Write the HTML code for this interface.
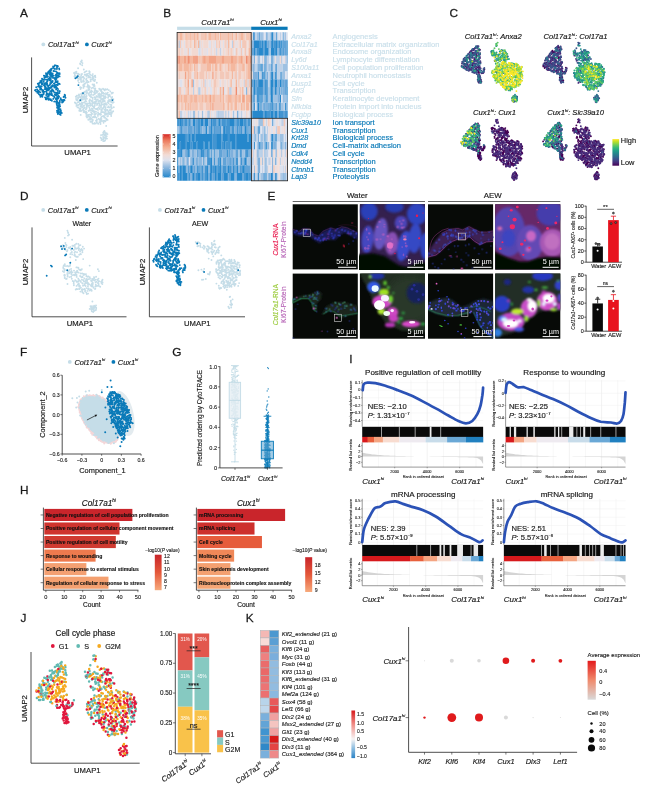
<!DOCTYPE html>
<html lang="en"><head><meta charset="utf-8"><title>Figure</title>
<style>
html,body{margin:0;padding:0;background:#fff;}
svg{display:block;font-family:"Liberation Sans", sans-serif;}
</style></head>
<body>
<svg width="655" height="787" viewBox="0 0 655 787">
<rect width="655" height="787" fill="#fff"/>
<g id="panelA">
<text x="20" y="17.2" font-size="11.8" text-anchor="start" fill="#1a1a1a" stroke="#1a1a1a" stroke-width="0.26" >A</text>
<circle cx="43.3" cy="44.4" r="1.9" fill="#c5dde8" /><text x="47.9" y="47" font-size="7.4" text-anchor="start" fill="#1a1a1a" stroke="#1a1a1a" stroke-width="0.16" font-style="italic" >Col17a1<tspan font-size="55%" dy="-0.82em">hi</tspan></text><circle cx="86.9" cy="44.4" r="1.9" fill="#0a7ab8" /><text x="91.3" y="47" font-size="7.4" text-anchor="start" fill="#1a1a1a" stroke="#1a1a1a" stroke-width="0.16" font-style="italic" >Cux1<tspan font-size="55%" dy="-0.82em">hi</tspan></text>
<path d="M81.8 60.5h0M81.0 61.5h0M80.1 63.4h0M81.7 62.1h0M82.5 63.1h0M80.4 64.3h0M82.2 65.2h0M75.9 71.9h0M76.4 71.8h0M85.5 71.6h0M86.6 71.1h0M89.2 71.2h0M74.0 73.0h0M75.3 72.3h0M78.2 73.6h0M84.5 72.4h0M89.0 73.5h0M89.8 72.0h0M74.8 73.9h0M76.5 73.3h0M78.9 74.2h0M81.3 74.1h0M82.0 74.0h0M84.7 74.7h0M86.1 74.7h0M87.2 74.0h0M90.7 74.9h0M92.8 74.1h0M74.8 75.1h0M75.5 75.7h0M78.1 74.6h0M79.2 74.6h0M81.2 75.5h0M85.7 74.7h0M88.1 75.7h0M89.0 76.1h0M90.3 74.5h0M92.3 75.6h0M95.2 75.8h0M74.5 76.5h0M76.0 76.7h0M77.6 75.8h0M80.0 76.9h0M82.4 77.2h0M83.3 76.6h0M86.4 76.1h0M86.5 75.7h0M89.4 77.3h0M93.0 77.0h0M94.3 76.2h0M76.7 77.9h0M79.5 77.5h0M80.9 78.5h0M81.6 77.6h0M84.1 78.2h0M84.0 78.1h0M88.3 77.4h0M89.8 77.2h0M90.4 77.3h0M92.2 78.1h0M92.8 77.1h0M95.4 77.3h0M78.2 78.8h0M80.1 79.5h0M80.8 78.5h0M83.5 79.9h0M86.4 78.5h0M90.6 79.5h0M91.0 79.7h0M92.6 79.1h0M93.5 78.4h0M95.1 79.8h0M80.4 79.8h0M81.1 80.0h0M83.2 80.4h0M86.1 79.7h0M87.3 80.7h0M90.9 80.0h0M93.4 80.5h0M94.7 81.0h0M83.1 81.8h0M83.9 81.4h0M86.3 82.1h0M88.6 82.0h0M90.7 81.2h0M85.1 83.4h0M87.1 82.8h0M88.5 82.1h0M84.8 83.7h0M87.8 84.9h0M92.6 84.5h0M94.1 84.4h0M88.6 85.8h0M93.8 85.9h0M94.6 86.0h0M88.2 86.3h0M89.6 86.8h0M88.5 88.6h0M88.7 87.6h0M89.8 87.5h0M91.7 88.1h0M92.9 87.6h0M78.1 80.7h0M81.1 81.7h0M81.3 82.0h0M78.9 82.6h0M83.5 84.8h0M83.9 84.7h0M83.2 85.2h0M83.7 84.8h0M84.6 86.4h0M80.2 87.3h0M81.2 87.8h0M83.5 86.7h0M87.2 86.8h0M80.5 89.0h0M83.4 87.9h0M86.4 90.5h0M82.1 93.3h0M81.9 93.6h0M99.2 88.7h0M103.0 88.6h0M89.4 89.7h0M94.3 88.5h0M95.3 88.5h0M99.7 89.6h0M100.9 89.3h0M103.2 89.3h0M105.4 89.2h0M106.7 89.6h0M107.3 89.2h0M88.2 90.0h0M91.4 90.4h0M94.5 91.3h0M95.1 90.3h0M96.4 91.2h0M97.8 91.3h0M101.2 89.8h0M101.4 91.1h0M104.5 89.7h0M104.7 90.4h0M108.8 90.1h0M85.0 91.7h0M86.4 91.7h0M90.8 91.4h0M92.1 91.4h0M96.1 90.8h0M97.8 91.2h0M100.7 90.7h0M103.0 92.6h0M110.3 91.4h0M82.9 93.9h0M83.6 93.6h0M84.2 92.2h0M87.3 92.3h0M88.6 93.7h0M89.7 92.2h0M91.3 92.8h0M94.1 92.5h0M94.9 92.6h0M97.0 92.3h0M99.4 93.5h0M101.9 91.9h0M101.8 93.3h0M104.2 93.8h0M105.9 93.1h0M107.8 92.6h0M111.6 93.0h0M112.9 92.7h0M78.6 95.2h0M79.0 94.5h0M81.1 93.9h0M82.8 94.3h0M86.5 93.7h0M88.9 93.5h0M93.1 95.0h0M94.5 94.3h0M95.7 93.2h0M98.2 94.1h0M99.5 94.3h0M101.1 94.2h0M100.7 94.6h0M103.1 93.5h0M103.9 93.8h0M106.0 94.4h0M106.7 93.6h0M108.9 95.1h0M111.8 93.6h0M76.8 95.7h0M79.4 95.0h0M81.5 96.1h0M81.8 95.0h0M84.4 95.7h0M84.8 94.8h0M88.8 94.8h0M90.0 95.3h0M91.2 94.8h0M96.8 96.3h0M98.7 95.9h0M100.3 94.4h0M100.9 96.3h0M101.5 95.8h0M103.0 95.8h0M105.1 96.3h0M107.9 94.7h0M109.6 94.7h0M75.8 96.8h0M80.5 97.6h0M80.9 97.4h0M83.6 96.5h0M85.0 96.7h0M86.6 96.0h0M89.9 96.1h0M90.8 96.9h0M96.3 96.2h0M97.6 96.8h0M99.1 95.8h0M100.2 97.3h0M100.7 97.0h0M104.0 96.3h0M104.2 96.8h0M108.4 96.3h0M110.1 96.3h0M112.2 96.9h0M76.9 96.9h0M78.4 97.7h0M79.3 96.9h0M80.6 97.3h0M82.7 97.9h0M82.8 96.9h0M84.4 98.2h0M86.3 97.9h0M86.9 98.7h0M91.6 97.1h0M92.4 97.6h0M94.4 97.3h0M95.8 97.6h0M99.3 97.6h0M100.9 97.9h0M102.7 98.6h0M103.4 98.2h0M105.9 97.2h0M108.1 97.7h0M111.4 97.8h0M111.7 98.2h0M76.1 99.0h0M76.7 99.4h0M78.1 98.6h0M81.3 98.8h0M83.0 99.6h0M84.9 98.9h0M89.9 99.5h0M92.7 98.9h0M95.0 99.2h0M97.8 99.4h0M97.8 99.5h0M101.1 99.2h0M102.2 99.4h0M103.6 99.1h0M103.8 100.2h0M105.0 98.4h0M109.5 100.0h0M111.2 99.7h0M113.4 99.1h0M76.5 100.0h0M77.3 100.2h0M79.2 101.3h0M81.6 99.6h0M85.4 100.0h0M89.4 101.3h0M91.3 100.7h0M92.6 100.9h0M96.0 99.5h0M96.4 100.9h0M98.6 101.2h0M99.7 100.7h0M100.3 101.3h0M103.0 100.5h0M104.4 101.2h0M104.9 101.1h0M108.7 100.2h0M110.2 100.7h0M111.8 101.4h0M75.2 102.6h0M77.5 102.4h0M80.0 100.8h0M80.7 100.9h0M82.9 102.7h0M85.1 101.8h0M86.3 101.4h0M89.3 100.7h0M92.1 101.7h0M92.9 102.4h0M94.3 102.5h0M95.2 101.7h0M96.6 101.1h0M100.6 100.8h0M102.5 101.8h0M103.7 100.7h0M103.8 101.5h0M108.3 100.8h0M109.5 101.3h0M110.6 101.5h0M110.8 101.2h0M112.7 102.7h0M74.9 102.4h0M75.5 103.4h0M78.6 102.1h0M81.4 103.6h0M81.8 102.6h0M84.4 102.1h0M86.6 103.7h0M87.9 103.5h0M89.7 102.8h0M90.4 103.4h0M92.5 103.4h0M93.2 102.7h0M94.7 103.7h0M95.8 102.2h0M98.2 103.3h0M99.6 103.1h0M101.5 102.6h0M101.6 103.2h0M104.5 103.7h0M105.8 103.3h0M107.7 102.3h0M107.9 102.5h0M111.5 102.4h0M113.6 102.3h0M76.6 104.1h0M78.3 105.0h0M79.8 103.5h0M81.7 103.9h0M82.7 103.2h0M85.2 103.8h0M89.0 103.4h0M90.6 103.6h0M90.7 104.8h0M92.4 105.1h0M95.2 103.8h0M95.1 103.3h0M97.1 103.8h0M99.5 104.9h0M99.4 103.5h0M103.6 104.5h0M105.4 104.4h0M106.3 104.1h0M108.5 103.3h0M110.1 104.6h0M111.4 105.0h0M76.4 105.9h0M76.9 105.6h0M79.9 104.6h0M81.4 105.2h0M82.5 104.9h0M84.1 105.7h0M86.5 105.7h0M87.6 105.3h0M90.0 105.3h0M90.6 105.3h0M92.4 105.4h0M94.3 106.4h0M97.1 104.8h0M97.0 105.1h0M99.3 105.7h0M101.0 105.2h0M102.1 104.5h0M104.5 105.4h0M104.8 105.0h0M106.8 104.7h0M111.0 106.4h0M77.5 107.4h0M78.4 107.4h0M80.5 106.6h0M81.3 106.8h0M82.5 107.5h0M86.9 107.1h0M88.3 105.7h0M90.5 105.8h0M92.8 106.2h0M94.8 105.8h0M98.8 107.5h0M100.8 105.7h0M101.0 106.1h0M104.0 106.5h0M105.1 107.3h0M108.6 106.4h0M111.0 106.9h0M79.4 108.7h0M80.6 108.8h0M82.8 107.0h0M84.8 107.6h0M86.4 108.4h0M89.3 107.4h0M92.5 108.8h0M93.9 107.5h0M94.1 107.7h0M97.5 108.4h0M101.0 107.3h0M102.8 108.5h0M103.1 107.9h0M105.5 108.7h0M105.8 107.1h0M107.9 107.2h0M109.3 107.4h0M111.8 108.2h0M111.7 107.3h0M113.8 107.2h0M80.0 109.2h0M80.5 109.5h0M83.9 108.5h0M86.6 108.6h0M89.9 108.9h0M91.9 108.5h0M95.4 108.9h0M96.5 109.0h0M98.0 109.9h0M99.9 109.0h0M101.8 109.2h0M104.5 109.7h0M105.9 109.8h0M107.5 110.0h0M109.8 110.2h0M79.3 110.8h0M81.3 110.9h0M82.9 109.9h0M84.0 110.8h0M85.9 109.5h0M88.8 111.0h0M90.1 110.1h0M91.2 110.2h0M93.0 110.2h0M92.8 111.3h0M94.8 111.4h0M101.4 110.5h0M101.8 110.2h0M105.8 111.0h0M105.9 110.0h0M108.3 111.4h0M110.3 109.5h0M110.8 110.2h0M113.2 111.3h0M80.4 111.1h0M85.1 112.4h0M86.1 111.7h0M86.8 112.7h0M88.6 110.8h0M93.5 110.8h0M94.7 111.6h0M96.0 111.8h0M98.0 112.4h0M101.0 112.1h0M102.3 112.1h0M108.3 112.3h0M110.6 112.5h0M112.4 111.9h0M83.6 112.0h0M85.1 112.3h0M91.0 112.1h0M91.6 113.2h0M94.1 112.4h0M96.0 113.8h0M98.1 113.0h0M100.5 113.8h0M102.9 112.0h0M104.6 112.3h0M104.2 112.7h0M106.1 113.3h0M107.6 113.8h0M109.4 112.7h0M111.7 113.6h0M111.6 112.3h0M86.1 113.7h0M88.1 114.9h0M89.2 114.6h0M90.9 114.7h0M92.3 113.9h0M94.4 114.3h0M95.3 114.3h0M98.7 114.4h0M99.5 114.0h0M101.0 114.3h0M105.0 114.5h0M106.2 114.6h0M108.0 114.0h0M109.6 114.1h0M109.8 113.6h0M110.9 114.6h0M86.7 115.2h0M87.3 115.3h0M88.3 116.1h0M91.1 115.8h0M94.9 116.2h0M98.0 114.7h0M100.4 114.7h0M100.6 114.7h0M103.3 115.9h0M104.5 116.1h0M105.2 114.6h0M108.0 116.0h0M86.4 116.6h0M86.5 115.8h0M88.2 116.5h0M89.1 116.5h0M90.7 117.5h0M93.3 116.7h0M95.2 116.8h0M97.9 115.9h0M101.6 116.7h0M102.9 116.1h0M104.2 117.5h0M107.4 116.4h0M111.2 116.0h0M87.0 117.6h0M87.1 117.6h0M89.4 119.0h0M90.1 117.9h0M92.9 117.4h0M94.5 117.2h0M94.6 117.3h0M96.5 117.7h0M98.8 118.7h0M100.8 118.2h0M101.5 119.0h0M105.4 117.9h0M89.3 119.6h0M90.8 118.6h0M91.5 118.8h0M92.3 119.6h0M99.5 119.8h0M101.0 119.9h0M106.2 120.0h0M106.6 118.9h0M88.3 119.8h0M90.2 119.6h0M91.6 121.5h0M92.9 119.9h0M96.7 121.0h0M97.0 119.8h0M101.1 120.6h0M103.2 120.9h0M104.2 120.6h0M105.4 121.3h0M107.6 119.9h0M90.4 121.8h0M91.8 121.9h0M92.5 121.1h0M96.0 120.8h0M99.4 122.1h0M100.6 121.5h0M102.2 121.1h0M104.7 121.1h0M92.6 123.5h0M94.5 123.2h0M94.6 123.1h0M96.9 122.5h0M100.5 122.8h0M103.6 122.8h0M94.1 123.7h0M95.7 123.5h0M98.2 123.8h0M100.5 124.0h0M103.2 132.7h0M103.7 131.7h0M105.0 132.3h0M103.9 133.9h0M105.7 133.4h0M106.7 133.2h0M101.0 135.1h0M102.9 134.8h0M104.2 134.4h0M105.8 134.2h0M107.5 134.1h0M102.3 134.9h0M104.6 135.4h0M105.6 135.7h0M100.8 137.7h0M103.1 137.0h0M103.6 137.4h0M106.0 137.1h0M106.7 136.3h0M100.7 137.8h0M101.7 138.6h0M103.8 138.8h0M104.2 137.4h0M105.8 138.4h0M107.0 138.6h0M101.6 138.6h0M103.1 139.6h0M105.8 138.8h0M101.4 140.1h0M103.2 141.1h0M105.1 140.5h0M104.2 141.1h0M78.1 68.3h0M83.8 69.5h0M106.2 125.9h0M104.4 130.9h0M80.7 114.9h0M96.8 82.8h0" fill="none" stroke="#c5dde8" stroke-width="1.9" stroke-linecap="round"/>
<path d="M55.0 65.3h0M54.1 66.5h0M56.5 65.8h0M57.5 65.9h0M57.9 66.3h0M53.1 66.5h0M57.1 67.1h0M57.0 68.0h0M51.7 68.7h0M53.1 67.9h0M54.3 68.8h0M56.6 68.1h0M56.9 69.0h0M59.1 68.5h0M49.9 70.3h0M51.0 68.9h0M55.0 69.0h0M59.3 69.4h0M49.1 71.2h0M49.5 70.6h0M51.2 70.1h0M54.4 71.1h0M48.7 72.2h0M49.2 72.2h0M50.2 71.3h0M50.8 71.9h0M53.5 71.0h0M56.0 71.4h0M48.0 73.5h0M48.0 72.3h0M49.9 73.2h0M51.3 73.1h0M52.7 73.5h0M56.8 72.1h0M57.9 73.0h0M59.6 73.2h0M46.0 73.3h0M46.7 73.4h0M49.7 74.6h0M50.4 74.4h0M51.8 73.6h0M52.2 74.3h0M55.9 74.6h0M56.6 73.9h0M57.9 73.5h0M58.3 73.7h0M43.9 75.7h0M46.1 74.6h0M47.1 74.7h0M50.5 75.3h0M51.5 75.1h0M52.5 74.7h0M53.8 75.6h0M56.2 74.6h0M57.6 75.5h0M57.9 75.5h0M59.7 74.1h0M44.7 76.0h0M45.4 76.4h0M46.9 76.3h0M47.5 76.1h0M51.0 75.7h0M52.5 76.3h0M52.1 76.7h0M55.9 75.4h0M56.1 76.8h0M58.6 76.4h0M58.7 76.0h0M45.0 76.8h0M45.4 77.4h0M47.1 77.0h0M47.9 76.6h0M49.7 77.2h0M51.4 76.7h0M53.0 77.9h0M54.0 77.7h0M55.8 77.7h0M56.7 77.8h0M57.9 77.3h0M59.6 76.4h0M42.0 78.7h0M44.4 77.7h0M48.6 78.8h0M50.7 78.5h0M54.8 78.7h0M54.7 78.7h0M56.4 79.0h0M42.4 78.9h0M44.0 80.0h0M44.1 79.5h0M46.9 79.6h0M49.1 78.8h0M49.5 79.2h0M50.8 79.3h0M55.2 79.2h0M55.4 79.9h0M40.2 81.1h0M43.0 79.7h0M45.9 79.6h0M47.5 79.6h0M49.4 80.3h0M51.1 80.9h0M52.7 80.9h0M56.0 81.0h0M41.4 80.5h0M41.9 82.0h0M46.6 82.2h0M47.5 81.0h0M50.6 80.8h0M51.9 81.8h0M55.5 82.0h0M57.7 81.3h0M39.6 82.8h0M40.9 82.4h0M41.6 83.3h0M43.7 81.6h0M45.4 83.2h0M47.0 83.0h0M51.2 81.8h0M51.5 82.7h0M52.5 82.1h0M54.7 83.1h0M55.7 81.7h0M56.9 82.1h0M39.0 83.2h0M38.9 84.4h0M41.8 84.4h0M42.3 83.4h0M44.1 83.1h0M45.1 83.4h0M45.5 83.6h0M50.1 83.1h0M50.8 83.5h0M53.9 83.6h0M54.5 83.9h0M57.9 83.1h0M37.8 83.7h0M38.8 84.8h0M42.1 84.3h0M43.7 85.1h0M44.6 83.9h0M46.0 84.3h0M47.1 83.8h0M49.0 85.4h0M49.9 84.9h0M52.6 85.1h0M55.2 84.9h0M56.7 84.7h0M57.7 85.3h0M59.2 83.8h0M59.8 84.1h0M38.8 85.8h0M40.4 86.1h0M41.7 86.4h0M44.2 85.2h0M45.4 86.3h0M47.2 85.0h0M48.1 86.0h0M51.8 85.9h0M52.4 86.4h0M54.0 85.9h0M55.5 85.5h0M55.2 85.6h0M57.6 84.8h0M57.8 85.1h0M36.2 87.3h0M38.0 86.5h0M39.6 87.5h0M41.1 86.5h0M44.7 86.7h0M45.6 86.8h0M48.1 86.8h0M49.5 87.6h0M51.1 86.6h0M51.1 87.2h0M54.6 86.7h0M55.4 87.3h0M56.1 86.7h0M40.5 87.9h0M45.6 87.3h0M46.0 87.7h0M48.0 88.3h0M48.9 88.1h0M49.3 88.3h0M51.3 87.7h0M54.4 87.5h0M56.2 88.7h0M57.0 87.9h0M37.2 89.4h0M40.3 88.3h0M41.2 88.4h0M44.8 89.1h0M45.2 88.4h0M45.9 89.4h0M48.3 88.7h0M49.3 88.3h0M49.7 88.5h0M52.6 89.5h0M56.6 88.6h0M58.1 89.1h0M35.4 90.3h0M35.5 90.0h0M38.0 90.4h0M38.3 90.8h0M40.1 89.6h0M40.4 89.5h0M42.1 90.0h0M43.1 90.3h0M46.8 90.5h0M46.9 89.3h0M47.9 90.1h0M49.0 89.5h0M51.6 90.3h0M56.1 89.5h0M57.9 90.9h0M57.8 90.7h0M35.0 90.3h0M37.5 91.7h0M38.8 91.6h0M42.4 91.1h0M43.1 90.8h0M44.3 91.7h0M46.0 91.6h0M46.5 92.0h0M48.0 90.4h0M50.2 91.2h0M51.8 91.1h0M53.5 91.0h0M59.8 91.3h0M59.6 91.3h0M36.2 91.4h0M38.0 91.8h0M38.1 92.6h0M39.3 91.8h0M43.1 92.8h0M44.1 92.1h0M46.5 91.4h0M49.6 93.0h0M50.3 91.5h0M51.6 91.8h0M55.6 92.6h0M57.7 92.7h0M37.4 92.7h0M38.8 94.0h0M40.4 92.4h0M43.7 93.2h0M43.9 92.5h0M47.2 93.4h0M49.3 93.9h0M50.3 93.9h0M51.7 93.4h0M54.3 92.5h0M56.1 92.8h0M57.0 94.0h0M58.1 93.1h0M59.4 93.0h0M39.4 94.6h0M40.1 95.2h0M40.6 95.2h0M41.7 94.8h0M43.7 94.1h0M46.7 93.6h0M48.0 94.5h0M48.7 93.9h0M51.4 95.0h0M54.9 95.0h0M55.7 94.5h0M56.9 94.4h0M57.7 94.0h0M39.6 94.6h0M42.1 96.1h0M42.0 95.5h0M43.3 94.6h0M46.2 95.0h0M48.6 95.0h0M49.1 95.1h0M49.5 94.9h0M52.1 94.9h0M54.8 94.8h0M54.8 94.6h0M56.4 95.6h0M58.4 95.7h0M58.6 95.9h0M40.4 96.8h0M41.7 96.3h0M47.7 96.3h0M48.3 96.3h0M48.9 95.9h0M52.9 95.8h0M54.3 96.8h0M59.1 96.8h0M42.4 96.8h0M45.1 97.4h0M45.9 98.4h0M47.0 96.9h0M48.9 98.3h0M54.3 97.6h0M56.1 98.1h0M57.4 97.0h0M58.4 97.4h0M60.7 98.2h0M46.2 99.4h0M47.2 98.5h0M48.9 98.1h0M50.7 99.3h0M53.2 98.9h0M55.8 99.0h0M57.4 98.9h0M58.2 98.4h0M60.8 98.6h0M45.8 99.2h0M48.5 99.7h0M49.4 99.4h0M50.8 99.5h0M56.1 99.0h0M60.6 99.4h0M61.5 99.7h0M50.4 100.0h0M51.9 100.8h0M54.9 101.4h0M56.8 100.4h0M57.2 101.5h0M59.7 100.9h0M54.2 101.6h0M56.2 102.0h0M57.0 101.6h0M59.9 102.1h0M57.7 102.4h0M58.6 103.3h0M57.0 102.9h0M56.6 103.7h0M58.6 103.2h0M59.2 103.3h0M59.7 104.2h0M57.9 104.9h0M56.9 105.1h0M58.7 105.6h0M59.3 105.1h0M60.0 105.9h0M57.2 105.9h0M58.5 106.7h0M59.1 106.9h0M60.1 106.4h0M58.4 107.5h0M59.0 107.7h0M57.1 107.7h0M58.3 108.3h0M58.2 109.3h0M59.6 109.3h0M60.5 109.2h0M57.0 110.7h0M58.8 109.7h0M60.2 109.8h0M57.8 111.3h0M58.8 111.7h0M60.8 111.1h0M60.9 110.7h0M57.1 112.0h0M58.9 112.2h0M59.9 112.1h0M60.9 111.8h0M61.3 112.6h0M57.4 112.6h0M58.4 113.0h0M60.6 112.9h0M61.8 113.0h0M57.9 114.0h0M58.5 113.2h0M60.2 114.1h0M60.2 114.1h0M59.8 114.2h0M60.6 114.9h0M64.7 94.6h0M65.0 95.2h0M63.8 96.7h0M65.2 96.0h0M63.6 97.0h0M63.9 96.8h0M65.5 97.8h0M64.1 99.6h0M62.4 100.1h0M63.2 100.2h0M64.5 100.3h0M62.0 101.0h0M63.2 101.7h0M63.6 100.8h0M62.1 102.5h0" fill="none" stroke="#0a7ab8" stroke-width="1.9" stroke-linecap="round"/>
<path d="M76.9 77.2h0M78.4 85.1h0M83.0 93.1h0M80.3 100.1h0M112.5 100.1h0M75.4 78.2h0M77.8 76.3h0" fill="none" stroke="#0a7ab8" stroke-width="1.9" stroke-linecap="round"/>
<path d="M31.6 57.4V146H117.6" fill="none" stroke="#222" stroke-width="0.8"/>
<text x="28.2" y="100" font-size="7.7" text-anchor="middle" fill="#1a1a1a" stroke="#1a1a1a" stroke-width="0.17" transform="rotate(-90 28.2 100)" >UMAP2</text>
<text x="77.6" y="155.4" font-size="7.7" text-anchor="middle" fill="#1a1a1a" stroke="#1a1a1a" stroke-width="0.17" >UMAP1</text>
</g>
<g id="panelB">
<text x="163.2" y="17.3" font-size="11.8" text-anchor="start" fill="#1a1a1a" stroke="#1a1a1a" stroke-width="0.26" >B</text>
<text x="217.5" y="25" font-size="7.8" text-anchor="middle" fill="#1a1a1a" stroke="#1a1a1a" stroke-width="0.17" font-style="italic" >Col17a1<tspan font-size="55%" dy="-0.82em">hi</tspan></text>
<text x="271" y="25" font-size="7.8" text-anchor="middle" fill="#1a1a1a" stroke="#1a1a1a" stroke-width="0.17" font-style="italic" >Cux1<tspan font-size="55%" dy="-0.82em">hi</tspan></text>
<rect x="177.1" y="26.7" width="74.1" height="3.2" fill="#c5dde8" />
<rect x="251.2" y="26.7" width="36.4" height="3.2" fill="#0a7ab8" />
<path d="M272.0 36.3h1.45M253.8 44.1h1.45M255.1 44.1h1.45M256.4 44.1h1.45M257.7 44.1h1.45M261.6 44.1h1.45M264.2 44.1h1.45M265.5 44.1h1.45M272.0 44.1h1.45M275.9 44.1h1.45M278.5 44.1h1.45M281.1 44.1h1.45M253.8 51.9h1.45M259.0 51.9h1.45M260.3 51.9h1.45M261.6 51.9h1.45M264.2 51.9h1.45M265.5 51.9h1.45M266.8 51.9h1.45M270.7 51.9h1.45M272.0 51.9h1.45M273.3 51.9h1.45M275.9 51.9h1.45M282.4 51.9h1.45M260.3 67.5h1.45M264.2 67.5h1.45M264.2 75.4h1.45M272.0 75.4h1.45M253.8 83.2h1.45M259.0 83.2h1.45M260.3 83.2h1.45M261.6 83.2h1.45M270.7 83.2h1.45M272.0 83.2h1.45M274.6 83.2h1.45M275.9 83.2h1.45M279.8 83.2h1.45M253.8 91.0h1.45M256.4 91.0h1.45M270.7 91.0h1.45M274.6 91.0h1.45M260.3 98.8h1.45M270.7 98.8h1.45M279.8 98.8h1.45M257.7 106.6h1.45M260.3 106.6h1.45M285.0 106.6h1.45M252.5 114.4h1.45M253.8 114.4h1.45M255.1 114.4h1.45M256.4 114.4h1.45M257.7 114.4h1.45M259.0 114.4h1.45M260.3 114.4h1.45M261.6 114.4h1.45M264.2 114.4h1.45M265.5 114.4h1.45M270.7 114.4h1.45M272.0 114.4h1.45M274.6 114.4h1.45M275.9 114.4h1.45M278.5 114.4h1.45M179.7 122.2h1.45M192.7 122.2h1.45M194.0 122.2h1.45M200.5 122.2h1.45M201.8 122.2h1.45M204.4 122.2h1.45M205.7 122.2h1.45M207.0 122.2h1.45M210.9 122.2h1.45M218.7 122.2h1.45M225.2 122.2h1.45M229.1 122.2h1.45M230.4 122.2h1.45M231.7 122.2h1.45M233.0 122.2h1.45M239.5 122.2h1.45M240.8 122.2h1.45M242.1 122.2h1.45M205.7 130.0h1.45M210.9 130.0h1.45M223.9 130.0h1.45M244.7 130.0h1.45M177.1 137.8h1.45M178.4 137.8h1.45M179.7 137.8h1.45M181.0 137.8h1.45M182.3 137.8h1.45M183.6 137.8h1.45M186.2 137.8h1.45M188.8 137.8h1.45M191.4 137.8h1.45M192.7 137.8h1.45M195.3 137.8h1.45M196.6 137.8h1.45M197.9 137.8h1.45M199.2 137.8h1.45M200.5 137.8h1.45M201.8 137.8h1.45M203.1 137.8h1.45M204.4 137.8h1.45M205.7 137.8h1.45M207.0 137.8h1.45M208.3 137.8h1.45M209.6 137.8h1.45M210.9 137.8h1.45M216.1 137.8h1.45M217.4 137.8h1.45M218.7 137.8h1.45M220.0 137.8h1.45M222.6 137.8h1.45M223.9 137.8h1.45M225.2 137.8h1.45M226.5 137.8h1.45M229.1 137.8h1.45M230.4 137.8h1.45M231.7 137.8h1.45M233.0 137.8h1.45M234.3 137.8h1.45M236.9 137.8h1.45M238.2 137.8h1.45M239.5 137.8h1.45M240.8 137.8h1.45M242.1 137.8h1.45M243.4 137.8h1.45M244.7 137.8h1.45M246.0 137.8h1.45M248.6 137.8h1.45M249.9 137.8h1.45M272.0 137.8h1.45M177.1 145.7h1.45M178.4 145.7h1.45M181.0 145.7h1.45M182.3 145.7h1.45M183.6 145.7h1.45M186.2 145.7h1.45M187.5 145.7h1.45M188.8 145.7h1.45M192.7 145.7h1.45M194.0 145.7h1.45M195.3 145.7h1.45M197.9 145.7h1.45M199.2 145.7h1.45M200.5 145.7h1.45M201.8 145.7h1.45M204.4 145.7h1.45M205.7 145.7h1.45M207.0 145.7h1.45M209.6 145.7h1.45M210.9 145.7h1.45M216.1 145.7h1.45M217.4 145.7h1.45M218.7 145.7h1.45M220.0 145.7h1.45M223.9 145.7h1.45M229.1 145.7h1.45M231.7 145.7h1.45M233.0 145.7h1.45M234.3 145.7h1.45M236.9 145.7h1.45M238.2 145.7h1.45M239.5 145.7h1.45M240.8 145.7h1.45M242.1 145.7h1.45M243.4 145.7h1.45M244.7 145.7h1.45M246.0 145.7h1.45M247.3 145.7h1.45M248.6 145.7h1.45M249.9 145.7h1.45M265.5 145.7h1.45M181.0 153.5h1.45M187.5 153.5h1.45M200.5 153.5h1.45M203.1 153.5h1.45M208.3 153.5h1.45M226.5 153.5h1.45M210.9 161.3h1.45M213.5 161.3h1.45M217.4 161.3h1.45M220.0 161.3h1.45M244.7 161.3h1.45M177.1 169.1h1.45M179.7 169.1h1.45M182.3 169.1h1.45M183.6 169.1h1.45M190.1 169.1h1.45M191.4 169.1h1.45M207.0 169.1h1.45M210.9 169.1h1.45M214.8 169.1h1.45M217.4 169.1h1.45M220.0 169.1h1.45M227.8 169.1h1.45M233.0 169.1h1.45M236.9 169.1h1.45M242.1 169.1h1.45M243.4 169.1h1.45M179.7 176.9h1.45M182.3 176.9h1.45M183.6 176.9h1.45M184.9 176.9h1.45M186.2 176.9h1.45M192.7 176.9h1.45M197.9 176.9h1.45M199.2 176.9h1.45M204.4 176.9h1.45M207.0 176.9h1.45M209.6 176.9h1.45M214.8 176.9h1.45M217.4 176.9h1.45M218.7 176.9h1.45M220.0 176.9h1.45M223.9 176.9h1.45M225.2 176.9h1.45M226.5 176.9h1.45M230.4 176.9h1.45M231.7 176.9h1.45M233.0 176.9h1.45M236.9 176.9h1.45M238.2 176.9h1.45M239.5 176.9h1.45M240.8 176.9h1.45M243.4 176.9h1.45M246.0 176.9h1.45M247.3 176.9h1.45M270.7 176.9h1.45" stroke="#2688cc" stroke-width="7.91" fill="none"/>
<path d="M252.5 36.3h1.45M259.0 44.1h1.45M260.3 44.1h1.45M270.7 44.1h1.45M273.3 44.1h1.45M274.6 44.1h1.45M277.2 44.1h1.45M286.3 44.1h1.45M256.4 51.9h1.45M257.7 51.9h1.45M274.6 51.9h1.45M279.8 51.9h1.45M286.3 51.9h1.45M264.2 59.7h1.45M257.7 75.4h1.45M261.6 75.4h1.45M270.7 75.4h1.45M274.6 75.4h1.45M257.7 83.2h1.45M264.2 83.2h1.45M265.5 83.2h1.45M282.4 83.2h1.45M257.7 91.0h1.45M259.0 91.0h1.45M260.3 91.0h1.45M261.6 91.0h1.45M264.2 91.0h1.45M265.5 91.0h1.45M272.0 91.0h1.45M278.5 91.0h1.45M286.3 91.0h1.45M256.4 98.8h1.45M257.7 98.8h1.45M265.5 98.8h1.45M272.0 98.8h1.45M253.8 106.6h1.45M264.2 106.6h1.45M269.4 106.6h1.45M272.0 106.6h1.45M278.5 106.6h1.45M251.2 114.4h1.45M266.8 114.4h1.45M268.1 114.4h1.45M269.4 114.4h1.45M273.3 114.4h1.45M279.8 114.4h1.45M281.1 114.4h1.45M282.4 114.4h1.45M285.0 114.4h1.45M286.3 114.4h1.45M177.1 122.2h1.45M178.4 122.2h1.45M181.0 122.2h1.45M182.3 122.2h1.45M184.9 122.2h1.45M186.2 122.2h1.45M188.8 122.2h1.45M197.9 122.2h1.45M199.2 122.2h1.45M212.2 122.2h1.45M213.5 122.2h1.45M214.8 122.2h1.45M217.4 122.2h1.45M221.3 122.2h1.45M222.6 122.2h1.45M223.9 122.2h1.45M226.5 122.2h1.45M227.8 122.2h1.45M234.3 122.2h1.45M236.9 122.2h1.45M238.2 122.2h1.45M243.4 122.2h1.45M244.7 122.2h1.45M247.3 122.2h1.45M248.6 122.2h1.45M181.0 130.0h1.45M194.0 130.0h1.45M197.9 130.0h1.45M199.2 130.0h1.45M213.5 130.0h1.45M220.0 130.0h1.45M222.6 130.0h1.45M225.2 130.0h1.45M226.5 130.0h1.45M227.8 130.0h1.45M229.1 130.0h1.45M231.7 130.0h1.45M233.0 130.0h1.45M236.9 130.0h1.45M240.8 130.0h1.45M247.3 130.0h1.45M184.9 137.8h1.45M187.5 137.8h1.45M190.1 137.8h1.45M194.0 137.8h1.45M212.2 137.8h1.45M213.5 137.8h1.45M214.8 137.8h1.45M221.3 137.8h1.45M227.8 137.8h1.45M235.6 137.8h1.45M247.3 137.8h1.45M264.2 137.8h1.45M179.7 145.7h1.45M184.9 145.7h1.45M190.1 145.7h1.45M191.4 145.7h1.45M196.6 145.7h1.45M203.1 145.7h1.45M208.3 145.7h1.45M212.2 145.7h1.45M213.5 145.7h1.45M214.8 145.7h1.45M221.3 145.7h1.45M222.6 145.7h1.45M225.2 145.7h1.45M226.5 145.7h1.45M227.8 145.7h1.45M230.4 145.7h1.45M235.6 145.7h1.45M253.8 145.7h1.45M259.0 145.7h1.45M270.7 145.7h1.45M272.0 145.7h1.45M177.1 153.5h1.45M178.4 153.5h1.45M179.7 153.5h1.45M186.2 153.5h1.45M201.8 153.5h1.45M207.0 153.5h1.45M213.5 153.5h1.45M229.1 153.5h1.45M239.5 153.5h1.45M246.0 153.5h1.45M247.3 153.5h1.45M177.1 161.3h1.45M182.3 161.3h1.45M192.7 161.3h1.45M203.1 161.3h1.45M207.0 161.3h1.45M208.3 161.3h1.45M209.6 161.3h1.45M233.0 161.3h1.45M235.6 161.3h1.45M236.9 161.3h1.45M240.8 161.3h1.45M243.4 161.3h1.45M181.0 169.1h1.45M184.9 169.1h1.45M187.5 169.1h1.45M196.6 169.1h1.45M199.2 169.1h1.45M201.8 169.1h1.45M204.4 169.1h1.45M205.7 169.1h1.45M209.6 169.1h1.45M212.2 169.1h1.45M213.5 169.1h1.45M216.1 169.1h1.45M218.7 169.1h1.45M222.6 169.1h1.45M223.9 169.1h1.45M225.2 169.1h1.45M229.1 169.1h1.45M230.4 169.1h1.45M234.3 169.1h1.45M239.5 169.1h1.45M177.1 176.9h1.45M178.4 176.9h1.45M181.0 176.9h1.45M188.8 176.9h1.45M191.4 176.9h1.45M195.3 176.9h1.45M196.6 176.9h1.45M201.8 176.9h1.45M205.7 176.9h1.45M210.9 176.9h1.45M216.1 176.9h1.45M229.1 176.9h1.45M244.7 176.9h1.45M248.6 176.9h1.45M249.9 176.9h1.45M253.8 176.9h1.45M257.7 176.9h1.45M264.2 176.9h1.45M272.0 176.9h1.45M274.6 176.9h1.45" stroke="#4395d1" stroke-width="7.91" fill="none"/>
<path d="M253.8 36.3h1.45M259.0 36.3h1.45M270.7 36.3h1.45M275.9 36.3h1.45M282.4 36.3h1.45M251.2 44.1h1.45M262.9 44.1h1.45M268.1 44.1h1.45M279.8 44.1h1.45M282.4 44.1h1.45M283.7 44.1h1.45M285.0 44.1h1.45M251.2 51.9h1.45M252.5 51.9h1.45M255.1 51.9h1.45M262.9 51.9h1.45M268.1 51.9h1.45M278.5 51.9h1.45M281.1 51.9h1.45M285.0 51.9h1.45M261.6 67.5h1.45M270.7 67.5h1.45M275.9 67.5h1.45M262.9 75.4h1.45M275.9 75.4h1.45M281.1 75.4h1.45M251.2 83.2h1.45M252.5 83.2h1.45M255.1 83.2h1.45M256.4 83.2h1.45M266.8 83.2h1.45M269.4 83.2h1.45M273.3 83.2h1.45M281.1 83.2h1.45M285.0 83.2h1.45M286.3 83.2h1.45M252.5 91.0h1.45M255.1 91.0h1.45M266.8 91.0h1.45M269.4 91.0h1.45M275.9 91.0h1.45M281.1 91.0h1.45M285.0 91.0h1.45M252.5 98.8h1.45M253.8 98.8h1.45M259.0 98.8h1.45M261.6 98.8h1.45M264.2 98.8h1.45M266.8 98.8h1.45M286.3 98.8h1.45M256.4 106.6h1.45M268.1 106.6h1.45M270.7 106.6h1.45M273.3 106.6h1.45M275.9 106.6h1.45M279.8 106.6h1.45M262.9 114.4h1.45M277.2 114.4h1.45M283.7 114.4h1.45M183.6 122.2h1.45M187.5 122.2h1.45M190.1 122.2h1.45M195.3 122.2h1.45M196.6 122.2h1.45M203.1 122.2h1.45M216.1 122.2h1.45M220.0 122.2h1.45M235.6 122.2h1.45M246.0 122.2h1.45M249.9 122.2h1.45M272.0 122.2h1.45M179.7 130.0h1.45M182.3 130.0h1.45M187.5 130.0h1.45M188.8 130.0h1.45M190.1 130.0h1.45M191.4 130.0h1.45M195.3 130.0h1.45M196.6 130.0h1.45M200.5 130.0h1.45M204.4 130.0h1.45M208.3 130.0h1.45M209.6 130.0h1.45M212.2 130.0h1.45M214.8 130.0h1.45M216.1 130.0h1.45M217.4 130.0h1.45M218.7 130.0h1.45M230.4 130.0h1.45M238.2 130.0h1.45M239.5 130.0h1.45M243.4 130.0h1.45M246.0 130.0h1.45M249.9 130.0h1.45M257.7 130.0h1.45M259.0 130.0h1.45M264.2 130.0h1.45M270.7 137.8h1.45M274.6 137.8h1.45M275.9 137.8h1.45M260.3 145.7h1.45M264.2 145.7h1.45M281.1 145.7h1.45M188.8 153.5h1.45M196.6 153.5h1.45M199.2 153.5h1.45M204.4 153.5h1.45M210.9 153.5h1.45M218.7 153.5h1.45M220.0 153.5h1.45M221.3 153.5h1.45M225.2 153.5h1.45M235.6 153.5h1.45M236.9 153.5h1.45M240.8 153.5h1.45M244.7 153.5h1.45M191.4 161.3h1.45M199.2 161.3h1.45M218.7 161.3h1.45M222.6 161.3h1.45M223.9 161.3h1.45M225.2 161.3h1.45M229.1 161.3h1.45M230.4 161.3h1.45M246.0 161.3h1.45M178.4 169.1h1.45M194.0 169.1h1.45M197.9 169.1h1.45M200.5 169.1h1.45M221.3 169.1h1.45M226.5 169.1h1.45M235.6 169.1h1.45M240.8 169.1h1.45M244.7 169.1h1.45M246.0 169.1h1.45M247.3 169.1h1.45M248.6 169.1h1.45M187.5 176.9h1.45M194.0 176.9h1.45M200.5 176.9h1.45M203.1 176.9h1.45M208.3 176.9h1.45M212.2 176.9h1.45M213.5 176.9h1.45M221.3 176.9h1.45M222.6 176.9h1.45M234.3 176.9h1.45M242.1 176.9h1.45M265.5 176.9h1.45M275.9 176.9h1.45" stroke="#61a3d7" stroke-width="7.91" fill="none"/>
<path d="M265.5 36.3h1.45M252.5 44.1h1.45M266.8 44.1h1.45M269.4 44.1h1.45M277.2 51.9h1.45M283.7 51.9h1.45M253.8 59.7h1.45M265.5 59.7h1.45M270.7 59.7h1.45M272.0 59.7h1.45M286.3 59.7h1.45M252.5 67.5h1.45M257.7 67.5h1.45M259.0 67.5h1.45M265.5 67.5h1.45M272.0 67.5h1.45M274.6 67.5h1.45M252.5 75.4h1.45M253.8 75.4h1.45M255.1 75.4h1.45M256.4 75.4h1.45M266.8 75.4h1.45M269.4 75.4h1.45M279.8 75.4h1.45M262.9 83.2h1.45M277.2 83.2h1.45M278.5 83.2h1.45M283.7 83.2h1.45M246.0 91.0h1.45M262.9 91.0h1.45M273.3 91.0h1.45M277.2 91.0h1.45M282.4 91.0h1.45M283.7 91.0h1.45M251.2 98.8h1.45M269.4 98.8h1.45M277.2 98.8h1.45M278.5 98.8h1.45M282.4 98.8h1.45M252.5 106.6h1.45M259.0 106.6h1.45M262.9 106.6h1.45M265.5 106.6h1.45M266.8 106.6h1.45M274.6 106.6h1.45M286.3 106.6h1.45M208.3 114.4h1.45M236.9 114.4h1.45M191.4 122.2h1.45M208.3 122.2h1.45M209.6 122.2h1.45M178.4 130.0h1.45M183.6 130.0h1.45M184.9 130.0h1.45M186.2 130.0h1.45M192.7 130.0h1.45M203.1 130.0h1.45M234.3 130.0h1.45M235.6 130.0h1.45M242.1 130.0h1.45M248.6 130.0h1.45M253.8 130.0h1.45M255.1 137.8h1.45M257.7 137.8h1.45M260.3 137.8h1.45M273.3 137.8h1.45M257.7 145.7h1.45M261.6 145.7h1.45M268.1 145.7h1.45M273.3 145.7h1.45M274.6 145.7h1.45M285.0 145.7h1.45M182.3 153.5h1.45M184.9 153.5h1.45M191.4 153.5h1.45M192.7 153.5h1.45M197.9 153.5h1.45M205.7 153.5h1.45M222.6 153.5h1.45M223.9 153.5h1.45M227.8 153.5h1.45M230.4 153.5h1.45M231.7 153.5h1.45M234.3 153.5h1.45M248.6 153.5h1.45M249.9 153.5h1.45M256.4 153.5h1.45M264.2 153.5h1.45M270.7 153.5h1.45M186.2 161.3h1.45M187.5 161.3h1.45M190.1 161.3h1.45M195.3 161.3h1.45M196.6 161.3h1.45M200.5 161.3h1.45M226.5 161.3h1.45M227.8 161.3h1.45M231.7 161.3h1.45M234.3 161.3h1.45M239.5 161.3h1.45M242.1 161.3h1.45M249.9 161.3h1.45M257.7 161.3h1.45M259.0 161.3h1.45M272.0 161.3h1.45M274.6 161.3h1.45M186.2 169.1h1.45M188.8 169.1h1.45M192.7 169.1h1.45M195.3 169.1h1.45M203.1 169.1h1.45M208.3 169.1h1.45M231.7 169.1h1.45M238.2 169.1h1.45M249.9 169.1h1.45M257.7 169.1h1.45M259.0 169.1h1.45M272.0 169.1h1.45M190.1 176.9h1.45M227.8 176.9h1.45M235.6 176.9h1.45M262.9 176.9h1.45M268.1 176.9h1.45M269.4 176.9h1.45M282.4 176.9h1.45" stroke="#7eb0dc" stroke-width="7.91" fill="none"/>
<path d="M256.4 36.3h1.45M257.7 36.3h1.45M260.3 36.3h1.45M261.6 36.3h1.45M266.8 36.3h1.45M269.4 36.3h1.45M273.3 36.3h1.45M285.0 36.3h1.45M178.4 44.1h1.45M269.4 51.9h1.45M257.7 59.7h1.45M259.0 59.7h1.45M273.3 59.7h1.45M281.1 59.7h1.45M251.2 67.5h1.45M253.8 67.5h1.45M256.4 67.5h1.45M268.1 67.5h1.45M269.4 67.5h1.45M282.4 67.5h1.45M283.7 67.5h1.45M285.0 67.5h1.45M286.3 67.5h1.45M260.3 75.4h1.45M265.5 75.4h1.45M273.3 75.4h1.45M282.4 75.4h1.45M283.7 75.4h1.45M192.7 83.2h1.45M199.2 91.0h1.45M251.2 91.0h1.45M268.1 91.0h1.45M279.8 91.0h1.45M262.9 98.8h1.45M268.1 98.8h1.45M273.3 98.8h1.45M274.6 98.8h1.45M275.9 98.8h1.45M283.7 98.8h1.45M285.0 98.8h1.45M251.2 106.6h1.45M261.6 106.6h1.45M277.2 106.6h1.45M281.1 106.6h1.45M282.4 106.6h1.45M192.7 114.4h1.45M194.0 114.4h1.45M201.8 114.4h1.45M217.4 114.4h1.45M225.2 114.4h1.45M233.0 114.4h1.45M259.0 122.2h1.45M260.3 122.2h1.45M261.6 122.2h1.45M177.1 130.0h1.45M201.8 130.0h1.45M207.0 130.0h1.45M221.3 130.0h1.45M256.4 130.0h1.45M251.2 137.8h1.45M253.8 137.8h1.45M261.6 137.8h1.45M265.5 137.8h1.45M279.8 137.8h1.45M281.1 137.8h1.45M282.4 137.8h1.45M256.4 145.7h1.45M266.8 145.7h1.45M275.9 145.7h1.45M279.8 145.7h1.45M282.4 145.7h1.45M183.6 153.5h1.45M190.1 153.5h1.45M194.0 153.5h1.45M195.3 153.5h1.45M209.6 153.5h1.45M212.2 153.5h1.45M214.8 153.5h1.45M216.1 153.5h1.45M217.4 153.5h1.45M233.0 153.5h1.45M238.2 153.5h1.45M242.1 153.5h1.45M243.4 153.5h1.45M257.7 153.5h1.45M260.3 153.5h1.45M272.0 153.5h1.45M275.9 153.5h1.45M281.1 153.5h1.45M179.7 161.3h1.45M183.6 161.3h1.45M194.0 161.3h1.45M197.9 161.3h1.45M204.4 161.3h1.45M212.2 161.3h1.45M214.8 161.3h1.45M216.1 161.3h1.45M221.3 161.3h1.45M247.3 161.3h1.45M248.6 161.3h1.45M256.4 161.3h1.45M261.6 161.3h1.45M264.2 161.3h1.45M265.5 161.3h1.45M251.2 169.1h1.45M253.8 169.1h1.45M264.2 169.1h1.45M265.5 169.1h1.45M252.5 176.9h1.45M256.4 176.9h1.45M260.3 176.9h1.45M261.6 176.9h1.45M281.1 176.9h1.45M283.7 176.9h1.45M285.0 176.9h1.45" stroke="#9ec1e2" stroke-width="7.91" fill="none"/>
<path d="M255.1 36.3h1.45M262.9 36.3h1.45M268.1 36.3h1.45M274.6 36.3h1.45M277.2 36.3h1.45M279.8 36.3h1.45M283.7 36.3h1.45M199.2 44.1h1.45M231.7 44.1h1.45M199.2 51.9h1.45M216.1 51.9h1.45M220.0 51.9h1.45M251.2 59.7h1.45M252.5 59.7h1.45M256.4 59.7h1.45M261.6 59.7h1.45M266.8 59.7h1.45M268.1 59.7h1.45M275.9 59.7h1.45M277.2 59.7h1.45M278.5 59.7h1.45M285.0 59.7h1.45M255.1 67.5h1.45M262.9 67.5h1.45M266.8 67.5h1.45M273.3 67.5h1.45M277.2 67.5h1.45M278.5 67.5h1.45M279.8 67.5h1.45M281.1 67.5h1.45M259.0 75.4h1.45M268.1 75.4h1.45M277.2 75.4h1.45M278.5 75.4h1.45M286.3 75.4h1.45M204.4 83.2h1.45M243.4 83.2h1.45M247.3 83.2h1.45M268.1 83.2h1.45M192.7 91.0h1.45M197.9 91.0h1.45M229.1 91.0h1.45M230.4 91.0h1.45M255.1 98.8h1.45M283.7 106.6h1.45M179.7 114.4h1.45M181.0 114.4h1.45M187.5 114.4h1.45M190.1 114.4h1.45M197.9 114.4h1.45M207.0 114.4h1.45M216.1 114.4h1.45M218.7 114.4h1.45M220.0 114.4h1.45M221.3 114.4h1.45M222.6 114.4h1.45M227.8 114.4h1.45M238.2 114.4h1.45M240.8 114.4h1.45M257.7 122.2h1.45M265.5 122.2h1.45M273.3 122.2h1.45M281.1 122.2h1.45M282.4 122.2h1.45M255.1 130.0h1.45M261.6 130.0h1.45M262.9 130.0h1.45M266.8 130.0h1.45M275.9 130.0h1.45M286.3 130.0h1.45M252.5 137.8h1.45M256.4 137.8h1.45M262.9 137.8h1.45M266.8 137.8h1.45M269.4 137.8h1.45M277.2 137.8h1.45M278.5 137.8h1.45M285.0 137.8h1.45M251.2 145.7h1.45M252.5 145.7h1.45M262.9 145.7h1.45M283.7 145.7h1.45M286.3 145.7h1.45M252.5 153.5h1.45M259.0 153.5h1.45M261.6 153.5h1.45M265.5 153.5h1.45M266.8 153.5h1.45M274.6 153.5h1.45M285.0 153.5h1.45M178.4 161.3h1.45M181.0 161.3h1.45M184.9 161.3h1.45M201.8 161.3h1.45M205.7 161.3h1.45M238.2 161.3h1.45M251.2 161.3h1.45M252.5 161.3h1.45M268.1 161.3h1.45M269.4 161.3h1.45M275.9 161.3h1.45M279.8 161.3h1.45M286.3 161.3h1.45M256.4 169.1h1.45M261.6 169.1h1.45M266.8 169.1h1.45M282.4 169.1h1.45M285.0 169.1h1.45M251.2 176.9h1.45M255.1 176.9h1.45M259.0 176.9h1.45M266.8 176.9h1.45M273.3 176.9h1.45M277.2 176.9h1.45M279.8 176.9h1.45M286.3 176.9h1.45" stroke="#bed1e8" stroke-width="7.91" fill="none"/>
<path d="M264.2 36.3h1.45M278.5 36.3h1.45M281.1 36.3h1.45M286.3 36.3h1.45M181.0 44.1h1.45M183.6 44.1h1.45M208.3 44.1h1.45M209.6 44.1h1.45M214.8 44.1h1.45M220.0 44.1h1.45M222.6 44.1h1.45M226.5 44.1h1.45M240.8 44.1h1.45M188.8 51.9h1.45M197.9 51.9h1.45M207.0 51.9h1.45M212.2 51.9h1.45M234.3 51.9h1.45M242.1 51.9h1.45M260.3 59.7h1.45M269.4 59.7h1.45M282.4 59.7h1.45M285.0 75.4h1.45M179.7 83.2h1.45M181.0 83.2h1.45M199.2 83.2h1.45M208.3 83.2h1.45M209.6 83.2h1.45M220.0 83.2h1.45M183.6 91.0h1.45M207.0 91.0h1.45M209.6 91.0h1.45M210.9 91.0h1.45M217.4 91.0h1.45M223.9 91.0h1.45M243.4 91.0h1.45M244.7 91.0h1.45M281.1 98.8h1.45M255.1 106.6h1.45M182.3 114.4h1.45M184.9 114.4h1.45M188.8 114.4h1.45M191.4 114.4h1.45M199.2 114.4h1.45M203.1 114.4h1.45M210.9 114.4h1.45M213.5 114.4h1.45M229.1 114.4h1.45M231.7 114.4h1.45M234.3 114.4h1.45M239.5 114.4h1.45M242.1 114.4h1.45M244.7 114.4h1.45M248.6 114.4h1.45M251.2 122.2h1.45M253.8 122.2h1.45M270.7 122.2h1.45M274.6 122.2h1.45M278.5 122.2h1.45M279.8 122.2h1.45M285.0 122.2h1.45M286.3 122.2h1.45M260.3 130.0h1.45M265.5 130.0h1.45M270.7 130.0h1.45M272.0 130.0h1.45M274.6 130.0h1.45M279.8 130.0h1.45M285.0 130.0h1.45M259.0 137.8h1.45M283.7 137.8h1.45M286.3 137.8h1.45M255.1 145.7h1.45M269.4 145.7h1.45M277.2 145.7h1.45M278.5 145.7h1.45M253.8 153.5h1.45M268.1 153.5h1.45M278.5 153.5h1.45M283.7 153.5h1.45M188.8 161.3h1.45M266.8 161.3h1.45M283.7 161.3h1.45M260.3 169.1h1.45M262.9 169.1h1.45M269.4 169.1h1.45M270.7 169.1h1.45M279.8 169.1h1.45M281.1 169.1h1.45" stroke="#dee2ee" stroke-width="7.91" fill="none"/>
<path d="M251.2 36.3h1.45M192.7 44.1h1.45M196.6 44.1h1.45M201.8 44.1h1.45M212.2 44.1h1.45M213.5 44.1h1.45M230.4 44.1h1.45M234.3 44.1h1.45M235.6 44.1h1.45M236.9 44.1h1.45M247.3 44.1h1.45M179.7 51.9h1.45M183.6 51.9h1.45M184.9 51.9h1.45M186.2 51.9h1.45M190.1 51.9h1.45M200.5 51.9h1.45M203.1 51.9h1.45M204.4 51.9h1.45M205.7 51.9h1.45M209.6 51.9h1.45M214.8 51.9h1.45M218.7 51.9h1.45M221.3 51.9h1.45M223.9 51.9h1.45M229.1 51.9h1.45M233.0 51.9h1.45M238.2 51.9h1.45M239.5 51.9h1.45M246.0 51.9h1.45M255.1 59.7h1.45M262.9 59.7h1.45M274.6 59.7h1.45M283.7 59.7h1.45M197.9 67.5h1.45M177.1 75.4h1.45M191.4 75.4h1.45M192.7 75.4h1.45M207.0 75.4h1.45M233.0 75.4h1.45M236.9 75.4h1.45M251.2 75.4h1.45M177.1 83.2h1.45M178.4 83.2h1.45M182.3 83.2h1.45M188.8 83.2h1.45M194.0 83.2h1.45M197.9 83.2h1.45M201.8 83.2h1.45M205.7 83.2h1.45M207.0 83.2h1.45M212.2 83.2h1.45M218.7 83.2h1.45M223.9 83.2h1.45M225.2 83.2h1.45M227.8 83.2h1.45M231.7 83.2h1.45M233.0 83.2h1.45M234.3 83.2h1.45M236.9 83.2h1.45M239.5 83.2h1.45M240.8 83.2h1.45M177.1 91.0h1.45M181.0 91.0h1.45M188.8 91.0h1.45M195.3 91.0h1.45M200.5 91.0h1.45M203.1 91.0h1.45M205.7 91.0h1.45M221.3 91.0h1.45M225.2 91.0h1.45M236.9 91.0h1.45M248.6 91.0h1.45M177.1 114.4h1.45M183.6 114.4h1.45M196.6 114.4h1.45M200.5 114.4h1.45M204.4 114.4h1.45M205.7 114.4h1.45M212.2 114.4h1.45M214.8 114.4h1.45M223.9 114.4h1.45M226.5 114.4h1.45M235.6 114.4h1.45M243.4 114.4h1.45M247.3 114.4h1.45M249.9 114.4h1.45M252.5 122.2h1.45M255.1 122.2h1.45M256.4 122.2h1.45M264.2 122.2h1.45M266.8 122.2h1.45M275.9 122.2h1.45M277.2 122.2h1.45M251.2 130.0h1.45M268.1 130.0h1.45M269.4 130.0h1.45M281.1 130.0h1.45M282.4 130.0h1.45M268.1 137.8h1.45M255.1 153.5h1.45M262.9 153.5h1.45M269.4 153.5h1.45M279.8 153.5h1.45M282.4 153.5h1.45M253.8 161.3h1.45M255.1 161.3h1.45M262.9 161.3h1.45M270.7 161.3h1.45M273.3 161.3h1.45M277.2 161.3h1.45M281.1 161.3h1.45M282.4 161.3h1.45M285.0 161.3h1.45M252.5 169.1h1.45M268.1 169.1h1.45M274.6 169.1h1.45M275.9 169.1h1.45M278.5 169.1h1.45M283.7 169.1h1.45M278.5 176.9h1.45" stroke="#e9dfe1" stroke-width="7.91" fill="none"/>
<path d="M183.6 36.3h1.45M199.2 36.3h1.45M207.0 36.3h1.45M218.7 36.3h1.45M233.0 36.3h1.45M236.9 36.3h1.45M244.7 36.3h1.45M182.3 44.1h1.45M184.9 44.1h1.45M187.5 44.1h1.45M188.8 44.1h1.45M191.4 44.1h1.45M200.5 44.1h1.45M203.1 44.1h1.45M204.4 44.1h1.45M205.7 44.1h1.45M207.0 44.1h1.45M210.9 44.1h1.45M217.4 44.1h1.45M221.3 44.1h1.45M223.9 44.1h1.45M229.1 44.1h1.45M238.2 44.1h1.45M246.0 44.1h1.45M249.9 44.1h1.45M177.1 51.9h1.45M181.0 51.9h1.45M182.3 51.9h1.45M191.4 51.9h1.45M192.7 51.9h1.45M194.0 51.9h1.45M195.3 51.9h1.45M196.6 51.9h1.45M201.8 51.9h1.45M208.3 51.9h1.45M210.9 51.9h1.45M213.5 51.9h1.45M217.4 51.9h1.45M222.6 51.9h1.45M225.2 51.9h1.45M226.5 51.9h1.45M231.7 51.9h1.45M236.9 51.9h1.45M243.4 51.9h1.45M247.3 51.9h1.45M249.9 51.9h1.45M279.8 59.7h1.45M192.7 67.5h1.45M199.2 67.5h1.45M210.9 67.5h1.45M213.5 67.5h1.45M217.4 67.5h1.45M222.6 67.5h1.45M223.9 67.5h1.45M226.5 67.5h1.45M236.9 67.5h1.45M244.7 67.5h1.45M179.7 75.4h1.45M181.0 75.4h1.45M182.3 75.4h1.45M183.6 75.4h1.45M186.2 75.4h1.45M197.9 75.4h1.45M204.4 75.4h1.45M209.6 75.4h1.45M210.9 75.4h1.45M213.5 75.4h1.45M217.4 75.4h1.45M218.7 75.4h1.45M223.9 75.4h1.45M229.1 75.4h1.45M230.4 75.4h1.45M240.8 75.4h1.45M242.1 75.4h1.45M244.7 75.4h1.45M183.6 83.2h1.45M186.2 83.2h1.45M190.1 83.2h1.45M195.3 83.2h1.45M196.6 83.2h1.45M200.5 83.2h1.45M210.9 83.2h1.45M216.1 83.2h1.45M217.4 83.2h1.45M221.3 83.2h1.45M222.6 83.2h1.45M226.5 83.2h1.45M229.1 83.2h1.45M242.1 83.2h1.45M249.9 83.2h1.45M182.3 91.0h1.45M184.9 91.0h1.45M190.1 91.0h1.45M191.4 91.0h1.45M194.0 91.0h1.45M196.6 91.0h1.45M201.8 91.0h1.45M208.3 91.0h1.45M212.2 91.0h1.45M214.8 91.0h1.45M216.1 91.0h1.45M218.7 91.0h1.45M226.5 91.0h1.45M231.7 91.0h1.45M233.0 91.0h1.45M234.3 91.0h1.45M238.2 91.0h1.45M240.8 91.0h1.45M223.9 98.8h1.45M240.8 98.8h1.45M244.7 98.8h1.45M179.7 106.6h1.45M183.6 106.6h1.45M197.9 106.6h1.45M203.1 106.6h1.45M204.4 106.6h1.45M225.2 106.6h1.45M229.1 106.6h1.45M233.0 106.6h1.45M236.9 106.6h1.45M239.5 106.6h1.45M244.7 106.6h1.45M248.6 106.6h1.45M186.2 114.4h1.45M195.3 114.4h1.45M209.6 114.4h1.45M230.4 114.4h1.45M246.0 114.4h1.45M269.4 122.2h1.45M273.3 130.0h1.45M283.7 130.0h1.45M273.3 153.5h1.45M277.2 153.5h1.45M260.3 161.3h1.45M278.5 161.3h1.45M255.1 169.1h1.45M277.2 169.1h1.45M286.3 169.1h1.45" stroke="#f2d9d1" stroke-width="7.91" fill="none"/>
<path d="M177.1 36.3h1.45M178.4 36.3h1.45M182.3 36.3h1.45M184.9 36.3h1.45M187.5 36.3h1.45M188.8 36.3h1.45M191.4 36.3h1.45M192.7 36.3h1.45M195.3 36.3h1.45M197.9 36.3h1.45M200.5 36.3h1.45M201.8 36.3h1.45M203.1 36.3h1.45M205.7 36.3h1.45M210.9 36.3h1.45M212.2 36.3h1.45M213.5 36.3h1.45M216.1 36.3h1.45M221.3 36.3h1.45M222.6 36.3h1.45M223.9 36.3h1.45M225.2 36.3h1.45M226.5 36.3h1.45M229.1 36.3h1.45M230.4 36.3h1.45M234.3 36.3h1.45M238.2 36.3h1.45M239.5 36.3h1.45M243.4 36.3h1.45M246.0 36.3h1.45M248.6 36.3h1.45M177.1 44.1h1.45M179.7 44.1h1.45M186.2 44.1h1.45M190.1 44.1h1.45M195.3 44.1h1.45M216.1 44.1h1.45M218.7 44.1h1.45M225.2 44.1h1.45M233.0 44.1h1.45M239.5 44.1h1.45M242.1 44.1h1.45M243.4 44.1h1.45M244.7 44.1h1.45M248.6 44.1h1.45M178.4 51.9h1.45M187.5 51.9h1.45M227.8 51.9h1.45M230.4 51.9h1.45M235.6 51.9h1.45M240.8 51.9h1.45M244.7 51.9h1.45M197.9 59.7h1.45M200.5 59.7h1.45M236.9 59.7h1.45M243.4 59.7h1.45M244.7 59.7h1.45M177.1 67.5h1.45M182.3 67.5h1.45M188.8 67.5h1.45M191.4 67.5h1.45M195.3 67.5h1.45M196.6 67.5h1.45M200.5 67.5h1.45M201.8 67.5h1.45M203.1 67.5h1.45M204.4 67.5h1.45M205.7 67.5h1.45M218.7 67.5h1.45M221.3 67.5h1.45M225.2 67.5h1.45M229.1 67.5h1.45M235.6 67.5h1.45M238.2 67.5h1.45M239.5 67.5h1.45M240.8 67.5h1.45M246.0 67.5h1.45M178.4 75.4h1.45M188.8 75.4h1.45M190.1 75.4h1.45M194.0 75.4h1.45M195.3 75.4h1.45M199.2 75.4h1.45M200.5 75.4h1.45M201.8 75.4h1.45M203.1 75.4h1.45M205.7 75.4h1.45M208.3 75.4h1.45M214.8 75.4h1.45M216.1 75.4h1.45M220.0 75.4h1.45M221.3 75.4h1.45M222.6 75.4h1.45M225.2 75.4h1.45M226.5 75.4h1.45M227.8 75.4h1.45M234.3 75.4h1.45M235.6 75.4h1.45M238.2 75.4h1.45M239.5 75.4h1.45M243.4 75.4h1.45M246.0 75.4h1.45M249.9 75.4h1.45M184.9 83.2h1.45M203.1 83.2h1.45M213.5 83.2h1.45M214.8 83.2h1.45M238.2 83.2h1.45M244.7 83.2h1.45M246.0 83.2h1.45M248.6 83.2h1.45M178.4 91.0h1.45M179.7 91.0h1.45M186.2 91.0h1.45M204.4 91.0h1.45M213.5 91.0h1.45M227.8 91.0h1.45M239.5 91.0h1.45M247.3 91.0h1.45M249.9 91.0h1.45M179.7 98.8h1.45M182.3 98.8h1.45M187.5 98.8h1.45M188.8 98.8h1.45M192.7 98.8h1.45M196.6 98.8h1.45M197.9 98.8h1.45M200.5 98.8h1.45M203.1 98.8h1.45M207.0 98.8h1.45M210.9 98.8h1.45M214.8 98.8h1.45M216.1 98.8h1.45M217.4 98.8h1.45M218.7 98.8h1.45M221.3 98.8h1.45M225.2 98.8h1.45M226.5 98.8h1.45M231.7 98.8h1.45M233.0 98.8h1.45M236.9 98.8h1.45M177.1 106.6h1.45M178.4 106.6h1.45M181.0 106.6h1.45M182.3 106.6h1.45M186.2 106.6h1.45M188.8 106.6h1.45M191.4 106.6h1.45M192.7 106.6h1.45M194.0 106.6h1.45M196.6 106.6h1.45M199.2 106.6h1.45M200.5 106.6h1.45M201.8 106.6h1.45M205.7 106.6h1.45M207.0 106.6h1.45M208.3 106.6h1.45M210.9 106.6h1.45M213.5 106.6h1.45M214.8 106.6h1.45M216.1 106.6h1.45M217.4 106.6h1.45M218.7 106.6h1.45M220.0 106.6h1.45M221.3 106.6h1.45M223.9 106.6h1.45M226.5 106.6h1.45M231.7 106.6h1.45M238.2 106.6h1.45M242.1 106.6h1.45M249.9 106.6h1.45M262.9 122.2h1.45M268.1 122.2h1.45M283.7 122.2h1.45M252.5 130.0h1.45M277.2 130.0h1.45M278.5 130.0h1.45M251.2 153.5h1.45M286.3 153.5h1.45M273.3 169.1h1.45" stroke="#f3c8b8" stroke-width="7.91" fill="none"/>
<path d="M179.7 36.3h1.45M181.0 36.3h1.45M186.2 36.3h1.45M190.1 36.3h1.45M194.0 36.3h1.45M196.6 36.3h1.45M204.4 36.3h1.45M208.3 36.3h1.45M209.6 36.3h1.45M214.8 36.3h1.45M217.4 36.3h1.45M220.0 36.3h1.45M227.8 36.3h1.45M231.7 36.3h1.45M235.6 36.3h1.45M240.8 36.3h1.45M242.1 36.3h1.45M247.3 36.3h1.45M249.9 36.3h1.45M194.0 44.1h1.45M197.9 44.1h1.45M227.8 44.1h1.45M248.6 51.9h1.45M179.7 59.7h1.45M181.0 59.7h1.45M182.3 59.7h1.45M186.2 59.7h1.45M190.1 59.7h1.45M191.4 59.7h1.45M199.2 59.7h1.45M201.8 59.7h1.45M205.7 59.7h1.45M207.0 59.7h1.45M216.1 59.7h1.45M217.4 59.7h1.45M218.7 59.7h1.45M220.0 59.7h1.45M223.9 59.7h1.45M225.2 59.7h1.45M226.5 59.7h1.45M227.8 59.7h1.45M229.1 59.7h1.45M233.0 59.7h1.45M235.6 59.7h1.45M238.2 59.7h1.45M239.5 59.7h1.45M242.1 59.7h1.45M248.6 59.7h1.45M178.4 67.5h1.45M179.7 67.5h1.45M181.0 67.5h1.45M183.6 67.5h1.45M184.9 67.5h1.45M186.2 67.5h1.45M187.5 67.5h1.45M190.1 67.5h1.45M194.0 67.5h1.45M207.0 67.5h1.45M208.3 67.5h1.45M209.6 67.5h1.45M212.2 67.5h1.45M214.8 67.5h1.45M216.1 67.5h1.45M220.0 67.5h1.45M227.8 67.5h1.45M230.4 67.5h1.45M231.7 67.5h1.45M233.0 67.5h1.45M234.3 67.5h1.45M242.1 67.5h1.45M243.4 67.5h1.45M247.3 67.5h1.45M248.6 67.5h1.45M249.9 67.5h1.45M187.5 75.4h1.45M196.6 75.4h1.45M231.7 75.4h1.45M247.3 75.4h1.45M248.6 75.4h1.45M230.4 83.2h1.45M235.6 83.2h1.45M187.5 91.0h1.45M220.0 91.0h1.45M242.1 91.0h1.45M177.1 98.8h1.45M178.4 98.8h1.45M181.0 98.8h1.45M183.6 98.8h1.45M184.9 98.8h1.45M186.2 98.8h1.45M190.1 98.8h1.45M191.4 98.8h1.45M194.0 98.8h1.45M199.2 98.8h1.45M201.8 98.8h1.45M204.4 98.8h1.45M205.7 98.8h1.45M208.3 98.8h1.45M212.2 98.8h1.45M213.5 98.8h1.45M220.0 98.8h1.45M222.6 98.8h1.45M227.8 98.8h1.45M229.1 98.8h1.45M230.4 98.8h1.45M234.3 98.8h1.45M235.6 98.8h1.45M238.2 98.8h1.45M239.5 98.8h1.45M246.0 98.8h1.45M247.3 98.8h1.45M248.6 98.8h1.45M249.9 98.8h1.45M184.9 106.6h1.45M187.5 106.6h1.45M190.1 106.6h1.45M195.3 106.6h1.45M209.6 106.6h1.45M222.6 106.6h1.45M227.8 106.6h1.45M230.4 106.6h1.45M234.3 106.6h1.45M235.6 106.6h1.45M240.8 106.6h1.45M243.4 106.6h1.45M246.0 106.6h1.45M178.4 114.4h1.45" stroke="#f4b89f" stroke-width="7.91" fill="none"/>
<path d="M177.1 59.7h1.45M183.6 59.7h1.45M184.9 59.7h1.45M188.8 59.7h1.45M192.7 59.7h1.45M194.0 59.7h1.45M196.6 59.7h1.45M203.1 59.7h1.45M204.4 59.7h1.45M208.3 59.7h1.45M209.6 59.7h1.45M210.9 59.7h1.45M212.2 59.7h1.45M213.5 59.7h1.45M214.8 59.7h1.45M221.3 59.7h1.45M222.6 59.7h1.45M230.4 59.7h1.45M231.7 59.7h1.45M234.3 59.7h1.45M240.8 59.7h1.45M247.3 59.7h1.45M249.9 59.7h1.45M184.9 75.4h1.45M212.2 75.4h1.45M187.5 83.2h1.45M191.4 83.2h1.45M222.6 91.0h1.45M195.3 98.8h1.45M209.6 98.8h1.45M242.1 98.8h1.45M243.4 98.8h1.45M212.2 106.6h1.45M247.3 106.6h1.45" stroke="#f2a487" stroke-width="7.91" fill="none"/>
<path d="M178.4 59.7h1.45M187.5 59.7h1.45M195.3 59.7h1.45M246.0 59.7h1.45M235.6 91.0h1.45" stroke="#ef8d70" stroke-width="7.91" fill="none"/>
<rect x="177.1" y="32.4" width="74.1" height="85.92" fill="none" stroke="#222" stroke-width="0.8" />
<rect x="251.5" y="118.32" width="36.1" height="62.48" fill="none" stroke="#222" stroke-width="0.8" />
<text x="291.2" y="38.81" font-size="7.15" text-anchor="start" fill="#c9dfea" stroke="#c9dfea" stroke-width="0.16" font-style="italic" >Anxa2</text>
<text x="332.6" y="38.81" font-size="7.5" text-anchor="start" fill="#c9dfea" stroke="#c9dfea" stroke-width="0.16" >Angiogenesis</text>
<text x="291.2" y="46.62" font-size="7.15" text-anchor="start" fill="#c9dfea" stroke="#c9dfea" stroke-width="0.16" font-style="italic" >Col17a1</text>
<text x="332.6" y="46.62" font-size="7.5" text-anchor="start" fill="#c9dfea" stroke="#c9dfea" stroke-width="0.16" >Extracellular matrix organization</text>
<text x="291.2" y="54.43" font-size="7.15" text-anchor="start" fill="#c9dfea" stroke="#c9dfea" stroke-width="0.16" font-style="italic" >Anxa8</text>
<text x="332.6" y="54.43" font-size="7.5" text-anchor="start" fill="#c9dfea" stroke="#c9dfea" stroke-width="0.16" >Endosome organization</text>
<text x="291.2" y="62.24" font-size="7.15" text-anchor="start" fill="#c9dfea" stroke="#c9dfea" stroke-width="0.16" font-style="italic" >Ly6d</text>
<text x="332.6" y="62.24" font-size="7.5" text-anchor="start" fill="#c9dfea" stroke="#c9dfea" stroke-width="0.16" >Lymphocyte differentiation</text>
<text x="291.2" y="70.05" font-size="7.15" text-anchor="start" fill="#c9dfea" stroke="#c9dfea" stroke-width="0.16" font-style="italic" >S100a11</text>
<text x="332.6" y="70.05" font-size="7.5" text-anchor="start" fill="#c9dfea" stroke="#c9dfea" stroke-width="0.16" >Cell population proliferation</text>
<text x="291.2" y="77.86" font-size="7.15" text-anchor="start" fill="#c9dfea" stroke="#c9dfea" stroke-width="0.16" font-style="italic" >Anxa1</text>
<text x="332.6" y="77.86" font-size="7.5" text-anchor="start" fill="#c9dfea" stroke="#c9dfea" stroke-width="0.16" >Neutrophil homeostasis</text>
<text x="291.2" y="85.67" font-size="7.15" text-anchor="start" fill="#c9dfea" stroke="#c9dfea" stroke-width="0.16" font-style="italic" >Dusp1</text>
<text x="332.6" y="85.67" font-size="7.5" text-anchor="start" fill="#c9dfea" stroke="#c9dfea" stroke-width="0.16" >Cell cycle</text>
<text x="291.2" y="93.48" font-size="7.15" text-anchor="start" fill="#c9dfea" stroke="#c9dfea" stroke-width="0.16" font-style="italic" >Atf3</text>
<text x="332.6" y="93.48" font-size="7.5" text-anchor="start" fill="#c9dfea" stroke="#c9dfea" stroke-width="0.16" >Transcription</text>
<text x="291.2" y="101.29" font-size="7.15" text-anchor="start" fill="#c9dfea" stroke="#c9dfea" stroke-width="0.16" font-style="italic" >Sfn</text>
<text x="332.6" y="101.29" font-size="7.5" text-anchor="start" fill="#c9dfea" stroke="#c9dfea" stroke-width="0.16" >Keratinocyte development</text>
<text x="291.2" y="109.1" font-size="7.15" text-anchor="start" fill="#c9dfea" stroke="#c9dfea" stroke-width="0.16" font-style="italic" >Nfkbia</text>
<text x="332.6" y="109.1" font-size="7.5" text-anchor="start" fill="#c9dfea" stroke="#c9dfea" stroke-width="0.16" >Protein import into nucleus</text>
<text x="291.2" y="116.91" font-size="7.15" text-anchor="start" fill="#c9dfea" stroke="#c9dfea" stroke-width="0.16" font-style="italic" >Fcgbp</text>
<text x="332.6" y="116.91" font-size="7.5" text-anchor="start" fill="#c9dfea" stroke="#c9dfea" stroke-width="0.16" >Biological process</text>
<text x="291.2" y="124.72" font-size="7.15" text-anchor="start" fill="#0a7ab8" stroke="#0a7ab8" stroke-width="0.16" font-style="italic" >Slc39a10</text>
<text x="332.6" y="124.72" font-size="7.5" text-anchor="start" fill="#0a7ab8" stroke="#0a7ab8" stroke-width="0.16" >Ion transport</text>
<text x="291.2" y="132.53" font-size="7.15" text-anchor="start" fill="#0a7ab8" stroke="#0a7ab8" stroke-width="0.16" font-style="italic" >Cux1</text>
<text x="332.6" y="132.53" font-size="7.5" text-anchor="start" fill="#0a7ab8" stroke="#0a7ab8" stroke-width="0.16" >Transcription</text>
<text x="291.2" y="140.34" font-size="7.15" text-anchor="start" fill="#0a7ab8" stroke="#0a7ab8" stroke-width="0.16" font-style="italic" >Krt28</text>
<text x="332.6" y="140.34" font-size="7.5" text-anchor="start" fill="#0a7ab8" stroke="#0a7ab8" stroke-width="0.16" >Biological process</text>
<text x="291.2" y="148.15" font-size="7.15" text-anchor="start" fill="#0a7ab8" stroke="#0a7ab8" stroke-width="0.16" font-style="italic" >Dmd</text>
<text x="332.6" y="148.15" font-size="7.5" text-anchor="start" fill="#0a7ab8" stroke="#0a7ab8" stroke-width="0.16" >Cell-matrix adhesion</text>
<text x="291.2" y="155.96" font-size="7.15" text-anchor="start" fill="#0a7ab8" stroke="#0a7ab8" stroke-width="0.16" font-style="italic" >Cdk4</text>
<text x="332.6" y="155.96" font-size="7.5" text-anchor="start" fill="#0a7ab8" stroke="#0a7ab8" stroke-width="0.16" >Cell cycle</text>
<text x="291.2" y="163.77" font-size="7.15" text-anchor="start" fill="#0a7ab8" stroke="#0a7ab8" stroke-width="0.16" font-style="italic" >Nedd4</text>
<text x="332.6" y="163.77" font-size="7.5" text-anchor="start" fill="#0a7ab8" stroke="#0a7ab8" stroke-width="0.16" >Transcription</text>
<text x="291.2" y="171.58" font-size="7.15" text-anchor="start" fill="#0a7ab8" stroke="#0a7ab8" stroke-width="0.16" font-style="italic" >Ctnnb1</text>
<text x="332.6" y="171.58" font-size="7.5" text-anchor="start" fill="#0a7ab8" stroke="#0a7ab8" stroke-width="0.16" >Transcription</text>
<text x="291.2" y="179.39" font-size="7.15" text-anchor="start" fill="#0a7ab8" stroke="#0a7ab8" stroke-width="0.16" font-style="italic" >Lap3</text>
<text x="332.6" y="179.39" font-size="7.5" text-anchor="start" fill="#0a7ab8" stroke="#0a7ab8" stroke-width="0.16" >Proteolysis</text>
<defs><linearGradient id="gB" x1="0" y1="1" x2="0" y2="0"><stop offset="0" stop-color="#2688cc"/><stop offset="0.2" stop-color="#7eb0dc"/><stop offset="0.4" stop-color="#dee2ee"/><stop offset="0.52" stop-color="#f2dcd6"/><stop offset="0.7" stop-color="#f4b092"/><stop offset="0.86" stop-color="#ec785c"/><stop offset="1" stop-color="#d62824"/></linearGradient></defs>
<rect x="162.6" y="134.2" width="8.1" height="43.2" fill="url(#gB)" />
<text x="172.4" y="178.3" font-size="5.3" text-anchor="start" fill="#1a1a1a" stroke="#1a1a1a" stroke-width="0.12" >0</text>
<line x1="162.6" y1="176.5" x2="164" y2="176.5" stroke="#fff" stroke-width="0.4" />
<line x1="169.3" y1="176.5" x2="170.7" y2="176.5" stroke="#fff" stroke-width="0.4" />
<text x="172.4" y="170.18" font-size="5.3" text-anchor="start" fill="#1a1a1a" stroke="#1a1a1a" stroke-width="0.12" >1</text>
<line x1="162.6" y1="168.38" x2="164" y2="168.38" stroke="#fff" stroke-width="0.4" />
<line x1="169.3" y1="168.38" x2="170.7" y2="168.38" stroke="#fff" stroke-width="0.4" />
<text x="172.4" y="162.06" font-size="5.3" text-anchor="start" fill="#1a1a1a" stroke="#1a1a1a" stroke-width="0.12" >2</text>
<line x1="162.6" y1="160.26" x2="164" y2="160.26" stroke="#fff" stroke-width="0.4" />
<line x1="169.3" y1="160.26" x2="170.7" y2="160.26" stroke="#fff" stroke-width="0.4" />
<text x="172.4" y="153.94" font-size="5.3" text-anchor="start" fill="#1a1a1a" stroke="#1a1a1a" stroke-width="0.12" >3</text>
<line x1="162.6" y1="152.14" x2="164" y2="152.14" stroke="#fff" stroke-width="0.4" />
<line x1="169.3" y1="152.14" x2="170.7" y2="152.14" stroke="#fff" stroke-width="0.4" />
<text x="172.4" y="145.82" font-size="5.3" text-anchor="start" fill="#1a1a1a" stroke="#1a1a1a" stroke-width="0.12" >4</text>
<line x1="162.6" y1="144.02" x2="164" y2="144.02" stroke="#fff" stroke-width="0.4" />
<line x1="169.3" y1="144.02" x2="170.7" y2="144.02" stroke="#fff" stroke-width="0.4" />
<text x="172.4" y="137.7" font-size="5.3" text-anchor="start" fill="#1a1a1a" stroke="#1a1a1a" stroke-width="0.12" >5</text>
<line x1="162.6" y1="135.9" x2="164" y2="135.9" stroke="#fff" stroke-width="0.4" />
<line x1="169.3" y1="135.9" x2="170.7" y2="135.9" stroke="#fff" stroke-width="0.4" />
<text x="158.6" y="156" font-size="5.55" text-anchor="middle" fill="#1a1a1a" stroke="#1a1a1a" stroke-width="0.12" transform="rotate(-90 158.6 156)" >Gene expression</text>
</g>
<g id="panelC">
<text x="449.5" y="17.3" font-size="11.8" text-anchor="start" fill="#1a1a1a" stroke="#1a1a1a" stroke-width="0.26" >C</text>
<text x="493.3" y="39" font-size="7.6" text-anchor="middle" fill="#1a1a1a" stroke="#1a1a1a" stroke-width="0.17" font-style="italic" >Col17a1<tspan font-size="55%" dy="-0.82em">hi</tspan><tspan dy="0.45em">: Anxa2</tspan></text>
<path d="M476.0 47.0h0M479.9 49.6h0M471.8 50.2h0M479.7 49.9h0M475.8 50.9h0M473.3 52.7h0M469.9 52.5h0M472.4 53.2h0M476.6 52.8h0M475.9 54.1h0M480.1 53.3h0M475.6 54.9h0M479.8 54.6h0M477.0 55.5h0M478.6 55.9h0M467.3 57.5h0M476.5 57.1h0M468.8 57.7h0M471.8 57.6h0M474.3 58.9h0M474.7 59.3h0M474.7 59.0h0M465.5 60.9h0M466.9 60.1h0M470.6 60.3h0M474.5 59.9h0M477.3 60.8h0M465.3 61.1h0M472.0 61.2h0M462.5 61.9h0M466.9 62.4h0M480.5 62.3h0M462.1 63.6h0M464.8 63.8h0M466.2 64.2h0M467.7 64.3h0M475.5 64.4h0M467.4 64.9h0M472.4 65.3h0M463.1 66.4h0M465.3 65.8h0M465.7 66.4h0M472.9 65.7h0M478.7 66.6h0M466.9 67.1h0M468.6 66.2h0M468.6 66.6h0M477.8 67.4h0M479.2 67.4h0M469.3 67.2h0M472.5 68.2h0M473.3 68.2h0M466.6 68.2h0M469.5 67.9h0M476.3 68.7h0M480.5 68.2h0M479.4 69.2h0M475.8 69.5h0M476.3 69.5h0M477.5 70.4h0M478.6 69.4h0M476.1 70.7h0M478.3 70.9h0M473.6 71.4h0M478.8 71.0h0M475.9 72.2h0M478.1 72.5h0M479.0 72.5h0M479.3 74.4h0M479.7 76.0h0M478.3 76.5h0M479.4 77.5h0M478.9 79.1h0M480.6 79.8h0M480.1 81.4h0M478.3 81.7h0M481.4 81.7h0M484.4 69.3h0M494.7 60.7h0M498.3 66.6h0M496.2 71.9h0" fill="none" stroke="#440154" stroke-width="1.9" stroke-linecap="round"/><path d="M477.4 46.4h0M477.0 46.2h0M477.7 46.3h0M477.3 47.9h0M475.2 48.3h0M473.2 49.0h0M474.4 48.7h0M473.2 50.2h0M473.9 49.9h0M478.6 50.0h0M470.6 51.2h0M472.9 50.4h0M478.1 50.2h0M470.9 51.4h0M470.9 51.3h0M471.7 51.1h0M475.6 51.1h0M477.3 51.6h0M470.1 52.1h0M471.6 52.8h0M475.2 52.6h0M476.7 51.6h0M478.0 52.4h0M474.5 52.9h0M468.5 53.8h0M474.5 54.1h0M469.8 55.2h0M473.8 54.1h0M474.6 54.1h0M475.8 54.5h0M473.1 55.0h0M469.8 55.8h0M476.9 56.1h0M479.9 56.9h0M466.3 57.8h0M469.4 56.6h0M472.8 57.7h0M472.9 57.8h0M479.4 57.3h0M480.0 58.1h0M463.9 58.7h0M469.8 58.7h0M475.5 58.8h0M465.1 60.1h0M470.0 59.4h0M464.2 60.9h0M475.3 60.6h0M478.7 59.8h0M465.6 60.6h0M466.3 60.8h0M471.3 61.7h0M473.2 61.3h0M474.4 61.2h0M477.4 60.8h0M480.3 61.1h0M467.8 62.1h0M470.4 61.5h0M477.3 61.5h0M478.1 62.6h0M472.2 62.5h0M472.9 62.4h0M479.6 62.6h0M463.4 63.3h0M472.5 64.0h0M473.1 63.0h0M473.7 63.0h0M474.6 63.6h0M475.3 63.4h0M464.2 64.3h0M467.2 64.7h0M470.0 64.4h0M472.0 64.0h0M473.0 63.7h0M474.2 64.0h0M463.6 64.6h0M475.2 66.4h0M479.7 66.3h0M461.6 66.5h0M472.7 67.1h0M474.2 66.8h0M474.4 66.3h0M475.6 66.7h0M476.8 66.7h0M479.3 66.6h0M464.5 67.8h0M466.7 67.6h0M467.0 68.0h0M470.6 67.6h0M471.6 67.5h0M478.7 68.0h0M463.4 67.8h0M466.1 68.9h0M469.8 68.9h0M473.8 67.8h0M476.0 68.7h0M478.9 68.2h0M466.3 69.7h0M468.9 69.1h0M470.4 69.8h0M471.7 69.4h0M475.7 69.0h0M470.3 69.7h0M473.7 70.1h0M468.9 70.7h0M472.9 71.4h0M478.8 70.3h0M474.0 72.4h0M474.2 72.8h0M475.7 72.0h0M477.1 72.6h0M481.4 72.9h0M478.6 74.3h0M479.4 75.4h0M478.4 76.4h0M479.5 76.4h0M478.8 77.6h0M480.3 78.8h0M477.7 79.7h0M479.6 80.0h0M480.3 80.5h0M481.0 79.9h0M479.3 81.0h0M480.5 80.4h0M478.9 81.2h0M480.9 81.4h0M478.9 82.4h0M479.6 81.9h0M479.0 82.7h0M483.6 70.4h0M482.8 72.2h0M483.8 72.2h0M481.8 73.2h0M483.3 73.0h0M506.7 55.7h0M517.1 96.8h0" fill="none" stroke="#472c7a" stroke-width="1.9" stroke-linecap="round"/><path d="M478.5 46.3h0M475.2 47.7h0M475.8 48.2h0M477.9 47.8h0M475.4 50.9h0M478.4 50.3h0M479.6 50.5h0M471.0 52.9h0M474.4 52.8h0M476.1 51.7h0M468.6 53.7h0M474.0 53.0h0M475.5 53.2h0M474.3 54.0h0M478.3 54.4h0M478.1 53.6h0M468.0 54.5h0M469.2 54.5h0M479.9 54.5h0M471.3 55.0h0M472.2 56.0h0M474.1 55.2h0M472.5 55.9h0M464.8 57.6h0M470.3 56.6h0M472.4 56.9h0M466.2 57.5h0M468.9 57.4h0M474.9 57.8h0M463.5 59.2h0M466.4 59.2h0M479.3 58.9h0M476.3 59.4h0M478.0 59.4h0M464.8 60.1h0M471.5 60.8h0M474.4 60.8h0M462.4 61.7h0M463.3 61.3h0M468.7 62.1h0M470.5 62.2h0M476.1 61.3h0M477.5 61.9h0M480.0 61.6h0M462.4 62.9h0M462.5 63.0h0M477.8 62.1h0M479.0 63.1h0M467.4 62.9h0M476.3 63.8h0M478.3 63.7h0M480.5 63.4h0M471.2 65.0h0M464.6 65.4h0M469.6 65.5h0M470.7 65.5h0M475.1 64.8h0M477.7 65.3h0M479.3 65.8h0M461.7 65.8h0M467.2 66.0h0M469.0 66.1h0M471.1 65.4h0M475.7 66.0h0M464.3 67.1h0M468.4 67.8h0M464.5 68.4h0M480.4 68.7h0M474.8 69.7h0M480.1 69.0h0M466.7 69.8h0M467.9 70.3h0M468.5 70.2h0M471.3 70.4h0M481.2 70.6h0M473.4 71.3h0M476.7 71.3h0M472.3 72.3h0M475.2 71.8h0M476.2 71.0h0M476.9 72.2h0M474.3 72.7h0M474.5 72.8h0M476.0 72.7h0M476.7 74.1h0M478.0 75.3h0M480.1 76.5h0M478.3 78.2h0M480.4 77.8h0M478.4 79.2h0M480.9 82.9h0M484.3 67.9h0M483.5 69.0h0M483.8 70.2h0M484.1 70.9h0M482.5 72.2h0M493.5 54.8h0M491.5 51.8h0M496.3 54.0h0M502.6 53.6h0M498.5 55.9h0M503.9 56.8h0M506.1 58.0h0M500.6 59.3h0M504.2 60.2h0M499.5 74.7h0M506.6 88.7h0M514.0 96.0h0M514.4 97.2h0M516.5 99.4h0M512.4 100.7h0M514.8 101.2h0M513.9 101.9h0" fill="none" stroke="#3b528a" stroke-width="1.9" stroke-linecap="round"/><path d="M476.0 46.3h0M476.4 47.2h0M472.3 49.6h0M472.5 49.0h0M476.6 50.8h0M476.9 52.5h0M472.6 54.5h0M466.5 55.6h0M467.4 55.5h0M470.4 54.9h0M471.0 56.0h0M470.9 57.7h0M475.6 56.9h0M467.3 58.5h0M478.9 58.3h0M465.4 59.4h0M467.5 58.4h0M466.5 59.4h0M477.5 59.6h0M469.8 61.1h0M464.1 61.6h0M466.6 61.7h0M473.2 61.9h0M468.1 62.4h0M465.9 64.0h0M479.8 63.8h0M463.7 64.1h0M478.0 64.7h0M466.0 65.5h0M474.3 64.7h0M477.4 64.7h0M470.1 66.0h0M473.9 66.5h0M462.5 66.8h0M472.5 66.6h0M465.5 68.9h0M473.2 68.0h0M473.0 69.1h0M477.6 69.4h0M473.5 70.5h0M474.3 70.4h0M480.9 72.2h0M478.9 75.0h0M478.4 76.3h0M478.1 77.0h0M479.6 78.1h0M479.5 79.0h0M478.1 80.8h0M480.5 80.6h0M479.8 82.6h0M483.3 71.5h0M521.3 71.9h0M492.4 55.6h0M494.3 54.1h0M496.3 46.0h0M502.7 50.5h0M491.4 51.9h0M500.2 53.3h0M504.8 53.1h0M494.1 54.0h0M504.0 54.4h0M495.2 55.3h0M505.8 56.3h0M507.9 56.5h0M504.9 57.2h0M499.7 58.5h0M506.2 59.6h0M501.1 60.0h0M496.0 60.2h0M498.7 59.4h0M506.8 66.8h0M499.6 70.2h0M505.6 69.5h0M503.8 73.1h0M521.3 76.0h0M495.9 76.8h0M495.9 79.0h0M517.1 97.1h0M516.0 98.7h0M515.1 98.6h0M517.0 99.9h0M515.1 101.3h0" fill="none" stroke="#2d728e" stroke-width="1.9" stroke-linecap="round"/><path d="M471.0 53.0h0M479.9 53.4h0M475.2 55.5h0M466.3 56.9h0M479.1 56.3h0M470.5 60.1h0M467.0 60.9h0M478.6 61.5h0M471.3 62.2h0M470.6 63.8h0M470.2 67.2h0M462.4 67.2h0M474.1 71.1h0M479.9 70.8h0M478.5 79.0h0M480.9 82.3h0M501.5 49.9h0M491.5 50.9h0M501.5 50.8h0M499.8 51.4h0M494.1 52.9h0M496.5 52.5h0M506.0 52.5h0M503.6 53.8h0M496.1 55.0h0M497.2 55.1h0M499.1 54.5h0M503.0 56.6h0M503.0 57.5h0M505.1 57.4h0M507.2 57.9h0M498.9 58.2h0M501.0 58.1h0M503.6 60.0h0M495.4 57.5h0M497.0 58.8h0M495.3 60.5h0M498.9 60.6h0M495.7 61.4h0M512.4 65.6h0M510.2 69.2h0M497.1 69.9h0M499.5 70.7h0M496.8 73.0h0M520.0 73.4h0M507.3 74.3h0M513.1 72.9h0M517.6 73.4h0M520.1 73.4h0M520.7 74.0h0M494.5 77.3h0M508.6 77.9h0M515.5 77.5h0M497.8 81.8h0M502.3 81.2h0M503.3 82.4h0M502.8 83.3h0M502.9 85.1h0M511.5 85.9h0M505.5 89.5h0M509.5 89.5h0M508.6 90.3h0M513.5 96.8h0M516.2 96.2h0M512.8 97.0h0M515.0 97.9h0M511.9 98.0h0M512.4 98.4h0M517.1 98.7h0M515.8 99.4h0M517.0 98.6h0M513.1 100.0h0M515.0 94.8h0" fill="none" stroke="#22908c" stroke-width="1.9" stroke-linecap="round"/><path d="M479.0 48.6h0M477.9 56.3h0M467.7 58.9h0M476.4 58.8h0M475.1 70.7h0M496.5 43.6h0M496.5 45.7h0M492.7 50.8h0M493.4 50.5h0M493.6 51.8h0M505.1 51.7h0M505.1 52.8h0M491.6 53.6h0M494.4 53.1h0M494.9 53.3h0M502.3 53.5h0M493.8 54.7h0M498.3 54.6h0M500.1 53.7h0M502.6 54.4h0M506.6 54.0h0M507.3 53.9h0M491.9 54.8h0M493.3 55.1h0M493.7 55.6h0M503.1 55.3h0M494.7 55.5h0M496.2 55.9h0M501.8 55.5h0M505.9 55.4h0M497.7 56.6h0M500.7 56.4h0M504.9 56.4h0M506.4 57.5h0M499.2 58.1h0M500.6 57.2h0M502.6 57.7h0M503.6 59.2h0M504.4 59.3h0M507.7 59.2h0M505.6 59.1h0M505.5 60.0h0M500.0 61.4h0M505.6 61.8h0M502.5 63.0h0M498.8 59.3h0M497.4 60.0h0M495.8 63.8h0M497.9 62.7h0M511.9 63.1h0M513.5 63.7h0M514.8 64.2h0M514.4 64.2h0M501.8 66.2h0M502.8 66.0h0M514.4 66.4h0M521.8 67.0h0M496.2 67.3h0M501.9 67.8h0M503.7 68.0h0M506.1 66.6h0M510.8 67.9h0M496.6 68.3h0M502.2 68.8h0M505.6 67.5h0M508.2 67.6h0M516.3 68.6h0M501.7 68.8h0M503.7 68.6h0M517.1 69.2h0M496.6 69.6h0M507.2 69.5h0M513.5 69.9h0M519.3 70.4h0M506.1 70.2h0M511.8 70.5h0M514.8 70.5h0M519.3 70.2h0M495.4 71.4h0M502.0 71.9h0M508.2 71.3h0M510.5 72.1h0M520.1 72.2h0M502.0 73.1h0M511.5 73.5h0M494.1 74.8h0M521.8 74.8h0M515.0 75.9h0M499.5 76.5h0M499.4 76.8h0M511.7 76.9h0M516.7 76.2h0M494.2 77.4h0M517.4 77.2h0M496.6 78.7h0M503.8 78.7h0M518.4 77.8h0M500.2 79.2h0M510.9 79.3h0M500.6 79.5h0M508.2 80.1h0M516.8 80.2h0M495.3 80.5h0M502.8 81.3h0M506.7 80.6h0M509.1 81.3h0M514.8 81.3h0M518.2 82.1h0M506.7 82.8h0M513.5 83.5h0M518.5 84.0h0M518.4 84.2h0M506.2 85.8h0M510.8 86.5h0M512.1 85.9h0M509.3 86.5h0M510.6 86.9h0M507.0 88.4h0M510.8 88.8h0M511.2 88.1h0M512.1 89.0h0M510.1 90.2h0M510.1 90.5h0M515.3 96.7h0M513.7 99.3h0M513.9 99.5h0M517.1 100.3h0M509.0 59.0h0" fill="none" stroke="#2dae7f" stroke-width="1.9" stroke-linecap="round"/><path d="M477.8 51.1h0M497.7 42.6h0M496.0 44.1h0M497.0 45.3h0M504.9 50.3h0M503.8 50.4h0M492.7 52.1h0M503.3 52.4h0M496.0 53.5h0M506.4 53.4h0M492.1 54.1h0M504.1 55.0h0M497.7 56.5h0M503.8 56.2h0M505.8 56.9h0M499.4 58.2h0M502.8 61.8h0M504.2 61.9h0M505.3 61.4h0M499.5 64.3h0M499.0 65.1h0M503.7 63.9h0M505.9 63.4h0M509.7 63.6h0M512.1 63.7h0M510.4 64.8h0M511.3 65.3h0M514.0 65.1h0M516.5 64.2h0M517.7 65.3h0M499.4 65.8h0M502.5 65.7h0M505.5 65.0h0M517.4 64.8h0M499.2 66.2h0M506.1 65.7h0M509.7 65.7h0M511.9 65.9h0M516.1 66.0h0M516.7 66.5h0M519.7 67.0h0M498.4 67.6h0M501.0 67.3h0M507.9 67.9h0M513.6 67.6h0M518.1 67.9h0M498.8 68.8h0M502.0 68.1h0M511.0 67.9h0M520.8 68.8h0M494.5 69.5h0M496.2 69.0h0M496.1 69.5h0M497.7 68.6h0M503.5 69.3h0M510.3 69.6h0M517.9 69.2h0M519.1 69.5h0M500.7 69.6h0M504.3 69.6h0M517.2 69.8h0M517.3 70.1h0M492.3 71.6h0M498.9 71.1h0M502.2 71.0h0M507.3 70.8h0M510.6 71.6h0M516.5 71.0h0M520.2 70.6h0M498.9 71.4h0M515.5 71.7h0M521.3 71.8h0M492.0 72.8h0M494.7 72.1h0M498.1 72.1h0M502.6 72.1h0M512.1 72.3h0M513.4 72.3h0M520.7 72.9h0M492.2 73.3h0M499.5 73.0h0M505.6 73.3h0M508.9 74.0h0M518.7 73.9h0M521.1 73.1h0M495.2 75.1h0M498.9 75.0h0M502.2 74.2h0M508.5 74.0h0M516.9 73.9h0M499.7 75.3h0M500.4 75.6h0M507.5 74.7h0M517.0 75.3h0M519.9 76.1h0M522.4 75.8h0M493.9 76.7h0M501.5 75.9h0M501.5 75.8h0M504.8 76.7h0M507.2 76.4h0M514.4 77.0h0M521.2 75.7h0M497.3 77.0h0M514.0 76.6h0M516.5 77.3h0M519.9 77.9h0M494.9 77.9h0M500.1 78.2h0M502.8 77.8h0M505.4 77.5h0M509.2 78.4h0M506.5 79.2h0M508.4 79.0h0M512.3 78.4h0M497.3 79.2h0M498.3 80.3h0M499.0 80.6h0M502.6 79.5h0M515.0 79.9h0M518.0 79.6h0M520.5 79.7h0M497.0 80.5h0M501.1 80.4h0M516.0 80.1h0M521.9 80.6h0M498.8 81.8h0M505.1 81.5h0M506.3 82.2h0M511.4 82.1h0M513.1 82.4h0M505.1 82.6h0M513.1 82.4h0M516.5 81.9h0M500.7 83.5h0M502.3 82.8h0M507.0 83.0h0M509.5 84.2h0M516.8 83.1h0M502.3 83.9h0M519.4 83.8h0M520.1 84.4h0M501.4 84.9h0M508.8 86.0h0M514.4 85.3h0M516.4 84.8h0M517.0 85.2h0M505.6 86.7h0M506.7 86.5h0M507.5 86.1h0M515.7 86.1h0M506.9 86.5h0M507.4 87.8h0M510.6 87.0h0M511.9 86.9h0M513.1 86.7h0M514.4 87.3h0M515.8 86.9h0M504.5 87.7h0M506.1 87.9h0M512.1 89.4h0M512.8 96.4h0M514.6 97.9h0M514.8 98.2h0M512.2 99.9h0M516.1 100.5h0M516.5 101.6h0M494.5 48.2h0M498.9 49.1h0" fill="none" stroke="#5fc861" stroke-width="1.9" stroke-linecap="round"/><path d="M472.3 61.4h0M501.2 50.8h0M492.6 53.5h0M506.5 55.5h0M502.6 58.2h0M501.3 59.0h0M499.7 60.6h0M504.8 62.8h0M503.8 62.7h0M494.9 60.6h0M495.7 61.4h0M497.3 63.1h0M497.1 63.6h0M497.1 65.4h0M501.3 64.4h0M496.6 65.9h0M510.2 63.1h0M516.5 63.7h0M502.4 64.6h0M507.1 64.5h0M518.0 64.9h0M506.9 65.5h0M506.9 65.3h0M508.4 65.1h0M515.6 65.6h0M503.6 66.9h0M496.1 67.6h0M497.9 67.9h0M503.7 67.1h0M506.2 67.4h0M509.2 67.3h0M512.4 67.4h0M495.9 68.0h0M500.3 68.3h0M510.6 68.6h0M512.6 67.5h0M518.8 67.9h0M519.7 68.9h0M507.6 69.7h0M512.8 69.2h0M514.6 68.7h0M515.6 69.7h0M517.7 68.8h0M521.2 68.7h0M492.4 70.7h0M508.4 70.2h0M511.6 70.7h0M512.7 70.4h0M520.6 70.1h0M493.0 70.9h0M497.5 70.3h0M504.6 70.6h0M508.9 70.6h0M518.2 71.2h0M497.3 71.4h0M503.8 71.8h0M504.3 72.0h0M506.7 71.4h0M513.2 71.9h0M518.9 71.8h0M493.8 72.6h0M500.8 72.5h0M501.5 72.9h0M514.3 72.8h0M497.0 74.2h0M502.1 73.7h0M521.8 74.0h0M498.3 73.9h0M504.9 74.3h0M506.6 74.8h0M512.4 73.9h0M514.6 75.0h0M519.8 74.8h0M493.4 75.4h0M494.5 75.4h0M495.0 74.7h0M495.5 76.1h0M497.4 76.0h0M501.7 75.3h0M514.1 75.4h0M494.0 76.7h0M497.3 75.6h0M509.8 76.2h0M517.2 76.1h0M518.7 76.0h0M504.3 77.4h0M511.9 77.8h0M518.3 77.3h0M521.7 76.7h0M496.2 77.5h0M499.0 77.5h0M501.3 77.8h0M513.8 77.5h0M517.7 77.4h0M495.0 78.5h0M497.5 79.6h0M503.1 78.6h0M519.6 79.7h0M496.4 79.7h0M512.0 79.3h0M496.6 80.2h0M498.0 80.9h0M499.1 80.5h0M504.4 80.1h0M508.8 80.3h0M510.7 81.2h0M512.2 81.5h0M512.2 80.2h0M518.8 81.2h0M499.9 82.4h0M505.9 81.8h0M508.4 81.1h0M517.2 82.3h0M503.1 82.4h0M506.1 83.2h0M512.5 83.8h0M513.3 84.2h0M505.1 85.3h0M511.0 85.2h0M512.5 85.3h0M518.2 85.9h0M502.9 86.9h0M515.0 86.5h0M518.7 85.7h0M505.1 87.1h0M507.9 87.6h0M514.5 87.3h0M508.4 89.2h0M506.2 89.9h0M512.7 99.2h0M513.0 101.5h0M496.5 82.9h0" fill="none" stroke="#abdc32" stroke-width="1.9" stroke-linecap="round"/><path d="M500.0 53.0h0M504.5 52.9h0M496.8 56.1h0M506.4 58.5h0M502.5 61.9h0M503.3 61.7h0M494.5 57.5h0M501.5 63.3h0M509.7 63.2h0M505.5 63.5h0M508.8 63.0h0M515.6 63.6h0M502.8 64.3h0M509.8 64.2h0M511.9 64.0h0M505.0 65.8h0M510.2 66.1h0M510.2 66.0h0M512.9 64.8h0M518.8 66.0h0M500.8 66.3h0M501.5 67.1h0M505.0 66.4h0M515.5 66.2h0M512.6 67.3h0M521.4 67.1h0M521.7 66.8h0M514.0 68.6h0M515.4 68.7h0M521.5 67.5h0M498.3 68.5h0M499.9 68.6h0M506.0 69.7h0M508.3 68.4h0M503.8 69.5h0M509.5 69.7h0M510.7 69.6h0M494.1 71.5h0M496.0 70.4h0M506.6 70.6h0M513.1 71.2h0M515.2 70.7h0M520.3 70.9h0M493.0 72.5h0M498.9 71.5h0M500.6 72.1h0M505.3 71.2h0M510.1 72.0h0M511.9 71.4h0M512.0 71.2h0M516.6 71.7h0M522.8 71.4h0M505.6 72.2h0M506.1 72.7h0M507.6 72.9h0M511.5 73.1h0M514.9 72.4h0M498.9 74.1h0M507.5 74.2h0M511.0 73.7h0M512.7 73.1h0M516.0 73.8h0M517.7 74.3h0M507.1 73.8h0M509.3 73.8h0M511.4 74.0h0M513.1 74.2h0M514.2 74.5h0M517.6 74.0h0M498.7 74.8h0M502.1 75.0h0M505.1 75.7h0M506.8 75.2h0M509.9 75.4h0M517.7 74.9h0M518.4 75.6h0M496.2 76.5h0M496.1 76.1h0M504.0 75.6h0M508.1 76.5h0M512.9 75.6h0M521.8 76.0h0M492.9 76.6h0M499.1 77.6h0M500.8 77.6h0M503.2 77.0h0M504.1 76.7h0M507.6 77.8h0M510.9 77.2h0M518.6 76.6h0M507.8 78.3h0M508.4 78.3h0M511.4 78.6h0M511.8 78.3h0M519.3 77.4h0M522.5 78.1h0M498.7 79.4h0M502.5 79.3h0M516.6 79.2h0M502.7 80.0h0M506.1 79.3h0M511.6 80.6h0M512.7 80.2h0M517.7 79.4h0M504.7 80.7h0M505.8 80.3h0M521.8 80.7h0M510.5 82.1h0M510.7 81.6h0M515.0 81.7h0M520.4 81.1h0M501.8 82.9h0M507.6 82.0h0M509.9 83.0h0M512.8 82.8h0M518.0 83.1h0M518.9 83.1h0M520.6 82.8h0M500.5 83.8h0M504.0 82.9h0M506.0 83.1h0M501.2 84.9h0M505.5 84.7h0M514.2 83.8h0M514.4 84.9h0M515.1 84.3h0M517.5 85.0h0M502.1 85.6h0M506.6 84.8h0M507.1 85.2h0M509.4 84.9h0M511.9 85.6h0M503.9 86.4h0M513.4 86.3h0M503.1 86.9h0M505.1 87.8h0M504.3 88.0h0M508.8 88.8h0M515.3 99.6h0M516.4 91.1h0" fill="none" stroke="#fde725" stroke-width="1.9" stroke-linecap="round"/>
<text x="575.5" y="39" font-size="7.6" text-anchor="middle" fill="#1a1a1a" stroke="#1a1a1a" stroke-width="0.17" font-style="italic" >Col17a1<tspan font-size="55%" dy="-0.82em">hi</tspan><tspan dy="0.45em">: Col17a1</tspan></text>
<path d="M557.9 46.9h0M558.7 47.1h0M559.0 47.8h0M560.6 47.4h0M556.9 48.3h0M556.1 49.9h0M559.8 49.7h0M552.4 50.7h0M556.6 50.3h0M552.7 51.3h0M552.7 52.0h0M556.0 51.2h0M559.6 51.3h0M551.3 52.8h0M553.9 52.3h0M554.6 52.8h0M559.9 52.1h0M552.3 53.0h0M553.4 53.1h0M557.4 53.3h0M549.6 54.3h0M548.5 56.0h0M553.7 56.8h0M552.3 56.8h0M558.5 57.3h0M559.6 57.5h0M546.0 58.3h0M554.9 58.4h0M558.5 57.4h0M558.7 58.0h0M546.7 58.2h0M552.4 58.2h0M553.5 58.4h0M554.1 58.9h0M554.7 59.2h0M560.2 58.9h0M551.4 59.0h0M558.8 59.2h0M552.3 60.4h0M554.3 60.8h0M555.2 61.3h0M556.8 61.7h0M550.6 61.7h0M555.2 61.8h0M560.7 62.3h0M546.9 62.4h0M550.2 62.1h0M558.0 63.2h0M561.6 63.3h0M544.4 63.1h0M545.7 63.1h0M551.4 64.2h0M557.9 64.5h0M561.1 64.3h0M543.3 65.4h0M543.9 65.7h0M547.1 65.2h0M548.1 64.7h0M550.0 65.4h0M558.5 65.7h0M543.3 66.4h0M548.7 66.3h0M559.9 65.8h0M560.6 65.6h0M544.7 67.0h0M546.5 67.3h0M548.8 66.4h0M553.3 66.4h0M544.7 68.0h0M549.0 69.0h0M561.7 68.3h0M547.9 68.7h0M557.9 69.7h0M558.4 69.9h0M559.1 69.8h0M559.5 69.3h0M547.8 69.9h0M549.3 70.0h0M550.4 70.1h0M554.1 69.6h0M556.9 70.2h0M552.5 71.3h0M555.4 71.3h0M562.2 71.2h0M557.2 72.9h0M557.7 72.5h0M560.1 73.7h0M559.1 73.7h0M562.8 73.7h0M560.6 74.7h0M561.1 76.1h0M562.1 77.1h0M562.3 77.2h0M559.8 77.8h0M560.8 78.0h0M560.3 79.6h0M561.4 80.0h0M563.3 80.5h0M561.2 81.2h0M562.4 80.7h0M562.8 80.7h0M560.7 81.6h0M565.9 67.7h0M565.8 69.9h0M566.5 70.0h0M566.0 71.4h0M564.6 72.1h0M565.5 71.6h0M564.1 72.2h0M578.1 71.9h0M598.3 97.6h0" fill="none" stroke="#440154" stroke-width="1.9" stroke-linecap="round"/><path d="M558.1 45.8h0M560.6 46.4h0M557.2 46.9h0M555.6 48.0h0M556.1 48.0h0M557.6 48.6h0M557.5 49.5h0M561.6 49.2h0M558.8 50.5h0M554.6 51.3h0M559.5 50.7h0M560.1 50.9h0M551.4 51.7h0M554.8 51.9h0M560.3 52.0h0M558.1 52.6h0M557.7 53.7h0M558.7 53.0h0M560.4 53.7h0M550.8 53.4h0M551.8 53.5h0M556.0 54.1h0M556.8 53.5h0M557.8 53.5h0M549.3 55.2h0M551.7 54.2h0M556.9 54.2h0M558.7 54.8h0M553.6 55.4h0M555.1 55.1h0M557.5 55.3h0M549.3 55.9h0M557.6 56.4h0M560.3 56.9h0M549.6 57.1h0M550.5 57.7h0M552.9 57.0h0M553.8 57.3h0M556.3 57.2h0M561.1 57.3h0M547.4 58.3h0M547.9 57.8h0M550.0 57.6h0M551.7 57.6h0M553.5 58.3h0M557.2 58.1h0M551.3 58.8h0M546.0 59.9h0M552.7 59.4h0M555.8 59.8h0M560.1 59.7h0M560.6 59.7h0M545.0 60.5h0M548.3 60.2h0M550.8 60.1h0M552.4 60.0h0M555.4 60.8h0M556.3 60.8h0M559.4 60.5h0M548.5 60.6h0M550.2 61.5h0M550.9 61.8h0M556.3 61.0h0M558.2 61.6h0M554.3 62.1h0M561.8 62.2h0M562.2 62.5h0M549.1 63.3h0M549.5 63.2h0M555.5 62.5h0M555.7 62.2h0M560.6 62.6h0M561.7 62.3h0M545.9 63.1h0M549.6 63.6h0M551.3 63.8h0M552.9 63.1h0M554.3 63.3h0M555.7 62.9h0M559.2 63.9h0M559.9 64.1h0M561.2 63.4h0M546.2 64.2h0M545.9 64.4h0M547.9 64.3h0M551.2 64.8h0M552.6 64.6h0M554.7 64.7h0M554.7 64.6h0M559.5 63.9h0M545.2 64.6h0M548.7 64.9h0M550.8 64.7h0M552.5 65.4h0M553.9 64.7h0M556.0 65.5h0M557.9 64.5h0M544.8 65.4h0M547.1 66.6h0M553.2 66.1h0M555.9 66.2h0M556.6 65.6h0M544.7 66.2h0M546.6 67.3h0M547.8 67.3h0M550.5 67.4h0M554.4 66.6h0M557.2 66.6h0M561.1 66.6h0M546.3 67.0h0M551.9 67.7h0M554.7 68.1h0M558.5 68.1h0M558.8 67.6h0M562.2 68.1h0M551.9 67.9h0M554.2 68.2h0M557.1 69.1h0M560.9 69.0h0M546.7 69.4h0M548.6 69.7h0M549.9 69.7h0M560.5 69.7h0M562.5 68.6h0M552.8 70.4h0M558.5 69.5h0M560.2 69.7h0M561.9 70.2h0M550.8 70.5h0M553.2 71.2h0M554.6 71.1h0M554.7 70.6h0M557.3 70.9h0M560.7 71.2h0M553.5 71.1h0M557.1 71.4h0M558.0 71.9h0M558.3 71.8h0M563.4 72.3h0M553.8 72.2h0M556.3 71.8h0M560.3 72.7h0M561.1 72.1h0M557.3 73.6h0M560.2 74.7h0M560.0 74.9h0M559.9 75.6h0M560.7 75.1h0M560.0 75.7h0M560.9 77.8h0M561.5 77.8h0M561.8 77.6h0M562.4 79.3h0M560.8 80.5h0M563.0 81.9h0M560.7 81.8h0M560.8 81.9h0M561.7 81.7h0M561.0 82.5h0M566.8 68.3h0M565.9 70.9h0M565.3 72.9h0M575.4 54.8h0M576.6 60.7h0M574.3 55.6h0M576.2 54.1h0M585.1 50.8h0M582.5 52.8h0M581.3 53.6h0M575.2 55.6h0M587.5 54.7h0M588.0 55.4h0M583.9 57.2h0M585.9 59.0h0M587.5 58.9h0M583.8 60.0h0M584.8 59.1h0M582.9 60.2h0M576.0 58.9h0M595.3 64.1h0M580.4 71.3h0M604.2 72.7h0M579.4 81.5h0M580.5 82.0h0M597.9 96.1h0M594.0 97.7h0M595.8 98.9h0M597.9 100.6h0M595.6 101.7h0M596.2 102.2h0M578.4 82.9h0" fill="none" stroke="#472c7a" stroke-width="1.9" stroke-linecap="round"/><path d="M556.6 47.2h0M560.7 48.8h0M560.6 48.4h0M561.0 49.1h0M556.9 49.3h0M560.5 49.5h0M558.4 50.4h0M556.6 50.9h0M560.1 51.8h0M551.6 52.9h0M555.0 53.6h0M550.0 53.5h0M549.8 55.2h0M553.8 54.7h0M553.9 54.4h0M555.8 54.1h0M556.9 55.2h0M558.5 54.2h0M549.2 55.7h0M549.4 56.0h0M555.2 55.0h0M557.4 54.9h0M560.9 56.1h0M550.3 55.8h0M560.9 56.6h0M547.5 57.3h0M554.1 57.3h0M550.9 58.5h0M560.1 58.3h0M546.8 59.4h0M547.3 59.5h0M554.0 59.7h0M553.7 59.6h0M545.7 60.0h0M554.4 60.6h0M547.6 61.2h0M561.9 61.6h0M556.5 62.1h0M558.1 61.6h0M545.2 62.5h0M548.1 62.5h0M552.8 62.7h0M557.5 62.9h0M559.6 63.1h0M546.8 63.6h0M554.2 63.3h0M543.5 64.3h0M548.0 65.0h0M550.8 64.6h0M553.4 64.9h0M560.6 64.4h0M553.0 65.7h0M559.3 65.4h0M545.0 65.6h0M549.1 65.9h0M550.7 66.5h0M550.8 66.4h0M551.4 66.6h0M552.2 67.3h0M556.2 66.4h0M562.0 66.8h0M551.0 68.0h0M555.7 67.6h0M546.8 68.9h0M547.4 67.9h0M555.4 68.4h0M556.3 68.9h0M557.7 69.0h0M559.0 68.0h0M549.6 69.9h0M551.2 70.3h0M554.3 69.5h0M557.8 71.5h0M560.5 70.6h0M551.6 71.4h0M553.5 71.7h0M556.9 73.6h0M562.0 73.2h0M561.3 74.7h0M561.8 74.8h0M561.9 75.9h0M561.0 76.5h0M559.8 79.0h0M561.0 78.9h0M561.5 78.2h0M562.4 79.1h0M559.6 80.0h0M560.3 80.1h0M562.0 81.6h0M562.4 81.7h0M563.3 82.3h0M561.3 82.8h0M566.2 69.3h0M565.5 70.2h0M565.6 71.3h0M564.8 73.8h0M580.2 66.6h0M578.2 42.6h0M579.6 43.1h0M578.7 43.2h0M578.4 44.6h0M584.4 50.2h0M575.3 52.0h0M581.7 51.6h0M582.9 52.0h0M586.6 52.0h0M580.2 52.7h0M573.7 52.9h0M575.9 53.9h0M583.0 53.8h0M587.2 54.5h0M579.7 56.6h0M580.3 56.9h0M583.1 56.5h0M580.2 58.1h0M585.4 57.8h0M589.0 57.8h0M584.1 58.9h0M589.0 60.2h0M586.1 60.3h0M577.3 60.1h0M577.5 62.8h0M578.4 62.7h0M584.4 65.9h0M581.5 69.3h0M580.2 70.3h0M599.9 71.9h0M574.2 72.9h0M578.6 75.1h0M577.1 78.4h0M600.9 78.4h0M603.3 78.4h0M599.5 82.4h0M599.1 84.1h0M601.5 84.5h0M596.6 95.4h0M595.8 97.2h0M595.8 96.8h0M596.8 98.7h0M599.2 98.2h0M597.9 99.6h0M576.4 48.2h0M590.9 59.0h0" fill="none" stroke="#3b528a" stroke-width="1.9" stroke-linecap="round"/><path d="M560.3 47.3h0M555.3 48.6h0M556.5 48.6h0M560.7 50.0h0M557.9 51.0h0M553.8 53.8h0M552.9 56.2h0M546.6 57.4h0M546.4 59.0h0M547.8 58.5h0M559.6 59.4h0M558.7 60.1h0M549.1 61.3h0M558.2 63.6h0M554.4 67.1h0M555.0 68.0h0M554.4 71.7h0M561.1 72.2h0M558.4 73.8h0M559.9 74.0h0M560.2 76.3h0M562.1 79.1h0M564.1 73.1h0M603.2 71.9h0M579.0 45.5h0M574.9 50.3h0M581.5 51.2h0M583.8 50.3h0M585.6 50.3h0M575.1 50.9h0M584.6 51.5h0M588.3 51.9h0M574.7 53.0h0M587.4 51.8h0M576.3 53.4h0M579.3 53.1h0M581.9 53.1h0M585.1 52.7h0M586.1 53.7h0M577.5 54.8h0M581.5 54.8h0M577.0 55.9h0M579.4 55.4h0M583.5 55.7h0M583.7 56.5h0M586.7 55.9h0M583.0 57.3h0M581.1 58.1h0M585.6 58.3h0M589.2 57.5h0M579.7 58.2h0M588.6 58.9h0M588.2 60.2h0M585.1 60.1h0M587.5 59.9h0M578.8 59.4h0M581.1 60.6h0M578.5 63.0h0M580.4 64.1h0M595.1 65.0h0M583.1 65.7h0M588.0 66.2h0M598.9 65.8h0M593.9 66.1h0M601.3 66.4h0M602.3 67.0h0M592.4 68.4h0M583.7 71.5h0M593.4 71.1h0M577.0 71.5h0M581.1 71.4h0M573.9 73.2h0M576.9 72.4h0M577.6 73.1h0M603.4 73.4h0M574.9 74.5h0M592.4 75.0h0M581.5 76.1h0M599.1 75.4h0M597.2 76.1h0M576.7 77.1h0M578.0 76.6h0M579.1 76.5h0M582.0 77.3h0M577.2 79.6h0M579.9 79.4h0M582.5 80.2h0M601.9 80.6h0M579.5 80.4h0M599.6 81.0h0M586.4 82.0h0M591.8 81.9h0M601.0 81.6h0M603.2 81.0h0M590.1 82.6h0M599.6 82.7h0M602.6 82.3h0M586.7 83.7h0M598.6 84.1h0M601.3 83.9h0M600.5 84.0h0M588.5 85.7h0M591.4 85.4h0M593.5 85.7h0M599.6 85.6h0M585.7 86.6h0M586.2 86.7h0M594.1 86.0h0M593.9 85.7h0M595.6 85.9h0M597.0 86.5h0M586.0 86.9h0M587.0 87.8h0M588.1 87.6h0M596.8 87.3h0M589.7 88.4h0M587.8 88.5h0M587.7 89.5h0M597.7 96.0h0M595.2 96.3h0M597.0 96.1h0M597.5 96.9h0M598.1 97.8h0M598.2 99.5h0M596.0 100.5h0M598.3 91.1h0M596.9 94.8h0" fill="none" stroke="#2d728e" stroke-width="1.9" stroke-linecap="round"/><path d="M555.8 50.6h0M555.5 57.7h0M578.2 45.6h0M579.8 45.6h0M585.8 52.8h0M588.9 52.8h0M577.8 53.3h0M582.9 53.6h0M586.9 53.7h0M578.0 54.1h0M584.2 53.8h0M584.7 54.6h0M582.0 55.1h0M581.6 56.3h0M586.9 56.1h0M584.2 57.0h0M589.8 57.2h0M587.4 57.7h0M583.2 58.9h0M582.3 60.0h0M582.6 59.7h0M584.0 62.3h0M586.3 62.6h0M587.3 62.2h0M585.2 63.1h0M579.1 59.8h0M579.7 63.0h0M581.3 63.8h0M584.2 63.5h0M578.9 65.2h0M579.8 66.5h0M579.6 66.8h0M588.4 63.3h0M584.2 64.4h0M591.3 63.7h0M591.6 63.2h0M596.3 63.8h0M599.7 64.0h0M587.3 65.0h0M590.5 64.0h0M592.0 64.3h0M598.9 63.9h0M594.9 65.9h0M598.0 65.9h0M591.7 65.7h0M598.4 66.8h0M598.2 67.0h0M579.4 67.2h0M587.6 66.8h0M591.9 66.7h0M594.4 66.6h0M598.9 67.9h0M600.5 67.7h0M601.4 67.0h0M576.6 68.3h0M579.7 68.2h0M585.4 68.5h0M591.5 67.6h0M591.9 68.9h0M598.8 67.8h0M599.5 68.4h0M603.9 68.6h0M578.3 69.0h0M583.5 68.7h0M586.6 69.0h0M601.1 69.1h0M601.2 69.0h0M602.1 69.4h0M577.4 70.4h0M584.5 70.2h0M593.8 70.3h0M601.2 69.8h0M578.6 70.8h0M588.6 71.3h0M601.6 71.6h0M586.4 72.1h0M593.7 71.8h0M602.3 71.9h0M604.7 72.2h0M580.4 73.0h0M581.1 72.1h0M574.2 73.0h0M575.6 73.4h0M579.2 73.0h0M580.0 73.1h0M581.4 73.1h0M587.1 73.0h0M598.2 74.0h0M599.6 72.9h0M576.9 75.1h0M588.6 74.8h0M600.1 74.0h0M603.8 75.0h0M575.3 75.7h0M576.0 75.1h0M583.1 76.1h0M583.3 75.2h0M586.2 74.8h0M600.5 75.8h0M574.3 76.0h0M582.6 76.7h0M592.3 76.8h0M594.1 75.6h0M575.0 77.7h0M577.3 77.2h0M586.2 76.5h0M587.3 77.1h0M603.5 77.2h0M575.1 77.8h0M578.1 78.6h0M589.4 77.9h0M596.7 77.5h0M601.4 78.5h0M578.1 79.7h0M579.9 78.8h0M584.1 78.4h0M589.7 79.5h0M596.5 79.1h0M601.7 79.4h0M577.6 80.2h0M587.8 79.5h0M581.1 80.1h0M581.9 80.9h0M583.7 80.3h0M590.8 81.4h0M592.5 80.2h0M594.4 80.3h0M582.4 81.5h0M590.2 82.1h0M591.6 82.8h0M595.1 83.3h0M597.7 82.2h0M600.8 82.8h0M587.2 82.8h0M593.6 84.0h0M600.1 84.1h0M584.0 85.1h0M590.0 84.7h0M593.9 84.5h0M597.3 84.2h0M597.4 83.8h0M583.0 85.0h0M594.9 85.5h0M600.5 85.9h0M589.2 85.6h0M589.7 85.9h0M598.0 86.1h0M594.1 87.3h0M591.5 88.1h0M587.8 89.4h0M589.9 89.4h0M590.3 88.5h0M591.9 88.3h0M589.8 89.7h0M595.2 98.6h0M594.3 98.5h0M594.8 99.5h0M597.3 98.7h0M594.2 99.6h0M597.0 100.5h0M596.2 100.6h0M596.7 102.0h0M580.8 49.1h0" fill="none" stroke="#22908c" stroke-width="1.9" stroke-linecap="round"/><path d="M557.1 57.6h0M573.5 51.2h0M580.3 53.0h0M584.6 52.3h0M588.1 52.8h0M573.7 54.0h0M586.7 54.1h0M575.7 55.3h0M585.9 55.3h0M580.7 56.6h0M580.8 57.4h0M582.3 58.2h0M589.1 61.1h0M586.8 61.1h0M582.5 61.8h0M583.5 62.8h0M576.9 58.0h0M578.9 57.5h0M580.7 65.9h0M595.2 63.4h0M586.4 64.0h0M597.4 64.3h0M589.1 64.4h0M595.4 64.3h0M597.3 64.5h0M598.3 64.6h0M599.3 63.9h0M601.3 65.2h0M581.6 65.9h0M585.6 65.7h0M591.9 65.0h0M599.0 66.1h0M601.1 65.4h0M582.2 66.7h0M584.2 66.9h0M589.3 67.0h0M591.3 66.2h0M594.0 66.0h0M576.9 67.8h0M579.2 68.0h0M580.9 68.0h0M583.4 67.3h0M590.0 66.8h0M581.4 68.5h0M582.8 67.7h0M587.5 67.6h0M593.1 68.6h0M594.3 67.5h0M597.2 68.5h0M598.2 68.9h0M579.3 68.7h0M580.3 69.0h0M584.3 69.7h0M597.3 68.6h0M598.1 69.8h0M599.3 69.2h0M578.5 69.5h0M588.6 69.4h0M592.7 69.8h0M596.3 69.8h0M597.3 70.2h0M597.8 69.5h0M603.8 69.3h0M574.4 70.5h0M576.6 70.5h0M591.0 71.6h0M595.5 70.5h0M599.0 70.6h0M598.7 70.7h0M601.1 71.6h0M602.2 70.7h0M584.9 71.3h0M585.6 71.6h0M597.9 71.6h0M603.7 72.3h0M575.5 73.2h0M578.1 72.8h0M581.9 73.1h0M590.5 73.3h0M593.6 72.3h0M597.8 73.1h0M600.0 72.1h0M576.8 73.4h0M582.8 73.2h0M597.1 73.5h0M601.7 74.3h0M601.6 74.3h0M604.0 74.3h0M578.5 74.3h0M582.7 75.2h0M583.6 75.1h0M585.5 74.0h0M590.8 73.9h0M595.8 74.9h0M596.7 74.8h0M598.7 75.2h0M580.4 75.4h0M587.3 75.2h0M589.5 75.2h0M591.1 75.8h0M593.6 75.6h0M594.3 75.2h0M597.4 76.1h0M603.9 75.6h0M576.1 76.6h0M577.7 76.5h0M579.9 75.6h0M583.2 76.7h0M587.5 76.3h0M599.1 75.9h0M579.9 77.7h0M582.6 76.5h0M583.0 76.7h0M584.0 77.6h0M590.5 77.1h0M592.7 77.6h0M593.4 77.6h0M602.8 76.8h0M577.0 78.0h0M579.4 77.9h0M586.7 77.5h0M587.6 77.5h0M591.2 77.9h0M594.4 78.2h0M597.6 77.5h0M598.8 78.6h0M581.1 79.1h0M591.3 78.9h0M592.9 78.8h0M594.3 78.8h0M598.7 79.3h0M602.6 78.8h0M583.2 79.5h0M584.9 80.0h0M585.6 79.9h0M587.2 79.2h0M591.5 80.1h0M593.5 79.6h0M599.7 79.2h0M600.4 80.4h0M588.3 80.9h0M588.8 80.5h0M600.7 80.6h0M602.2 81.0h0M580.1 81.3h0M582.3 82.3h0M587.9 82.0h0M591.2 81.4h0M596.3 81.9h0M603.1 81.7h0M587.0 82.9h0M588.6 82.4h0M596.3 82.2h0M602.7 82.5h0M599.1 83.7h0M585.6 85.1h0M589.8 84.9h0M591.8 85.0h0M583.7 85.2h0M585.9 85.7h0M586.8 84.9h0M588.9 85.6h0M593.2 86.1h0M598.5 86.0h0M591.4 86.4h0M588.9 87.7h0M593.5 88.7h0M595.0 87.7h0M596.8 88.6h0M588.4 89.3h0M593.9 89.6h0M595.9 101.3h0" fill="none" stroke="#2dae7f" stroke-width="1.9" stroke-linecap="round"/><path d="M586.7 57.4h0M583.7 63.1h0M586.3 63.1h0M589.4 63.4h0M585.4 65.1h0M588.6 65.2h0M589.1 65.7h0M592.8 66.1h0M587.4 66.3h0M584.5 67.7h0M584.8 67.1h0M595.7 67.9h0M595.6 67.4h0M597.6 67.1h0M580.0 68.0h0M582.6 68.7h0M586.1 68.2h0M601.1 68.4h0M576.2 68.4h0M581.4 69.2h0M588.9 69.7h0M590.6 68.9h0M591.9 69.5h0M596.1 69.1h0M582.2 70.2h0M583.7 69.9h0M586.2 69.6h0M587.2 69.4h0M590.4 69.6h0M601.7 69.7h0M577.3 71.5h0M582.3 71.3h0M582.9 72.0h0M588.3 72.5h0M589.0 72.5h0M591.1 71.8h0M594.2 71.6h0M583.7 73.2h0M587.9 73.2h0M588.1 73.2h0M591.2 73.2h0M595.2 73.0h0M596.2 73.0h0M578.5 74.0h0M592.5 73.1h0M593.8 73.6h0M595.9 74.1h0M579.8 74.2h0M586.2 74.5h0M587.9 74.0h0M592.9 74.7h0M595.6 74.4h0M601.6 74.3h0M576.4 75.4h0M584.8 75.1h0M589.0 75.0h0M597.2 75.4h0M576.8 76.3h0M579.3 75.6h0M587.8 76.9h0M594.7 75.6h0M601.0 76.2h0M594.3 77.9h0M598.7 77.6h0M599.3 76.9h0M583.5 78.0h0M583.9 78.2h0M584.8 78.6h0M592.0 78.8h0M593.2 78.5h0M593.4 78.2h0M584.1 79.1h0M585.9 78.3h0M587.5 79.7h0M596.3 78.7h0M599.7 79.5h0M593.5 79.5h0M593.5 80.8h0M597.4 81.5h0M599.2 81.0h0M595.4 81.7h0M597.9 81.7h0M600.5 82.0h0M584.6 82.6h0M585.5 82.5h0M589.3 83.1h0M589.2 83.2h0M593.6 84.0h0M595.5 83.4h0M596.0 83.5h0M602.0 83.3h0M586.8 83.9h0M598.0 85.0h0M592.3 86.7h0M590.2 86.9h0M590.2 86.5h0M588.1 87.6h0M591.6 88.0h0M592.1 89.1h0M593.4 89.2h0" fill="none" stroke="#5fc861" stroke-width="1.9" stroke-linecap="round"/><path d="M585.0 65.4h0M588.1 66.0h0M595.5 66.4h0M586.3 67.6h0M589.7 68.7h0M595.4 67.6h0M582.7 68.8h0M598.9 69.5h0M584.8 71.2h0M589.0 71.3h0M590.7 71.4h0M597.0 70.5h0M603.6 70.6h0M589.8 72.4h0M585.0 72.8h0M585.9 72.2h0M593.9 73.1h0M599.9 72.0h0M601.0 73.0h0M587.9 74.3h0M590.6 73.0h0M595.2 75.2h0M585.9 76.9h0M589.9 75.8h0M590.2 76.5h0M600.6 75.7h0M588.7 77.0h0M597.2 77.6h0M580.8 77.8h0M586.0 79.6h0M584.6 82.3h0M586.8 81.1h0M587.6 82.3h0M587.5 84.5h0M589.3 88.7h0M596.1 88.0h0" fill="none" stroke="#abdc32" stroke-width="1.9" stroke-linecap="round"/><path d="M591.1 65.1h0M593.9 66.2h0M588.9 67.1h0M597.0 66.7h0M588.3 68.4h0M588.0 68.5h0M588.8 69.4h0M593.9 70.6h0M585.8 71.5h0M592.0 73.6h0M592.0 76.1h0M593.6 76.0h0M596.2 76.1h0M598.6 76.9h0M596.4 77.2h0M595.0 79.3h0" fill="none" stroke="#fde725" stroke-width="1.9" stroke-linecap="round"/>
<text x="494.4" y="115.4" font-size="7.6" text-anchor="middle" fill="#1a1a1a" stroke="#1a1a1a" stroke-width="0.17" font-style="italic" >Cux1<tspan font-size="55%" dy="-0.82em">hi</tspan><tspan dy="0.45em">: Cux1</tspan></text>
<path d="M477.9 123.5h0M474.4 124.7h0M478.2 126.0h0M475.7 126.8h0M471.8 126.7h0M474.9 127.7h0M472.6 127.3h0M475.6 127.7h0M478.6 127.4h0M475.7 128.5h0M469.4 129.7h0M479.4 130.5h0M472.0 131.4h0M474.4 131.4h0M476.8 131.6h0M472.6 132.3h0M478.4 132.3h0M479.1 133.1h0M474.1 134.7h0M479.8 134.5h0M475.8 135.8h0M477.2 137.0h0M477.1 137.6h0M477.5 138.3h0M468.9 139.3h0M476.3 139.0h0M472.4 140.5h0M478.3 139.8h0M480.1 140.3h0M464.4 140.4h0M470.6 140.5h0M472.0 140.7h0M479.2 140.8h0M479.1 141.3h0M472.6 141.9h0M476.0 141.8h0M479.1 141.5h0M474.8 143.1h0M477.7 143.4h0M478.7 143.8h0M479.4 143.7h0M465.9 145.4h0M473.7 144.9h0M477.6 145.0h0M471.1 145.5h0M478.1 145.7h0M469.6 146.3h0M473.5 146.1h0M477.8 146.7h0M478.8 147.0h0M480.7 146.8h0M468.1 147.5h0M475.8 147.1h0M477.1 147.4h0M477.4 147.3h0M478.7 147.8h0M480.1 147.2h0M471.8 148.7h0M472.5 148.1h0M473.3 147.9h0M476.8 147.9h0M479.7 148.2h0M481.0 148.4h0M471.3 148.5h0M472.9 148.8h0M474.0 149.0h0M480.0 148.8h0M472.7 149.2h0M474.1 150.0h0M476.8 149.2h0M479.5 149.0h0M477.1 150.9h0M478.3 151.5h0M478.7 151.7h0M479.3 152.2h0M478.5 152.9h0M480.3 152.7h0M478.5 153.6h0M480.1 153.1h0M480.3 153.3h0M479.0 153.9h0M478.4 155.0h0M479.1 154.2h0M480.0 154.8h0M477.9 154.8h0M478.5 155.1h0M479.5 155.2h0M480.5 155.5h0M478.1 155.5h0M478.5 156.3h0M479.8 156.3h0M477.8 156.1h0M478.5 156.8h0M479.7 156.8h0M479.7 156.6h0M478.4 157.1h0M479.2 157.4h0M479.8 157.6h0M480.1 157.6h0M478.7 158.2h0M480.3 157.9h0M479.1 158.5h0M480.4 159.0h0M481.2 158.8h0M480.3 159.2h0M481.3 159.0h0M480.4 160.0h0M483.6 146.1h0M484.3 145.7h0M484.7 146.4h0M483.3 148.1h0M483.9 147.3h0M484.6 147.8h0M484.0 148.6h0M482.5 148.9h0M483.4 149.0h0M482.3 149.4h0M483.1 150.3h0M481.9 150.4h0M493.5 132.0h0M494.7 137.9h0M498.3 143.8h0M496.2 149.1h0M521.3 149.1h0M494.3 131.3h0M497.4 119.9h0M496.4 120.0h0M496.2 121.4h0M498.0 122.1h0M492.4 127.7h0M493.3 128.2h0M501.7 127.8h0M502.8 128.3h0M491.5 128.2h0M492.4 129.0h0M494.8 128.7h0M499.8 129.2h0M501.3 129.0h0M503.6 129.0h0M505.3 128.1h0M491.9 129.2h0M491.8 129.2h0M495.0 129.6h0M500.3 129.9h0M503.8 129.2h0M494.4 131.1h0M496.7 130.6h0M498.9 131.0h0M503.3 130.3h0M503.7 130.1h0M505.4 130.2h0M505.3 130.4h0M507.4 130.8h0M493.9 131.3h0M496.5 131.9h0M497.5 131.1h0M505.4 131.8h0M505.9 131.6h0M498.6 132.8h0M498.8 132.0h0M502.8 132.9h0M506.5 132.7h0M506.6 131.8h0M508.2 132.2h0M497.2 133.0h0M498.4 132.7h0M500.0 133.2h0M500.8 132.8h0M503.9 132.9h0M504.7 133.6h0M504.9 132.7h0M508.1 132.6h0M494.3 133.6h0M505.6 133.9h0M507.3 134.0h0M499.0 135.6h0M499.9 134.8h0M503.9 135.2h0M505.0 135.0h0M506.7 134.5h0M499.8 135.5h0M502.9 136.3h0M504.2 136.7h0M501.5 137.5h0M503.2 137.4h0M505.3 138.1h0M502.4 138.3h0M504.9 139.0h0M507.0 138.6h0M501.4 139.4h0M506.3 139.1h0M506.7 139.2h0M505.0 140.0h0M495.6 135.0h0M494.5 136.6h0M498.0 137.4h0M494.6 137.9h0M496.6 138.8h0M497.4 138.3h0M497.9 138.8h0M495.9 139.8h0M498.9 140.8h0M500.6 140.1h0M497.8 141.6h0M501.8 141.0h0M500.8 142.5h0M506.2 140.5h0M506.6 140.8h0M507.2 140.7h0M511.5 140.2h0M512.1 141.0h0M512.5 140.8h0M517.1 141.0h0M501.8 142.0h0M503.7 142.0h0M506.5 142.3h0M506.9 141.4h0M510.4 141.1h0M512.2 142.5h0M512.8 141.6h0M514.3 142.1h0M518.3 141.5h0M503.5 142.0h0M507.4 142.6h0M508.5 143.2h0M509.1 142.0h0M514.3 142.4h0M515.3 143.0h0M497.9 143.7h0M502.1 143.1h0M503.1 143.4h0M510.5 143.4h0M511.3 144.2h0M518.7 143.4h0M520.8 144.1h0M496.2 144.7h0M496.6 144.7h0M498.4 145.0h0M502.1 144.8h0M505.3 144.4h0M509.5 144.3h0M510.7 145.1h0M512.0 144.7h0M512.7 145.2h0M514.4 144.6h0M515.8 144.3h0M518.0 144.5h0M521.2 144.3h0M498.8 145.9h0M504.6 145.8h0M508.4 146.0h0M511.9 145.1h0M514.3 145.1h0M514.8 145.0h0M518.9 145.2h0M521.0 145.9h0M493.8 146.8h0M502.9 146.4h0M503.5 147.0h0M505.2 145.7h0M509.3 146.4h0M515.1 146.4h0M522.2 146.5h0M493.9 147.4h0M496.3 147.2h0M500.3 147.9h0M513.2 146.7h0M519.1 146.6h0M519.9 147.1h0M521.1 147.8h0M521.9 146.5h0M493.6 147.9h0M496.6 147.6h0M499.9 147.8h0M507.0 147.8h0M507.1 148.2h0M514.9 148.3h0M515.5 148.2h0M522.3 148.6h0M498.6 148.5h0M500.7 148.9h0M502.1 149.6h0M502.2 149.3h0M504.5 148.3h0M504.9 149.0h0M507.9 149.2h0M509.8 149.2h0M511.0 149.1h0M513.9 148.6h0M515.7 149.7h0M518.5 148.5h0M492.5 149.2h0M493.6 149.6h0M500.4 149.7h0M504.9 150.6h0M510.2 150.0h0M492.3 150.8h0M495.8 150.2h0M497.7 150.9h0M497.7 151.2h0M503.0 150.2h0M504.3 151.1h0M509.8 150.5h0M511.0 151.0h0M516.0 150.4h0M516.5 150.5h0M520.4 151.1h0M492.5 151.6h0M496.2 152.0h0M501.6 152.4h0M503.1 152.1h0M504.1 152.1h0M506.0 152.2h0M507.9 151.4h0M512.6 152.2h0M514.4 151.8h0M515.9 152.0h0M518.1 151.9h0M521.4 151.4h0M492.5 152.2h0M506.7 152.9h0M507.4 153.1h0M508.6 152.5h0M513.2 152.7h0M514.7 153.0h0M518.8 152.9h0M521.9 152.6h0M521.9 153.2h0M494.0 153.5h0M497.1 152.9h0M500.3 154.0h0M502.7 153.6h0M503.3 153.8h0M508.1 154.2h0M511.6 154.0h0M512.8 153.7h0M516.1 153.7h0M522.3 153.2h0M497.5 154.4h0M502.4 154.6h0M503.2 154.2h0M509.4 154.0h0M511.9 153.8h0M512.7 153.8h0M513.9 153.9h0M517.9 153.7h0M519.4 153.7h0M519.8 154.1h0M492.9 155.1h0M496.3 155.3h0M498.3 155.2h0M509.8 156.0h0M518.0 154.7h0M520.3 154.9h0M493.3 155.6h0M494.8 155.7h0M496.1 155.6h0M504.6 156.4h0M507.3 156.2h0M511.2 155.9h0M514.3 155.5h0M516.1 156.2h0M516.2 156.1h0M517.3 155.6h0M496.2 156.5h0M497.8 156.7h0M498.7 156.9h0M499.8 156.9h0M504.4 157.6h0M504.8 157.5h0M518.0 156.7h0M518.6 157.4h0M520.4 157.5h0M503.0 158.6h0M504.1 157.3h0M506.7 157.4h0M506.4 157.9h0M509.7 158.2h0M512.4 157.6h0M515.2 158.6h0M517.5 158.5h0M518.1 157.9h0M519.0 158.6h0M520.2 158.3h0M520.7 157.7h0M500.6 159.4h0M509.5 158.9h0M513.9 158.5h0M514.9 159.4h0M515.0 158.3h0M517.3 159.4h0M519.2 159.2h0M521.4 158.7h0M499.9 159.7h0M500.4 160.0h0M502.3 159.9h0M503.4 159.6h0M513.1 160.2h0M513.1 159.5h0M514.3 160.4h0M501.3 161.4h0M503.9 160.9h0M506.6 160.8h0M516.9 160.9h0M517.0 160.5h0M519.0 160.5h0M520.4 160.4h0M504.5 161.3h0M508.4 161.1h0M510.3 161.2h0M513.7 161.1h0M516.5 161.6h0M508.4 162.3h0M510.8 162.6h0M515.9 161.9h0M517.1 162.7h0M518.1 163.1h0M507.3 163.0h0M508.5 163.3h0M510.6 163.1h0M511.3 164.0h0M512.1 163.0h0M515.0 164.1h0M503.4 164.0h0M506.2 165.0h0M506.0 164.6h0M507.2 164.6h0M511.1 164.0h0M512.3 163.9h0M513.9 163.8h0M503.5 164.6h0M505.7 164.9h0M508.1 165.5h0M508.9 165.0h0M510.8 164.7h0M511.9 164.9h0M514.4 164.7h0M513.4 165.7h0M505.9 166.6h0M514.9 172.7h0M516.0 173.3h0M514.1 173.1h0M516.2 173.7h0M512.8 174.2h0M516.4 175.1h0M515.3 175.2h0M515.5 175.6h0M512.5 176.0h0M513.0 175.9h0M516.7 176.5h0M512.2 177.5h0M514.7 176.8h0M515.6 176.8h0M513.5 177.7h0M514.2 178.7h0M515.2 177.5h0M514.0 180.0h0M496.5 160.1h0M509.0 136.2h0" fill="none" stroke="#440154" stroke-width="1.9" stroke-linecap="round"/><path d="M477.6 125.4h0M478.8 125.3h0M477.1 126.7h0M477.3 127.3h0M478.6 128.5h0M474.9 129.2h0M477.2 131.4h0M468.1 132.3h0M473.3 132.2h0M472.5 136.5h0M478.4 138.9h0M477.2 139.5h0M479.4 139.3h0M470.9 140.2h0M466.3 141.1h0M475.3 142.1h0M477.1 143.0h0M478.2 142.7h0M469.2 143.3h0M477.1 143.1h0M470.9 144.5h0M474.7 144.2h0M479.4 144.7h0M477.0 146.0h0M477.3 146.2h0M469.2 147.2h0M471.5 147.5h0M473.3 146.6h0M481.2 146.9h0M468.2 148.0h0M479.6 148.6h0M481.3 149.3h0M475.0 149.8h0M475.5 149.8h0M476.3 150.9h0M479.4 151.0h0M479.1 151.0h0M477.8 151.6h0M478.2 153.6h0M480.8 156.3h0M481.4 158.1h0M479.7 159.3h0M484.0 145.7h0M496.1 119.9h0M497.2 119.6h0M496.3 121.4h0M496.8 122.9h0M498.0 123.0h0M500.2 128.0h0M500.1 128.5h0M502.4 128.7h0M496.8 130.1h0M498.4 129.3h0M500.8 129.4h0M491.7 131.1h0M495.3 131.1h0M501.0 130.2h0M493.0 130.9h0M502.6 130.8h0M504.2 131.6h0M492.6 131.7h0M497.3 132.4h0M501.2 132.6h0M503.6 132.8h0M497.3 132.8h0M502.3 133.0h0M495.2 133.6h0M500.0 133.8h0M501.0 133.9h0M503.4 133.7h0M505.3 134.4h0M498.4 134.6h0M504.6 134.7h0M507.9 134.9h0M501.1 135.7h0M501.2 135.6h0M503.7 136.5h0M504.3 136.5h0M506.2 135.4h0M506.6 135.5h0M499.6 136.3h0M507.6 136.8h0M499.7 137.3h0M498.3 135.6h0M497.7 140.1h0M499.2 140.3h0M502.0 141.1h0M495.7 141.0h0M497.2 142.8h0M496.3 142.5h0M499.5 142.1h0M508.2 140.7h0M510.4 141.1h0M503.3 141.1h0M507.6 141.4h0M513.6 141.4h0M516.0 142.2h0M501.0 143.0h0M501.6 142.6h0M505.1 142.2h0M511.3 142.3h0M511.9 142.3h0M516.9 142.7h0M518.9 142.1h0M500.0 144.0h0M500.5 143.8h0M504.1 143.1h0M512.0 144.2h0M516.0 144.1h0M517.7 143.5h0M497.2 144.1h0M499.7 144.1h0M503.0 143.8h0M505.1 145.2h0M506.1 144.4h0M510.6 144.7h0M521.0 144.1h0M493.2 146.1h0M493.4 146.0h0M499.0 145.9h0M502.8 145.6h0M505.8 145.6h0M510.3 144.9h0M513.0 144.8h0M516.9 144.7h0M518.0 145.4h0M521.4 145.8h0M494.2 146.4h0M495.2 146.6h0M500.4 145.7h0M508.6 146.8h0M510.6 145.6h0M515.8 145.7h0M519.5 146.3h0M520.3 146.6h0M495.1 147.3h0M503.9 147.0h0M505.2 147.7h0M507.0 147.5h0M509.7 147.6h0M513.2 146.5h0M515.4 147.8h0M494.2 147.8h0M498.5 148.6h0M498.6 147.7h0M502.7 148.1h0M505.5 148.8h0M509.5 148.3h0M511.7 148.1h0M511.6 147.7h0M515.9 148.6h0M519.0 148.5h0M519.9 147.7h0M520.3 147.9h0M493.7 148.3h0M493.7 148.7h0M494.6 149.6h0M499.9 148.7h0M506.1 148.9h0M507.9 148.9h0M510.0 148.4h0M512.9 148.3h0M517.4 148.7h0M517.3 148.9h0M521.4 149.0h0M502.7 149.7h0M507.1 149.5h0M507.9 150.0h0M512.1 150.2h0M516.4 150.2h0M520.9 149.9h0M492.8 151.3h0M499.2 151.1h0M505.5 150.9h0M505.7 150.7h0M507.3 150.6h0M508.4 150.2h0M512.1 151.4h0M512.2 150.7h0M513.0 150.1h0M515.5 150.1h0M519.8 150.7h0M520.9 150.4h0M496.1 151.6h0M498.1 152.1h0M498.2 151.9h0M500.6 152.3h0M506.0 151.6h0M509.4 151.9h0M510.8 151.8h0M512.7 151.1h0M514.6 151.4h0M516.8 151.1h0M519.6 151.8h0M520.9 151.3h0M495.6 152.8h0M499.5 153.1h0M501.1 152.5h0M501.2 152.9h0M507.6 152.5h0M509.9 152.0h0M514.0 152.6h0M516.3 152.7h0M519.3 152.5h0M519.9 153.2h0M493.7 153.6h0M495.0 154.2h0M497.6 153.5h0M506.0 153.3h0M506.2 152.9h0M509.3 154.0h0M514.5 152.9h0M519.1 153.0h0M520.2 153.4h0M495.5 153.7h0M496.7 154.7h0M499.1 154.3h0M499.1 154.0h0M505.3 154.6h0M506.2 154.3h0M514.3 154.1h0M517.6 154.9h0M521.5 154.2h0M493.0 154.9h0M494.8 154.7h0M498.6 154.8h0M501.8 156.0h0M502.7 155.9h0M504.7 155.7h0M505.0 155.8h0M507.2 155.0h0M509.4 155.7h0M510.9 155.0h0M513.6 155.8h0M514.2 155.5h0M520.8 154.7h0M498.4 156.6h0M499.4 156.7h0M500.8 155.6h0M503.1 155.5h0M509.0 156.9h0M509.3 155.9h0M511.3 156.1h0M513.6 155.8h0M519.4 156.9h0M503.3 156.5h0M506.9 156.8h0M509.2 157.2h0M510.6 157.5h0M512.0 156.8h0M512.5 156.6h0M517.2 157.1h0M496.9 158.0h0M497.2 157.6h0M499.7 158.1h0M504.3 158.5h0M511.1 158.5h0M514.1 158.2h0M497.2 158.8h0M501.7 159.7h0M502.3 159.5h0M504.1 158.6h0M506.1 158.3h0M508.0 158.4h0M509.2 159.4h0M519.1 159.1h0M508.7 159.4h0M508.8 160.3h0M516.9 159.6h0M518.5 160.3h0M520.1 160.3h0M508.3 160.9h0M510.5 160.1h0M513.3 160.0h0M514.0 160.7h0M502.4 162.1h0M507.0 161.5h0M512.6 161.7h0M515.4 161.6h0M516.0 161.7h0M517.8 161.1h0M503.8 162.0h0M506.9 162.3h0M504.7 163.6h0M506.2 163.4h0M515.5 163.3h0M517.0 162.8h0M510.2 164.0h0M506.7 165.2h0M514.3 165.1h0M506.4 166.3h0M507.8 165.8h0M508.7 166.2h0M510.4 165.4h0M509.6 166.8h0M510.2 166.8h0M513.4 173.2h0M514.7 173.0h0M513.9 174.1h0M512.5 175.2h0M517.3 175.2h0M514.6 175.7h0M515.8 176.1h0M512.2 177.0h0M513.6 177.4h0M516.7 177.1h0M512.9 177.8h0M516.8 178.3h0M512.6 178.6h0M514.0 178.8h0M514.8 178.7h0M516.6 178.8h0M514.6 179.6h0M494.5 125.4h0M498.9 126.3h0M516.4 168.3h0M515.0 172.0h0" fill="none" stroke="#472c7a" stroke-width="1.9" stroke-linecap="round"/><path d="M475.4 123.5h0M472.5 126.3h0M479.0 126.5h0M477.6 127.3h0M471.5 129.4h0M478.8 129.1h0M469.8 129.8h0M471.1 130.6h0M477.7 130.1h0M473.5 130.6h0M480.1 131.4h0M472.2 131.5h0M473.6 131.8h0M467.1 133.6h0M465.8 134.0h0M478.5 135.1h0M467.4 136.1h0M471.5 136.0h0M476.1 136.0h0M479.9 135.5h0M474.2 137.0h0M479.3 137.1h0M472.8 138.3h0M469.8 139.8h0M473.5 141.0h0M469.1 141.4h0M470.0 140.9h0M474.3 141.0h0M471.6 142.8h0M472.0 142.4h0M461.5 143.1h0M474.0 142.8h0M479.4 143.0h0M465.6 144.3h0M474.3 144.5h0M476.8 144.5h0M463.9 145.2h0M474.6 144.4h0M476.3 145.2h0M468.0 145.5h0M472.5 145.6h0M473.1 145.8h0M468.8 146.3h0M477.9 146.3h0M479.0 148.4h0M473.4 150.0h0M492.4 132.8h0M517.1 159.3h0M515.7 165.1h0" fill="none" stroke="#3b528a" stroke-width="1.9" stroke-linecap="round"/><path d="M476.3 124.2h0M477.4 124.9h0M473.7 125.1h0M474.7 128.1h0M471.5 129.0h0M476.4 129.7h0M476.9 129.1h0M479.7 131.7h0M476.2 132.8h0M468.5 134.0h0M476.9 133.4h0M476.7 133.5h0M467.2 134.2h0M470.4 134.5h0M475.2 134.8h0M477.7 134.0h0M478.9 134.6h0M473.9 136.5h0M464.1 136.2h0M466.0 136.4h0M473.5 136.6h0M471.5 137.5h0M475.7 137.8h0M468.9 138.1h0M476.0 138.4h0M479.5 138.8h0M465.6 138.5h0M471.8 140.2h0M475.6 139.9h0M472.2 141.4h0M476.4 140.5h0M468.0 141.4h0M476.7 141.9h0M478.6 141.9h0M478.2 142.0h0M463.1 143.7h0M465.5 143.8h0M473.6 144.4h0M466.8 145.4h0M464.2 145.5h0M468.1 145.9h0M469.5 148.3h0M475.9 148.5h0M475.9 148.2h0M471.8 149.0h0M478.2 153.6h0M483.8 144.9h0" fill="none" stroke="#2d728e" stroke-width="1.9" stroke-linecap="round"/><path d="M476.6 124.4h0M473.8 125.4h0M474.5 125.7h0M478.2 126.7h0M479.4 125.8h0M474.0 127.6h0M472.5 129.0h0M474.4 128.3h0M479.1 128.9h0M472.6 131.0h0M469.0 131.8h0M478.8 134.1h0M470.5 134.3h0M473.7 133.9h0M467.0 134.7h0M474.1 135.2h0M476.5 135.6h0M467.8 135.5h0M463.6 136.5h0M476.7 136.2h0M464.7 138.1h0M470.0 138.0h0M472.1 138.5h0M472.2 138.8h0M466.0 140.2h0M464.6 141.4h0M469.0 141.2h0M474.4 141.3h0M475.6 140.3h0M462.5 141.8h0M466.2 142.0h0M467.2 141.5h0M461.4 142.7h0M469.5 142.1h0M463.4 142.9h0M469.5 143.7h0M467.7 144.6h0M465.6 146.2h0M473.6 145.5h0M474.2 145.6h0M463.9 145.8h0M475.7 146.6h0M472.2 146.9h0M473.3 147.0h0" fill="none" stroke="#22908c" stroke-width="1.9" stroke-linecap="round"/><path d="M476.9 123.9h0M473.8 126.6h0M471.3 127.1h0M470.3 129.1h0M478.6 128.6h0M472.4 129.1h0M472.9 130.1h0M477.2 129.8h0M472.0 130.0h0M473.8 130.4h0M468.7 131.5h0M472.8 130.5h0M469.6 131.3h0M476.0 131.8h0M476.2 131.7h0M477.6 132.6h0M469.4 133.3h0M471.5 133.4h0M471.5 135.4h0M475.5 135.7h0M465.3 136.1h0M473.5 135.4h0M478.5 135.7h0M466.0 137.2h0M471.7 137.4h0M464.4 137.2h0M470.4 138.2h0M468.0 138.7h0M464.2 139.4h0M474.0 139.3h0M468.3 139.3h0M477.3 140.1h0M463.6 141.4h0M466.9 142.5h0M469.8 142.9h0M466.9 143.6h0M466.6 143.4h0M470.3 144.5h0M467.1 145.2h0M470.9 145.9h0M474.6 145.9h0M475.8 147.0h0M478.5 150.9h0M478.1 151.3h0" fill="none" stroke="#2dae7f" stroke-width="1.9" stroke-linecap="round"/><path d="M475.8 126.6h0M467.4 131.2h0M469.6 130.7h0M470.8 130.5h0M469.5 132.6h0M473.5 133.0h0M465.6 134.9h0M469.6 134.3h0M470.5 134.9h0M474.2 136.5h0M462.6 138.8h0M467.6 139.0h0M469.5 138.8h0M472.3 138.8h0M477.3 138.6h0M463.5 139.4h0M472.8 140.4h0M473.0 142.0h0M473.9 141.9h0M470.9 143.0h0M471.2 144.0h0M462.1 144.5h0M469.0 144.7h0M465.2 146.0h0" fill="none" stroke="#5fc861" stroke-width="1.9" stroke-linecap="round"/><path d="M470.8 127.7h0M469.8 132.3h0M468.1 133.5h0M464.2 137.2h0" fill="none" stroke="#abdc32" stroke-width="1.9" stroke-linecap="round"/><path d="M471.6 128.3h0M467.5 132.6h0M471.4 133.3h0M474.6 133.8h0M466.1 137.8h0M468.3 138.7h0M461.2 141.7h0M463.1 142.4h0M462.5 143.8h0M465.9 142.7h0" fill="none" stroke="#fde725" stroke-width="1.9" stroke-linecap="round"/>
<text x="575.6" y="115.4" font-size="7.6" text-anchor="middle" fill="#1a1a1a" stroke="#1a1a1a" stroke-width="0.17" font-style="italic" >Cux1<tspan font-size="55%" dy="-0.82em">hi</tspan><tspan dy="0.45em">: Slc39a10</tspan></text>
<path d="M559.4 122.6h0M557.8 123.8h0M555.4 125.1h0M558.6 125.0h0M556.6 126.2h0M558.1 127.2h0M559.6 127.5h0M555.9 129.2h0M562.0 129.2h0M556.8 130.9h0M559.7 130.1h0M560.7 130.8h0M557.6 130.5h0M556.6 135.0h0M559.3 136.0h0M558.6 137.0h0M560.9 136.7h0M558.1 137.8h0M559.3 137.5h0M545.4 138.7h0M552.2 141.2h0M561.3 141.0h0M561.0 140.9h0M543.1 141.4h0M547.9 141.9h0M554.7 141.3h0M556.9 141.7h0M551.8 143.1h0M554.4 143.4h0M557.1 142.7h0M558.3 143.5h0M550.4 144.2h0M553.4 144.3h0M556.1 144.2h0M560.3 143.8h0M553.4 144.3h0M557.8 144.8h0M561.9 144.9h0M554.2 146.1h0M556.9 145.5h0M561.1 145.3h0M552.1 146.5h0M553.7 146.7h0M559.1 147.1h0M561.2 147.3h0M553.0 147.5h0M555.8 148.6h0M562.5 147.7h0M562.5 147.6h0M555.8 148.4h0M556.3 148.6h0M557.6 148.9h0M562.1 149.3h0M562.4 148.6h0M559.6 149.8h0M562.6 150.7h0M559.9 151.6h0M559.9 152.6h0M560.6 152.6h0M560.6 153.0h0M561.6 153.3h0M559.9 153.9h0M561.5 154.0h0M561.8 153.4h0M561.6 154.4h0M562.5 154.8h0M561.0 154.9h0M562.2 155.5h0M560.4 155.7h0M561.8 155.4h0M562.3 155.5h0M561.5 156.9h0M562.4 156.4h0M561.1 157.4h0M561.2 157.3h0M562.5 157.7h0M560.7 157.8h0M563.7 158.4h0M560.3 158.2h0M560.6 158.2h0M561.6 158.5h0M562.2 158.9h0M563.1 158.4h0M560.3 159.0h0M560.7 159.7h0M562.2 159.6h0M561.4 159.6h0M562.9 160.0h0M565.7 145.1h0M565.9 147.3h0M566.5 146.7h0M565.3 147.7h0M564.5 148.8h0M565.4 148.8h0M564.6 150.3h0M565.0 150.3h0M576.6 137.9h0M580.2 143.8h0M578.1 149.1h0M603.2 149.1h0M578.7 119.3h0M578.8 121.0h0M577.9 122.3h0M573.7 128.4h0M576.0 127.9h0M585.7 127.3h0M586.8 128.1h0M573.0 128.8h0M573.2 128.7h0M576.7 128.9h0M581.2 128.9h0M585.1 128.3h0M573.4 129.4h0M574.8 129.4h0M576.9 129.9h0M578.1 130.0h0M580.8 129.3h0M583.1 129.4h0M585.7 130.1h0M587.4 129.3h0M573.0 130.8h0M573.6 130.5h0M577.4 130.4h0M577.5 130.6h0M586.2 130.2h0M586.7 130.7h0M589.1 130.4h0M575.1 131.0h0M578.3 131.7h0M584.6 130.9h0M576.2 132.0h0M577.9 132.9h0M579.2 131.7h0M581.8 132.7h0M576.7 132.7h0M579.1 133.4h0M582.4 133.0h0M588.9 132.6h0M583.3 133.9h0M584.9 134.2h0M588.3 133.9h0M586.1 135.4h0M589.0 135.3h0M581.4 136.3h0M584.7 136.2h0M585.4 136.5h0M586.8 136.2h0M585.7 137.4h0M588.3 137.1h0M588.9 137.3h0M582.3 138.2h0M585.1 138.1h0M586.1 138.0h0M588.9 137.8h0M584.4 138.7h0M586.8 139.0h0M588.9 138.5h0M587.1 139.2h0M583.7 140.1h0M577.0 136.7h0M580.0 135.9h0M579.8 137.0h0M577.3 137.7h0M580.0 137.6h0M581.4 137.3h0M578.2 139.7h0M582.6 139.3h0M577.9 141.1h0M579.6 141.1h0M580.7 142.2h0M581.4 140.9h0M578.4 142.9h0M580.0 143.6h0M595.6 140.7h0M587.5 140.7h0M589.8 141.3h0M594.8 141.4h0M587.0 142.0h0M587.9 141.8h0M589.5 141.2h0M590.2 142.0h0M592.7 142.3h0M596.3 142.0h0M596.1 141.5h0M598.5 141.1h0M583.1 142.1h0M584.6 143.1h0M586.2 143.0h0M586.7 142.0h0M589.5 142.0h0M590.3 142.8h0M593.0 143.3h0M596.9 142.8h0M581.5 143.0h0M586.3 143.3h0M587.0 143.3h0M587.8 143.7h0M589.7 143.9h0M594.2 143.1h0M596.3 143.4h0M599.9 143.7h0M588.4 144.8h0M589.1 144.1h0M594.5 144.4h0M594.4 144.4h0M595.4 144.8h0M596.5 144.1h0M599.5 144.8h0M602.0 145.1h0M603.2 144.7h0M576.1 145.3h0M578.7 145.0h0M580.0 145.6h0M585.2 144.9h0M587.0 145.0h0M588.3 145.5h0M588.4 145.8h0M592.8 146.1h0M594.6 145.2h0M595.0 144.9h0M574.7 146.4h0M579.9 146.3h0M582.7 146.7h0M583.2 145.8h0M584.0 146.5h0M586.7 146.3h0M587.0 147.0h0M588.9 145.7h0M592.4 146.5h0M593.0 145.6h0M594.3 145.6h0M594.5 146.2h0M598.9 146.0h0M600.1 145.7h0M601.4 146.6h0M588.1 147.3h0M589.2 146.8h0M592.6 147.0h0M594.9 147.0h0M599.6 147.0h0M601.0 147.3h0M602.3 146.5h0M576.1 148.3h0M578.7 148.1h0M581.6 147.4h0M582.4 148.3h0M583.9 148.4h0M597.6 147.7h0M600.0 148.4h0M574.5 149.6h0M576.2 149.1h0M581.8 149.0h0M584.0 149.1h0M591.0 149.2h0M593.8 149.2h0M597.4 149.6h0M599.8 148.5h0M577.8 150.4h0M580.7 150.5h0M581.8 149.4h0M584.2 149.6h0M586.7 150.0h0M588.8 150.1h0M590.2 149.5h0M590.5 149.6h0M596.5 149.9h0M603.9 149.3h0M574.4 151.5h0M580.3 150.9h0M587.4 150.4h0M589.2 150.2h0M590.4 150.4h0M593.2 150.7h0M594.3 151.5h0M598.1 151.4h0M600.0 150.1h0M574.9 151.8h0M577.0 152.2h0M578.9 151.2h0M579.8 151.4h0M580.4 151.7h0M582.5 152.2h0M582.8 151.6h0M588.3 151.4h0M598.5 152.2h0M600.1 151.3h0M603.2 151.0h0M591.7 152.5h0M595.0 152.9h0M596.1 153.2h0M597.4 153.1h0M599.1 152.5h0M574.3 152.8h0M576.6 153.9h0M580.5 153.0h0M583.4 153.3h0M586.7 153.1h0M588.5 153.5h0M592.8 153.4h0M594.3 153.7h0M596.7 152.9h0M601.6 153.7h0M576.0 154.4h0M578.1 155.1h0M587.1 154.9h0M595.2 155.0h0M597.0 154.5h0M601.8 154.1h0M604.3 154.2h0M581.5 155.3h0M584.3 155.2h0M585.0 154.7h0M591.4 155.8h0M592.1 155.1h0M592.3 155.1h0M593.7 156.0h0M598.1 155.2h0M600.5 155.3h0M600.9 155.8h0M603.7 155.1h0M576.3 155.9h0M578.6 156.2h0M583.3 155.8h0M584.1 155.9h0M586.2 156.3h0M588.2 156.2h0M589.4 156.2h0M591.4 155.7h0M600.7 156.2h0M602.9 156.3h0M576.7 157.1h0M582.5 157.0h0M583.7 157.2h0M583.5 157.5h0M585.9 157.7h0M586.9 156.6h0M593.2 156.9h0M599.0 156.8h0M603.1 156.9h0M581.1 158.7h0M585.5 157.7h0M586.4 158.2h0M595.2 158.5h0M596.8 157.6h0M597.2 158.7h0M598.5 157.9h0M600.7 157.7h0M580.0 158.6h0M582.6 158.4h0M584.0 158.7h0M587.8 158.7h0M594.6 158.5h0M595.4 159.5h0M596.3 158.9h0M596.8 158.7h0M597.9 158.6h0M598.7 158.6h0M601.3 158.4h0M581.7 159.8h0M582.5 160.2h0M587.3 160.4h0M588.6 159.2h0M590.5 159.9h0M591.9 160.1h0M584.9 161.3h0M586.0 160.8h0M595.4 160.7h0M584.8 161.3h0M588.1 162.2h0M591.9 161.5h0M592.9 162.2h0M598.3 161.3h0M599.3 162.2h0M600.5 162.2h0M600.6 161.3h0M583.5 162.6h0M584.5 162.4h0M586.4 162.9h0M587.2 162.4h0M587.8 162.7h0M589.0 162.4h0M594.7 162.7h0M599.7 163.2h0M587.2 164.0h0M590.8 162.8h0M592.0 163.2h0M595.1 163.0h0M597.0 162.9h0M597.3 164.0h0M585.7 164.6h0M586.1 164.0h0M589.3 164.4h0M586.5 165.0h0M588.9 165.7h0M592.5 165.3h0M594.8 164.6h0M589.4 166.6h0M591.0 166.8h0M593.2 165.4h0M587.5 167.1h0M591.9 167.1h0M596.1 173.1h0M597.7 172.5h0M595.1 174.4h0M594.3 175.3h0M596.2 175.3h0M596.4 176.0h0M598.6 174.9h0M594.2 176.5h0M596.2 176.5h0M597.0 175.9h0M598.1 176.2h0M595.8 176.6h0M597.9 177.6h0M598.6 177.4h0M594.8 178.1h0M595.7 178.3h0M597.2 178.4h0M595.5 179.3h0M597.6 178.6h0M596.9 179.4h0M576.4 125.4h0M598.3 168.3h0M596.9 172.0h0M590.9 136.2h0" fill="none" stroke="#440154" stroke-width="1.9" stroke-linecap="round"/><path d="M557.1 124.4h0M557.7 125.1h0M560.3 126.2h0M558.0 128.0h0M561.0 129.5h0M560.8 129.7h0M550.9 131.5h0M558.2 132.4h0M556.6 133.1h0M557.7 133.0h0M557.7 132.9h0M560.5 134.4h0M550.7 135.1h0M555.9 135.4h0M560.5 135.3h0M557.5 138.0h0M561.1 137.5h0M549.7 139.5h0M556.0 138.8h0M544.3 139.7h0M546.5 139.7h0M561.1 139.6h0M546.8 140.8h0M559.2 141.1h0M556.6 141.2h0M560.3 141.6h0M551.3 142.7h0M553.1 142.0h0M551.6 143.3h0M544.8 144.1h0M549.9 143.8h0M551.5 144.6h0M554.4 144.3h0M561.8 144.7h0M557.8 145.8h0M561.8 146.2h0M557.7 145.9h0M558.6 146.5h0M562.1 146.3h0M557.1 146.6h0M562.9 146.7h0M561.5 147.8h0M554.3 148.4h0M562.4 149.0h0M562.7 149.0h0M562.8 150.9h0M561.6 151.6h0M560.6 154.6h0M559.9 155.0h0M559.9 156.7h0M563.3 159.1h0M565.3 148.1h0M575.4 132.0h0M574.3 132.8h0M578.0 119.6h0M579.7 120.2h0M579.7 122.5h0M587.5 127.7h0M575.6 128.9h0M581.9 128.5h0M587.2 128.8h0M587.6 129.1h0M575.6 129.8h0M576.2 129.5h0M579.9 129.9h0M581.4 129.4h0M584.6 129.9h0M574.3 130.1h0M580.4 130.6h0M583.6 130.5h0M576.7 132.0h0M580.4 131.4h0M584.8 131.3h0M574.3 131.8h0M574.9 132.1h0M576.8 132.3h0M580.9 132.1h0M583.4 132.5h0M584.8 132.8h0M586.2 131.8h0M588.4 132.3h0M589.8 132.8h0M584.1 132.8h0M585.1 132.8h0M577.6 133.8h0M579.2 133.8h0M583.0 134.3h0M587.1 134.5h0M580.6 135.3h0M581.9 135.2h0M585.2 134.8h0M587.0 135.6h0M590.0 135.3h0M580.8 136.0h0M583.9 136.2h0M589.1 135.3h0M586.2 136.6h0M586.7 137.4h0M588.0 137.5h0M584.6 139.0h0M584.8 138.9h0M586.9 139.9h0M582.9 140.3h0M583.8 141.5h0M583.4 141.4h0M587.2 140.6h0M594.1 140.6h0M585.6 140.9h0M587.8 140.5h0M591.5 141.1h0M597.8 141.5h0M585.1 141.3h0M585.2 141.9h0M590.9 141.4h0M593.3 142.1h0M594.7 141.1h0M597.6 142.5h0M582.6 142.4h0M594.6 143.1h0M594.7 142.0h0M596.8 143.4h0M599.0 142.2h0M580.4 144.2h0M582.7 143.9h0M583.0 144.1h0M589.1 144.3h0M590.7 143.0h0M594.1 144.2h0M595.8 143.8h0M599.1 143.6h0M581.3 144.9h0M582.7 144.1h0M586.8 144.5h0M586.9 145.1h0M590.8 144.0h0M591.1 145.2h0M593.3 143.9h0M600.2 145.0h0M576.8 145.0h0M580.7 146.1h0M582.9 145.4h0M583.4 144.9h0M591.9 145.4h0M592.5 144.9h0M597.1 145.1h0M599.2 145.1h0M600.4 145.3h0M601.1 145.0h0M602.7 145.8h0M603.8 144.7h0M574.8 146.5h0M578.5 146.0h0M580.9 145.8h0M588.4 146.6h0M590.9 146.3h0M595.8 145.7h0M602.8 145.9h0M575.7 147.0h0M578.4 147.6h0M578.8 146.7h0M582.0 147.9h0M581.8 147.3h0M584.1 147.1h0M585.4 147.0h0M586.8 147.4h0M590.6 147.3h0M593.0 147.2h0M595.4 147.1h0M598.2 147.8h0M580.4 148.5h0M580.6 148.6h0M585.8 147.7h0M590.9 147.4h0M592.4 148.7h0M592.5 147.5h0M594.6 147.8h0M595.7 148.5h0M598.4 147.7h0M599.9 147.9h0M602.0 147.9h0M577.7 149.5h0M577.7 149.6h0M578.7 148.7h0M579.7 149.0h0M582.4 148.5h0M584.2 148.4h0M586.2 149.6h0M587.4 149.3h0M587.6 148.6h0M595.0 148.8h0M598.2 149.3h0M598.8 148.6h0M602.2 149.7h0M603.2 149.6h0M574.0 149.8h0M580.0 149.8h0M587.6 150.1h0M593.3 149.3h0M594.3 150.1h0M596.7 149.7h0M599.4 149.6h0M599.9 150.4h0M602.4 150.0h0M578.7 151.4h0M581.5 151.0h0M581.8 150.4h0M587.5 150.4h0M596.2 150.1h0M596.7 151.0h0M597.5 150.3h0M601.5 150.1h0M601.4 151.1h0M603.4 150.6h0M584.5 152.1h0M589.9 151.8h0M591.4 152.3h0M594.7 152.3h0M595.4 152.1h0M595.9 151.4h0M597.9 152.2h0M603.4 151.3h0M576.5 153.3h0M580.0 152.7h0M581.3 153.3h0M582.2 152.4h0M583.8 152.8h0M585.0 152.7h0M586.6 152.9h0M588.2 153.2h0M589.3 152.3h0M590.3 152.9h0M591.6 152.6h0M594.1 153.3h0M596.5 152.6h0M601.7 152.3h0M603.2 152.7h0M577.8 153.1h0M578.7 153.3h0M581.5 154.1h0M585.8 153.4h0M586.8 153.8h0M590.3 152.9h0M591.0 153.8h0M594.3 153.9h0M596.3 153.0h0M598.8 152.8h0M601.2 154.0h0M604.1 154.1h0M575.5 154.3h0M577.8 154.5h0M581.6 153.8h0M582.0 154.7h0M584.8 154.3h0M585.7 154.1h0M590.8 153.8h0M590.9 154.8h0M592.5 153.8h0M594.8 154.2h0M599.4 154.7h0M600.5 154.9h0M600.9 153.8h0M575.8 155.0h0M577.1 156.0h0M578.0 155.7h0M586.2 155.2h0M588.2 155.8h0M595.5 154.9h0M599.8 156.0h0M603.3 155.0h0M575.4 155.8h0M577.9 156.1h0M580.5 156.2h0M581.1 156.2h0M586.5 156.6h0M592.3 156.9h0M594.1 156.4h0M594.7 155.9h0M595.2 156.0h0M600.6 155.9h0M577.4 157.5h0M578.2 157.2h0M579.8 157.0h0M586.8 157.8h0M589.2 157.8h0M590.2 157.0h0M594.5 157.8h0M599.3 156.6h0M601.5 156.6h0M578.5 158.0h0M581.1 157.3h0M583.0 158.5h0M584.2 157.9h0M588.9 158.1h0M589.9 158.2h0M590.6 157.5h0M592.0 158.7h0M595.1 158.7h0M600.8 158.6h0M580.9 159.0h0M583.6 159.0h0M588.6 158.6h0M589.3 159.2h0M590.3 158.6h0M591.0 159.1h0M599.8 159.6h0M602.1 159.3h0M585.2 159.5h0M586.3 160.2h0M588.5 159.5h0M592.4 159.6h0M594.6 159.8h0M595.2 160.0h0M596.4 159.6h0M598.4 159.9h0M599.1 159.7h0M599.5 159.3h0M600.9 160.4h0M601.5 159.5h0M602.8 159.9h0M582.4 160.1h0M587.3 160.2h0M590.1 160.3h0M590.8 160.3h0M594.3 160.6h0M597.1 161.3h0M598.0 161.4h0M601.0 160.9h0M602.0 161.4h0M586.3 161.5h0M590.5 161.9h0M593.7 161.4h0M595.2 161.1h0M596.9 162.2h0M585.6 162.3h0M591.1 162.7h0M592.8 162.7h0M596.3 161.9h0M598.2 162.3h0M599.9 162.0h0M584.0 163.3h0M590.4 163.4h0M594.2 163.4h0M599.4 163.7h0M600.1 163.2h0M600.3 163.2h0M593.4 164.4h0M596.6 163.6h0M597.2 163.6h0M585.9 165.6h0M588.3 165.5h0M590.1 164.7h0M590.8 165.6h0M597.1 165.4h0M587.6 166.0h0M588.4 166.0h0M591.9 165.6h0M595.6 165.6h0M589.6 166.6h0M591.7 167.3h0M595.6 173.6h0M596.5 173.2h0M598.6 174.2h0M597.0 174.0h0M598.8 175.0h0M594.8 176.8h0M594.8 176.9h0M596.5 176.6h0M596.8 177.7h0M598.7 178.3h0M595.0 179.1h0M596.7 178.4h0M580.8 126.3h0M578.4 160.1h0" fill="none" stroke="#472c7a" stroke-width="1.9" stroke-linecap="round"/><path d="M557.9 123.3h0M560.1 123.9h0M560.5 125.3h0M554.8 125.7h0M555.9 126.8h0M560.8 126.5h0M557.4 127.5h0M553.3 128.8h0M558.9 128.7h0M556.0 129.0h0M556.1 129.8h0M559.5 130.0h0M561.6 129.2h0M562.0 129.7h0M551.2 130.1h0M552.2 129.8h0M555.5 130.4h0M558.7 130.5h0M561.6 130.3h0M550.5 130.8h0M552.0 131.1h0M560.9 131.0h0M557.0 131.4h0M553.5 132.7h0M553.3 132.4h0M560.8 133.0h0M554.7 133.9h0M556.9 132.9h0M555.8 134.4h0M556.6 134.4h0M561.1 134.4h0M547.0 135.1h0M551.7 135.1h0M558.9 134.6h0M550.4 135.4h0M553.7 135.9h0M551.5 138.0h0M552.6 137.6h0M553.4 137.5h0M545.7 138.4h0M551.8 137.7h0M555.5 138.8h0M554.2 138.6h0M561.2 138.5h0M562.0 138.6h0M547.9 140.2h0M555.0 139.5h0M556.1 140.4h0M557.9 139.4h0M547.9 141.0h0M555.6 140.2h0M558.2 142.2h0M558.3 142.0h0M545.4 143.7h0M549.5 143.8h0M550.5 142.8h0M561.2 143.7h0M557.4 144.3h0M561.6 143.8h0M544.2 144.7h0M549.3 144.3h0M552.8 144.8h0M552.2 145.1h0M554.1 146.2h0M546.0 146.3h0M548.5 147.0h0M554.8 148.4h0M560.6 147.6h0M559.2 148.4h0M559.6 149.6h0M559.5 149.8h0M557.5 150.1h0M558.6 151.0h0M560.0 151.3h0M562.0 152.5h0M560.0 157.6h0M561.5 157.7h0M566.4 145.2h0M565.6 147.8h0M589.3 134.3h0M584.0 139.0h0M588.5 142.2h0M602.2 152.2h0" fill="none" stroke="#3b528a" stroke-width="1.9" stroke-linecap="round"/><path d="M559.4 123.4h0M560.9 125.3h0M555.1 125.5h0M561.2 126.6h0M557.8 126.8h0M558.1 127.7h0M553.5 127.5h0M552.0 128.9h0M560.6 129.2h0M560.8 129.2h0M554.3 128.9h0M551.1 130.6h0M551.1 130.6h0M553.4 131.3h0M559.3 131.5h0M549.9 132.4h0M554.4 132.2h0M552.1 133.5h0M561.1 133.3h0M549.5 134.8h0M551.1 134.2h0M560.2 134.3h0M560.9 134.5h0M547.7 136.4h0M550.4 136.1h0M555.0 136.5h0M547.6 137.3h0M556.6 137.1h0M560.8 136.5h0M546.2 138.0h0M549.6 137.0h0M548.7 138.4h0M552.7 138.7h0M555.2 139.5h0M556.9 138.6h0M558.0 138.5h0M547.0 140.4h0M553.7 139.6h0M557.4 139.9h0M554.4 140.9h0M545.9 141.6h0M553.9 141.4h0M558.0 141.4h0M559.1 141.7h0M546.1 142.6h0M550.6 142.8h0M555.9 142.3h0M556.7 142.5h0M560.2 142.0h0M543.8 144.5h0M546.0 143.4h0M554.7 143.4h0M560.1 143.7h0M553.0 145.4h0M558.5 146.1h0M556.6 146.0h0M558.6 145.8h0M549.8 146.7h0M559.3 147.7h0M559.6 149.4h0M560.0 148.4h0M558.7 149.0h0M557.9 151.0h0M559.7 153.2h0M560.0 156.2h0M562.2 158.4h0M566.8 145.7h0M565.2 150.2h0M576.2 131.3h0" fill="none" stroke="#2d728e" stroke-width="1.9" stroke-linecap="round"/><path d="M558.3 122.7h0M558.8 123.6h0M560.3 124.9h0M555.9 125.1h0M555.2 126.9h0M555.1 128.1h0M552.3 129.6h0M556.6 131.5h0M559.1 131.6h0M555.2 133.3h0M561.5 133.1h0M549.1 133.7h0M551.9 134.0h0M555.4 134.4h0M546.7 136.3h0M548.0 137.1h0M549.1 136.7h0M552.4 136.8h0M561.7 136.7h0M544.7 138.0h0M546.9 137.7h0M548.3 137.4h0M549.3 137.8h0M548.2 137.9h0M553.2 138.8h0M557.9 138.6h0M545.8 139.6h0M562.3 139.9h0M548.6 140.7h0M548.8 141.0h0M552.1 141.9h0M551.5 142.8h0M544.1 143.6h0M553.4 144.2h0M545.4 144.5h0M546.2 146.0h0M548.3 146.0h0M547.6 146.0h0M548.2 146.0h0M553.8 145.8h0M554.4 146.9h0M554.8 147.3h0M555.3 146.6h0M555.7 148.6h0M557.2 150.2h0M564.6 149.4h0" fill="none" stroke="#22908c" stroke-width="1.9" stroke-linecap="round"/><path d="M557.5 124.7h0M561.5 125.6h0M554.9 126.5h0M553.0 127.5h0M552.2 129.5h0M556.2 131.0h0M548.0 132.9h0M548.1 133.1h0M555.0 133.2h0M558.0 134.6h0M551.5 136.0h0M545.2 138.1h0M560.6 137.6h0M545.8 138.0h0M548.8 138.0h0M551.8 137.9h0M554.2 139.0h0M556.0 138.3h0M554.0 139.8h0M556.9 140.4h0M548.4 143.5h0M546.1 144.8h0M547.1 145.3h0M549.0 144.9h0M548.0 145.8h0" fill="none" stroke="#2dae7f" stroke-width="1.9" stroke-linecap="round"/><path d="M554.7 129.6h0M552.5 132.1h0M557.1 133.5h0M552.3 135.2h0M546.6 135.5h0M550.4 137.4h0M550.7 138.6h0M545.4 139.0h0M548.5 139.5h0M560.5 139.6h0M553.7 141.2h0M547.0 142.7h0M550.1 144.8h0M545.2 145.0h0" fill="none" stroke="#5fc861" stroke-width="1.9" stroke-linecap="round"/><path d="M555.2 135.6h0M549.9 140.0h0" fill="none" stroke="#abdc32" stroke-width="1.9" stroke-linecap="round"/>
<defs><linearGradient id="gC" x1="0" y1="1" x2="0" y2="0"><stop offset="0" stop-color="#440154"/><stop offset="0.11" stop-color="#482878"/><stop offset="0.22" stop-color="#3e4a89"/><stop offset="0.33" stop-color="#31688e"/><stop offset="0.44" stop-color="#26828e"/><stop offset="0.56" stop-color="#1f9e89"/><stop offset="0.67" stop-color="#35b779"/><stop offset="0.78" stop-color="#6dcd59"/><stop offset="0.89" stop-color="#b4de2c"/><stop offset="1" stop-color="#fde725"/></linearGradient></defs>
<rect x="612.4" y="139.1" width="6.7" height="26.6" fill="url(#gC)" />
<text x="620.8" y="143.4" font-size="7.4" text-anchor="start" fill="#1a1a1a" stroke="#1a1a1a" stroke-width="0.16" >High</text>
<text x="620.8" y="164.9" font-size="7.4" text-anchor="start" fill="#1a1a1a" stroke="#1a1a1a" stroke-width="0.16" >Low</text>
</g>
<g id="panelD">
<text x="20" y="200.2" font-size="11.8" text-anchor="start" fill="#1a1a1a" stroke="#1a1a1a" stroke-width="0.26" >D</text>
<circle cx="43.2" cy="209.9" r="1.9" fill="#c5dde8" /><text x="47.8" y="212.5" font-size="7.4" text-anchor="start" fill="#1a1a1a" stroke="#1a1a1a" stroke-width="0.16" font-style="italic" >Col17a1<tspan font-size="55%" dy="-0.82em">hi</tspan></text><circle cx="86.8" cy="209.9" r="1.9" fill="#0a7ab8" /><text x="91.2" y="212.5" font-size="7.4" text-anchor="start" fill="#1a1a1a" stroke="#1a1a1a" stroke-width="0.16" font-style="italic" >Cux1<tspan font-size="55%" dy="-0.82em">hi</tspan></text>
<text x="81.9" y="226.3" font-size="7.1" text-anchor="middle" fill="#1a1a1a" stroke="#1a1a1a" stroke-width="0.16" >Water</text>
<path d="M67.4 230.6h0M67.9 232.1h0M68.2 232.9h0M69.0 234.8h0M68.0 235.6h0M76.3 243.7h0M63.0 245.2h0M65.4 243.0h0M66.5 245.3h0M78.3 243.9h0M80.4 245.1h0M61.1 246.8h0M63.8 247.1h0M66.0 244.8h0M66.2 246.9h0M72.5 245.8h0M73.8 245.8h0M74.9 244.9h0M78.5 247.2h0M79.2 245.4h0M82.8 246.7h0M62.9 247.2h0M63.5 247.6h0M68.6 247.8h0M70.3 246.9h0M72.1 248.5h0M75.0 247.2h0M76.8 248.5h0M79.1 248.7h0M81.5 248.9h0M63.8 248.4h0M65.4 249.8h0M67.5 250.1h0M69.8 248.0h0M71.0 249.8h0M73.7 249.7h0M75.1 248.6h0M76.1 248.8h0M78.3 248.1h0M80.8 249.7h0M82.4 250.5h0M67.0 251.2h0M71.9 252.0h0M73.8 250.1h0M78.8 250.0h0M82.5 250.1h0M71.2 252.6h0M74.5 252.8h0M75.1 251.8h0M77.0 252.2h0M80.1 251.5h0M80.5 254.0h0M82.4 252.2h0M70.3 254.1h0M72.2 254.4h0M74.8 254.8h0M79.2 254.7h0M80.9 254.3h0M74.3 255.3h0M75.3 256.3h0M76.5 256.7h0M77.8 256.8h0M64.8 264.3h0M70.2 264.1h0M63.7 265.5h0M64.3 265.1h0M66.1 266.1h0M67.8 265.9h0M70.0 265.7h0M63.1 267.1h0M64.8 265.9h0M68.5 266.4h0M63.4 268.5h0M64.5 269.2h0M69.4 269.8h0M64.7 270.4h0M64.7 269.8h0M69.1 270.6h0M62.9 271.3h0M64.0 272.0h0M68.1 271.4h0M68.4 271.4h0M70.3 272.3h0M64.5 274.6h0M67.3 273.1h0M67.4 274.6h0M69.1 273.3h0M71.2 272.9h0M64.3 275.5h0M64.9 275.2h0M67.6 274.9h0M69.5 277.1h0M64.8 277.3h0M66.1 279.0h0M67.6 276.5h0M64.7 278.1h0M66.7 278.8h0M77.0 267.4h0M78.3 267.6h0M71.1 268.9h0M76.4 267.4h0M78.5 268.2h0M81.2 269.5h0M81.9 269.1h0M74.0 270.6h0M77.1 270.8h0M79.2 269.6h0M80.2 270.1h0M81.7 269.4h0M71.4 270.9h0M71.0 272.1h0M75.1 272.4h0M76.6 272.0h0M78.6 272.6h0M80.8 270.2h0M72.5 272.4h0M76.0 272.2h0M75.6 273.2h0M77.6 272.2h0M80.6 273.5h0M86.0 274.1h0M71.4 274.2h0M74.4 275.2h0M75.5 274.7h0M76.5 274.8h0M82.2 273.5h0M83.5 274.0h0M84.6 274.2h0M72.3 275.1h0M73.8 274.9h0M74.4 274.9h0M76.5 275.8h0M80.1 276.0h0M81.4 277.3h0M83.8 275.0h0M86.3 276.0h0M88.4 276.5h0M94.3 277.4h0M71.2 276.8h0M76.7 276.9h0M78.3 278.8h0M82.2 276.5h0M82.7 277.1h0M84.4 278.4h0M86.5 278.9h0M87.3 276.7h0M89.8 277.3h0M92.1 278.9h0M93.9 277.1h0M96.1 276.8h0M71.8 278.7h0M75.2 280.3h0M79.5 280.5h0M79.4 280.3h0M81.9 279.8h0M83.5 280.3h0M85.7 280.1h0M87.0 279.2h0M88.5 279.1h0M90.0 278.8h0M94.0 278.6h0M95.3 279.8h0M97.2 279.6h0M98.5 278.6h0M102.5 279.8h0M72.7 281.0h0M76.3 281.1h0M76.8 281.9h0M78.2 281.3h0M80.0 280.7h0M83.9 281.4h0M85.1 281.7h0M87.1 280.2h0M87.0 281.4h0M91.1 280.7h0M93.0 279.8h0M94.4 280.6h0M97.7 280.0h0M99.1 281.3h0M101.1 281.8h0M102.1 280.8h0M73.7 283.2h0M73.8 281.7h0M77.6 281.8h0M78.8 283.5h0M80.9 281.9h0M82.3 283.2h0M82.7 283.5h0M85.9 282.9h0M87.2 281.9h0M88.1 282.9h0M91.9 281.3h0M92.0 283.5h0M95.6 282.4h0M96.2 281.7h0M98.4 281.8h0M101.7 281.4h0M102.6 282.4h0M74.0 285.1h0M78.9 284.7h0M84.9 283.9h0M87.1 283.3h0M89.0 284.2h0M89.4 284.4h0M90.9 285.2h0M92.9 282.9h0M95.8 284.8h0M97.8 282.9h0M98.5 283.6h0M101.5 283.0h0M102.3 284.1h0M73.9 285.3h0M77.8 284.5h0M79.0 286.0h0M84.2 285.1h0M85.6 286.0h0M88.1 284.6h0M87.9 286.2h0M91.8 284.3h0M92.7 284.5h0M95.8 286.4h0M97.2 285.9h0M98.6 284.8h0M98.8 285.9h0M76.6 285.9h0M80.0 286.0h0M80.9 287.8h0M83.0 285.8h0M91.3 286.3h0M91.5 286.0h0M92.7 286.3h0M95.3 286.5h0M100.2 286.8h0M75.7 289.6h0M76.4 289.0h0M79.4 289.1h0M79.4 288.2h0M82.5 289.3h0M83.9 289.4h0M84.6 288.9h0M86.5 288.1h0M88.3 288.4h0M93.5 287.7h0M95.3 288.8h0M75.8 289.4h0M77.7 289.1h0M81.8 289.7h0M82.0 290.2h0M85.1 291.2h0M85.3 290.2h0M88.2 289.3h0M90.0 289.1h0M91.3 289.6h0M95.0 289.1h0M80.4 291.6h0M82.3 291.5h0M85.1 291.4h0M87.6 290.9h0M89.8 290.6h0M91.7 290.7h0M82.4 292.3h0M83.5 293.2h0M86.3 292.6h0M88.1 293.6h0M86.8 294.0h0M94.1 305.6h0M96.0 305.4h0M90.5 306.1h0M90.6 306.6h0M92.0 306.1h0M93.7 306.7h0M95.2 306.8h0M91.1 307.6h0M92.3 308.0h0M93.0 307.6h0M94.2 308.0h0M96.2 307.7h0M89.7 308.9h0M91.6 308.5h0M92.7 309.0h0M93.6 308.8h0M96.2 308.8h0M91.4 309.8h0M93.7 309.3h0M94.5 310.7h0M95.9 310.0h0M91.8 311.2h0M93.2 312.0h0M93.4 311.3h0M64.8 237.9h0M72.1 239.8h0M84.1 248.6h0M83.2 259.1h0M89.7 265.6h0M97.9 269.3h0M98.9 271.1h0M92.4 301.5h0M67.5 284.0h0M75.8 260.0h0M70.3 257.3h0" fill="none" stroke="#c5dde8" stroke-width="1.9" stroke-linecap="round"/>
<path d="M61.1 246.2h0M63.8 245.9h0M64.8 249.0h0M62.0 249.0h0M66.2 254.5h0M65.1 255.4h0M70.3 262.8h0M67.2 270.2h0M50.9 265.6h0M51.9 266.5h0M46.7 275.7h0M72.1 248.6h0" fill="none" stroke="#0a7ab8" stroke-width="1.9" stroke-linecap="round"/>
<path d="M32 227.4V316.8H126.5" fill="none" stroke="#222" stroke-width="0.8"/>
<text x="27.8" y="272" font-size="7.7" text-anchor="middle" fill="#1a1a1a" stroke="#1a1a1a" stroke-width="0.17" transform="rotate(-90 27.8 272)" >UMAP2</text>
<text x="79.9" y="326.4" font-size="7.7" text-anchor="middle" fill="#1a1a1a" stroke="#1a1a1a" stroke-width="0.17" >UMAP1</text>
<circle cx="159.9" cy="209.9" r="1.9" fill="#c5dde8" /><text x="164.5" y="212.5" font-size="7.4" text-anchor="start" fill="#1a1a1a" stroke="#1a1a1a" stroke-width="0.16" font-style="italic" >Col17a1<tspan font-size="55%" dy="-0.82em">hi</tspan></text><circle cx="203.5" cy="209.9" r="1.9" fill="#0a7ab8" /><text x="207.9" y="212.5" font-size="7.4" text-anchor="start" fill="#1a1a1a" stroke="#1a1a1a" stroke-width="0.16" font-style="italic" >Cux1<tspan font-size="55%" dy="-0.82em">hi</tspan></text>
<text x="200.1" y="226.1" font-size="7.1" text-anchor="middle" fill="#1a1a1a" stroke="#1a1a1a" stroke-width="0.16" >AEW</text>
<path d="M214.1 241.4h0M195.7 242.1h0M211.7 242.9h0M214.5 240.7h0M196.6 242.9h0M198.0 242.1h0M199.2 242.8h0M211.8 243.9h0M214.2 244.2h0M196.5 243.6h0M198.3 245.9h0M200.4 243.7h0M203.8 245.8h0M212.2 245.0h0M213.2 245.1h0M214.1 243.9h0M215.3 244.5h0M197.4 246.2h0M200.2 245.7h0M204.9 247.0h0M207.5 246.3h0M211.9 246.9h0M214.7 247.1h0M219.7 246.8h0M200.5 246.9h0M202.6 247.4h0M204.0 248.7h0M206.6 248.7h0M208.6 246.7h0M209.9 248.3h0M211.0 248.2h0M212.0 247.0h0M215.8 247.5h0M218.5 247.7h0M207.1 249.4h0M209.0 248.4h0M209.4 248.0h0M211.5 248.6h0M212.5 249.6h0M218.0 249.3h0M207.1 251.0h0M207.8 251.0h0M208.3 249.7h0M211.3 251.8h0M213.6 251.8h0M214.3 250.6h0M216.8 250.8h0M218.9 250.7h0M207.3 251.6h0M208.7 252.8h0M211.4 251.5h0M211.8 252.3h0M213.0 252.2h0M216.3 252.3h0M217.4 252.4h0M218.2 252.5h0M212.3 254.0h0M215.6 253.2h0M215.3 254.0h0M218.7 252.7h0M223.4 258.7h0M220.8 259.9h0M224.3 259.6h0M229.3 259.7h0M231.4 259.6h0M217.5 261.6h0M217.6 260.4h0M219.3 260.2h0M221.8 260.6h0M222.4 259.7h0M224.4 259.6h0M225.5 261.1h0M228.5 261.4h0M231.5 260.4h0M231.7 261.1h0M234.6 261.0h0M234.3 260.0h0M216.4 262.3h0M218.6 262.5h0M219.0 262.8h0M220.8 261.4h0M224.8 262.8h0M226.9 261.3h0M227.8 261.1h0M230.4 261.2h0M233.3 262.7h0M235.1 261.4h0M237.5 262.5h0M216.5 263.1h0M219.2 263.4h0M219.5 263.2h0M221.1 262.3h0M223.7 264.1h0M224.2 263.3h0M225.3 263.3h0M229.4 262.8h0M231.0 263.3h0M232.2 263.0h0M234.6 262.9h0M235.5 263.6h0M236.3 264.1h0M238.8 262.7h0M216.5 263.8h0M218.8 263.9h0M221.7 263.9h0M221.9 265.6h0M224.6 264.9h0M225.1 265.0h0M228.7 263.6h0M231.0 265.2h0M233.0 263.6h0M235.3 263.7h0M237.5 264.5h0M239.8 265.2h0M218.9 265.1h0M222.3 265.0h0M222.7 265.8h0M225.5 266.5h0M226.9 266.5h0M228.5 266.7h0M231.1 266.9h0M232.3 266.0h0M233.9 266.9h0M234.8 266.3h0M236.6 266.3h0M239.5 265.2h0M218.6 267.0h0M219.9 268.0h0M220.2 267.2h0M221.5 267.0h0M222.9 267.5h0M226.2 268.2h0M226.3 267.8h0M229.2 267.1h0M230.5 267.7h0M231.1 266.5h0M234.0 266.2h0M235.4 266.4h0M237.3 267.7h0M239.5 267.3h0M216.2 269.1h0M216.1 269.2h0M218.8 269.1h0M220.5 267.9h0M221.9 269.3h0M222.7 269.1h0M224.4 269.6h0M227.0 267.9h0M228.4 269.5h0M231.4 268.6h0M233.2 267.8h0M234.6 268.8h0M236.4 269.2h0M237.4 268.6h0M238.1 269.5h0M216.2 269.9h0M217.8 270.2h0M219.9 270.8h0M221.1 270.4h0M222.1 269.4h0M226.0 269.7h0M226.1 270.2h0M228.0 270.1h0M230.3 270.5h0M231.6 270.1h0M232.5 269.7h0M233.6 270.9h0M238.0 269.8h0M240.2 270.9h0M216.2 271.8h0M220.8 271.8h0M221.9 270.4h0M222.6 271.2h0M223.6 271.1h0M225.3 270.9h0M226.5 272.3h0M230.0 271.1h0M230.5 271.3h0M232.3 270.2h0M234.2 272.0h0M235.1 272.2h0M240.2 270.6h0M217.8 273.6h0M219.1 273.3h0M219.9 273.0h0M221.5 272.4h0M225.3 272.3h0M227.2 272.6h0M228.5 272.1h0M229.7 273.0h0M231.8 271.9h0M233.0 271.5h0M237.0 271.8h0M239.8 271.9h0M240.0 273.5h0M217.2 272.9h0M218.3 274.1h0M221.0 272.9h0M221.9 274.2h0M225.0 274.7h0M226.5 273.6h0M229.1 274.0h0M231.4 273.9h0M233.0 274.0h0M233.7 273.4h0M236.2 272.9h0M236.8 273.0h0M238.1 273.4h0M240.2 274.9h0M218.1 275.1h0M224.2 275.1h0M225.8 274.8h0M226.3 275.7h0M229.3 275.5h0M230.7 274.5h0M232.5 274.9h0M232.2 274.3h0M235.1 274.9h0M237.1 274.3h0M238.9 275.2h0M220.0 275.7h0M221.8 276.8h0M222.7 275.7h0M225.2 276.4h0M225.3 277.1h0M227.3 277.2h0M228.2 276.9h0M232.3 276.4h0M235.7 277.6h0M235.9 276.3h0M218.5 277.3h0M220.5 278.6h0M222.1 277.2h0M224.6 278.8h0M224.5 278.4h0M227.9 278.5h0M229.3 277.9h0M230.7 278.1h0M233.4 277.6h0M233.9 278.0h0M236.7 277.3h0M236.7 277.5h0M219.8 278.4h0M223.3 280.0h0M230.3 278.8h0M231.6 279.7h0M233.1 278.5h0M235.5 280.2h0M222.6 281.3h0M223.9 281.4h0M226.2 280.8h0M227.9 281.4h0M230.5 280.5h0M232.5 279.9h0M232.0 280.3h0M233.8 281.6h0M236.6 280.0h0M223.9 282.2h0M224.3 282.5h0M226.5 281.9h0M228.1 281.3h0M230.3 282.5h0M233.2 281.9h0M234.9 281.1h0M223.1 284.0h0M227.6 283.3h0M228.6 282.5h0M230.1 283.3h0M232.2 284.3h0M234.0 283.0h0M235.1 284.4h0M224.0 283.8h0M225.1 285.6h0M225.8 285.2h0M227.8 285.3h0M229.2 284.2h0M229.8 283.8h0M231.2 285.5h0M233.7 284.2h0M235.6 284.0h0M224.1 285.5h0M225.5 285.6h0M227.3 285.0h0M229.4 285.8h0M229.5 286.8h0M230.6 286.0h0M234.6 285.8h0M225.7 286.9h0M227.4 287.1h0M231.5 286.8h0M201.4 269.6h0M204.2 268.9h0M198.4 270.2h0M203.3 271.3h0M210.1 271.9h0M208.0 274.0h0M209.8 273.0h0M209.4 274.5h0M202.0 279.8h0M205.8 279.0h0M203.3 279.6h0M216.4 283.6h0M221.3 283.0h0M221.7 281.7h0M218.8 285.8h0M223.4 286.5h0M219.7 288.7h0M220.7 287.8h0M224.6 288.0h0M219.0 287.9h0M221.2 288.0h0M226.8 289.8h0M230.1 296.8h0M229.7 297.0h0M232.6 299.4h0M230.8 301.9h0M230.2 304.4h0M232.1 304.6h0M231.2 305.4h0M231.6 303.7h0M228.4 306.7h0M229.2 308.2h0M231.2 307.5h0M208.7 258.6h0M211.5 260.0h0M213.3 256.4h0M221.3 255.4h0M238.2 285.9h0M239.1 283.1h0M230.9 300.6h0" fill="none" stroke="#c5dde8" stroke-width="1.9" stroke-linecap="round"/>
<path d="M173.2 236.1h0M175.0 235.0h0M175.3 235.9h0M173.0 236.3h0M177.2 237.2h0M173.9 237.2h0M175.8 237.5h0M178.3 236.8h0M169.2 239.1h0M173.7 237.9h0M176.0 238.8h0M177.1 239.2h0M168.8 240.0h0M173.7 239.3h0M174.6 239.3h0M177.0 238.8h0M178.3 240.0h0M178.8 238.9h0M167.9 241.2h0M168.0 241.3h0M170.4 240.7h0M173.4 240.0h0M175.8 240.2h0M176.0 239.9h0M178.5 241.0h0M178.8 241.5h0M166.0 242.5h0M167.6 242.6h0M169.0 242.6h0M168.6 241.6h0M171.0 242.3h0M171.5 242.6h0M176.9 241.6h0M177.3 241.3h0M166.2 242.8h0M168.1 243.1h0M169.9 242.7h0M171.8 243.0h0M173.7 242.4h0M176.8 242.8h0M165.8 243.7h0M166.6 243.5h0M167.3 244.3h0M169.9 244.4h0M176.4 243.9h0M177.0 244.5h0M165.4 244.6h0M170.9 244.8h0M173.3 245.2h0M176.2 244.8h0M178.5 244.9h0M178.7 244.7h0M163.8 245.9h0M166.2 246.0h0M167.8 246.4h0M169.8 246.1h0M170.9 245.9h0M172.3 246.7h0M161.7 247.5h0M162.4 246.9h0M163.2 246.6h0M164.0 247.2h0M165.3 247.5h0M167.5 246.9h0M169.2 247.1h0M170.6 246.6h0M174.5 247.8h0M175.2 248.0h0M177.1 247.8h0M178.7 246.4h0M178.9 247.0h0M160.9 248.1h0M163.5 248.7h0M168.1 248.7h0M171.5 249.0h0M175.4 248.7h0M175.8 247.7h0M162.2 248.6h0M162.9 248.9h0M164.4 250.0h0M167.1 249.6h0M168.9 249.8h0M170.9 249.0h0M172.1 249.8h0M174.6 249.3h0M177.1 249.6h0M177.8 250.2h0M159.1 250.4h0M163.0 251.1h0M164.3 251.2h0M166.7 249.7h0M169.0 250.0h0M169.2 251.0h0M171.3 249.9h0M172.6 250.8h0M174.3 251.1h0M176.6 249.9h0M179.0 250.7h0M158.2 252.1h0M158.7 252.0h0M161.3 252.4h0M163.1 250.9h0M165.1 252.1h0M166.8 252.1h0M167.7 250.8h0M169.2 251.2h0M169.7 252.1h0M174.9 251.0h0M176.7 252.4h0M158.2 252.1h0M158.8 253.5h0M160.1 253.4h0M160.8 253.2h0M164.0 252.2h0M164.9 252.1h0M166.0 252.8h0M169.1 251.9h0M172.5 253.2h0M173.5 252.4h0M174.6 252.6h0M175.3 252.7h0M178.4 252.7h0M178.5 253.0h0M157.7 254.3h0M160.3 254.1h0M165.0 254.3h0M166.4 253.2h0M167.4 254.0h0M169.6 253.1h0M170.8 253.3h0M173.1 254.0h0M176.3 254.3h0M177.5 253.1h0M178.0 254.5h0M179.3 253.2h0M156.2 255.1h0M157.3 255.1h0M158.1 254.0h0M161.8 254.7h0M163.4 254.8h0M165.5 254.0h0M167.6 255.7h0M167.7 255.6h0M171.1 254.1h0M172.6 254.5h0M173.9 254.7h0M177.1 255.4h0M177.5 255.0h0M155.6 256.5h0M157.3 255.7h0M159.7 255.0h0M160.1 256.4h0M162.5 255.1h0M165.0 255.7h0M165.3 255.1h0M169.6 256.4h0M172.4 256.0h0M176.0 255.2h0M176.6 255.7h0M156.4 257.5h0M161.2 257.6h0M165.2 256.9h0M166.5 256.5h0M167.4 257.7h0M171.9 256.9h0M176.1 256.7h0M176.7 256.6h0M154.4 258.7h0M156.7 257.8h0M158.9 258.9h0M161.1 258.4h0M162.6 258.0h0M166.9 257.4h0M168.0 258.2h0M170.8 257.2h0M175.0 258.0h0M174.9 258.8h0M176.2 258.9h0M154.0 259.0h0M154.5 258.7h0M157.0 259.3h0M161.1 258.7h0M162.9 260.0h0M163.6 259.8h0M168.5 259.1h0M169.5 258.5h0M169.9 259.2h0M173.9 259.5h0M178.1 259.0h0M153.8 259.7h0M155.8 260.1h0M156.6 261.0h0M158.1 260.1h0M158.8 260.3h0M164.3 260.1h0M164.8 261.0h0M166.6 260.7h0M167.7 259.6h0M168.8 259.9h0M170.6 260.8h0M173.6 260.4h0M177.6 260.5h0M178.4 260.0h0M153.1 260.6h0M157.9 260.9h0M160.6 262.0h0M163.7 261.3h0M165.4 261.8h0M168.7 261.9h0M170.2 260.5h0M173.1 260.6h0M173.1 261.7h0M175.5 260.5h0M178.3 260.5h0M179.1 261.8h0M179.3 261.4h0M153.6 261.7h0M159.0 261.6h0M163.4 262.8h0M164.2 263.0h0M166.9 262.1h0M176.3 261.7h0M177.7 263.2h0M177.6 262.8h0M178.8 261.8h0M157.9 263.1h0M160.6 263.0h0M163.5 263.8h0M165.4 263.3h0M166.6 264.1h0M169.0 263.2h0M170.0 264.2h0M172.2 264.0h0M173.1 262.7h0M174.8 264.3h0M176.9 262.9h0M177.9 262.7h0M179.1 262.6h0M156.0 264.7h0M156.5 265.4h0M158.3 264.0h0M159.8 265.2h0M160.1 265.1h0M163.3 264.7h0M165.0 265.2h0M165.6 265.2h0M170.6 264.0h0M172.9 263.7h0M174.8 265.3h0M176.3 265.1h0M156.1 265.0h0M156.7 265.6h0M160.7 266.2h0M160.6 265.1h0M162.5 265.8h0M163.7 265.1h0M166.4 266.0h0M167.2 266.2h0M168.4 266.3h0M169.9 265.1h0M170.9 265.1h0M172.8 265.5h0M174.5 265.6h0M175.5 265.7h0M177.5 266.2h0M179.8 265.1h0M157.3 266.2h0M159.7 266.6h0M160.2 266.9h0M162.2 267.1h0M166.6 266.5h0M170.7 267.3h0M171.0 267.0h0M172.3 266.4h0M176.4 267.1h0M176.1 267.0h0M159.7 267.3h0M160.6 267.9h0M162.9 268.0h0M167.5 268.1h0M167.9 267.4h0M169.2 268.4h0M171.4 267.9h0M174.4 268.6h0M176.0 267.9h0M179.9 268.3h0M166.0 268.2h0M166.8 268.8h0M169.2 268.3h0M170.6 268.8h0M171.6 268.7h0M173.5 269.2h0M176.1 268.3h0M179.1 269.4h0M181.4 268.1h0M166.9 269.3h0M170.0 270.7h0M171.5 270.7h0M171.4 269.9h0M172.8 270.0h0M175.0 269.5h0M176.4 269.2h0M178.3 270.8h0M179.2 269.7h0M180.1 269.2h0M168.3 270.6h0M169.5 270.6h0M174.2 271.1h0M177.7 271.3h0M178.8 270.3h0M178.6 271.9h0M173.9 272.1h0M174.5 272.1h0M176.1 272.3h0M177.0 272.2h0M179.0 272.5h0M174.5 272.4h0M176.4 272.6h0M176.6 273.2h0M178.6 273.4h0M178.9 273.3h0M177.2 273.7h0M177.4 273.8h0M178.8 273.6h0M177.7 274.6h0M178.6 275.1h0M176.2 276.1h0M178.3 275.3h0M179.5 275.9h0M177.7 277.1h0M178.7 276.8h0M176.9 277.5h0M177.3 277.1h0M178.4 277.5h0M177.5 278.8h0M178.7 278.6h0M179.9 278.8h0M179.9 278.5h0M177.5 279.3h0M178.9 279.9h0M180.1 279.5h0M176.6 280.4h0M177.4 280.7h0M178.4 279.8h0M179.6 280.8h0M176.3 281.0h0M177.1 281.5h0M179.4 281.1h0M180.0 281.4h0M177.3 282.8h0M178.9 282.3h0M180.4 281.9h0M181.4 281.9h0M178.2 283.4h0M178.3 283.4h0M180.6 283.7h0M180.5 283.5h0M179.9 284.5h0M178.7 284.6h0M180.4 285.2h0M184.5 264.8h0M185.1 265.4h0M185.1 266.3h0M185.3 266.4h0M185.3 267.8h0M184.1 267.9h0M185.4 267.7h0M185.3 268.1h0M183.3 269.2h0M184.3 269.3h0M183.1 270.4h0M183.3 270.2h0M184.8 270.0h0M182.6 271.1h0M182.9 272.4h0" fill="none" stroke="#0a7ab8" stroke-width="1.9" stroke-linecap="round"/>
<path d="M204.1 272.0h0M238.2 270.2h0M197.3 243.5h0" fill="none" stroke="#0a7ab8" stroke-width="1.9" stroke-linecap="round"/>
<path d="M149.4 227.4V316.8H245" fill="none" stroke="#222" stroke-width="0.8"/>
<text x="145.4" y="272" font-size="7.7" text-anchor="middle" fill="#1a1a1a" stroke="#1a1a1a" stroke-width="0.17" transform="rotate(-90 145.4 272)" >UMAP2</text>
<text x="197.3" y="326.4" font-size="7.7" text-anchor="middle" fill="#1a1a1a" stroke="#1a1a1a" stroke-width="0.17" >UMAP1</text>
</g>
<g id="panelE">
<defs><filter id="bl4" x="-30%" y="-30%" width="160%" height="160%"><feGaussianBlur stdDeviation="4"/></filter><filter id="bl5" x="-30%" y="-30%" width="160%" height="160%"><feGaussianBlur stdDeviation="5"/></filter><filter id="bl6" x="-30%" y="-30%" width="160%" height="160%"><feGaussianBlur stdDeviation="6"/></filter><filter id="bl7" x="-30%" y="-30%" width="160%" height="160%"><feGaussianBlur stdDeviation="7"/></filter><filter id="bl8" x="-30%" y="-30%" width="160%" height="160%"><feGaussianBlur stdDeviation="8"/></filter><filter id="bl10" x="-30%" y="-30%" width="160%" height="160%"><feGaussianBlur stdDeviation="10"/></filter><filter id="bl12" x="-30%" y="-30%" width="160%" height="160%"><feGaussianBlur stdDeviation="12"/></filter><filter id="bl30" x="-30%" y="-30%" width="160%" height="160%"><feGaussianBlur stdDeviation="30"/></filter></defs>
<text x="267.5" y="199.8" font-size="11.8" text-anchor="start" fill="#1a1a1a" stroke="#1a1a1a" stroke-width="0.26" >E</text>
<text x="357.3" y="198.4" font-size="7.9" text-anchor="middle" fill="#1a1a1a" stroke="#1a1a1a" stroke-width="0.17" >Water</text>
<text x="492.8" y="198.4" font-size="7.9" text-anchor="middle" fill="#1a1a1a" stroke="#1a1a1a" stroke-width="0.17" >AEW</text>
<line x1="292.7" y1="201.5" x2="425" y2="201.5" stroke="#222" stroke-width="0.7" />
<line x1="428" y1="201.5" x2="560.3" y2="201.5" stroke="#222" stroke-width="0.7" />
<text x="278.2" y="239.6" font-size="6.7" text-anchor="middle" fill="#e8174b" stroke="#e8174b" stroke-width="0.15" transform="rotate(-90 278.2 239.6)" ><tspan font-style="italic">Cux1</tspan>-RNA</text>
<text x="285.6" y="239.6" font-size="6.7" text-anchor="middle" fill="#b868b8" stroke="#b868b8" stroke-width="0.15" transform="rotate(-90 285.6 239.6)" >Ki67-Protein</text>
<text x="278.2" y="304.6" font-size="6.7" text-anchor="middle" fill="#9bcb3c" stroke="#9bcb3c" stroke-width="0.15" transform="rotate(-90 278.2 304.6)" ><tspan font-style="italic">Col17a1</tspan>-RNA</text>
<text x="285.6" y="304.6" font-size="6.7" text-anchor="middle" fill="#b868b8" stroke="#b868b8" stroke-width="0.15" transform="rotate(-90 285.6 304.6)" >Ki67-Protein</text>
<clipPath id="cE00"><rect x="292.7" y="204.3" width="65.1" height="65.1"/></clipPath><rect x="292.7" y="204.3" width="65.1" height="65.1" fill="#070a07" /><g clip-path="url(#cE00)"><g transform="translate(290 202) scale(0.11)"><g filter="url(#bl8)"><polygon points="20,245 80,270 120,240 180,245 210,290 260,310 300,265 370,235 420,250 470,225 520,235 570,260 640,290 640,340 590,330 540,300 490,280 450,310 410,345 350,340 300,350 270,375 220,345 180,315 120,310 70,305 20,285" fill="#20206c" opacity="0.8"/></g><g filter="url(#bl6)"><polyline points="20,245 80,270 120,240 180,245 210,290 260,310 300,265 370,235 420,250 470,225 520,235 570,260 640,290" fill="none" stroke="#702868" stroke-width="8" opacity="0.45"/></g><g filter="url(#bl5)"><ellipse cx="263.56" cy="327.58" rx="9.6" ry="9.31" fill="#3c46d0" opacity="0.85"/><ellipse cx="430.54" cy="245.49" rx="8.6" ry="6.94" fill="#3440c8" opacity="0.85"/><ellipse cx="352.11" cy="292.16" rx="7.86" ry="7.44" fill="#3c46d0" opacity="0.85"/><ellipse cx="602.68" cy="285.44" rx="7.57" ry="9.48" fill="#3c46d0" opacity="0.85"/><ellipse cx="143.07" cy="274.55" rx="7.56" ry="7.67" fill="#3440c8" opacity="0.85"/><ellipse cx="150.41" cy="257.54" rx="8.74" ry="9.36" fill="#3440c8" opacity="0.85"/><ellipse cx="382.64" cy="307.11" rx="9.53" ry="7.65" fill="#2c34b4" opacity="0.85"/><ellipse cx="472.49" cy="254.07" rx="6.54" ry="9.86" fill="#3c46d0" opacity="0.85"/><ellipse cx="417.35" cy="257.88" rx="8.07" ry="7.27" fill="#3440c8" opacity="0.85"/><ellipse cx="45.68" cy="275.4" rx="8.22" ry="9.14" fill="#2c34b4" opacity="0.85"/><ellipse cx="406.73" cy="306.87" rx="6.22" ry="9.48" fill="#2c34b4" opacity="0.85"/><ellipse cx="392.86" cy="329.31" rx="9.48" ry="9.48" fill="#3440c8" opacity="0.85"/><ellipse cx="79.3" cy="284.88" rx="8.58" ry="7.87" fill="#2c34b4" opacity="0.85"/><ellipse cx="584.26" cy="322.4" rx="7.36" ry="9.84" fill="#2c34b4" opacity="0.85"/><ellipse cx="301.98" cy="345.08" rx="9.1" ry="9.34" fill="#3c46d0" opacity="0.85"/><ellipse cx="295.7" cy="343.34" rx="7.76" ry="8.68" fill="#2c34b4" opacity="0.85"/><ellipse cx="368.24" cy="242.71" rx="6.28" ry="8.61" fill="#2c34b4" opacity="0.85"/><ellipse cx="227.83" cy="332.02" rx="9.25" ry="9.86" fill="#3440c8" opacity="0.85"/><ellipse cx="549.54" cy="296.35" rx="9.02" ry="6.43" fill="#2c34b4" opacity="0.85"/><ellipse cx="328.85" cy="343.27" rx="7.06" ry="9.12" fill="#2c34b4" opacity="0.85"/><ellipse cx="192.36" cy="280.86" rx="6.79" ry="8.04" fill="#2c34b4" opacity="0.85"/><ellipse cx="399.89" cy="320.43" rx="9.2" ry="8.17" fill="#2c34b4" opacity="0.85"/><ellipse cx="495.88" cy="263.21" rx="7.91" ry="6.57" fill="#2c34b4" opacity="0.85"/><ellipse cx="148.03" cy="254" rx="7.93" ry="6.25" fill="#3c46d0" opacity="0.85"/><ellipse cx="528.85" cy="269.81" rx="7.29" ry="9.41" fill="#2c34b4" opacity="0.85"/><ellipse cx="133.97" cy="293.23" rx="8.2" ry="9.1" fill="#3440c8" opacity="0.85"/><ellipse cx="450.86" cy="303.66" rx="8.76" ry="9.38" fill="#3c46d0" opacity="0.85"/><ellipse cx="553.03" cy="285.21" rx="9.54" ry="8.21" fill="#3c46d0" opacity="0.85"/><ellipse cx="344.9" cy="332.56" rx="8.34" ry="6.71" fill="#3440c8" opacity="0.85"/><ellipse cx="306.16" cy="332.55" rx="8.18" ry="9.15" fill="#3c46d0" opacity="0.85"/><ellipse cx="93.66" cy="288.73" rx="7.77" ry="7.27" fill="#3c46d0" opacity="0.85"/><ellipse cx="107.19" cy="282.11" rx="9.9" ry="7.04" fill="#3440c8" opacity="0.85"/><ellipse cx="575.14" cy="263.83" rx="8.58" ry="6.67" fill="#3c46d0" opacity="0.85"/><ellipse cx="526.94" cy="282.62" rx="9.88" ry="7.9" fill="#3c46d0" opacity="0.85"/><ellipse cx="143.04" cy="257.16" rx="8.88" ry="8.87" fill="#3c46d0" opacity="0.85"/><ellipse cx="234.28" cy="329.68" rx="6.57" ry="7.81" fill="#3440c8" opacity="0.85"/><ellipse cx="248.32" cy="340.66" rx="6.69" ry="8.05" fill="#3c46d0" opacity="0.85"/><ellipse cx="60.9" cy="262.35" rx="9.51" ry="7.42" fill="#2c34b4" opacity="0.85"/><ellipse cx="407.45" cy="296.93" rx="7.95" ry="6.8" fill="#2c34b4" opacity="0.85"/><ellipse cx="204.23" cy="296.07" rx="7.34" ry="8" fill="#3c46d0" opacity="0.85"/><ellipse cx="255.4" cy="338.64" rx="9.05" ry="8.88" fill="#2c34b4" opacity="0.85"/><ellipse cx="379.23" cy="285.52" rx="9.43" ry="6.65" fill="#3c46d0" opacity="0.85"/><ellipse cx="501.83" cy="259.98" rx="6.38" ry="7.84" fill="#2c34b4" opacity="0.85"/><ellipse cx="355.37" cy="272.96" rx="7.38" ry="9.43" fill="#3440c8" opacity="0.85"/><ellipse cx="136.3" cy="280.98" rx="9.01" ry="9.63" fill="#3c46d0" opacity="0.85"/><ellipse cx="437.49" cy="302.9" rx="7.16" ry="6.67" fill="#3440c8" opacity="0.85"/><ellipse cx="552.18" cy="271.29" rx="6.08" ry="6.21" fill="#2c34b4" opacity="0.85"/><ellipse cx="260.34" cy="326.58" rx="8.27" ry="6.95" fill="#2c34b4" opacity="0.85"/><ellipse cx="363.63" cy="258.24" rx="7.66" ry="7.19" fill="#3440c8" opacity="0.85"/><ellipse cx="274.64" cy="348.52" rx="9.85" ry="7.6" fill="#3440c8" opacity="0.85"/><ellipse cx="444.12" cy="273.56" rx="6.26" ry="7.62" fill="#3c46d0" opacity="0.85"/><ellipse cx="58.24" cy="262.24" rx="7.18" ry="8.6" fill="#2c34b4" opacity="0.85"/><ellipse cx="273.53" cy="305.77" rx="6.3" ry="6.58" fill="#2c34b4" opacity="0.85"/><ellipse cx="292.82" cy="297.01" rx="9.45" ry="8.82" fill="#3440c8" opacity="0.85"/><ellipse cx="316.39" cy="327.85" rx="7.3" ry="7" fill="#3c46d0" opacity="0.85"/><ellipse cx="312.88" cy="341.35" rx="7.8" ry="7.42" fill="#a83098" opacity="0.8"/><ellipse cx="343.43" cy="289.11" rx="7.07" ry="5.96" fill="#a83098" opacity="0.8"/><ellipse cx="635.49" cy="322.2" rx="6.1" ry="6.21" fill="#a83098" opacity="0.8"/><ellipse cx="625.61" cy="331.68" rx="4" ry="6.01" fill="#a83098" opacity="0.8"/><ellipse cx="411.69" cy="261.15" rx="4.2" ry="5.57" fill="#a83098" opacity="0.8"/><ellipse cx="160.45" cy="293.48" rx="7.45" ry="7.01" fill="#a83098" opacity="0.8"/><ellipse cx="232.7" cy="321.97" rx="5.59" ry="4.35" fill="#a83098" opacity="0.8"/><ellipse cx="144.18" cy="287.25" rx="4.98" ry="5.78" fill="#a83098" opacity="0.8"/><ellipse cx="354.3" cy="334" rx="4.98" ry="4.75" fill="#a83098" opacity="0.8"/><ellipse cx="348.56" cy="314.01" rx="5.97" ry="4.92" fill="#a83098" opacity="0.8"/><ellipse cx="533.79" cy="288.28" rx="6.39" ry="6.96" fill="#a83098" opacity="0.8"/><ellipse cx="336.63" cy="330.18" rx="6.14" ry="5.37" fill="#a83098" opacity="0.8"/></g><g filter="url(#bl4)"><ellipse cx="490" cy="400" rx="6" ry="14" fill="#e02048" transform="rotate(-15 490 400)"/><ellipse cx="565" cy="190" rx="10" ry="4" fill="#c02050"/><ellipse cx="575" cy="355" rx="8" ry="6" fill="#2838b0"/><ellipse cx="535" cy="380" rx="6" ry="5" fill="#2838b0"/></g><path d="M440 215 Q540 190 630 240" fill="none" stroke="#501838" stroke-width="4" opacity="0.8"/><rect x="120" y="247" width="65" height="68" fill="none" stroke="#e8e8e8" stroke-width="5"/></g></g>
<line x1="338.1" y1="267.3" x2="356.2" y2="267.3" stroke="#fff" stroke-width="1" /><text x="356.4" y="264.3" font-size="7.2" text-anchor="end" fill="#fff" >50 µm</text>
<clipPath id="cE10"><rect x="359.9" y="204.3" width="65.1" height="65.1"/></clipPath><rect x="359.9" y="204.3" width="65.1" height="65.1" fill="#070a07" /><g clip-path="url(#cE10)"><g transform="translate(357 202) scale(0.11)"><rect x="0" y="0" width="660" height="660" fill="#34204e" /><g filter="url(#bl12)"><ellipse cx="110" cy="85" rx="78" ry="82" fill="#2a40b8"/><ellipse cx="340" cy="45" rx="85" ry="52" fill="#283cb0"/><ellipse cx="545" cy="110" rx="92" ry="98" fill="#2e44c0"/><ellipse cx="95" cy="340" rx="55" ry="125" fill="#4446c0" transform="rotate(5 95 340)"/><ellipse cx="215" cy="290" rx="62" ry="145" fill="#6854c0" transform="rotate(8 215 290)"/><ellipse cx="315" cy="375" rx="60" ry="105" fill="#8850b4" transform="rotate(5 315 375)"/><ellipse cx="400" cy="190" rx="58" ry="65" fill="#4c44b8"/><ellipse cx="425" cy="400" rx="60" ry="140" fill="#3a4ccc" transform="rotate(12 425 400)"/><ellipse cx="525" cy="330" rx="60" ry="135" fill="#3648c4" transform="rotate(5 525 330)"/><ellipse cx="618" cy="400" rx="45" ry="120" fill="#3246c0"/></g><g filter="url(#bl6)"><ellipse cx="185.42" cy="227" rx="8.82" ry="12.4" fill="#c060c0" opacity="0.6"/><ellipse cx="214.74" cy="338.45" rx="7.6" ry="10.05" fill="#c060c0" opacity="0.6"/><ellipse cx="239.02" cy="295.02" rx="12.67" ry="12.29" fill="#c060c0" opacity="0.6"/><ellipse cx="205.97" cy="180.16" rx="11.53" ry="7.76" fill="#c060c0" opacity="0.6"/><ellipse cx="180.66" cy="340.75" rx="12.06" ry="12.02" fill="#c060c0" opacity="0.6"/><ellipse cx="246.74" cy="224.37" rx="7.49" ry="7.72" fill="#c060c0" opacity="0.6"/><ellipse cx="248.44" cy="204.62" rx="7.96" ry="7.12" fill="#c060c0" opacity="0.6"/><ellipse cx="278.45" cy="310.36" rx="9.12" ry="7.98" fill="#c060c0" opacity="0.6"/><ellipse cx="296.68" cy="435.03" rx="8" ry="11.89" fill="#c060c0" opacity="0.6"/><ellipse cx="326.69" cy="384.59" rx="10.45" ry="11.62" fill="#c060c0" opacity="0.6"/><ellipse cx="316.1" cy="337.1" rx="8.98" ry="8.46" fill="#c060c0" opacity="0.6"/><ellipse cx="303.05" cy="443.22" rx="9.56" ry="7.42" fill="#c060c0" opacity="0.6"/><ellipse cx="308.37" cy="418.78" rx="9.67" ry="11.21" fill="#c060c0" opacity="0.6"/><ellipse cx="281.36" cy="313.74" rx="10.97" ry="7.29" fill="#c060c0" opacity="0.6"/><ellipse cx="90.1" cy="319.23" rx="8.16" ry="7.22" fill="#c060c0" opacity="0.6"/><ellipse cx="75.34" cy="421.29" rx="11.13" ry="12.71" fill="#c060c0" opacity="0.6"/><ellipse cx="99.59" cy="421.79" rx="12.18" ry="10.71" fill="#c060c0" opacity="0.6"/><ellipse cx="101.26" cy="341.56" rx="8.35" ry="9.26" fill="#c060c0" opacity="0.6"/><ellipse cx="111.15" cy="285.14" rx="12.1" ry="10.06" fill="#c060c0" opacity="0.6"/><ellipse cx="105.21" cy="397.93" rx="10.88" ry="7.83" fill="#c060c0" opacity="0.6"/><ellipse cx="87.39" cy="250.19" rx="7.16" ry="12.71" fill="#c060c0" opacity="0.6"/><ellipse cx="405.58" cy="232.81" rx="11.68" ry="8.89" fill="#c060c0" opacity="0.6"/><ellipse cx="428.03" cy="229.58" rx="9.74" ry="7.5" fill="#c060c0" opacity="0.6"/><ellipse cx="389.11" cy="176.64" rx="9.19" ry="7.5" fill="#c060c0" opacity="0.6"/><ellipse cx="412.79" cy="233.57" rx="8.26" ry="11.68" fill="#c060c0" opacity="0.6"/><ellipse cx="405.07" cy="198.79" rx="12.44" ry="9.26" fill="#c060c0" opacity="0.6"/><ellipse cx="419.26" cy="167.43" rx="12.79" ry="8.1" fill="#c060c0" opacity="0.6"/><ellipse cx="370.22" cy="226.69" rx="11.33" ry="11.05" fill="#c060c0" opacity="0.6"/><ellipse cx="440.96" cy="375.47" rx="7.69" ry="8.91" fill="#c060c0" opacity="0.6"/><ellipse cx="452.22" cy="496.29" rx="8.38" ry="9.65" fill="#c060c0" opacity="0.6"/><ellipse cx="422.04" cy="480.84" rx="7.03" ry="11.98" fill="#c060c0" opacity="0.6"/><ellipse cx="410.21" cy="409.83" rx="7.77" ry="7.5" fill="#c060c0" opacity="0.6"/><ellipse cx="447.98" cy="400.59" rx="12.83" ry="12.19" fill="#c060c0" opacity="0.6"/><ellipse cx="440.15" cy="314.93" rx="10.54" ry="12.95" fill="#c060c0" opacity="0.6"/><ellipse cx="425.18" cy="313.18" rx="8.11" ry="12.93" fill="#c060c0" opacity="0.6"/><ellipse cx="300" cy="395" rx="28" ry="30" fill="#e070c8"/><ellipse cx="435" cy="340" rx="16" ry="10" fill="#f080b0"/></g><g filter="url(#bl12)"><polygon points="0,480 150,465 250,490 320,535 380,575 450,590 520,560 580,545 660,560 660,680 0,680" fill="#060806"/></g><g filter="url(#bl4)"><ellipse cx="545" cy="125" rx="11" ry="11" fill="#f01850"/><ellipse cx="565" cy="330" rx="9" ry="9" fill="#f01850"/><ellipse cx="345" cy="468" rx="7" ry="6" fill="#e01850"/><ellipse cx="105" cy="150" rx="5" ry="5" fill="#e01850"/><ellipse cx="630" cy="190" rx="5" ry="5" fill="#e01850"/><ellipse cx="600" cy="100" rx="5" ry="5" fill="#e01850"/></g></g></g>
<line x1="407.3" y1="267.3" x2="423.4" y2="267.3" stroke="#fff" stroke-width="1" /><text x="423.6" y="264.3" font-size="7.2" text-anchor="end" fill="#fff" >5 µm</text>
<clipPath id="cE20"><rect x="428" y="204.3" width="65.1" height="65.1"/></clipPath><rect x="428" y="204.3" width="65.1" height="65.1" fill="#070a07" /><g clip-path="url(#cE20)"><g transform="translate(425 202) scale(0.11)"><g filter="url(#bl10)"><polygon points="20,470 60,400 100,345 150,285 220,250 300,240 340,254 400,224 450,249 500,274 560,274 640,259 640,357 560,362 500,387 450,357 400,312 370,342 300,337 250,357 200,392 150,442 100,482 20,502" fill="#4a2468" opacity="0.8"/></g><g filter="url(#bl5)"><polyline points="150,285 220,250 300,240 340,254 400,224 450,249 500,274 560,274 640,259" fill="none" stroke="#a03c98" stroke-width="8" opacity="0.45"/></g><g filter="url(#bl5)"><polyline points="640,357 560,362 500,387 450,357 400,312 370,342 300,337 250,357 200,392 150,442 100,482 20,502" fill="none" stroke="#b040a0" stroke-width="9" opacity="0.55"/></g><g filter="url(#bl4)"><path d="M40 440 Q50 330 110 290 Q150 250 215 238" fill="none" stroke="#a03890" stroke-width="7" opacity="0.6"/></g><g filter="url(#bl5)"><ellipse cx="526.54" cy="301.09" rx="9.14" ry="9.33" fill="#3440b8" opacity="0.8"/><ellipse cx="583.47" cy="275.85" rx="7.73" ry="7.6" fill="#3440b8" opacity="0.8"/><ellipse cx="206.8" cy="309.97" rx="9.63" ry="8.65" fill="#3844c4" opacity="0.8"/><ellipse cx="442.44" cy="256.6" rx="10.86" ry="10.47" fill="#4050cc" opacity="0.8"/><ellipse cx="196.35" cy="283.31" rx="7.66" ry="9.13" fill="#3844c4" opacity="0.8"/><ellipse cx="170.46" cy="299.81" rx="9.71" ry="8.96" fill="#3844c4" opacity="0.8"/><ellipse cx="208.69" cy="333.59" rx="7.05" ry="9.53" fill="#3844c4" opacity="0.8"/><ellipse cx="40.41" cy="466.63" rx="7.63" ry="9.2" fill="#3440b8" opacity="0.8"/><ellipse cx="313.56" cy="323.54" rx="10.86" ry="8.26" fill="#4050cc" opacity="0.8"/><ellipse cx="318.33" cy="329.41" rx="8.39" ry="10.76" fill="#3844c4" opacity="0.8"/><ellipse cx="455.3" cy="269.37" rx="9.86" ry="10.42" fill="#3844c4" opacity="0.8"/><ellipse cx="334.31" cy="296.44" rx="9.24" ry="9.97" fill="#3844c4" opacity="0.8"/><ellipse cx="221.47" cy="253.35" rx="10.06" ry="9.2" fill="#3440b8" opacity="0.8"/><ellipse cx="134.86" cy="421.85" rx="9.16" ry="7.5" fill="#3440b8" opacity="0.8"/><ellipse cx="405.65" cy="303.55" rx="9.44" ry="9.86" fill="#4050cc" opacity="0.8"/><ellipse cx="187.62" cy="386.18" rx="10.25" ry="10.62" fill="#4050cc" opacity="0.8"/><ellipse cx="375.25" cy="279.22" rx="10.5" ry="9.96" fill="#3440b8" opacity="0.8"/><ellipse cx="64.33" cy="481.54" rx="7.12" ry="9.19" fill="#3844c4" opacity="0.8"/><ellipse cx="498.66" cy="383.48" rx="10.31" ry="10.52" fill="#3844c4" opacity="0.8"/><ellipse cx="24.2" cy="485.07" rx="10.64" ry="9.77" fill="#3440b8" opacity="0.8"/><ellipse cx="24.01" cy="463.77" rx="9.91" ry="10.91" fill="#3440b8" opacity="0.8"/><ellipse cx="403.6" cy="314.86" rx="10.57" ry="8.43" fill="#3844c4" opacity="0.8"/><ellipse cx="230.26" cy="361.81" rx="9.07" ry="9.59" fill="#3844c4" opacity="0.8"/><ellipse cx="298.91" cy="280.21" rx="7.82" ry="7.56" fill="#3844c4" opacity="0.8"/><ellipse cx="277" cy="260.18" rx="8.29" ry="10.69" fill="#3844c4" opacity="0.8"/><ellipse cx="516.01" cy="375.44" rx="10.88" ry="7.53" fill="#3844c4" opacity="0.8"/><ellipse cx="243.97" cy="294.22" rx="7.84" ry="9.19" fill="#3440b8" opacity="0.8"/><ellipse cx="257.44" cy="302.41" rx="8.98" ry="9.75" fill="#3440b8" opacity="0.8"/><ellipse cx="469.4" cy="286.4" rx="8.04" ry="8.35" fill="#4050cc" opacity="0.8"/><ellipse cx="626.57" cy="320.12" rx="7.01" ry="7.8" fill="#3440b8" opacity="0.8"/><ellipse cx="512.69" cy="367.44" rx="7.61" ry="8.1" fill="#3844c4" opacity="0.8"/><ellipse cx="509.43" cy="331.27" rx="7.43" ry="7.47" fill="#3440b8" opacity="0.8"/><ellipse cx="406.57" cy="276.42" rx="8.64" ry="10.13" fill="#4050cc" opacity="0.8"/><ellipse cx="165.44" cy="409.78" rx="7.25" ry="10.79" fill="#4050cc" opacity="0.8"/><ellipse cx="295.25" cy="335.04" rx="9.46" ry="7.39" fill="#3440b8" opacity="0.8"/><ellipse cx="81.13" cy="437.64" rx="9.19" ry="8.36" fill="#3440b8" opacity="0.8"/><ellipse cx="128.65" cy="342" rx="8.51" ry="8.38" fill="#4050cc" opacity="0.8"/><ellipse cx="103.94" cy="369.22" rx="7.45" ry="8.34" fill="#3844c4" opacity="0.8"/><ellipse cx="372.87" cy="249.47" rx="7.4" ry="9.81" fill="#3440b8" opacity="0.8"/><ellipse cx="212.54" cy="374.16" rx="9.19" ry="7.11" fill="#4050cc" opacity="0.8"/><ellipse cx="357.07" cy="302.7" rx="10.41" ry="9.27" fill="#3440b8" opacity="0.8"/><ellipse cx="166.29" cy="294.56" rx="10.78" ry="10.91" fill="#3440b8" opacity="0.8"/><ellipse cx="518.7" cy="278.13" rx="8.1" ry="10.14" fill="#4050cc" opacity="0.8"/><ellipse cx="172.41" cy="391.28" rx="7.32" ry="8.6" fill="#4050cc" opacity="0.8"/><ellipse cx="237.39" cy="257.15" rx="10.11" ry="9.89" fill="#3440b8" opacity="0.8"/><ellipse cx="359.23" cy="301.97" rx="8.52" ry="9.81" fill="#3844c4" opacity="0.8"/><ellipse cx="237.5" cy="304.41" rx="10.7" ry="10.48" fill="#4050cc" opacity="0.8"/><ellipse cx="91.09" cy="443.23" rx="8.36" ry="8.51" fill="#4050cc" opacity="0.8"/><ellipse cx="278.91" cy="312.01" rx="8.21" ry="8.24" fill="#3440b8" opacity="0.8"/><ellipse cx="579.74" cy="344.37" rx="8.48" ry="7.82" fill="#3844c4" opacity="0.8"/><ellipse cx="336.66" cy="322.96" rx="10.01" ry="10.62" fill="#4050cc" opacity="0.8"/><ellipse cx="177.89" cy="291.64" rx="7.23" ry="10.19" fill="#3844c4" opacity="0.8"/><ellipse cx="435.72" cy="296.08" rx="7.9" ry="9.74" fill="#3844c4" opacity="0.8"/><ellipse cx="287.63" cy="316.77" rx="10.02" ry="9.17" fill="#4050cc" opacity="0.8"/><ellipse cx="463.4" cy="260.54" rx="9.07" ry="9.03" fill="#3440b8" opacity="0.8"/><ellipse cx="129.75" cy="449.16" rx="9.64" ry="10.02" fill="#4050cc" opacity="0.8"/><ellipse cx="250.96" cy="307.82" rx="10.26" ry="10.17" fill="#3844c4" opacity="0.8"/><ellipse cx="203.92" cy="314.46" rx="10.28" ry="9.58" fill="#4050cc" opacity="0.8"/><ellipse cx="385.08" cy="310.64" rx="10.24" ry="8.61" fill="#3844c4" opacity="0.8"/><ellipse cx="387" cy="241.62" rx="9.48" ry="10.56" fill="#3440b8" opacity="0.8"/><ellipse cx="215" cy="430" rx="6.02" ry="5.02" fill="#2c3aa8" opacity="0.85"/><ellipse cx="270" cy="400" rx="7.34" ry="7.73" fill="#2c3aa8" opacity="0.85"/><ellipse cx="300" cy="400" rx="8.64" ry="7.51" fill="#2c3aa8" opacity="0.85"/><ellipse cx="280" cy="455" rx="6.21" ry="5.62" fill="#2c3aa8" opacity="0.85"/><ellipse cx="370" cy="395" rx="8.32" ry="6.32" fill="#2c3aa8" opacity="0.85"/><ellipse cx="400" cy="385" rx="6.96" ry="7.88" fill="#2c3aa8" opacity="0.85"/><ellipse cx="375" cy="465" rx="6.05" ry="6.46" fill="#2c3aa8" opacity="0.85"/><ellipse cx="395" cy="485" rx="8.65" ry="7.1" fill="#2c3aa8" opacity="0.85"/><ellipse cx="490" cy="470" rx="8.67" ry="5.82" fill="#2c3aa8" opacity="0.85"/><ellipse cx="330" cy="525" rx="7.68" ry="7.94" fill="#2c3aa8" opacity="0.85"/><ellipse cx="350" cy="545" rx="6.4" ry="6.29" fill="#2c3aa8" opacity="0.85"/><ellipse cx="380" cy="575" rx="8.97" ry="5.48" fill="#2c3aa8" opacity="0.85"/><ellipse cx="240" cy="500" rx="8.32" ry="7.25" fill="#2c3aa8" opacity="0.85"/><ellipse cx="180" cy="520" rx="6.77" ry="7.97" fill="#2c3aa8" opacity="0.85"/><ellipse cx="90" cy="590" rx="8.34" ry="5.4" fill="#2c3aa8" opacity="0.85"/><ellipse cx="120" cy="600" rx="8.97" ry="7.65" fill="#2c3aa8" opacity="0.85"/><ellipse cx="260" cy="610" rx="7.44" ry="5.09" fill="#2c3aa8" opacity="0.85"/><ellipse cx="70" cy="560" rx="8.35" ry="6.75" fill="#2c3aa8" opacity="0.85"/><ellipse cx="150" cy="560" rx="8.23" ry="5.24" fill="#2c3aa8" opacity="0.85"/><ellipse cx="450" cy="420" rx="7.44" ry="7.42" fill="#2c3aa8" opacity="0.85"/><ellipse cx="520" cy="430" rx="8.19" ry="5.52" fill="#2c3aa8" opacity="0.85"/><ellipse cx="600" cy="400" rx="6.99" ry="6.36" fill="#2c3aa8" opacity="0.85"/><ellipse cx="560" cy="460" rx="7.38" ry="7.97" fill="#2c3aa8" opacity="0.85"/><ellipse cx="430" cy="600" rx="8.8" ry="5" fill="#2c3aa8" opacity="0.85"/><ellipse cx="335" cy="605" rx="12" ry="8" fill="#d048a0"/><ellipse cx="290" cy="495" rx="8" ry="6" fill="#c040a0"/><ellipse cx="230" cy="490" rx="14" ry="5" fill="#a03890"/></g><rect x="305" y="283" width="65" height="62" fill="none" stroke="#e8e8e8" stroke-width="5"/></g></g>
<line x1="473.4" y1="267.3" x2="491.5" y2="267.3" stroke="#fff" stroke-width="1" /><text x="491.7" y="264.3" font-size="7.2" text-anchor="end" fill="#fff" >50 µm</text>
<clipPath id="cE30"><rect x="495.2" y="204.3" width="65.1" height="65.1"/></clipPath><rect x="495.2" y="204.3" width="65.1" height="65.1" fill="#070a07" /><g clip-path="url(#cE30)"><g transform="translate(492 202) scale(0.11)"><rect x="0" y="0" width="660" height="660" fill="#662868" /><g filter="url(#bl12)"><ellipse cx="150" cy="270" rx="150" ry="225" fill="#5444b0"/><ellipse cx="345" cy="370" rx="120" ry="160" fill="#6448b4"/><ellipse cx="550" cy="370" rx="115" ry="125" fill="#a858b4"/><ellipse cx="525" cy="100" rx="120" ry="115" fill="#443cac"/></g><g filter="url(#bl12)"><ellipse cx="355" cy="310" rx="45" ry="50" fill="#c868c4"/><ellipse cx="545" cy="360" rx="70" ry="75" fill="#c070c0"/><ellipse cx="330" cy="430" rx="25" ry="25" fill="#b860c0"/><ellipse cx="150" cy="330" rx="60" ry="80" fill="#3c44c0"/><ellipse cx="70" cy="240" rx="22" ry="18" fill="#e070b0"/></g><g filter="url(#bl10)"><polygon points="0,440 60,470 150,510 250,540 330,540 420,510 500,500 660,505 660,680 0,680" fill="#060806"/></g><g filter="url(#bl5)"><ellipse cx="230" cy="45" rx="13" ry="11.7" fill="#f02868"/><ellipse cx="175" cy="75" rx="13" ry="11.7" fill="#f02868"/><ellipse cx="205" cy="160" rx="19" ry="17.1" fill="#f02868"/><ellipse cx="185" cy="225" rx="24" ry="21.6" fill="#f02868"/><ellipse cx="505" cy="240" rx="13" ry="11.7" fill="#f02868"/><ellipse cx="580" cy="190" rx="13" ry="11.7" fill="#f02868"/><ellipse cx="420" cy="185" rx="7" ry="6.3" fill="#f02868"/><ellipse cx="300" cy="350" rx="11" ry="9.9" fill="#f02868"/><ellipse cx="270" cy="385" rx="15" ry="13.5" fill="#f02868"/><ellipse cx="285" cy="480" rx="11" ry="9.9" fill="#f02868"/><ellipse cx="75" cy="425" rx="13" ry="11.7" fill="#f02868"/><ellipse cx="95" cy="365" rx="9" ry="8.1" fill="#f02868"/><ellipse cx="340" cy="415" rx="10" ry="9" fill="#f02868"/><ellipse cx="495" cy="55" rx="9" ry="8.1" fill="#f02868"/><ellipse cx="410" cy="70" rx="6" ry="5.4" fill="#f02868"/><ellipse cx="150" cy="130" rx="7" ry="6.3" fill="#f02868"/><ellipse cx="590" cy="130" rx="6" ry="5.4" fill="#f02868"/></g></g></g>
<line x1="542.6" y1="267.3" x2="558.7" y2="267.3" stroke="#fff" stroke-width="1" /><text x="558.9" y="264.3" font-size="7.2" text-anchor="end" fill="#fff" >5 µm</text>
<clipPath id="cE01"><rect x="292.7" y="273.6" width="65.1" height="65.1"/></clipPath><rect x="292.7" y="273.6" width="65.1" height="65.1" fill="#070a07" /><g clip-path="url(#cE01)"><g transform="translate(290 271) scale(0.11)"><g filter="url(#bl10)"><polygon points="20,255 100,225 180,215 250,180 290,200 280,260 240,300 245,375 215,355 200,295 170,255 100,255 20,295" fill="#1c261e"/><polygon points="290,395 330,320 400,285 500,285 640,325 640,385 520,405 470,430 450,415 400,375 350,365 300,400" fill="#1c261e"/></g><g filter="url(#bl6)"><polyline points="20,290 100,250 170,250 200,290 215,350 240,370" fill="none" stroke="#2c9c58" stroke-width="12" opacity="0.55"/><polyline points="300,392 350,360 400,370 450,410 520,400 640,380" fill="none" stroke="#2c9468" stroke-width="11" opacity="0.5"/></g><g filter="url(#bl5)"><ellipse cx="221.77" cy="348.68" rx="5.17" ry="5.97" fill="#2836a8" opacity="0.8"/><ellipse cx="94.01" cy="251.49" rx="5" ry="5.74" fill="#3088b0" opacity="0.8"/><ellipse cx="213.68" cy="294.13" rx="6.86" ry="7.78" fill="#3088b0" opacity="0.8"/><ellipse cx="222.6" cy="251.04" rx="8.13" ry="6.28" fill="#50b080" opacity="0.8"/><ellipse cx="214.85" cy="253.04" rx="8.01" ry="6.64" fill="#3088b0" opacity="0.8"/><ellipse cx="248.44" cy="196.2" rx="6.31" ry="8.43" fill="#3088b0" opacity="0.8"/><ellipse cx="242.07" cy="369.63" rx="6.07" ry="7.26" fill="#2836a8" opacity="0.8"/><ellipse cx="125.01" cy="231.61" rx="5.7" ry="6.17" fill="#50b080" opacity="0.8"/><ellipse cx="201.09" cy="286.92" rx="8.48" ry="5.86" fill="#2836a8" opacity="0.8"/><ellipse cx="46.42" cy="253.59" rx="7.47" ry="5.45" fill="#3088b0" opacity="0.8"/><ellipse cx="250.35" cy="266.23" rx="5.75" ry="5.68" fill="#3088b0" opacity="0.8"/><ellipse cx="203.81" cy="230.65" rx="6.97" ry="8.4" fill="#3088b0" opacity="0.8"/><ellipse cx="177.43" cy="222.75" rx="5.81" ry="8.94" fill="#50b080" opacity="0.8"/><ellipse cx="232.19" cy="338.62" rx="8.96" ry="7.76" fill="#50b080" opacity="0.8"/><ellipse cx="22.93" cy="270.85" rx="8.98" ry="7.45" fill="#50b080" opacity="0.8"/><ellipse cx="243.82" cy="212.23" rx="6.65" ry="6.83" fill="#3088b0" opacity="0.8"/><ellipse cx="223.21" cy="236.99" rx="6.15" ry="5.22" fill="#50b080" opacity="0.8"/><ellipse cx="34.48" cy="256" rx="7.3" ry="8.08" fill="#3088b0" opacity="0.8"/><ellipse cx="183.52" cy="236.55" rx="8.83" ry="8.95" fill="#3040b8" opacity="0.8"/><ellipse cx="263.02" cy="199.14" rx="5.25" ry="5.74" fill="#2836a8" opacity="0.8"/><ellipse cx="229.69" cy="196.65" rx="6.46" ry="6.24" fill="#3040b8" opacity="0.8"/><ellipse cx="172.03" cy="248.48" rx="8.15" ry="5.3" fill="#2836a8" opacity="0.8"/><ellipse cx="238.63" cy="252.59" rx="8.21" ry="8.06" fill="#3088b0" opacity="0.8"/><ellipse cx="257.14" cy="211.61" rx="6.01" ry="7.35" fill="#2836a8" opacity="0.8"/><ellipse cx="143.01" cy="227.42" rx="5.6" ry="8.83" fill="#3088b0" opacity="0.8"/><ellipse cx="242.33" cy="239.47" rx="6.85" ry="5.65" fill="#3040b8" opacity="0.8"/><ellipse cx="209.41" cy="214.96" rx="6.86" ry="8.86" fill="#50b080" opacity="0.8"/><ellipse cx="238.6" cy="314.5" rx="6.6" ry="6.54" fill="#3088b0" opacity="0.8"/><ellipse cx="256.75" cy="199.15" rx="5.37" ry="5.11" fill="#50b080" opacity="0.8"/><ellipse cx="231.05" cy="311.87" rx="6.66" ry="6.1" fill="#3088b0" opacity="0.8"/><ellipse cx="375.11" cy="306.02" rx="7.02" ry="6.58" fill="#2836a8" opacity="0.8"/><ellipse cx="429.75" cy="322.42" rx="7.4" ry="6.16" fill="#50b080" opacity="0.8"/><ellipse cx="370.29" cy="363.86" rx="8.9" ry="7.12" fill="#3040b8" opacity="0.8"/><ellipse cx="465.83" cy="342.64" rx="8.16" ry="8.1" fill="#2836a8" opacity="0.8"/><ellipse cx="555.71" cy="306.41" rx="8.87" ry="7.95" fill="#50b080" opacity="0.8"/><ellipse cx="444.44" cy="349.15" rx="8.28" ry="5.31" fill="#50b080" opacity="0.8"/><ellipse cx="503.76" cy="410.9" rx="7.35" ry="8.36" fill="#2836a8" opacity="0.8"/><ellipse cx="496.59" cy="285.2" rx="8.24" ry="7.2" fill="#50b080" opacity="0.8"/><ellipse cx="498.15" cy="336.95" rx="7.8" ry="5.65" fill="#3088b0" opacity="0.8"/><ellipse cx="436.93" cy="367.89" rx="8.92" ry="5.42" fill="#2836a8" opacity="0.8"/><ellipse cx="419.48" cy="338" rx="8.23" ry="7.45" fill="#2836a8" opacity="0.8"/><ellipse cx="480.91" cy="292.45" rx="6" ry="7.13" fill="#50b080" opacity="0.8"/><ellipse cx="332.21" cy="341.51" rx="6.87" ry="8.09" fill="#3088b0" opacity="0.8"/><ellipse cx="559.38" cy="353.79" rx="5.85" ry="7.99" fill="#3040b8" opacity="0.8"/><ellipse cx="506.25" cy="407.86" rx="6.31" ry="6.28" fill="#50b080" opacity="0.8"/><ellipse cx="584.87" cy="347.02" rx="7.05" ry="5.18" fill="#3088b0" opacity="0.8"/><ellipse cx="411.71" cy="286.69" rx="6.94" ry="8" fill="#50b080" opacity="0.8"/><ellipse cx="550.17" cy="305.1" rx="7.7" ry="5.72" fill="#2836a8" opacity="0.8"/><ellipse cx="452.95" cy="302.83" rx="8.44" ry="6.4" fill="#50b080" opacity="0.8"/><ellipse cx="551.51" cy="351.53" rx="9" ry="6.6" fill="#3088b0" opacity="0.8"/><ellipse cx="329.49" cy="369.9" rx="5.49" ry="7.53" fill="#3088b0" opacity="0.8"/><ellipse cx="500.3" cy="316.01" rx="8.86" ry="7.32" fill="#3088b0" opacity="0.8"/><ellipse cx="407.19" cy="350.03" rx="7.64" ry="5.18" fill="#3040b8" opacity="0.8"/><ellipse cx="581.03" cy="335.64" rx="8.48" ry="8.15" fill="#2836a8" opacity="0.8"/><ellipse cx="416.74" cy="291.54" rx="7" ry="5.39" fill="#3088b0" opacity="0.8"/><ellipse cx="360.15" cy="346.38" rx="6.63" ry="6.89" fill="#50b080" opacity="0.8"/><ellipse cx="320.9" cy="339.4" rx="7.1" ry="5.08" fill="#2836a8" opacity="0.8"/><ellipse cx="414.34" cy="331.27" rx="5.19" ry="5.49" fill="#2836a8" opacity="0.8"/><ellipse cx="386.83" cy="313.25" rx="8.54" ry="6.83" fill="#3040b8" opacity="0.8"/><ellipse cx="444.25" cy="295.32" rx="5.09" ry="8.83" fill="#50b080" opacity="0.8"/><ellipse cx="455.47" cy="310.73" rx="6.45" ry="7.2" fill="#3040b8" opacity="0.8"/><ellipse cx="462.83" cy="305.99" rx="7.81" ry="7.22" fill="#3040b8" opacity="0.8"/><ellipse cx="593.65" cy="358.06" rx="7.89" ry="8.89" fill="#2836a8" opacity="0.8"/><ellipse cx="516.12" cy="317.26" rx="7.53" ry="8.34" fill="#50b080" opacity="0.8"/><ellipse cx="50" cy="345" rx="7" ry="6" fill="#2838a8" opacity="0.8"/><ellipse cx="30" cy="610" rx="7" ry="6" fill="#2838a8" opacity="0.8"/><ellipse cx="575" cy="525" rx="7" ry="6" fill="#2838a8" opacity="0.8"/><ellipse cx="540" cy="455" rx="7" ry="6" fill="#2838a8" opacity="0.8"/><ellipse cx="340" cy="550" rx="7" ry="6" fill="#2838a8" opacity="0.8"/><ellipse cx="250" cy="185" rx="7" ry="6" fill="#2838a8" opacity="0.8"/><ellipse cx="70" cy="300" rx="7" ry="6" fill="#2838a8" opacity="0.8"/><ellipse cx="290" cy="545" rx="6" ry="5" fill="#a040a0"/><ellipse cx="215" cy="340" rx="8" ry="10" fill="#d050c0"/><ellipse cx="425" cy="425" rx="8" ry="10" fill="#e070d0"/><ellipse cx="60" cy="240" rx="8" ry="6" fill="#c050b0"/></g><rect x="405" y="393" width="65" height="65" fill="none" stroke="#e8e8e8" stroke-width="5"/></g></g>
<line x1="338.1" y1="336.6" x2="356.2" y2="336.6" stroke="#fff" stroke-width="1" /><text x="356.4" y="333.6" font-size="7.2" text-anchor="end" fill="#fff" >50 µm</text>
<clipPath id="cE11"><rect x="359.9" y="273.6" width="65.1" height="65.1"/></clipPath><rect x="359.9" y="273.6" width="65.1" height="65.1" fill="#070a07" /><g clip-path="url(#cE11)"><g transform="translate(357 271) scale(0.11)"><g filter="url(#bl10)"><polygon points="30,-20 700,-20 700,560 400,540 260,470 170,340 100,160 30,40" fill="#222e24"/></g><g filter="url(#bl30)"><ellipse cx="480" cy="260" rx="210" ry="210" fill="#2a3a2c" opacity="0.85"/></g><g filter="url(#bl12)"><ellipse cx="545" cy="200" rx="95" ry="95" fill="#192058"/><ellipse cx="180" cy="45" rx="70" ry="34" fill="#2430a0"/></g><g filter="url(#bl6)"><ellipse cx="500" cy="165" rx="12" ry="12" fill="#2830a0" opacity="0.85"/><ellipse cx="545" cy="185" rx="12" ry="12" fill="#2830a0" opacity="0.85"/><ellipse cx="600" cy="215" rx="12" ry="12" fill="#2830a0" opacity="0.85"/><ellipse cx="560" cy="260" rx="12" ry="12" fill="#2830a0" opacity="0.85"/><ellipse cx="520" cy="130" rx="12" ry="12" fill="#2830a0" opacity="0.85"/></g><g filter="url(#bl8)"><ellipse cx="150" cy="145" rx="58" ry="52" fill="#3058e4"/><ellipse cx="245" cy="195" rx="46" ry="34" fill="#a0e020"/><ellipse cx="255" cy="110" rx="16" ry="22" fill="#60d030"/><ellipse cx="120" cy="52" rx="14" ry="16" fill="#90e040"/><ellipse cx="228" cy="280" rx="90" ry="62" fill="#d048c8"/><ellipse cx="222" cy="368" rx="32" ry="26" fill="#b0e830"/><ellipse cx="322" cy="376" rx="52" ry="46" fill="#d048c4"/><ellipse cx="332" cy="430" rx="44" ry="34" fill="#c840c0"/><ellipse cx="300" cy="490" rx="46" ry="22" fill="#b838b8"/><ellipse cx="490" cy="482" rx="84" ry="30" fill="#d848c8"/><ellipse cx="305" cy="255" rx="22" ry="34" fill="#70d030"/><ellipse cx="400" cy="432" rx="18" ry="14" fill="#30b048"/><ellipse cx="600" cy="482" rx="18" ry="14" fill="#30b048"/><ellipse cx="420" cy="382" rx="14" ry="12" fill="#30a848"/><ellipse cx="380" cy="465" rx="12" ry="12" fill="#30a848"/><ellipse cx="285" cy="150" rx="12" ry="16" fill="#50c838"/><ellipse cx="330" cy="200" rx="10" ry="10" fill="#40b840"/></g><g filter="url(#bl7)"><ellipse cx="165" cy="160" rx="32" ry="30" fill="#e8f8ff"/><ellipse cx="205" cy="310" rx="50" ry="44" fill="#ffffff"/><ellipse cx="254" cy="248" rx="36" ry="30" fill="#f8f0ff"/><ellipse cx="270" cy="386" rx="30" ry="22" fill="#f0fff0"/><ellipse cx="502" cy="466" rx="28" ry="12" fill="#fff0ff"/><ellipse cx="320" cy="360" rx="16" ry="14" fill="#f8e8ff"/></g></g></g>
<line x1="407.3" y1="336.6" x2="423.4" y2="336.6" stroke="#fff" stroke-width="1" /><text x="423.6" y="333.6" font-size="7.2" text-anchor="end" fill="#fff" >5 µm</text>
<clipPath id="cE21"><rect x="428" y="273.6" width="65.1" height="65.1"/></clipPath><rect x="428" y="273.6" width="65.1" height="65.1" fill="#070a07" /><g clip-path="url(#cE21)"><g transform="translate(425 271) scale(0.11)"><g filter="url(#bl10)"><polygon points="20,290 100,260 200,240 260,270 330,330 390,385 300,410 200,412 100,388 20,350" fill="#222c38"/><polygon points="330,330 390,310 460,270 530,250 640,280 640,620 560,570 500,505 465,430 440,375 390,385" fill="#1e2834"/></g><g filter="url(#bl6)"><polyline points="20,345 100,382 200,406 300,404 390,380" fill="none" stroke="#38b070" stroke-width="12" opacity="0.5"/><polyline points="440,372 468,430 502,503 562,568 640,615" fill="none" stroke="#3090c0" stroke-width="9" opacity="0.7"/><polyline points="400,330 470,320 540,340 600,370" fill="none" stroke="#30b890" stroke-width="7" opacity="0.6"/></g><g filter="url(#bl4)"><ellipse cx="248.59" cy="384.81" rx="8.18" ry="8.36" fill="#4050d8"/><ellipse cx="253.48" cy="303.51" rx="10.22" ry="10.18" fill="#6848c0"/><ellipse cx="215.37" cy="258.55" rx="7.17" ry="10.31" fill="#3444d0"/><ellipse cx="272.69" cy="343.31" rx="8.85" ry="9.04" fill="#2c3cc0"/><ellipse cx="124.31" cy="305.11" rx="10.78" ry="7.67" fill="#2c3cc0"/><ellipse cx="292.37" cy="316.35" rx="7.99" ry="8.58" fill="#4050d8"/><ellipse cx="47.81" cy="289.64" rx="7.84" ry="9.3" fill="#2c3cc0"/><ellipse cx="153.61" cy="361.25" rx="8.95" ry="8.28" fill="#2c3cc0"/><ellipse cx="325.95" cy="336.77" rx="7.68" ry="9.49" fill="#4050d8"/><ellipse cx="256.5" cy="338.57" rx="7.82" ry="8.49" fill="#4050d8"/><ellipse cx="32.6" cy="330.59" rx="9.8" ry="8.46" fill="#6848c0"/><ellipse cx="98.9" cy="311.72" rx="8.02" ry="8.18" fill="#3444d0"/><ellipse cx="150.19" cy="267.4" rx="8.78" ry="8.71" fill="#2c3cc0"/><ellipse cx="338.42" cy="365.22" rx="8.84" ry="9.48" fill="#4050d8"/><ellipse cx="285.99" cy="360.31" rx="10.83" ry="7.87" fill="#3444d0"/><ellipse cx="208.95" cy="397.59" rx="9.85" ry="7.58" fill="#4050d8"/><ellipse cx="251.22" cy="288.64" rx="7.2" ry="8.99" fill="#2c3cc0"/><ellipse cx="285.32" cy="322.77" rx="8.31" ry="9.91" fill="#2c3cc0"/><ellipse cx="98.82" cy="346.26" rx="10.28" ry="10.49" fill="#4050d8"/><ellipse cx="37.87" cy="317.24" rx="8.47" ry="9.04" fill="#6848c0"/><ellipse cx="260.41" cy="298.67" rx="7.55" ry="7.02" fill="#3444d0"/><ellipse cx="207.13" cy="282.16" rx="8.34" ry="8.96" fill="#6848c0"/><ellipse cx="216.26" cy="321.53" rx="9.3" ry="9.87" fill="#6848c0"/><ellipse cx="233.32" cy="333.5" rx="8.42" ry="8.05" fill="#3444d0"/><ellipse cx="128.86" cy="276.37" rx="10.35" ry="10.54" fill="#4050d8"/><ellipse cx="276.98" cy="313.78" rx="9" ry="7.16" fill="#2c3cc0"/><ellipse cx="212.6" cy="397.54" rx="8.51" ry="9.7" fill="#2c3cc0"/><ellipse cx="298.97" cy="309.03" rx="8.88" ry="8.9" fill="#6848c0"/><ellipse cx="137.06" cy="273.44" rx="10.89" ry="9.1" fill="#6848c0"/><ellipse cx="323.94" cy="361.18" rx="8.31" ry="8.35" fill="#6848c0"/><ellipse cx="352.07" cy="360.61" rx="9.5" ry="10.53" fill="#3444d0"/><ellipse cx="148.37" cy="334.6" rx="7.08" ry="10.91" fill="#4050d8"/><ellipse cx="334.48" cy="355.83" rx="9.63" ry="10.21" fill="#3444d0"/><ellipse cx="118.97" cy="328.61" rx="7.14" ry="7.89" fill="#4050d8"/><ellipse cx="30.28" cy="341.78" rx="8.24" ry="8.8" fill="#3444d0"/><ellipse cx="184.48" cy="297.23" rx="7.98" ry="10.95" fill="#3444d0"/><ellipse cx="299.6" cy="346.36" rx="8.42" ry="9.08" fill="#2c3cc0"/><ellipse cx="45.32" cy="316.9" rx="8.74" ry="8.88" fill="#4050d8"/><ellipse cx="249.25" cy="406.74" rx="8.11" ry="9.57" fill="#6848c0"/><ellipse cx="261.96" cy="338.77" rx="10.89" ry="9.03" fill="#6848c0"/><ellipse cx="621.81" cy="469.88" rx="9.72" ry="10.99" fill="#3444d0"/><ellipse cx="381.29" cy="336.29" rx="8.2" ry="9.17" fill="#2c3cc0"/><ellipse cx="623.07" cy="480.37" rx="7.97" ry="10.46" fill="#3444d0"/><ellipse cx="559.47" cy="372.31" rx="9.58" ry="10.59" fill="#3444d0"/><ellipse cx="624.56" cy="334.14" rx="9.5" ry="7.83" fill="#2c3cc0"/><ellipse cx="588.31" cy="464.76" rx="8.67" ry="9.35" fill="#6848c0"/><ellipse cx="469.48" cy="340.87" rx="7.52" ry="8.96" fill="#2c3cc0"/><ellipse cx="511.33" cy="505.02" rx="9.96" ry="10.34" fill="#3444d0"/><ellipse cx="592.75" cy="461.4" rx="9.79" ry="7.88" fill="#2c3cc0"/><ellipse cx="571.83" cy="279.11" rx="10.46" ry="9.73" fill="#6848c0"/><ellipse cx="490.66" cy="301.63" rx="8.66" ry="10.82" fill="#4050d8"/><ellipse cx="492.68" cy="342.09" rx="8.89" ry="8.65" fill="#2c3cc0"/><ellipse cx="500.02" cy="339.99" rx="7.77" ry="9.23" fill="#4050d8"/><ellipse cx="481.96" cy="355.23" rx="8.88" ry="7.4" fill="#6848c0"/><ellipse cx="576.43" cy="397.11" rx="8.68" ry="10.73" fill="#4050d8"/><ellipse cx="591.11" cy="469.96" rx="9.36" ry="9.81" fill="#2c3cc0"/><ellipse cx="531.96" cy="475.09" rx="10.99" ry="9.3" fill="#3444d0"/><ellipse cx="511.76" cy="273.18" rx="9.15" ry="8.46" fill="#6848c0"/><ellipse cx="575.01" cy="477.21" rx="7.17" ry="10.86" fill="#2c3cc0"/><ellipse cx="624.84" cy="491.81" rx="7.75" ry="10.39" fill="#3444d0"/><ellipse cx="501.2" cy="446.26" rx="9.8" ry="9.22" fill="#4050d8"/><ellipse cx="442.24" cy="303.31" rx="7.49" ry="10.44" fill="#3444d0"/><ellipse cx="593.22" cy="341.95" rx="10.98" ry="10.81" fill="#3444d0"/><ellipse cx="622.6" cy="508.78" rx="7.19" ry="7.86" fill="#6848c0"/><ellipse cx="485.13" cy="272.88" rx="9.36" ry="9.28" fill="#2c3cc0"/><ellipse cx="597.88" cy="577.64" rx="9.89" ry="7.45" fill="#2c3cc0"/><ellipse cx="599.38" cy="491.99" rx="10.94" ry="8.85" fill="#4050d8"/><ellipse cx="409.52" cy="378.34" rx="9.2" ry="8.72" fill="#4050d8"/><ellipse cx="527.07" cy="492.44" rx="8.35" ry="8.62" fill="#2c3cc0"/><ellipse cx="427.64" cy="324.27" rx="9.97" ry="8.6" fill="#2c3cc0"/><ellipse cx="471.28" cy="380.11" rx="8.68" ry="9.68" fill="#4050d8"/><ellipse cx="555.07" cy="552.11" rx="8.9" ry="10.42" fill="#3444d0"/><ellipse cx="569.26" cy="567.54" rx="8.24" ry="10.14" fill="#4050d8"/><ellipse cx="574.47" cy="559.87" rx="8.65" ry="8.31" fill="#2c3cc0"/><ellipse cx="538.08" cy="273.87" rx="10.18" ry="9.64" fill="#3444d0"/><ellipse cx="614.23" cy="536.2" rx="8.32" ry="7.99" fill="#6848c0"/><ellipse cx="604.57" cy="546.63" rx="7.2" ry="8.93" fill="#2c3cc0"/><ellipse cx="566.78" cy="515.59" rx="7" ry="9.77" fill="#3444d0"/><ellipse cx="613.64" cy="325.61" rx="8.35" ry="10.22" fill="#3444d0"/><ellipse cx="503.95" cy="355.96" rx="8.79" ry="8.25" fill="#4050d8"/><ellipse cx="632.71" cy="433.16" rx="7.38" ry="8.66" fill="#3444d0"/><ellipse cx="474.55" cy="441.56" rx="10.03" ry="10.53" fill="#2c3cc0"/><ellipse cx="469.35" cy="308.21" rx="8.66" ry="9.41" fill="#4050d8"/><ellipse cx="365.16" cy="338.24" rx="8.97" ry="8.91" fill="#4050d8"/><ellipse cx="629.86" cy="520.62" rx="9.26" ry="10.02" fill="#3444d0"/><ellipse cx="574.9" cy="332.01" rx="8.24" ry="9.56" fill="#4050d8"/><ellipse cx="419.01" cy="367.08" rx="10.06" ry="7.79" fill="#6848c0"/><ellipse cx="508.08" cy="423.4" rx="10.76" ry="8.95" fill="#2c3cc0"/><ellipse cx="563.36" cy="386.51" rx="9.07" ry="7.67" fill="#6848c0"/><ellipse cx="473.96" cy="400.94" rx="10.42" ry="9.97" fill="#3444d0"/><ellipse cx="637.81" cy="376.2" rx="8.57" ry="9.27" fill="#2c3cc0"/><ellipse cx="468.19" cy="345.53" rx="8.23" ry="9.45" fill="#4050d8"/><ellipse cx="459.76" cy="293.06" rx="9.7" ry="8.19" fill="#4050d8"/><ellipse cx="474.82" cy="417.37" rx="9.03" ry="8.77" fill="#2c3cc0"/><ellipse cx="470.61" cy="317.59" rx="10.24" ry="7.9" fill="#3444d0"/><ellipse cx="513.68" cy="363.71" rx="7.44" ry="9.9" fill="#2c3cc0"/><ellipse cx="538.34" cy="368.36" rx="8.07" ry="10.33" fill="#4050d8"/><ellipse cx="585.37" cy="572.22" rx="10.54" ry="8.28" fill="#4050d8"/><ellipse cx="501.07" cy="392.32" rx="8.01" ry="10.26" fill="#6848c0"/><ellipse cx="420.51" cy="319.49" rx="8.73" ry="8.83" fill="#6848c0"/><ellipse cx="130" cy="250" rx="8" ry="7" fill="#2c3cc0"/><ellipse cx="200" cy="235" rx="8" ry="7" fill="#2c3cc0"/><ellipse cx="250" cy="290" rx="8" ry="7" fill="#2c3cc0"/><ellipse cx="370" cy="520" rx="8" ry="7" fill="#2c3cc0"/><ellipse cx="330" cy="575" rx="8" ry="7" fill="#2c3cc0"/><ellipse cx="360" cy="610" rx="8" ry="7" fill="#2c3cc0"/><ellipse cx="300" cy="550" rx="8" ry="7" fill="#2c3cc0"/><ellipse cx="480" cy="560" rx="8" ry="7" fill="#2c3cc0"/><ellipse cx="180" cy="450" rx="8" ry="7" fill="#2c3cc0"/><ellipse cx="210" cy="480" rx="8" ry="7" fill="#2c3cc0"/><ellipse cx="440" cy="470" rx="8" ry="7" fill="#2c3cc0"/><ellipse cx="120" cy="180" rx="8" ry="7" fill="#2c3cc0"/><ellipse cx="105" cy="115" rx="8" ry="8" fill="#e060c0"/><ellipse cx="145" cy="500" rx="18" ry="5" fill="#50d040" transform="rotate(25 145 500)"/><ellipse cx="325" cy="490" rx="12" ry="5" fill="#50d040"/><ellipse cx="330" cy="570" rx="7" ry="6" fill="#c050b0"/><ellipse cx="60" cy="345" rx="10" ry="8" fill="#d0d8f0"/></g><rect x="330" y="350" width="60" height="65" fill="none" stroke="#e8e8e8" stroke-width="5"/></g></g>
<line x1="473.4" y1="336.6" x2="491.5" y2="336.6" stroke="#fff" stroke-width="1" /><text x="491.7" y="333.6" font-size="7.2" text-anchor="end" fill="#fff" >50 µm</text>
<clipPath id="cE31"><rect x="495.2" y="273.6" width="65.1" height="65.1"/></clipPath><rect x="495.2" y="273.6" width="65.1" height="65.1" fill="#070a07" /><g clip-path="url(#cE31)"><g transform="translate(492 271) scale(0.11)"><g filter="url(#bl10)"><polygon points="-20,-20 700,-20 700,360 520,350 430,370 330,450 200,560 30,605 -20,610" fill="#242e26"/></g><g filter="url(#bl10)"><ellipse cx="460" cy="45" rx="95" ry="45" fill="#2838c0"/><ellipse cx="612" cy="130" rx="42" ry="45" fill="#3040c8"/><ellipse cx="625" cy="245" rx="32" ry="40" fill="#5040c0"/><ellipse cx="90" cy="300" rx="75" ry="75" fill="#2a3cc4"/><ellipse cx="140" cy="100" rx="32" ry="28" fill="#1c2880"/><ellipse cx="330" cy="170" rx="55" ry="32" fill="#2030a0"/><ellipse cx="50" cy="560" rx="40" ry="38" fill="#3080e0"/></g><g filter="url(#bl8)"><ellipse cx="172" cy="462" rx="122" ry="84" fill="#c048c4"/><ellipse cx="335" cy="338" rx="74" ry="86" fill="#c850c8"/><ellipse cx="500" cy="274" rx="92" ry="86" fill="#d050c8"/><ellipse cx="230" cy="368" rx="56" ry="26" fill="#c0e830"/><ellipse cx="312" cy="432" rx="18" ry="26" fill="#a0e030"/><ellipse cx="425" cy="290" rx="14" ry="32" fill="#90e030"/><ellipse cx="560" cy="352" rx="30" ry="13" fill="#a0e030"/><ellipse cx="340" cy="100" rx="12" ry="10" fill="#40c040"/><ellipse cx="400" cy="172" rx="14" ry="10" fill="#50d040"/><ellipse cx="600" cy="90" rx="10" ry="8" fill="#50d040"/><ellipse cx="180" cy="300" rx="10" ry="14" fill="#30b050"/><ellipse cx="480" cy="150" rx="30" ry="8" fill="#50c848"/><ellipse cx="90" cy="430" rx="34" ry="26" fill="#4868e8"/><ellipse cx="245" cy="530" rx="44" ry="22" fill="#4858e0"/><ellipse cx="150" cy="270" rx="16" ry="14" fill="#a040b0"/><ellipse cx="470" cy="190" rx="22" ry="12" fill="#b040b0"/><ellipse cx="610" cy="320" rx="22" ry="34" fill="#b040c0"/></g><g filter="url(#bl8)"><ellipse cx="170" cy="478" rx="72" ry="40" fill="#ffffff"/><ellipse cx="365" cy="318" rx="42" ry="52" fill="#ffffff"/><ellipse cx="515" cy="250" rx="56" ry="44" fill="#ffffff"/><ellipse cx="110" cy="440" rx="28" ry="20" fill="#d8f4ff"/><ellipse cx="340" cy="262" rx="26" ry="16" fill="#f0fff0"/><ellipse cx="570" cy="300" rx="18" ry="18" fill="#e0f8ff"/><ellipse cx="250" cy="455" rx="24" ry="18" fill="#f4e8ff"/><ellipse cx="470" cy="300" rx="18" ry="22" fill="#e8f0ff"/></g><g filter="url(#bl5)"><ellipse cx="150" cy="500" rx="16" ry="10" fill="#d040c0"/><ellipse cx="200" cy="450" rx="12" ry="8" fill="#d040c0"/><ellipse cx="370" cy="345" rx="12" ry="14" fill="#d040c0"/><ellipse cx="500" cy="270" rx="14" ry="10" fill="#d848c8"/><ellipse cx="540" cy="230" rx="10" ry="10" fill="#d848c8"/></g></g></g>
<line x1="542.6" y1="336.6" x2="558.7" y2="336.6" stroke="#fff" stroke-width="1" /><text x="558.9" y="333.6" font-size="7.2" text-anchor="end" fill="#fff" >5 µm</text>
<path d="M586.1 205.8V262.2H622" fill="none" stroke="#222" stroke-width="0.8"/><line x1="584.3" y1="262.2" x2="586.1" y2="262.2" stroke="#222" stroke-width="0.7" /><text x="583.7" y="264.1" font-size="5.4" text-anchor="end" fill="#1a1a1a" stroke="#1a1a1a" stroke-width="0.12" >0</text><line x1="584.3" y1="250.98" x2="586.1" y2="250.98" stroke="#222" stroke-width="0.7" /><text x="583.7" y="252.88" font-size="5.4" text-anchor="end" fill="#1a1a1a" stroke="#1a1a1a" stroke-width="0.12" >20</text><line x1="584.3" y1="239.76" x2="586.1" y2="239.76" stroke="#222" stroke-width="0.7" /><text x="583.7" y="241.66" font-size="5.4" text-anchor="end" fill="#1a1a1a" stroke="#1a1a1a" stroke-width="0.12" >40</text><line x1="584.3" y1="228.54" x2="586.1" y2="228.54" stroke="#222" stroke-width="0.7" /><text x="583.7" y="230.44" font-size="5.4" text-anchor="end" fill="#1a1a1a" stroke="#1a1a1a" stroke-width="0.12" >60</text><line x1="584.3" y1="217.32" x2="586.1" y2="217.32" stroke="#222" stroke-width="0.7" /><text x="583.7" y="219.22" font-size="5.4" text-anchor="end" fill="#1a1a1a" stroke="#1a1a1a" stroke-width="0.12" >80</text><line x1="584.3" y1="206.1" x2="586.1" y2="206.1" stroke="#222" stroke-width="0.7" /><text x="583.7" y="208" font-size="5.4" text-anchor="end" fill="#1a1a1a" stroke="#1a1a1a" stroke-width="0.12" >100</text><rect x="592.4" y="246.49" width="10.5" height="15.71" fill="#0a0a0a" /><line x1="597.65" y1="246.49" x2="597.65" y2="243.69" stroke="#0a0a0a" stroke-width="0.8" /><line x1="595.05" y1="243.69" x2="600.25" y2="243.69" stroke="#0a0a0a" stroke-width="0.8" /><rect x="608.1" y="220.12" width="10.7" height="42.07" fill="#e8131e" /><line x1="613.45" y1="220.12" x2="613.45" y2="216.2" stroke="#e8131e" stroke-width="0.8" /><line x1="610.85" y1="216.2" x2="616.05" y2="216.2" stroke="#e8131e" stroke-width="0.8" /><circle cx="595.9" cy="243.6" r="1.0" fill="#666" stroke="#111" stroke-width="0.5"/><circle cx="599.2" cy="244.6" r="1.0" fill="#666" stroke="#111" stroke-width="0.5"/><circle cx="597.6" cy="250.7" r="1" fill="#fff" /><circle cx="613.4" cy="213.1" r="1.0" fill="#666" stroke="#111" stroke-width="0.5"/><circle cx="611.1" cy="223.6" r="1.0" fill="#666" stroke="#111" stroke-width="0.5"/><circle cx="615.7" cy="222.6" r="1.0" fill="#666" stroke="#111" stroke-width="0.5"/><line x1="597.2" y1="209.3" x2="614" y2="209.3" stroke="#222" stroke-width="0.7" /><text x="605.4" y="209" font-size="6" text-anchor="middle" fill="#1a1a1a" stroke="#1a1a1a" stroke-width="0.13" >**</text><text x="598.7" y="268.4" font-size="5.7" text-anchor="middle" fill="#1a1a1a" stroke="#1a1a1a" stroke-width="0.13" >Water</text><text x="614.8" y="268.4" font-size="5.7" text-anchor="middle" fill="#1a1a1a" stroke="#1a1a1a" stroke-width="0.13" >AEW</text><text x="575.2" y="235" font-size="4.9" text-anchor="middle" fill="#1a1a1a" stroke="#1a1a1a" stroke-width="0.11" transform="rotate(-90 575.2 235)" ><tspan font-style="italic">Cux1</tspan><tspan font-size="70%" dy="-0.4em">+</tspan><tspan dy="0.28em">-</tspan><tspan font-style="italic">Ki67</tspan><tspan font-size="70%" dy="-0.4em">+</tspan><tspan dy="0.28em"> cells (%)</tspan></text>
<path d="M586.1 274.8V331.2H622" fill="none" stroke="#222" stroke-width="0.8"/><line x1="584.3" y1="331.2" x2="586.1" y2="331.2" stroke="#222" stroke-width="0.7" /><text x="583.7" y="333.1" font-size="5.4" text-anchor="end" fill="#1a1a1a" stroke="#1a1a1a" stroke-width="0.12" >0</text><line x1="584.3" y1="317.18" x2="586.1" y2="317.18" stroke="#222" stroke-width="0.7" /><text x="583.7" y="319.07" font-size="5.4" text-anchor="end" fill="#1a1a1a" stroke="#1a1a1a" stroke-width="0.12" >20</text><line x1="584.3" y1="303.15" x2="586.1" y2="303.15" stroke="#222" stroke-width="0.7" /><text x="583.7" y="305.05" font-size="5.4" text-anchor="end" fill="#1a1a1a" stroke="#1a1a1a" stroke-width="0.12" >40</text><line x1="584.3" y1="289.12" x2="586.1" y2="289.12" stroke="#222" stroke-width="0.7" /><text x="583.7" y="291.02" font-size="5.4" text-anchor="end" fill="#1a1a1a" stroke="#1a1a1a" stroke-width="0.12" >60</text><line x1="584.3" y1="275.1" x2="586.1" y2="275.1" stroke="#222" stroke-width="0.7" /><text x="583.7" y="277" font-size="5.4" text-anchor="end" fill="#1a1a1a" stroke="#1a1a1a" stroke-width="0.12" >80</text><rect x="592.4" y="303.43" width="10.5" height="27.77" fill="#0a0a0a" /><line x1="597.65" y1="303.43" x2="597.65" y2="299.22" stroke="#0a0a0a" stroke-width="0.8" /><line x1="595.05" y1="299.22" x2="600.25" y2="299.22" stroke="#0a0a0a" stroke-width="0.8" /><rect x="608.1" y="299.92" width="10.7" height="31.28" fill="#e8131e" /><line x1="613.45" y1="299.92" x2="613.45" y2="294.66" stroke="#e8131e" stroke-width="0.8" /><line x1="610.85" y1="294.66" x2="616.05" y2="294.66" stroke="#e8131e" stroke-width="0.8" /><circle cx="597.6" cy="298" r="1.0" fill="#666" stroke="#111" stroke-width="0.5"/><circle cx="597.6" cy="309.5" r="1" fill="#fff" /><circle cx="613.4" cy="291.3" r="1.0" fill="#666" stroke="#111" stroke-width="0.5"/><circle cx="613.4" cy="300.9" r="1" fill="#fff" /><circle cx="613.4" cy="308.5" r="1" fill="#fff" /><line x1="597.2" y1="286.6" x2="614" y2="286.6" stroke="#222" stroke-width="0.7" /><text x="605.4" y="285" font-size="5.2" text-anchor="middle" fill="#1a1a1a" stroke="#1a1a1a" stroke-width="0.11" >ns</text><text x="598.7" y="337.4" font-size="5.7" text-anchor="middle" fill="#1a1a1a" stroke="#1a1a1a" stroke-width="0.13" >Water</text><text x="614.8" y="337.4" font-size="5.7" text-anchor="middle" fill="#1a1a1a" stroke="#1a1a1a" stroke-width="0.13" >AEW</text><text x="575.2" y="302.8" font-size="4.9" text-anchor="middle" fill="#1a1a1a" stroke="#1a1a1a" stroke-width="0.11" transform="rotate(-90 575.2 302.8)" ><tspan font-style="italic">Col17a1</tspan><tspan font-size="70%" dy="-0.4em">+</tspan><tspan dy="0.28em">-</tspan><tspan font-style="italic">Ki67</tspan><tspan font-size="70%" dy="-0.4em">+</tspan><tspan dy="0.28em"> cells (%)</tspan></text>
</g>
<g id="panelF">
<text x="20" y="355.6" font-size="11.8" text-anchor="start" fill="#1a1a1a" stroke="#1a1a1a" stroke-width="0.26" >F</text>
<circle cx="69.8" cy="361.9" r="1.9" fill="#c5dde8" /><text x="74.4" y="364.5" font-size="7.4" text-anchor="start" fill="#1a1a1a" stroke="#1a1a1a" stroke-width="0.16" font-style="italic" >Col17a1<tspan font-size="55%" dy="-0.82em">hi</tspan></text><circle cx="113.4" cy="361.9" r="1.9" fill="#0a7ab8" /><text x="117.8" y="364.5" font-size="7.4" text-anchor="start" fill="#1a1a1a" stroke="#1a1a1a" stroke-width="0.16" font-style="italic" >Cux1<tspan font-size="55%" dy="-0.82em">hi</tspan></text>
<ellipse cx="123.85" cy="413.47" rx="9.5" ry="23" fill="#e3ebef" transform="rotate(-14 123.85 413.47)"/>
<polygon points="80.8,399.2 86.0,395.7 93.1,395.4 99.6,396.3 105.4,399.6 110.4,406.3 112.7,414.1 115.3,421.9 117.6,429.0 118.7,436.4 115.8,442.2 109.3,443.5 102.2,442.2 96.3,437.5 90.9,431.8 85.7,425.5 81.8,418.8 79.2,410.5 78.7,404.0" fill="#f4d6d8" stroke="#f4d6d8" stroke-width="1.2" stroke-linejoin="round"/><path d="M101.1 441.3h0M99.1 439.5h0M97.7 437.3h0M117.4 426.5h0M111.1 405.9h0M118.5 433.1h0M79.4 404.5h0M112.6 414.6h0M78.2 406.9h0M110.1 407.0h0M79.8 403.7h0M116.8 438.0h0M84.2 396.7h0M80.4 399.7h0M100.1 440.2h0M83.8 396.3h0M98.1 396.4h0M105.7 400.3h0M93.2 433.9h0M92.3 434.8h0M116.7 425.4h0M91.3 433.3h0M79.4 408.7h0M110.8 443.7h0M116.9 440.2h0M110.4 407.9h0M115.0 422.5h0M107.2 402.7h0M104.3 399.4h0M114.1 419.3h0M117.6 435.3h0M108.6 404.2h0M112.2 410.4h0M89.8 395.3h0M97.5 437.5h0M106.5 400.9h0M104.3 399.3h0M117.5 439.4h0M102.7 397.5h0M112.1 412.9h0M82.6 418.4h0M79.7 409.8h0M84.2 422.8h0M82.6 398.4h0M105.7 399.5h0M116.8 426.9h0M79.7 412.2h0M81.0 415.5h0M97.2 395.4h0M110.3 408.8h0M90.5 431.3h0M97.3 395.6h0M86.7 427.6h0M93.4 394.9h0M89.4 430.0h0M83.1 397.8h0M82.5 399.4h0M105.6 400.1h0M118.9 432.5h0M112.8 412.7h0M98.9 440.2h0M79.0 405.3h0M116.3 427.2h0M87.6 395.3h0M118.2 435.5h0M99.5 395.9h0M97.1 438.5h0M104.2 443.4h0M93.4 433.9h0M114.8 421.8h0" fill="none" stroke="#f4d6d8" stroke-width="2" stroke-linecap="round"/>
<polygon points="82.1,399.8 86.0,396.9 92.4,396.9 98.9,397.9 104.8,401.1 109.3,407.6 111.6,414.1 114.2,421.9 116.6,429.7 117.1,436.2 114.5,440.5 109.3,441.6 102.8,440.3 97.6,435.9 92.4,430.7 87.3,424.5 83.4,418.0 80.8,410.2 80.1,404.4" fill="#c5dde8" stroke="#c5dde8" stroke-width="1.2" stroke-linejoin="round"/><path d="M109.2 442.1h0M83.1 414.5h0M92.9 397.2h0M89.2 427.2h0M98.9 398.9h0M82.9 399.0h0M96.6 433.0h0M99.3 398.6h0M80.1 407.1h0M82.9 400.3h0M83.4 416.0h0M117.0 435.5h0M114.6 426.8h0M94.0 398.1h0M111.5 440.6h0M116.3 429.4h0M85.8 424.5h0M103.9 399.4h0M117.9 431.1h0M116.0 435.4h0M90.4 429.2h0M116.9 436.3h0M107.5 441.8h0M115.7 436.7h0M115.9 437.1h0M85.2 418.5h0M108.9 441.0h0M115.8 428.3h0M83.1 415.0h0M93.1 431.1h0M116.3 426.8h0M106.2 405.4h0M115.9 423.0h0M101.4 439.2h0M116.6 433.1h0M116.2 437.9h0M108.9 408.7h0M100.1 436.1h0M83.6 418.5h0M80.3 408.3h0M116.1 427.0h0M110.9 415.7h0M82.9 417.7h0M109.7 442.3h0M97.7 396.6h0M81.3 408.4h0M91.9 430.2h0M80.8 410.0h0M79.3 407.8h0M89.3 427.0h0M110.3 409.3h0M98.0 437.7h0M112.5 414.1h0M100.2 400.4h0M115.8 429.5h0M92.9 429.8h0M116.2 423.1h0M95.4 434.8h0M81.5 415.9h0M81.3 409.2h0M88.3 426.2h0M110.2 409.8h0M110.4 409.8h0M92.5 397.4h0M88.9 425.5h0M84.0 416.2h0M112.3 412.1h0M87.7 426.4h0M97.2 434.9h0M81.5 407.2h0M118.0 434.9h0M81.8 407.6h0M110.2 441.6h0M113.1 421.0h0M113.5 424.1h0M109.3 406.3h0M116.3 436.3h0M80.2 404.5h0M94.3 398.0h0M116.3 428.6h0M106.4 441.3h0M95.1 434.0h0M95.8 397.6h0M102.2 400.4h0M93.3 397.5h0M113.3 421.8h0M84.9 422.6h0M117.8 431.0h0M106.2 440.1h0M108.9 406.9h0M112.5 418.4h0M103.2 440.4h0M114.6 419.9h0M85.0 398.2h0M96.4 435.1h0M116.5 430.1h0M84.1 420.2h0M99.0 436.7h0M97.2 433.8h0M96.3 434.1h0M114.6 426.3h0M89.6 397.1h0M109.7 442.3h0M80.7 401.3h0M96.3 397.1h0M89.5 426.8h0M111.6 414.3h0M92.4 430.0h0M116.7 438.6h0M115.0 424.7h0" fill="none" stroke="#c5dde8" stroke-width="2" stroke-linecap="round"/>
<path d="M72.3 398.3h0M76.9 397.9h0M79.2 396.6h0M85.7 391.4h0M89.2 390.8h0M76.2 407.4h0M80.1 415.4h0M77.5 402.4h0M82.7 397.9h0M97.6 396.0h0M99.6 397.5h0M96.3 394.7h0M101.8 390.1h0M108.3 442.9h0M113.9 443.3h0M94.0 434.9h0M86.6 395.3h0M80.8 401.1h0" fill="none" stroke="#c5dde8" stroke-width="2" stroke-linecap="round"/>
<path d="M112.1 391.9h0M114.4 392.0h0M110.3 392.3h0M110.3 393.1h0M112.8 392.1h0M112.8 392.7h0M115.1 392.6h0M109.1 394.3h0M111.8 393.3h0M113.6 393.2h0M115.9 394.0h0M116.6 394.0h0M111.1 394.3h0M111.6 394.1h0M115.3 393.8h0M116.3 394.8h0M118.3 394.6h0M109.6 395.8h0M111.3 395.6h0M112.9 395.5h0M115.9 395.8h0M116.7 395.3h0M118.1 395.9h0M119.5 395.4h0M119.7 395.1h0M108.1 396.2h0M110.0 396.7h0M113.8 397.4h0M115.9 396.0h0M116.9 397.1h0M117.5 395.9h0M119.5 396.0h0M120.3 396.2h0M108.9 397.0h0M110.9 397.5h0M113.4 398.5h0M114.3 397.6h0M115.7 397.3h0M118.4 398.3h0M119.6 396.9h0M107.2 398.2h0M107.9 398.7h0M111.7 398.9h0M114.0 399.1h0M116.1 398.5h0M117.7 398.0h0M118.7 397.9h0M121.0 398.4h0M122.3 398.4h0M107.9 399.7h0M110.5 399.4h0M111.4 399.3h0M114.3 400.1h0M116.6 400.0h0M117.9 400.2h0M119.2 400.3h0M120.4 400.3h0M122.6 399.1h0M107.7 401.4h0M108.2 400.6h0M110.2 400.7h0M112.1 400.7h0M114.0 400.5h0M116.3 401.3h0M116.5 400.5h0M118.3 400.3h0M119.0 401.3h0M121.3 400.9h0M121.3 401.6h0M123.9 400.0h0M109.5 402.4h0M110.9 401.2h0M111.7 401.0h0M112.5 402.2h0M115.9 401.8h0M115.7 401.9h0M117.3 401.9h0M120.8 401.5h0M120.4 401.0h0M123.4 401.7h0M124.2 402.6h0M108.8 402.5h0M110.4 402.5h0M111.6 402.6h0M112.5 402.2h0M114.7 403.1h0M116.5 402.4h0M116.6 402.2h0M118.7 403.0h0M121.5 403.6h0M122.5 403.4h0M124.4 403.4h0M125.7 403.4h0M107.9 403.9h0M109.8 404.7h0M110.8 403.7h0M112.2 404.0h0M114.2 404.0h0M115.7 403.8h0M118.0 404.2h0M120.0 403.5h0M121.8 403.2h0M123.0 403.3h0M123.9 403.7h0M108.2 404.8h0M109.6 404.2h0M110.8 404.6h0M112.3 404.5h0M114.6 404.6h0M118.2 405.2h0M119.1 404.6h0M119.8 405.1h0M121.6 405.6h0M122.6 405.1h0M123.9 404.1h0M124.6 404.5h0M110.0 406.7h0M112.8 406.7h0M114.4 405.6h0M117.3 405.6h0M118.1 405.3h0M121.9 406.8h0M124.0 405.8h0M124.2 406.0h0M126.0 405.9h0M126.9 406.6h0M110.6 407.2h0M112.7 407.2h0M113.8 406.7h0M114.1 406.9h0M116.5 407.6h0M118.8 407.0h0M121.1 406.9h0M124.1 406.4h0M127.2 407.1h0M111.3 408.6h0M113.2 407.8h0M114.3 408.5h0M116.8 407.8h0M118.4 407.9h0M120.7 407.6h0M120.4 407.8h0M122.0 408.6h0M123.4 407.6h0M125.2 408.3h0M126.3 407.4h0M126.8 407.4h0M109.6 409.4h0M110.5 409.4h0M111.6 409.0h0M116.0 409.1h0M116.6 409.2h0M118.5 408.2h0M121.3 409.7h0M122.1 408.3h0M123.1 408.7h0M124.6 408.8h0M125.9 409.2h0M127.3 409.4h0M127.5 409.4h0M110.5 409.7h0M111.9 410.1h0M115.6 410.7h0M116.7 410.3h0M117.4 409.9h0M118.5 410.3h0M122.7 409.4h0M123.7 409.7h0M125.4 410.4h0M125.1 410.2h0M127.4 409.7h0M129.1 410.0h0M111.1 410.8h0M112.3 411.1h0M112.9 411.4h0M115.6 411.4h0M117.6 410.6h0M118.9 411.8h0M120.9 411.8h0M122.5 411.4h0M123.7 411.5h0M127.2 410.6h0M128.5 410.8h0M111.0 412.7h0M112.2 412.6h0M114.0 411.7h0M117.5 411.4h0M119.3 411.9h0M119.2 412.6h0M123.0 412.3h0M123.5 412.1h0M125.5 412.9h0M126.7 411.8h0M127.6 412.1h0M127.9 412.8h0M110.8 412.5h0M111.3 413.1h0M113.0 413.5h0M114.4 413.2h0M116.5 413.3h0M117.7 412.6h0M117.4 412.9h0M119.7 413.0h0M122.7 413.8h0M127.1 412.9h0M129.0 412.6h0M109.8 413.4h0M112.6 414.4h0M113.6 414.3h0M115.1 414.6h0M117.7 413.7h0M119.5 414.0h0M120.4 414.5h0M121.1 414.5h0M123.0 414.9h0M124.0 414.3h0M129.3 415.0h0M112.1 415.1h0M112.6 416.1h0M114.0 414.6h0M121.9 414.6h0M122.4 416.1h0M123.7 414.7h0M125.5 415.1h0M127.9 416.0h0M130.5 414.9h0M110.6 416.8h0M111.9 416.1h0M115.3 415.5h0M116.3 417.0h0M118.1 416.7h0M122.8 416.7h0M124.2 415.8h0M124.4 416.9h0M126.2 416.8h0M130.0 416.7h0M111.1 417.7h0M114.2 417.5h0M116.4 417.2h0M116.5 418.0h0M118.7 417.6h0M119.1 417.1h0M122.0 417.3h0M123.1 417.4h0M124.3 416.8h0M125.0 417.7h0M127.0 416.7h0M128.3 417.6h0M113.8 418.0h0M115.9 417.6h0M115.6 418.1h0M117.5 419.1h0M118.8 418.1h0M121.2 418.9h0M122.8 418.3h0M123.3 418.8h0M125.3 419.3h0M127.1 419.1h0M127.7 419.0h0M129.0 418.4h0M129.9 417.6h0M131.1 418.0h0M111.8 419.8h0M113.4 418.9h0M118.1 419.5h0M119.7 418.6h0M121.2 419.5h0M124.2 419.7h0M124.6 419.6h0M126.6 418.7h0M128.2 419.2h0M130.5 419.9h0M131.1 419.5h0M111.7 420.8h0M113.6 420.7h0M114.7 420.1h0M117.2 419.8h0M118.0 421.2h0M119.9 420.7h0M126.0 421.1h0M126.6 420.6h0M128.2 420.2h0M130.2 420.3h0M112.2 421.9h0M113.7 420.8h0M115.6 421.4h0M121.0 421.7h0M122.5 421.5h0M127.1 421.9h0M128.3 421.9h0M130.6 421.8h0M113.2 422.1h0M114.5 422.7h0M116.6 423.2h0M117.4 422.3h0M118.9 422.2h0M120.0 422.3h0M122.0 422.9h0M127.1 423.0h0M128.8 422.6h0M130.4 422.4h0M130.7 422.8h0M131.4 422.5h0M114.5 423.5h0M115.0 423.7h0M117.8 422.8h0M120.8 422.8h0M121.3 423.2h0M123.2 423.5h0M125.7 423.4h0M130.1 423.1h0M115.6 425.4h0M116.5 424.8h0M117.0 424.4h0M118.2 423.9h0M120.2 424.1h0M121.5 425.5h0M123.0 424.3h0M124.8 425.4h0M127.2 424.0h0M129.0 424.3h0M129.0 424.7h0M116.0 425.9h0M116.9 425.6h0M118.4 425.8h0M119.6 426.5h0M121.0 424.9h0M127.1 425.3h0M129.6 425.5h0M115.5 425.9h0M119.0 427.4h0M119.6 427.1h0M120.5 426.5h0M122.6 427.0h0M124.0 427.4h0M126.2 426.7h0M127.5 426.7h0M129.9 426.5h0M130.2 427.3h0M116.2 427.4h0M116.2 427.0h0M117.3 427.5h0M120.7 427.8h0M122.1 427.0h0M124.7 427.2h0M125.7 428.2h0M126.9 428.1h0M116.7 428.3h0M117.2 428.5h0M121.4 428.5h0M124.0 428.1h0M126.2 428.2h0M127.8 428.2h0M118.9 429.6h0M119.1 429.1h0M121.2 429.9h0M121.9 429.4h0M123.3 430.4h0M123.5 429.1h0M125.2 429.8h0M117.8 430.3h0M119.1 430.6h0M120.6 431.0h0M122.8 430.2h0M122.7 431.3h0M124.7 430.5h0M118.1 431.9h0M119.4 431.3h0M119.9 431.9h0M123.4 431.1h0M125.3 431.6h0M118.7 433.0h0M119.2 432.6h0M120.6 433.5h0M121.9 432.7h0M124.3 433.1h0M119.7 434.1h0M120.0 433.2h0M121.6 434.6h0M123.3 433.8h0M124.3 434.3h0M120.4 435.6h0M124.3 434.4h0M121.9 435.3h0M124.7 435.4h0M123.7 437.1h0M124.2 437.8h0M122.0 438.7h0M123.5 438.5h0M121.6 438.6h0M122.5 438.8h0M124.7 438.4h0M123.4 439.7h0M110.6 380.4h0M107.4 386.9h0M111.6 387.1h0M101.8 392.3h0M105.2 432.3h0M120.3 446.3h0M113.2 427.1h0M109.3 411.5h0M106.7 419.3h0M111.3 423.2h0M115.8 433.6h0M117.7 437.5h0M127.5 431.0h0M121.6 442.0h0M105.4 407.6h0M132.7 423.2h0" fill="none" stroke="#0a7ab8" stroke-width="2" stroke-linecap="round"/>
<path d="M86.91 420.03L96.23 415.24" stroke="#111" stroke-width="0.7"/>
<path d="M97.24 414.74l-2.6 0.1 1.1 2.2z" fill="#111"/>
<path d="M62.2 375.2V454H141.1" fill="none" stroke="#222" stroke-width="0.8"/>
<line x1="60.4" y1="375.2" x2="62.2" y2="375.2" stroke="#222" stroke-width="0.6" />
<text x="59.8" y="377.1" font-size="5.3" text-anchor="end" fill="#1a1a1a" stroke="#1a1a1a" stroke-width="0.12" >0.6</text>
<line x1="60.4" y1="394.9" x2="62.2" y2="394.9" stroke="#222" stroke-width="0.6" />
<text x="59.8" y="396.8" font-size="5.3" text-anchor="end" fill="#1a1a1a" stroke="#1a1a1a" stroke-width="0.12" >0.3</text>
<line x1="60.4" y1="414.6" x2="62.2" y2="414.6" stroke="#222" stroke-width="0.6" />
<text x="59.8" y="416.5" font-size="5.3" text-anchor="end" fill="#1a1a1a" stroke="#1a1a1a" stroke-width="0.12" >0.0</text>
<line x1="60.4" y1="434.3" x2="62.2" y2="434.3" stroke="#222" stroke-width="0.6" />
<text x="59.8" y="436.2" font-size="5.3" text-anchor="end" fill="#1a1a1a" stroke="#1a1a1a" stroke-width="0.12" >−0.3</text>
<line x1="60.4" y1="454" x2="62.2" y2="454" stroke="#222" stroke-width="0.6" />
<text x="59.8" y="455.9" font-size="5.3" text-anchor="end" fill="#1a1a1a" stroke="#1a1a1a" stroke-width="0.12" >−0.6</text>
<line x1="62.2" y1="454" x2="62.2" y2="455.8" stroke="#222" stroke-width="0.6" />
<text x="62.2" y="461.6" font-size="5.3" text-anchor="middle" fill="#1a1a1a" stroke="#1a1a1a" stroke-width="0.12" >−0.6</text>
<line x1="81.92" y1="454" x2="81.92" y2="455.8" stroke="#222" stroke-width="0.6" />
<text x="81.92" y="461.6" font-size="5.3" text-anchor="middle" fill="#1a1a1a" stroke="#1a1a1a" stroke-width="0.12" >−0.3</text>
<line x1="101.65" y1="454" x2="101.65" y2="455.8" stroke="#222" stroke-width="0.6" />
<text x="101.65" y="461.6" font-size="5.3" text-anchor="middle" fill="#1a1a1a" stroke="#1a1a1a" stroke-width="0.12" >0</text>
<line x1="121.38" y1="454" x2="121.38" y2="455.8" stroke="#222" stroke-width="0.6" />
<text x="121.38" y="461.6" font-size="5.3" text-anchor="middle" fill="#1a1a1a" stroke="#1a1a1a" stroke-width="0.12" >0.3</text>
<line x1="141.1" y1="454" x2="141.1" y2="455.8" stroke="#222" stroke-width="0.6" />
<text x="141.1" y="461.6" font-size="5.3" text-anchor="middle" fill="#1a1a1a" stroke="#1a1a1a" stroke-width="0.12" >0.6</text>
<text x="44.8" y="414.5" font-size="7.4" text-anchor="middle" fill="#1a1a1a" stroke="#1a1a1a" stroke-width="0.16" transform="rotate(-90 44.8 414.5)" >Component_2</text>
<text x="102.5" y="473.4" font-size="7.4" text-anchor="middle" fill="#1a1a1a" stroke="#1a1a1a" stroke-width="0.16" >Component_1</text>
</g>
<g id="panelG">
<text x="172.3" y="355.6" font-size="11.8" text-anchor="start" fill="#1a1a1a" stroke="#1a1a1a" stroke-width="0.26" >G</text>
<path d="M233.6 366.6h0M234.7 391.8h0M234.7 418.7h0M235.0 434.9h0M234.1 376.5h0M237.5 397.2h0M234.7 435.8h0M232.7 410.9h0M234.1 375.6h0M233.4 433.3h0M237.0 426.0h0M235.7 402.1h0M234.5 429.2h0M231.8 401.3h0M236.4 366.6h0M233.5 380.1h0M232.1 379.3h0M237.6 417.5h0M235.7 444.7h0M232.1 426.2h0M236.6 428.1h0M233.8 427.3h0M233.7 434.1h0M237.5 406.3h0M235.7 398.7h0M234.0 407.0h0M238.4 388.2h0M235.4 372.1h0M237.0 380.3h0M238.3 383.0h0M238.4 401.4h0M235.7 406.4h0M232.0 390.0h0M236.2 394.2h0M232.2 377.1h0M235.1 366.7h0M231.4 405.8h0M237.9 397.9h0M236.7 388.7h0M238.5 401.7h0M234.4 366.6h0M236.6 426.4h0M235.8 452.5h0M237.5 399.4h0M236.5 386.3h0M232.1 417.2h0M234.3 385.8h0M235.7 366.6h0M235.6 415.4h0M238.0 407.9h0M232.7 409.6h0M232.7 381.8h0M238.3 383.7h0M235.7 430.9h0M232.8 384.8h0M233.0 404.1h0M233.9 450.2h0M234.8 366.6h0M235.3 395.2h0M235.8 398.1h0M236.4 449.4h0M238.2 403.4h0M232.3 415.4h0M236.9 408.3h0M236.4 398.6h0M232.3 398.0h0M234.5 410.8h0M231.5 410.4h0M233.3 414.2h0M232.4 386.1h0M233.8 430.5h0M231.7 415.7h0M233.4 404.0h0M235.6 366.6h0M232.4 368.9h0M233.0 384.5h0M236.0 403.3h0M233.5 425.1h0M234.9 409.2h0M234.6 416.4h0M235.2 368.3h0M237.5 419.5h0M235.1 427.6h0M235.5 422.8h0M236.0 388.4h0M236.3 366.6h0M232.2 404.0h0M237.7 403.1h0M237.8 415.1h0M233.9 445.9h0M236.7 369.5h0M235.1 402.9h0M234.7 401.0h0M233.5 374.3h0M233.3 413.2h0M232.4 379.8h0M234.0 393.0h0M237.0 419.8h0M233.6 407.8h0M237.1 423.0h0M234.1 397.9h0M238.6 375.3h0M235.2 398.1h0M231.8 370.2h0M237.1 380.7h0M233.9 366.6h0M235.6 377.2h0M235.9 366.6h0M235.0 385.6h0M238.0 409.6h0M237.7 393.4h0M237.5 384.3h0M237.4 411.9h0M233.6 401.2h0M232.5 399.2h0M236.4 417.1h0M234.6 417.0h0M234.7 386.6h0M233.4 431.7h0M236.3 394.1h0M234.1 441.0h0M236.2 396.6h0M236.3 390.5h0M235.2 366.8h0M234.4 454.2h0M232.0 393.0h0M237.8 403.2h0M237.4 394.3h0M232.9 387.6h0M237.6 371.2h0M236.0 406.7h0M232.0 396.0h0M235.5 366.6h0M234.0 431.6h0M232.2 399.1h0M233.6 406.3h0M235.7 366.6h0M237.2 380.2h0M233.4 408.8h0M235.8 413.3h0M233.7 392.0h0M236.2 430.2h0M237.5 426.5h0M236.2 383.3h0M233.8 428.9h0M234.5 392.5h0M231.5 387.3h0M237.3 422.3h0M235.6 396.8h0M236.9 395.3h0M234.7 381.7h0M232.3 384.4h0M236.4 411.7h0M235.0 412.3h0M236.9 416.0h0M231.5 402.5h0M232.0 404.0h0M231.5 390.5h0M232.2 408.6h0M234.5 401.3h0M236.1 406.4h0M235.4 413.6h0M237.0 366.6h0M234.0 418.6h0M233.4 385.3h0M234.5 413.0h0M233.4 366.6h0M235.8 394.9h0M233.2 378.1h0M238.2 391.5h0M233.6 406.3h0M232.3 380.1h0M233.4 411.7h0M233.7 414.9h0M233.0 423.9h0M233.5 368.5h0M233.4 414.1h0M232.2 374.7h0M236.6 435.4h0M234.8 366.6h0M236.2 412.6h0M236.6 394.4h0M232.1 401.7h0M233.7 368.8h0M235.9 409.6h0M235.0 366.6h0M234.9 426.1h0M233.3 389.2h0M234.2 380.7h0M234.6 434.8h0M236.9 396.0h0M232.6 402.1h0M235.9 392.4h0M233.7 380.8h0M238.0 426.6h0M235.6 403.0h0M235.4 404.1h0M233.6 368.7h0M238.5 400.5h0M237.7 403.0h0M233.5 367.4h0M238.5 387.0h0M234.0 435.3h0M236.1 389.2h0M234.1 366.6h0M232.6 392.8h0M231.7 424.6h0M232.6 390.5h0M236.4 420.6h0M232.4 381.1h0M238.5 390.8h0M234.1 418.9h0M232.0 419.9h0M238.1 393.2h0M233.6 431.5h0M234.9 420.4h0M234.2 403.9h0M235.9 382.7h0M237.0 433.3h0M235.6 390.9h0M238.4 383.3h0M234.4 452.3h0M231.5 382.0h0M236.3 429.4h0M234.3 366.6h0M235.9 428.5h0M236.0 388.7h0M234.1 421.4h0M233.1 376.1h0M234.5 413.0h0M233.8 418.5h0M235.9 411.3h0M232.0 410.9h0M233.7 376.6h0M233.8 380.7h0M234.1 383.3h0M233.8 366.6h0M231.5 387.2h0M235.5 405.4h0M238.0 403.2h0M237.4 376.4h0M233.1 391.0h0M236.4 394.8h0M236.9 394.4h0M238.5 418.5h0M233.2 390.9h0M234.7 387.5h0M236.1 438.5h0M236.8 422.3h0M235.5 366.6h0M237.6 382.2h0M234.4 428.3h0M234.7 438.0h0M234.2 366.6h0M234.4 392.7h0M235.5 419.4h0M235.4 366.6h0M231.7 377.6h0M234.5 384.6h0M237.2 389.7h0M236.7 388.6h0M235.0 434.8h0M236.8 382.4h0M231.6 389.2h0M233.7 399.8h0M233.7 396.0h0M235.3 413.8h0M232.2 398.2h0M234.4 389.7h0M236.5 441.1h0M236.0 414.6h0M234.6 424.5h0M233.0 369.3h0M236.5 366.6h0M235.8 420.9h0M234.0 381.1h0M234.5 366.6h0M233.8 402.4h0M234.4 366.6h0M233.5 434.4h0M234.6 424.3h0M235.7 405.5h0M236.3 371.4h0M235.4 397.5h0M238.0 371.1h0M236.3 399.7h0M233.0 421.6h0M234.7 402.2h0M235.9 387.7h0M235.2 403.3h0M233.3 386.0h0M232.0 391.0h0M234.2 366.6h0M236.2 376.9h0M234.7 426.8h0M231.6 398.1h0M237.3 389.7h0M236.4 395.0h0M233.9 366.9h0M235.6 408.3h0M234.4 409.3h0M237.1 415.5h0M237.8 398.5h0M233.8 394.7h0M233.8 446.8h0M234.1 437.2h0M235.0 409.3h0M231.6 384.5h0M232.9 372.4h0M234.6 461.8h0M234.4 424.7h0M237.6 375.4h0M232.2 383.5h0M235.8 405.6h0M232.8 378.7h0M237.4 391.3h0M235.4 434.9h0M236.8 376.2h0M236.7 419.7h0M236.2 433.8h0M233.1 410.6h0M237.3 391.2h0M231.7 371.9h0M231.5 374.8h0M237.1 403.6h0M234.5 435.8h0M233.1 414.6h0M233.5 433.4h0M237.0 382.4h0M233.0 393.0h0" fill="none" stroke="#c2dbe6" stroke-width="1.4" stroke-linecap="round" stroke-opacity="0.9"/>
<line x1="235" y1="365.59" x2="235" y2="461.82" stroke="#c2dbe6" stroke-width="0.9" />
<line x1="231" y1="365.59" x2="238.8" y2="365.59" stroke="#c2dbe6" stroke-width="0.9" />
<line x1="231" y1="461.82" x2="238.8" y2="461.82" stroke="#c2dbe6" stroke-width="0.9" />
<rect x="229.2" y="382.3" width="11.4" height="35.96" fill="#e4eef3" stroke="#c2dbe6" stroke-width="0.9" fill-opacity="0.75"/>
<line x1="229.2" y1="400.33" x2="240.6" y2="400.33" stroke="#c2dbe6" stroke-width="1" />
<path d="M268.9 434.9h0M265.9 429.9h0M265.2 461.1h0M268.6 417.0h0M267.7 438.2h0M266.2 466.9h0M268.6 442.2h0M266.7 418.4h0M265.8 462.3h0M268.0 444.3h0M265.3 467.4h0M267.4 465.0h0M267.0 429.8h0M267.5 453.0h0M265.8 430.8h0M268.7 438.7h0M270.1 449.0h0M267.7 467.8h0M266.8 430.1h0M267.9 466.0h0M266.5 455.1h0M270.0 465.4h0M268.0 429.3h0M265.4 464.3h0M267.5 467.4h0M268.5 420.8h0M268.9 431.7h0M268.1 436.2h0M267.5 424.0h0M266.7 419.0h0M267.9 441.2h0M264.6 467.1h0M267.2 427.5h0M269.4 461.7h0M268.5 427.4h0M267.7 464.3h0M267.5 464.6h0M265.1 454.2h0M267.6 425.1h0M265.5 440.8h0M267.0 440.3h0M270.1 458.7h0M266.1 452.6h0M268.8 432.5h0M266.9 435.8h0M266.3 441.9h0M268.5 415.2h0M264.8 445.1h0M269.1 450.6h0M266.2 453.6h0M267.5 417.8h0M264.8 445.2h0M266.2 415.2h0M266.8 425.4h0M265.1 467.1h0M264.9 451.8h0M267.2 423.6h0M269.5 442.0h0M266.0 460.2h0M265.7 463.9h0M267.5 426.4h0M269.3 459.7h0M266.5 463.3h0M267.2 433.2h0M267.8 426.4h0M266.5 456.8h0M266.8 422.2h0M267.6 465.4h0M268.5 423.1h0M265.2 441.9h0M265.2 465.4h0M268.4 432.6h0M268.2 439.4h0M267.9 432.0h0M266.9 463.7h0M265.8 462.0h0M268.1 448.6h0M268.0 442.8h0M265.0 452.3h0M264.7 440.8h0M265.2 448.2h0M267.1 464.9h0M267.4 426.1h0M268.2 433.4h0M267.4 449.5h0M268.5 430.1h0M268.1 451.1h0M266.6 452.4h0M265.7 433.6h0M267.5 415.2h0M268.3 444.4h0M268.0 465.5h0M266.0 435.0h0M266.2 439.8h0M266.6 442.5h0M269.0 457.1h0M268.4 457.8h0M270.0 448.8h0M268.2 434.2h0M265.8 437.2h0M268.4 418.3h0M265.1 457.7h0M268.1 422.0h0M266.6 456.8h0M267.3 439.3h0M268.1 433.4h0M268.8 431.3h0M264.7 442.3h0M267.4 462.4h0M267.3 440.3h0M269.0 448.8h0M269.6 464.0h0M266.1 431.2h0M265.9 424.5h0M266.9 429.5h0M266.9 419.4h0M268.9 458.7h0M267.8 464.4h0M265.5 443.7h0M266.8 447.5h0M265.3 455.1h0M269.1 442.6h0M270.2 457.2h0M266.9 415.2h0M265.8 447.7h0M267.4 420.4h0M268.8 448.1h0M265.1 444.4h0M266.8 434.4h0M266.0 438.6h0M265.0 459.4h0M269.1 454.7h0M266.7 441.3h0M266.4 446.5h0M267.0 447.2h0M265.0 448.8h0M266.3 431.1h0M266.7 433.3h0M265.7 465.4h0M266.2 445.7h0M267.9 448.9h0M267.4 466.5h0M267.8 444.7h0M268.0 439.4h0M265.1 467.9h0M266.8 444.8h0M269.1 448.6h0M267.4 429.9h0M265.6 455.9h0M268.9 422.5h0M267.0 446.1h0M267.9 434.5h0M267.5 422.8h0M265.2 461.5h0M267.7 456.7h0M268.1 433.8h0M264.7 459.3h0M268.3 415.2h0M267.1 462.0h0M268.2 432.0h0M268.0 457.4h0M266.3 463.8h0M268.5 462.7h0M266.8 444.1h0M266.9 448.8h0M268.6 465.3h0M267.7 433.1h0M267.8 422.0h0M268.4 466.9h0M266.9 452.3h0M268.3 432.1h0M265.0 444.0h0M267.3 434.5h0M266.2 462.6h0M267.9 446.0h0M267.3 440.2h0M267.3 423.3h0M266.5 446.7h0M266.3 458.1h0M266.3 426.0h0M265.5 466.4h0M269.2 449.4h0M269.8 460.7h0M268.6 433.9h0M268.5 449.0h0M269.0 459.0h0M266.1 440.6h0M266.1 467.9h0M267.7 457.5h0M269.0 432.5h0M269.4 454.8h0M266.1 425.8h0M267.9 440.1h0M266.9 447.8h0M266.8 441.4h0M268.4 440.1h0M269.5 453.9h0M267.2 456.0h0M266.7 449.8h0M265.2 450.0h0M265.7 452.3h0M267.6 439.1h0M269.1 460.2h0M269.1 459.4h0M268.2 456.8h0M267.6 444.5h0M268.3 463.4h0M269.8 466.7h0M268.2 415.2h0M270.2 450.7h0M269.8 455.1h0M265.8 441.6h0M267.8 427.7h0M268.8 420.9h0M269.0 451.2h0M268.8 462.5h0M267.6 445.9h0M267.3 437.9h0M267.6 416.0h0M268.2 418.2h0M268.4 445.4h0M267.5 420.9h0M266.5 455.7h0M266.3 465.1h0M269.5 445.0h0M268.1 417.9h0M269.7 454.0h0M266.4 453.3h0M268.1 425.8h0M270.0 445.2h0M268.5 465.9h0M267.6 459.5h0M267.7 424.5h0M269.7 467.7h0M269.0 427.5h0M267.7 435.3h0M269.2 467.0h0M266.2 435.7h0M268.8 436.6h0M268.1 450.2h0M269.3 458.8h0M265.5 457.0h0M264.6 464.2h0M267.9 432.8h0M267.3 464.9h0M266.0 457.0h0M268.0 427.0h0M267.1 456.2h0M267.4 425.0h0M266.5 419.4h0M266.3 422.8h0M265.9 444.6h0M269.4 454.7h0M269.2 451.2h0M266.8 460.2h0M268.5 447.3h0M267.8 439.4h0M266.8 454.1h0M265.4 456.8h0M265.5 455.2h0M266.0 458.7h0M268.1 427.3h0M267.2 463.3h0M269.2 450.2h0M267.7 435.7h0M269.8 459.6h0M268.4 462.6h0M266.6 455.3h0M266.4 415.2h0M264.7 447.3h0M266.0 427.4h0M266.6 467.4h0M265.5 461.2h0M268.9 431.2h0M266.8 465.0h0M265.5 446.2h0M266.5 463.2h0M265.6 449.0h0M268.5 422.0h0M266.0 430.0h0M268.0 438.9h0M268.8 434.0h0M266.1 466.9h0M267.7 438.9h0M269.8 453.4h0M268.0 431.1h0M265.1 460.4h0M267.1 437.1h0M267.6 441.4h0M266.0 467.0h0M267.5 450.9h0M267.3 423.3h0M266.5 441.1h0M268.6 437.1h0M268.9 439.2h0M267.2 456.6h0M267.0 464.5h0M265.6 456.2h0M267.6 454.9h0M270.0 449.4h0M266.1 465.9h0M268.5 426.6h0M270.0 457.4h0M265.7 425.1h0M266.6 445.5h0M265.6 445.7h0M266.7 424.2h0M268.3 433.1h0M268.3 453.9h0M267.1 467.8h0M267.4 451.4h0M267.7 462.9h0M266.9 441.4h0M267.8 464.5h0M266.5 459.3h0M268.3 419.5h0M268.3 444.8h0M265.3 442.0h0M266.1 449.0h0M268.4 464.8h0M266.2 462.3h0M268.0 464.5h0M270.1 462.5h0M267.7 437.5h0M266.2 425.0h0M268.5 464.6h0M269.3 450.6h0M264.9 452.9h0M268.5 455.0h0M266.4 452.6h0M266.5 449.7h0M265.6 447.5h0M264.9 449.3h0M265.8 462.0h0M265.0 458.3h0M265.7 454.3h0M268.1 443.5h0M264.8 441.0h0M266.8 462.9h0M266.8 438.8h0M267.1 419.5h0M264.7 455.5h0M267.6 444.5h0M266.0 446.0h0M267.9 451.3h0M266.2 456.6h0M266.2 467.6h0M268.6 466.3h0M268.8 459.3h0M266.7 425.1h0M269.0 453.3h0M269.3 451.4h0M264.9 444.4h0M268.8 452.7h0M268.7 447.3h0M265.6 461.9h0M267.5 427.0h0M265.2 456.1h0M267.2 462.4h0M267.9 425.1h0M268.8 421.1h0M265.1 467.3h0M266.7 451.8h0M265.3 456.0h0M265.6 459.8h0M266.9 435.5h0M265.9 467.3h0M269.9 465.7h0M267.5 437.7h0M269.8 464.2h0M267.5 464.8h0M268.5 439.6h0M266.2 452.8h0M268.4 425.5h0M268.2 437.5h0M268.5 455.0h0M270.1 455.1h0M267.5 430.3h0M268.6 457.5h0M267.8 426.4h0M269.1 455.6h0M269.7 462.2h0M266.9 453.8h0M266.6 426.5h0M268.6 420.6h0M269.6 442.1h0M269.3 456.2h0M265.4 450.3h0M266.0 418.6h0M266.2 457.5h0M266.1 431.6h0M265.3 450.3h0M268.8 461.4h0M269.2 459.1h0M267.9 449.4h0M264.7 459.6h0M269.0 449.9h0M266.3 419.0h0M267.9 448.7h0M267.1 443.5h0M267.1 426.7h0M264.8 455.7h0M269.7 449.4h0M267.2 445.1h0M268.1 439.0h0M266.5 422.4h0M266.9 417.4h0M269.0 452.6h0M268.9 440.3h0M266.7 424.2h0M267.6 417.4h0M269.4 450.2h0M269.6 458.2h0M270.1 459.4h0M268.1 443.2h0M269.4 451.7h0M268.5 438.5h0M269.0 460.4h0M267.2 450.5h0M267.1 460.1h0M268.4 412.2h0M266.8 410.2h0M266.6 407.1h0M267.1 405.1h0M267.8 404.1h0M267.2 401.0h0M268.8 397.0h0M267.2 390.9h0M268.2 388.9h0M268.4 368.6h0M267.7 367.6h0M266.2 409.1h0M267.6 413.2h0M266.9 406.1h0" fill="none" stroke="#0a7ab8" stroke-width="1.4" stroke-linecap="round" stroke-opacity="0.9"/>
<line x1="267.4" y1="416.24" x2="267.4" y2="467.9" stroke="#0a7ab8" stroke-width="0.9" />
<line x1="263.6" y1="416.24" x2="271.3" y2="416.24" stroke="#0a7ab8" stroke-width="0.9" />
<rect x="261.3" y="441.26" width="12.1" height="17.52" fill="#5aa2cf" stroke="#0a7ab8" stroke-width="0.9" fill-opacity="0.55"/>
<line x1="261.3" y1="450.17" x2="273.4" y2="450.17" stroke="#0a7ab8" stroke-width="1.1" />
<path d="M219.9 366.3V467.9H282.6" fill="none" stroke="#222" stroke-width="0.8"/>
<line x1="217.9" y1="467.9" x2="219.9" y2="467.9" stroke="#222" stroke-width="0.6" />
<text x="217.1" y="469.9" font-size="5.6" text-anchor="end" fill="#1a1a1a" stroke="#1a1a1a" stroke-width="0.12" >0</text>
<line x1="217.9" y1="447.64" x2="219.9" y2="447.64" stroke="#222" stroke-width="0.6" />
<text x="217.1" y="449.64" font-size="5.6" text-anchor="end" fill="#1a1a1a" stroke="#1a1a1a" stroke-width="0.12" >0.2</text>
<line x1="217.9" y1="427.38" x2="219.9" y2="427.38" stroke="#222" stroke-width="0.6" />
<text x="217.1" y="429.38" font-size="5.6" text-anchor="end" fill="#1a1a1a" stroke="#1a1a1a" stroke-width="0.12" >0.4</text>
<line x1="217.9" y1="407.12" x2="219.9" y2="407.12" stroke="#222" stroke-width="0.6" />
<text x="217.1" y="409.12" font-size="5.6" text-anchor="end" fill="#1a1a1a" stroke="#1a1a1a" stroke-width="0.12" >0.6</text>
<line x1="217.9" y1="386.86" x2="219.9" y2="386.86" stroke="#222" stroke-width="0.6" />
<text x="217.1" y="388.86" font-size="5.6" text-anchor="end" fill="#1a1a1a" stroke="#1a1a1a" stroke-width="0.12" >0.8</text>
<line x1="217.9" y1="366.6" x2="219.9" y2="366.6" stroke="#222" stroke-width="0.6" />
<text x="217.1" y="368.6" font-size="5.6" text-anchor="end" fill="#1a1a1a" stroke="#1a1a1a" stroke-width="0.12" >1.0</text>
<line x1="235" y1="467.9" x2="235" y2="469.9" stroke="#222" stroke-width="0.6" />
<line x1="267.4" y1="467.9" x2="267.4" y2="469.9" stroke="#222" stroke-width="0.6" />
<text x="202.3" y="418" font-size="6.3" text-anchor="middle" fill="#1a1a1a" stroke="#1a1a1a" stroke-width="0.14" transform="rotate(-90 202.3 418)" >Predicted ordering by CytoTRACE</text>
<text x="235.6" y="481" font-size="7" text-anchor="middle" fill="#1a1a1a" stroke="#1a1a1a" stroke-width="0.15" font-style="italic" >Col17a1<tspan font-size="55%" dy="-0.82em">hi</tspan></text>
<text x="267.6" y="481" font-size="7" text-anchor="middle" fill="#1a1a1a" stroke="#1a1a1a" stroke-width="0.15" font-style="italic" >Cux1<tspan font-size="55%" dy="-0.82em">hi</tspan></text>
</g>
<g id="panelH">
<text x="20" y="494.2" font-size="11.8" text-anchor="start" fill="#1a1a1a" stroke="#1a1a1a" stroke-width="0.26" >H</text>
<text x="98.8" y="505.6" font-size="8.2" text-anchor="middle" fill="#1a1a1a" stroke="#1a1a1a" stroke-width="0.18" font-style="italic" >Col17a1<tspan font-size="55%" dy="-0.82em">hi</tspan></text><rect x="44.3" y="508.9" width="88.08" height="12.1" fill="#c9252b" /><line x1="40.6" y1="514.95" x2="43.4" y2="514.95" stroke="#222" stroke-width="0.6" /><rect x="44.3" y="522.45" width="75.2" height="12.1" fill="#cf342e" /><line x1="40.6" y1="528.5" x2="43.4" y2="528.5" stroke="#222" stroke-width="0.6" /><rect x="44.3" y="536" width="71.52" height="12.1" fill="#d03a30" /><line x1="40.6" y1="542.05" x2="43.4" y2="542.05" stroke="#222" stroke-width="0.6" /><rect x="44.3" y="549.55" width="51.28" height="12.1" fill="#ee7a4e" /><line x1="40.6" y1="555.6" x2="43.4" y2="555.6" stroke="#222" stroke-width="0.6" /><rect x="44.3" y="563.1" width="42.08" height="12.1" fill="#f4a072" /><line x1="40.6" y1="569.15" x2="43.4" y2="569.15" stroke="#222" stroke-width="0.6" /><rect x="44.3" y="576.65" width="64.16" height="12.1" fill="#f4a070" /><line x1="40.6" y1="582.7" x2="43.4" y2="582.7" stroke="#222" stroke-width="0.6" /><text x="45.9" y="516.85" font-size="5.13" text-anchor="start" fill="#111" stroke="#111" stroke-width="0.11" font-weight="bold" >Negative regulation of cell population proliferation</text><text x="45.9" y="530.4" font-size="5.13" text-anchor="start" fill="#111" stroke="#111" stroke-width="0.11" font-weight="bold" >Positive regulation of cellular component movement</text><text x="45.9" y="543.95" font-size="5.13" text-anchor="start" fill="#111" stroke="#111" stroke-width="0.11" font-weight="bold" >Positive regulation of cell motility</text><text x="45.9" y="557.5" font-size="5.13" text-anchor="start" fill="#111" stroke="#111" stroke-width="0.11" font-weight="bold" >Response to wounding</text><text x="45.9" y="571.05" font-size="5.13" text-anchor="start" fill="#111" stroke="#111" stroke-width="0.11" font-weight="bold" >Cellular response to external stimulus</text><text x="45.9" y="584.6" font-size="5.13" text-anchor="start" fill="#111" stroke="#111" stroke-width="0.11" font-weight="bold" >Regulation of cellular response to stress</text><path d="M43.4 507.6V590.2H138.4" fill="none" stroke="#222" stroke-width="0.8"/><line x1="45.9" y1="590.2" x2="45.9" y2="592.2" stroke="#222" stroke-width="0.6" /><text x="45.9" y="598.9" font-size="5.6" text-anchor="middle" fill="#1a1a1a" stroke="#1a1a1a" stroke-width="0.12" >0</text><line x1="64.3" y1="590.2" x2="64.3" y2="592.2" stroke="#222" stroke-width="0.6" /><text x="64.3" y="598.9" font-size="5.6" text-anchor="middle" fill="#1a1a1a" stroke="#1a1a1a" stroke-width="0.12" >10</text><line x1="82.7" y1="590.2" x2="82.7" y2="592.2" stroke="#222" stroke-width="0.6" /><text x="82.7" y="598.9" font-size="5.6" text-anchor="middle" fill="#1a1a1a" stroke="#1a1a1a" stroke-width="0.12" >20</text><line x1="101.1" y1="590.2" x2="101.1" y2="592.2" stroke="#222" stroke-width="0.6" /><text x="101.1" y="598.9" font-size="5.6" text-anchor="middle" fill="#1a1a1a" stroke="#1a1a1a" stroke-width="0.12" >30</text><line x1="119.5" y1="590.2" x2="119.5" y2="592.2" stroke="#222" stroke-width="0.6" /><text x="119.5" y="598.9" font-size="5.6" text-anchor="middle" fill="#1a1a1a" stroke="#1a1a1a" stroke-width="0.12" >40</text><line x1="137.9" y1="590.2" x2="137.9" y2="592.2" stroke="#222" stroke-width="0.6" /><text x="137.9" y="598.9" font-size="5.6" text-anchor="middle" fill="#1a1a1a" stroke="#1a1a1a" stroke-width="0.12" >50</text><text x="91.8" y="607.2" font-size="6.6" text-anchor="middle" fill="#1a1a1a" stroke="#1a1a1a" stroke-width="0.15" >Count</text>
<text x="248.2" y="505.6" font-size="8.2" text-anchor="middle" fill="#1a1a1a" stroke="#1a1a1a" stroke-width="0.18" font-style="italic" >Cux1<tspan font-size="55%" dy="-0.82em">hi</tspan></text><rect x="197.3" y="508.9" width="87.81" height="12.1" fill="#c9252b" /><line x1="193.6" y1="514.95" x2="196.4" y2="514.95" stroke="#222" stroke-width="0.6" /><rect x="197.3" y="522.45" width="57.22" height="12.1" fill="#cd302d" /><line x1="193.6" y1="528.5" x2="196.4" y2="528.5" stroke="#222" stroke-width="0.6" /><rect x="197.3" y="536" width="64.64" height="12.1" fill="#e65c3c" /><line x1="193.6" y1="542.05" x2="196.4" y2="542.05" stroke="#222" stroke-width="0.6" /><rect x="197.3" y="549.55" width="36.83" height="12.1" fill="#f08858" /><line x1="193.6" y1="555.6" x2="196.4" y2="555.6" stroke="#222" stroke-width="0.6" /><rect x="197.3" y="563.1" width="33.12" height="12.1" fill="#f4a070" /><line x1="193.6" y1="569.15" x2="196.4" y2="569.15" stroke="#222" stroke-width="0.6" /><rect x="197.3" y="576.65" width="33.12" height="12.1" fill="#f5a676" /><line x1="193.6" y1="582.7" x2="196.4" y2="582.7" stroke="#222" stroke-width="0.6" /><text x="199.1" y="516.85" font-size="5.13" text-anchor="start" fill="#111" stroke="#111" stroke-width="0.11" font-weight="bold" >mRNA processing</text><text x="199.1" y="530.4" font-size="5.13" text-anchor="start" fill="#111" stroke="#111" stroke-width="0.11" font-weight="bold" >mRNA splicing</text><text x="199.1" y="543.95" font-size="5.13" text-anchor="start" fill="#111" stroke="#111" stroke-width="0.11" font-weight="bold" >Cell cycle</text><text x="199.1" y="557.5" font-size="5.13" text-anchor="start" fill="#111" stroke="#111" stroke-width="0.11" font-weight="bold" >Molting cycle</text><text x="199.1" y="571.05" font-size="5.13" text-anchor="start" fill="#111" stroke="#111" stroke-width="0.11" font-weight="bold" >Skin epidermis development</text><text x="199.1" y="584.6" font-size="5.13" text-anchor="start" fill="#111" stroke="#111" stroke-width="0.11" font-weight="bold" >Ribonucleoprotein complex assembly</text><path d="M196.4 507.6V590.2H292.1" fill="none" stroke="#222" stroke-width="0.8"/><line x1="198.9" y1="590.2" x2="198.9" y2="592.2" stroke="#222" stroke-width="0.6" /><text x="198.9" y="598.9" font-size="5.6" text-anchor="middle" fill="#1a1a1a" stroke="#1a1a1a" stroke-width="0.12" >0</text><line x1="217.44" y1="590.2" x2="217.44" y2="592.2" stroke="#222" stroke-width="0.6" /><text x="217.44" y="598.9" font-size="5.6" text-anchor="middle" fill="#1a1a1a" stroke="#1a1a1a" stroke-width="0.12" >10</text><line x1="235.98" y1="590.2" x2="235.98" y2="592.2" stroke="#222" stroke-width="0.6" /><text x="235.98" y="598.9" font-size="5.6" text-anchor="middle" fill="#1a1a1a" stroke="#1a1a1a" stroke-width="0.12" >20</text><line x1="254.52" y1="590.2" x2="254.52" y2="592.2" stroke="#222" stroke-width="0.6" /><text x="254.52" y="598.9" font-size="5.6" text-anchor="middle" fill="#1a1a1a" stroke="#1a1a1a" stroke-width="0.12" >30</text><line x1="273.06" y1="590.2" x2="273.06" y2="592.2" stroke="#222" stroke-width="0.6" /><text x="273.06" y="598.9" font-size="5.6" text-anchor="middle" fill="#1a1a1a" stroke="#1a1a1a" stroke-width="0.12" >40</text><line x1="291.6" y1="590.2" x2="291.6" y2="592.2" stroke="#222" stroke-width="0.6" /><text x="291.6" y="598.9" font-size="5.6" text-anchor="middle" fill="#1a1a1a" stroke="#1a1a1a" stroke-width="0.12" >50</text><text x="246" y="607.2" font-size="6.6" text-anchor="middle" fill="#1a1a1a" stroke="#1a1a1a" stroke-width="0.15" >Count</text>
<defs><linearGradient id="gH" x1="0" y1="0" x2="0" y2="1"><stop offset="0" stop-color="#c8242a"/><stop offset="0.5" stop-color="#e4583a"/><stop offset="1" stop-color="#f7aa7c"/></linearGradient></defs>
<text x="145.2" y="551.7" font-size="4.9" text-anchor="start" fill="#1a1a1a" stroke="#1a1a1a" stroke-width="0.11" >−log10(<tspan font-style="italic">P</tspan> value)</text>
<rect x="154.8" y="554.7" width="6.8" height="35.5" fill="url(#gH)" />
<text x="164.1" y="558.1" font-size="5.2" text-anchor="start" fill="#1a1a1a" stroke="#1a1a1a" stroke-width="0.11" >12</text>
<text x="164.1" y="564.34" font-size="5.2" text-anchor="start" fill="#1a1a1a" stroke="#1a1a1a" stroke-width="0.11" >11</text>
<text x="164.1" y="570.58" font-size="5.2" text-anchor="start" fill="#1a1a1a" stroke="#1a1a1a" stroke-width="0.11" >10</text>
<text x="164.1" y="576.82" font-size="5.2" text-anchor="start" fill="#1a1a1a" stroke="#1a1a1a" stroke-width="0.11" >9</text>
<text x="164.1" y="583.06" font-size="5.2" text-anchor="start" fill="#1a1a1a" stroke="#1a1a1a" stroke-width="0.11" >8</text>
<text x="164.1" y="589.3" font-size="5.2" text-anchor="start" fill="#1a1a1a" stroke="#1a1a1a" stroke-width="0.11" >7</text>
<text x="292.6" y="551.7" font-size="4.9" text-anchor="start" fill="#1a1a1a" stroke="#1a1a1a" stroke-width="0.11" >−log10(<tspan font-style="italic">P</tspan> value)</text>
<rect x="305.2" y="557.2" width="7" height="34.8" fill="url(#gH)" />
<text x="314.8" y="566.7" font-size="5.2" text-anchor="start" fill="#1a1a1a" stroke="#1a1a1a" stroke-width="0.11" >18</text>
<text x="314.8" y="575.17" font-size="5.2" text-anchor="start" fill="#1a1a1a" stroke="#1a1a1a" stroke-width="0.11" >15</text>
<text x="314.8" y="583.63" font-size="5.2" text-anchor="start" fill="#1a1a1a" stroke="#1a1a1a" stroke-width="0.11" >12</text>
<text x="314.8" y="592.1" font-size="5.2" text-anchor="start" fill="#1a1a1a" stroke="#1a1a1a" stroke-width="0.11" >9</text>
</g>
<g id="panelI">
<text x="349.3" y="362.6" font-size="11.8" text-anchor="start" fill="#1a1a1a" stroke="#1a1a1a" stroke-width="0.26" >I</text>
<text x="423.17" y="375.15" font-size="8.05" text-anchor="middle" fill="#1a1a1a" stroke="#1a1a1a" stroke-width="0.18" >Positive regulation of cell motility</text><line x1="378.45" y1="380.19" x2="378.45" y2="426.79" stroke="#f0f0f0" stroke-width="0.5" /><line x1="378.45" y1="442.41" x2="378.45" y2="467.1" stroke="#f0f0f0" stroke-width="0.5" /><line x1="394.7" y1="380.19" x2="394.7" y2="426.79" stroke="#e4e4e4" stroke-width="0.5" /><line x1="394.7" y1="442.41" x2="394.7" y2="467.1" stroke="#e4e4e4" stroke-width="0.5" /><line x1="410.95" y1="380.19" x2="410.95" y2="426.79" stroke="#f0f0f0" stroke-width="0.5" /><line x1="410.95" y1="442.41" x2="410.95" y2="467.1" stroke="#f0f0f0" stroke-width="0.5" /><line x1="427.2" y1="380.19" x2="427.2" y2="426.79" stroke="#e4e4e4" stroke-width="0.5" /><line x1="427.2" y1="442.41" x2="427.2" y2="467.1" stroke="#e4e4e4" stroke-width="0.5" /><line x1="443.45" y1="380.19" x2="443.45" y2="426.79" stroke="#f0f0f0" stroke-width="0.5" /><line x1="443.45" y1="442.41" x2="443.45" y2="467.1" stroke="#f0f0f0" stroke-width="0.5" /><line x1="459.69" y1="380.19" x2="459.69" y2="426.79" stroke="#e4e4e4" stroke-width="0.5" /><line x1="459.69" y1="442.41" x2="459.69" y2="467.1" stroke="#e4e4e4" stroke-width="0.5" /><line x1="475.94" y1="380.19" x2="475.94" y2="426.79" stroke="#f0f0f0" stroke-width="0.5" /><line x1="475.94" y1="442.41" x2="475.94" y2="467.1" stroke="#f0f0f0" stroke-width="0.5" /><line x1="362.21" y1="382.71" x2="483.12" y2="382.71" stroke="#eeeeee" stroke-width="0.4" /><line x1="361.01" y1="382.71" x2="362.21" y2="382.71" stroke="#333" stroke-width="0.4" /><text x="360.41" y="384.11" font-size="3.9" text-anchor="end" fill="#1a1a1a" stroke="#1a1a1a" stroke-width="0.1" >0.1</text><line x1="362.21" y1="390.02" x2="483.12" y2="390.02" stroke="#eeeeee" stroke-width="0.4" /><line x1="361.01" y1="390.02" x2="362.21" y2="390.02" stroke="#333" stroke-width="0.4" /><text x="360.41" y="391.42" font-size="3.9" text-anchor="end" fill="#1a1a1a" stroke="#1a1a1a" stroke-width="0.1" >0</text><line x1="362.21" y1="397.82" x2="483.12" y2="397.82" stroke="#eeeeee" stroke-width="0.4" /><line x1="361.01" y1="397.82" x2="362.21" y2="397.82" stroke="#333" stroke-width="0.4" /><text x="360.41" y="399.22" font-size="3.9" text-anchor="end" fill="#1a1a1a" stroke="#1a1a1a" stroke-width="0.1" >−0.1</text><line x1="362.21" y1="405.38" x2="483.12" y2="405.38" stroke="#eeeeee" stroke-width="0.4" /><line x1="361.01" y1="405.38" x2="362.21" y2="405.38" stroke="#333" stroke-width="0.4" /><text x="360.41" y="406.78" font-size="3.9" text-anchor="end" fill="#1a1a1a" stroke="#1a1a1a" stroke-width="0.1" >−0.2</text><line x1="362.21" y1="412.94" x2="483.12" y2="412.94" stroke="#eeeeee" stroke-width="0.4" /><line x1="361.01" y1="412.94" x2="362.21" y2="412.94" stroke="#333" stroke-width="0.4" /><text x="360.41" y="414.34" font-size="3.9" text-anchor="end" fill="#1a1a1a" stroke="#1a1a1a" stroke-width="0.1" >−0.3</text><line x1="362.21" y1="420.5" x2="483.12" y2="420.5" stroke="#eeeeee" stroke-width="0.4" /><line x1="361.01" y1="420.5" x2="362.21" y2="420.5" stroke="#333" stroke-width="0.4" /><text x="360.41" y="421.9" font-size="3.9" text-anchor="end" fill="#1a1a1a" stroke="#1a1a1a" stroke-width="0.1" >−0.4</text><path d="M362.2 456.5L362.2 452.7L364.2 453.1L366.2 453.5L368.3 453.8L370.3 454.1L372.3 454.4L374.3 454.6L376.3 454.8L378.3 455.0L380.3 455.1L382.4 455.3L384.4 455.4L386.4 455.5L388.4 455.6L390.4 455.7L392.4 455.8L394.5 455.8L396.5 455.9L398.5 456.0L400.5 456.0L402.5 456.1L404.5 456.1L406.5 456.2L408.6 456.2L410.6 456.3L412.6 456.3L414.6 456.4L416.6 456.4L418.6 456.4L420.6 456.5L422.7 456.5L424.7 456.6L426.7 456.6L428.7 456.6L430.7 456.7L432.7 456.7L434.8 456.7L436.8 456.8L438.8 456.8L440.8 456.8L442.8 456.9L444.8 456.9L446.8 456.9L448.9 457.0L450.9 457.0L452.9 457.1L454.9 457.1L456.9 457.1L458.9 457.2L461.0 457.2L463.0 457.2L465.0 457.3L467.0 457.3L469.0 457.4L471.0 457.4L473.0 457.6L475.1 457.8L477.1 458.1L479.1 458.9L481.1 460.5L483.1 463.9L483.1 456.5Z" fill="#d4d4d4"/><line x1="361.01" y1="445.69" x2="362.21" y2="445.69" stroke="#333" stroke-width="0.4" /><text x="360.41" y="447.09" font-size="3.9" text-anchor="end" fill="#1a1a1a" stroke="#1a1a1a" stroke-width="0.1" >4</text><line x1="361.01" y1="451.23" x2="362.21" y2="451.23" stroke="#333" stroke-width="0.4" /><text x="360.41" y="452.63" font-size="3.9" text-anchor="end" fill="#1a1a1a" stroke="#1a1a1a" stroke-width="0.1" >2</text><line x1="361.01" y1="456.52" x2="362.21" y2="456.52" stroke="#333" stroke-width="0.4" /><text x="360.41" y="457.92" font-size="3.9" text-anchor="end" fill="#1a1a1a" stroke="#1a1a1a" stroke-width="0.1" >0</text><line x1="361.01" y1="462.31" x2="362.21" y2="462.31" stroke="#333" stroke-width="0.4" /><text x="360.41" y="463.71" font-size="3.9" text-anchor="end" fill="#1a1a1a" stroke="#1a1a1a" stroke-width="0.1" >−2</text><rect x="362.21" y="426.79" width="120.92" height="10.28" fill="#0a0a0a" /><rect x="381.28" y="426.79" width="0.65" height="10.28" fill="#fff" fill-opacity="0.92"/><rect x="398.91" y="426.79" width="0.65" height="10.28" fill="#fff" fill-opacity="0.92"/><rect x="414.78" y="426.79" width="0.65" height="10.28" fill="#fff" fill-opacity="0.92"/><rect x="429.72" y="426.79" width="1.76" height="10.28" fill="#fff" fill-opacity="0.92"/><rect x="440.47" y="426.79" width="0.65" height="10.28" fill="#fff" fill-opacity="0.92"/><rect x="362.21" y="436.87" width="5.69" height="5.54" fill="#d7191c" /><rect x="367.75" y="436.87" width="6.45" height="5.54" fill="#e8603c" /><rect x="374.05" y="436.87" width="8.97" height="5.54" fill="#f4a582" /><rect x="382.86" y="436.87" width="16.52" height="5.54" fill="#f8dcd0" /><rect x="399.24" y="436.87" width="26.6" height="5.54" fill="#eeeaf0" /><rect x="425.69" y="436.87" width="21.56" height="5.54" fill="#c8dcea" /><rect x="447.1" y="436.87" width="19.04" height="5.54" fill="#6aa8d6" /><rect x="465.99" y="436.87" width="17.28" height="5.54" fill="#2080c0" /><path d="M362.21 380.19V426.79" stroke="#333" stroke-width="0.5" fill="none"/><path d="M362.21 442.41V467.1H483.12" stroke="#333" stroke-width="0.5" fill="none"/><line x1="394.7" y1="467.1" x2="394.7" y2="468.3" stroke="#333" stroke-width="0.4" /><text x="394.7" y="472.7" font-size="3.9" text-anchor="middle" fill="#1a1a1a" stroke="#1a1a1a" stroke-width="0.1" >2000</text><line x1="427.2" y1="467.1" x2="427.2" y2="468.3" stroke="#333" stroke-width="0.4" /><text x="427.2" y="472.7" font-size="3.9" text-anchor="middle" fill="#1a1a1a" stroke="#1a1a1a" stroke-width="0.1" >4000</text><line x1="459.69" y1="467.1" x2="459.69" y2="468.3" stroke="#333" stroke-width="0.4" /><text x="459.69" y="472.7" font-size="3.9" text-anchor="middle" fill="#1a1a1a" stroke="#1a1a1a" stroke-width="0.1" >6000</text><text x="423.26" y="478.3" font-size="3.87" text-anchor="middle" fill="#1a1a1a" stroke="#1a1a1a" stroke-width="0.1" >Rank in ordered dataset</text><text x="362.21" y="483.5" font-size="7.9" text-anchor="start" fill="#1a1a1a" stroke="#1a1a1a" stroke-width="0.17" font-style="italic" >Cux1<tspan font-size="55%" dy="-0.82em">hi</tspan></text><text x="484.02" y="483.5" font-size="7.9" text-anchor="end" fill="#1a1a1a" stroke="#1a1a1a" stroke-width="0.17" font-style="italic" >Col17a1<tspan font-size="55%" dy="-0.82em">hi</tspan></text><text x="352.01" y="403.49" font-size="3.95" text-anchor="middle" fill="#1a1a1a" stroke="#1a1a1a" stroke-width="0.1" transform="rotate(-90 352.01 403.49)" >Running enrichment score</text><text x="352.01" y="454.76" font-size="3.95" text-anchor="middle" fill="#1a1a1a" stroke="#1a1a1a" stroke-width="0.1" transform="rotate(-90 352.01 454.76)" >Ranked list metric</text><path d="M362.7 390.3C362.9 389.3 362.9 385.5 363.7 384.2C364.6 383.0 365.8 382.9 367.7 382.7C369.7 382.5 372.4 382.7 375.3 383.2C378.2 383.7 381.6 384.6 385.4 385.7C389.2 386.9 393.8 388.7 398.0 390.3C402.2 391.9 406.4 393.4 410.6 395.3C414.8 397.2 419.0 399.4 423.2 401.6C427.4 403.8 431.6 406.1 435.8 408.4C440.0 410.7 444.6 413.4 448.4 415.5C452.1 417.6 455.5 419.7 458.4 421.0C461.4 422.3 463.7 423.3 466.0 423.3C468.3 423.3 470.4 422.5 472.3 421.0C474.2 419.5 475.9 416.8 477.3 414.2C478.7 411.6 479.8 408.5 480.6 405.4C481.4 402.2 481.9 398.2 482.4 395.3C482.8 392.4 483.0 389.0 483.1 387.7" fill="none" stroke="#2b52b6" stroke-width="2.7" stroke-linejoin="round" stroke-linecap="round"/><text x="367.75" y="408.66" font-size="7.6" text-anchor="start" fill="#1a1a1a" stroke="#1a1a1a" stroke-width="0.17" >NES: −2.10</text><text x="367.75" y="417.96" font-size="7.6" text-anchor="start" fill="#1a1a1a" stroke="#1a1a1a" stroke-width="0.17" ><tspan font-style="italic">P</tspan>: 1.31×10<tspan font-size="55%" dy="-0.8em">−7</tspan></text>
<text x="564.31" y="375.15" font-size="8.05" text-anchor="middle" fill="#1a1a1a" stroke="#1a1a1a" stroke-width="0.18" >Response to wounding</text><line x1="520.98" y1="380.19" x2="520.98" y2="426.79" stroke="#f0f0f0" stroke-width="0.5" /><line x1="520.98" y1="442.41" x2="520.98" y2="467.1" stroke="#f0f0f0" stroke-width="0.5" /><line x1="537.11" y1="380.19" x2="537.11" y2="426.79" stroke="#e4e4e4" stroke-width="0.5" /><line x1="537.11" y1="442.41" x2="537.11" y2="467.1" stroke="#e4e4e4" stroke-width="0.5" /><line x1="553.23" y1="380.19" x2="553.23" y2="426.79" stroke="#f0f0f0" stroke-width="0.5" /><line x1="553.23" y1="442.41" x2="553.23" y2="467.1" stroke="#f0f0f0" stroke-width="0.5" /><line x1="569.35" y1="380.19" x2="569.35" y2="426.79" stroke="#e4e4e4" stroke-width="0.5" /><line x1="569.35" y1="442.41" x2="569.35" y2="467.1" stroke="#e4e4e4" stroke-width="0.5" /><line x1="585.47" y1="380.19" x2="585.47" y2="426.79" stroke="#f0f0f0" stroke-width="0.5" /><line x1="585.47" y1="442.41" x2="585.47" y2="467.1" stroke="#f0f0f0" stroke-width="0.5" /><line x1="601.6" y1="380.19" x2="601.6" y2="426.79" stroke="#e4e4e4" stroke-width="0.5" /><line x1="601.6" y1="442.41" x2="601.6" y2="467.1" stroke="#e4e4e4" stroke-width="0.5" /><line x1="617.72" y1="380.19" x2="617.72" y2="426.79" stroke="#f0f0f0" stroke-width="0.5" /><line x1="617.72" y1="442.41" x2="617.72" y2="467.1" stroke="#f0f0f0" stroke-width="0.5" /><line x1="505.62" y1="380.95" x2="625.53" y2="380.95" stroke="#eeeeee" stroke-width="0.4" /><line x1="504.42" y1="380.95" x2="505.62" y2="380.95" stroke="#333" stroke-width="0.4" /><text x="503.82" y="382.35" font-size="3.9" text-anchor="end" fill="#1a1a1a" stroke="#1a1a1a" stroke-width="0.1" >0.2</text><line x1="505.62" y1="393.29" x2="625.53" y2="393.29" stroke="#eeeeee" stroke-width="0.4" /><line x1="504.42" y1="393.29" x2="505.62" y2="393.29" stroke="#333" stroke-width="0.4" /><text x="503.82" y="394.69" font-size="3.9" text-anchor="end" fill="#1a1a1a" stroke="#1a1a1a" stroke-width="0.1" >0</text><line x1="505.62" y1="405.38" x2="625.53" y2="405.38" stroke="#eeeeee" stroke-width="0.4" /><line x1="504.42" y1="405.38" x2="505.62" y2="405.38" stroke="#333" stroke-width="0.4" /><text x="503.82" y="406.78" font-size="3.9" text-anchor="end" fill="#1a1a1a" stroke="#1a1a1a" stroke-width="0.1" >−0.2</text><line x1="505.62" y1="417.98" x2="625.53" y2="417.98" stroke="#eeeeee" stroke-width="0.4" /><line x1="504.42" y1="417.98" x2="505.62" y2="417.98" stroke="#333" stroke-width="0.4" /><text x="503.82" y="419.38" font-size="3.9" text-anchor="end" fill="#1a1a1a" stroke="#1a1a1a" stroke-width="0.1" >−0.4</text><path d="M505.6 456.5L505.6 452.7L507.6 453.1L509.6 453.5L511.6 453.8L513.6 454.1L515.6 454.4L517.6 454.6L519.6 454.8L521.6 455.0L523.6 455.1L525.6 455.3L527.6 455.4L529.6 455.5L531.6 455.6L533.6 455.7L535.6 455.8L537.6 455.8L539.6 455.9L541.6 456.0L543.6 456.0L545.6 456.1L547.6 456.1L549.6 456.2L551.6 456.2L553.6 456.3L555.6 456.3L557.6 456.4L559.6 456.4L561.6 456.4L563.6 456.5L565.6 456.5L567.6 456.6L569.6 456.6L571.6 456.6L573.6 456.7L575.6 456.7L577.6 456.7L579.6 456.8L581.6 456.8L583.6 456.8L585.6 456.9L587.6 456.9L589.6 456.9L591.6 457.0L593.6 457.0L595.5 457.1L597.5 457.1L599.5 457.1L601.5 457.2L603.5 457.2L605.5 457.2L607.5 457.3L609.5 457.3L611.5 457.4L613.5 457.4L615.5 457.6L617.5 457.8L619.5 458.1L621.5 458.9L623.5 460.5L625.5 463.9L625.5 456.5Z" fill="#d4d4d4"/><line x1="504.42" y1="445.69" x2="505.62" y2="445.69" stroke="#333" stroke-width="0.4" /><text x="503.82" y="447.09" font-size="3.9" text-anchor="end" fill="#1a1a1a" stroke="#1a1a1a" stroke-width="0.1" >4</text><line x1="504.42" y1="451.23" x2="505.62" y2="451.23" stroke="#333" stroke-width="0.4" /><text x="503.82" y="452.63" font-size="3.9" text-anchor="end" fill="#1a1a1a" stroke="#1a1a1a" stroke-width="0.1" >2</text><line x1="504.42" y1="456.52" x2="505.62" y2="456.52" stroke="#333" stroke-width="0.4" /><text x="503.82" y="457.92" font-size="3.9" text-anchor="end" fill="#1a1a1a" stroke="#1a1a1a" stroke-width="0.1" >0</text><line x1="504.42" y1="462.31" x2="505.62" y2="462.31" stroke="#333" stroke-width="0.4" /><text x="503.82" y="463.71" font-size="3.9" text-anchor="end" fill="#1a1a1a" stroke="#1a1a1a" stroke-width="0.1" >−2</text><rect x="505.62" y="426.79" width="119.91" height="10.28" fill="#0a0a0a" /><rect x="509.65" y="426.79" width="1.26" height="10.28" fill="#fff" fill-opacity="0.92"/><rect x="513.93" y="426.79" width="2.27" height="10.28" fill="#fff" fill-opacity="0.92"/><rect x="526.53" y="426.79" width="1.26" height="10.28" fill="#fff" fill-opacity="0.92"/><rect x="533.33" y="426.79" width="1.51" height="10.28" fill="#fff" fill-opacity="0.92"/><rect x="554.24" y="426.79" width="1.26" height="10.28" fill="#fff" fill-opacity="0.92"/><rect x="558.02" y="426.79" width="1.26" height="10.28" fill="#fff" fill-opacity="0.92"/><rect x="561.47" y="426.79" width="0.65" height="10.28" fill="#fff" fill-opacity="0.92"/><rect x="569.1" y="426.79" width="4.28" height="10.28" fill="#fff" fill-opacity="0.92"/><rect x="576.58" y="426.79" width="0.65" height="10.28" fill="#fff" fill-opacity="0.92"/><rect x="580.36" y="426.79" width="0.65" height="10.28" fill="#fff" fill-opacity="0.92"/><rect x="583.21" y="426.79" width="2.02" height="10.28" fill="#fff" fill-opacity="0.92"/><rect x="590.44" y="426.79" width="0.65" height="10.28" fill="#fff" fill-opacity="0.92"/><rect x="600.51" y="426.79" width="0.65" height="10.28" fill="#fff" fill-opacity="0.92"/><rect x="615.63" y="426.79" width="0.65" height="10.28" fill="#fff" fill-opacity="0.92"/><rect x="505.62" y="436.87" width="8.46" height="5.54" fill="#d7191c" /><rect x="513.93" y="436.87" width="10.23" height="5.54" fill="#f4a582" /><rect x="524.01" y="436.87" width="12.75" height="5.54" fill="#f8dcd0" /><rect x="536.6" y="436.87" width="31.64" height="5.54" fill="#eeeaf0" /><rect x="568.09" y="436.87" width="21.56" height="5.54" fill="#c8dcea" /><rect x="589.5" y="436.87" width="20.3" height="5.54" fill="#6aa8d6" /><rect x="609.66" y="436.87" width="16.02" height="5.54" fill="#2080c0" /><path d="M505.62 380.19V426.79" stroke="#333" stroke-width="0.5" fill="none"/><path d="M505.62 442.41V467.1H625.53" stroke="#333" stroke-width="0.5" fill="none"/><line x1="537.11" y1="467.1" x2="537.11" y2="468.3" stroke="#333" stroke-width="0.4" /><text x="537.11" y="472.7" font-size="3.9" text-anchor="middle" fill="#1a1a1a" stroke="#1a1a1a" stroke-width="0.1" >2000</text><line x1="569.35" y1="467.1" x2="569.35" y2="468.3" stroke="#333" stroke-width="0.4" /><text x="569.35" y="472.7" font-size="3.9" text-anchor="middle" fill="#1a1a1a" stroke="#1a1a1a" stroke-width="0.1" >4000</text><line x1="601.6" y1="467.1" x2="601.6" y2="468.3" stroke="#333" stroke-width="0.4" /><text x="601.6" y="472.7" font-size="3.9" text-anchor="middle" fill="#1a1a1a" stroke="#1a1a1a" stroke-width="0.1" >6000</text><text x="566.17" y="478.3" font-size="3.87" text-anchor="middle" fill="#1a1a1a" stroke="#1a1a1a" stroke-width="0.1" >Rank in ordered dataset</text><text x="505.62" y="483.5" font-size="7.9" text-anchor="start" fill="#1a1a1a" stroke="#1a1a1a" stroke-width="0.17" font-style="italic" >Cux1<tspan font-size="55%" dy="-0.82em">hi</tspan></text><text x="626.43" y="483.5" font-size="7.9" text-anchor="end" fill="#1a1a1a" stroke="#1a1a1a" stroke-width="0.17" font-style="italic" >Col17a1<tspan font-size="55%" dy="-0.82em">hi</tspan></text><text x="495.42" y="403.49" font-size="3.95" text-anchor="middle" fill="#1a1a1a" stroke="#1a1a1a" stroke-width="0.1" transform="rotate(-90 495.42 403.49)" >Running enrichment score</text><text x="495.42" y="454.76" font-size="3.95" text-anchor="middle" fill="#1a1a1a" stroke="#1a1a1a" stroke-width="0.1" transform="rotate(-90 495.42 454.76)" >Ranked list metric</text><path d="M505.6 392.8C505.8 391.4 506.1 386.5 506.6 384.7C507.2 383.0 507.9 382.3 508.9 382.2C509.9 382.1 511.2 383.1 512.7 384.0C514.1 384.8 515.8 386.7 517.7 387.2C519.6 387.8 521.9 386.8 524.0 387.2C526.1 387.7 527.6 388.6 530.3 389.8C533.0 390.9 536.6 392.5 540.4 394.0C544.2 395.6 548.8 397.3 553.0 399.1C557.2 400.9 561.4 402.8 565.6 404.9C569.8 407.0 574.0 409.5 578.2 411.7C582.4 413.9 587.0 416.3 590.8 418.0C594.5 419.7 597.5 421.0 600.8 421.8C604.2 422.5 608.2 422.2 610.9 422.5C613.6 422.8 615.5 423.8 617.2 423.5C618.9 423.3 619.9 422.6 621.0 421.0C622.0 419.4 622.9 417.2 623.5 414.2C624.1 411.2 624.4 406.5 624.8 402.9C625.1 399.2 625.4 394.0 625.5 392.3" fill="none" stroke="#2b52b6" stroke-width="2.7" stroke-linejoin="round" stroke-linecap="round"/><text x="508.89" y="408.66" font-size="7.6" text-anchor="start" fill="#1a1a1a" stroke="#1a1a1a" stroke-width="0.17" >NES: −2.25</text><text x="508.89" y="417.96" font-size="7.6" text-anchor="start" fill="#1a1a1a" stroke="#1a1a1a" stroke-width="0.17" ><tspan font-style="italic">P</tspan>: 3.23×10<tspan font-size="55%" dy="-0.8em">−7</tspan></text>
<text x="423.17" y="497.05" font-size="8.05" text-anchor="middle" fill="#1a1a1a" stroke="#1a1a1a" stroke-width="0.18" >mRNA processing</text><line x1="377.32" y1="498.82" x2="377.32" y2="544.92" stroke="#f0f0f0" stroke-width="0.5" /><line x1="377.32" y1="561.29" x2="377.32" y2="585.73" stroke="#f0f0f0" stroke-width="0.5" /><line x1="393.44" y1="498.82" x2="393.44" y2="544.92" stroke="#e4e4e4" stroke-width="0.5" /><line x1="393.44" y1="561.29" x2="393.44" y2="585.73" stroke="#e4e4e4" stroke-width="0.5" /><line x1="409.56" y1="498.82" x2="409.56" y2="544.92" stroke="#f0f0f0" stroke-width="0.5" /><line x1="409.56" y1="561.29" x2="409.56" y2="585.73" stroke="#f0f0f0" stroke-width="0.5" /><line x1="425.69" y1="498.82" x2="425.69" y2="544.92" stroke="#e4e4e4" stroke-width="0.5" /><line x1="425.69" y1="561.29" x2="425.69" y2="585.73" stroke="#e4e4e4" stroke-width="0.5" /><line x1="441.81" y1="498.82" x2="441.81" y2="544.92" stroke="#f0f0f0" stroke-width="0.5" /><line x1="441.81" y1="561.29" x2="441.81" y2="585.73" stroke="#f0f0f0" stroke-width="0.5" /><line x1="457.93" y1="498.82" x2="457.93" y2="544.92" stroke="#e4e4e4" stroke-width="0.5" /><line x1="457.93" y1="561.29" x2="457.93" y2="585.73" stroke="#e4e4e4" stroke-width="0.5" /><line x1="474.05" y1="498.82" x2="474.05" y2="544.92" stroke="#f0f0f0" stroke-width="0.5" /><line x1="474.05" y1="561.29" x2="474.05" y2="585.73" stroke="#f0f0f0" stroke-width="0.5" /><line x1="362.21" y1="500.83" x2="483.12" y2="500.83" stroke="#eeeeee" stroke-width="0.4" /><line x1="361.01" y1="500.83" x2="362.21" y2="500.83" stroke="#333" stroke-width="0.4" /><text x="360.41" y="502.23" font-size="3.9" text-anchor="end" fill="#1a1a1a" stroke="#1a1a1a" stroke-width="0.1" >0.5</text><line x1="362.21" y1="508.89" x2="483.12" y2="508.89" stroke="#eeeeee" stroke-width="0.4" /><line x1="361.01" y1="508.89" x2="362.21" y2="508.89" stroke="#333" stroke-width="0.4" /><text x="360.41" y="510.29" font-size="3.9" text-anchor="end" fill="#1a1a1a" stroke="#1a1a1a" stroke-width="0.1" >0.4</text><line x1="362.21" y1="517.21" x2="483.12" y2="517.21" stroke="#eeeeee" stroke-width="0.4" /><line x1="361.01" y1="517.21" x2="362.21" y2="517.21" stroke="#333" stroke-width="0.4" /><text x="360.41" y="518.61" font-size="3.9" text-anchor="end" fill="#1a1a1a" stroke="#1a1a1a" stroke-width="0.1" >0.3</text><line x1="362.21" y1="525.52" x2="483.12" y2="525.52" stroke="#eeeeee" stroke-width="0.4" /><line x1="361.01" y1="525.52" x2="362.21" y2="525.52" stroke="#333" stroke-width="0.4" /><text x="360.41" y="526.92" font-size="3.9" text-anchor="end" fill="#1a1a1a" stroke="#1a1a1a" stroke-width="0.1" >0.2</text><line x1="362.21" y1="534.08" x2="483.12" y2="534.08" stroke="#eeeeee" stroke-width="0.4" /><line x1="361.01" y1="534.08" x2="362.21" y2="534.08" stroke="#333" stroke-width="0.4" /><text x="360.41" y="535.48" font-size="3.9" text-anchor="end" fill="#1a1a1a" stroke="#1a1a1a" stroke-width="0.1" >0.1</text><line x1="362.21" y1="542.4" x2="483.12" y2="542.4" stroke="#eeeeee" stroke-width="0.4" /><line x1="361.01" y1="542.4" x2="362.21" y2="542.4" stroke="#333" stroke-width="0.4" /><text x="360.41" y="543.8" font-size="3.9" text-anchor="end" fill="#1a1a1a" stroke="#1a1a1a" stroke-width="0.1" >0</text><path d="M362.2 575.1L362.2 570.9L364.2 571.4L366.2 571.8L368.3 572.2L370.3 572.5L372.3 572.8L374.3 573.0L376.3 573.3L378.3 573.4L380.3 573.6L382.4 573.8L384.4 573.9L386.4 574.0L388.4 574.1L390.4 574.2L392.4 574.3L394.5 574.4L396.5 574.5L398.5 574.5L400.5 574.6L402.5 574.7L404.5 574.7L406.5 574.8L408.6 574.8L410.6 574.9L412.6 574.9L414.6 575.0L416.6 575.0L418.6 575.1L420.6 575.1L422.7 575.1L424.7 575.2L426.7 575.2L428.7 575.3L430.7 575.3L432.7 575.3L434.8 575.4L436.8 575.4L438.8 575.5L440.8 575.5L442.8 575.5L444.8 575.6L446.8 575.6L448.9 575.7L450.9 575.7L452.9 575.7L454.9 575.8L456.9 575.8L458.9 575.8L461.0 575.9L463.0 575.9L465.0 576.0L467.0 576.0L469.0 576.1L471.0 576.1L473.0 576.3L475.1 576.5L477.1 576.9L479.1 577.8L481.1 579.5L483.1 583.3L483.1 575.1Z" fill="#d4d4d4"/><line x1="361.01" y1="563.81" x2="362.21" y2="563.81" stroke="#333" stroke-width="0.4" /><text x="360.41" y="565.21" font-size="3.9" text-anchor="end" fill="#1a1a1a" stroke="#1a1a1a" stroke-width="0.1" >4</text><line x1="361.01" y1="569.35" x2="362.21" y2="569.35" stroke="#333" stroke-width="0.4" /><text x="360.41" y="570.75" font-size="3.9" text-anchor="end" fill="#1a1a1a" stroke="#1a1a1a" stroke-width="0.1" >2</text><line x1="361.01" y1="575.15" x2="362.21" y2="575.15" stroke="#333" stroke-width="0.4" /><text x="360.41" y="576.55" font-size="3.9" text-anchor="end" fill="#1a1a1a" stroke="#1a1a1a" stroke-width="0.1" >0</text><line x1="361.01" y1="580.69" x2="362.21" y2="580.69" stroke="#333" stroke-width="0.4" /><text x="360.41" y="582.09" font-size="3.9" text-anchor="end" fill="#1a1a1a" stroke="#1a1a1a" stroke-width="0.1" >−2</text><rect x="362.21" y="544.92" width="120.92" height="11.28" fill="#0a0a0a" /><rect x="416.54" y="544.92" width="0.65" height="11.28" fill="#fff" fill-opacity="0.92"/><rect x="430.4" y="544.92" width="0.65" height="11.28" fill="#fff" fill-opacity="0.92"/><rect x="439.54" y="544.92" width="1.76" height="11.28" fill="#fff" fill-opacity="0.92"/><rect x="443.32" y="544.92" width="1.51" height="11.28" fill="#fff" fill-opacity="0.92"/><rect x="449.62" y="544.92" width="1.76" height="11.28" fill="#fff" fill-opacity="0.92"/><rect x="457.18" y="544.92" width="5.79" height="11.28" fill="#fff" fill-opacity="0.92"/><rect x="470.7" y="544.92" width="0.65" height="11.28" fill="#fff" fill-opacity="0.92"/><rect x="473.55" y="544.92" width="4.53" height="11.28" fill="#fff" fill-opacity="0.92"/><rect x="362.21" y="556" width="48.01" height="5.29" fill="#d7191c" /><rect x="410.07" y="556" width="13.75" height="5.29" fill="#e8603c" /><rect x="423.67" y="556" width="13.5" height="5.29" fill="#f4a582" /><rect x="437.02" y="556" width="14" height="5.29" fill="#f8dcd0" /><rect x="450.88" y="556" width="11.49" height="5.29" fill="#eeeaf0" /><rect x="462.21" y="556" width="8.97" height="5.29" fill="#c8dcea" /><rect x="471.03" y="556" width="7.71" height="5.29" fill="#6aa8d6" /><rect x="478.59" y="556" width="4.68" height="5.29" fill="#2080c0" /><path d="M362.21 498.82V544.92" stroke="#333" stroke-width="0.5" fill="none"/><path d="M362.21 561.29V585.73H483.12" stroke="#333" stroke-width="0.5" fill="none"/><line x1="393.44" y1="585.73" x2="393.44" y2="586.93" stroke="#333" stroke-width="0.4" /><text x="393.44" y="591.33" font-size="3.9" text-anchor="middle" fill="#1a1a1a" stroke="#1a1a1a" stroke-width="0.1" >2000</text><line x1="425.69" y1="585.73" x2="425.69" y2="586.93" stroke="#333" stroke-width="0.4" /><text x="425.69" y="591.33" font-size="3.9" text-anchor="middle" fill="#1a1a1a" stroke="#1a1a1a" stroke-width="0.1" >4000</text><line x1="457.93" y1="585.73" x2="457.93" y2="586.93" stroke="#333" stroke-width="0.4" /><text x="457.93" y="591.33" font-size="3.9" text-anchor="middle" fill="#1a1a1a" stroke="#1a1a1a" stroke-width="0.1" >6000</text><text x="423.26" y="596.93" font-size="3.87" text-anchor="middle" fill="#1a1a1a" stroke="#1a1a1a" stroke-width="0.1" >Rank in ordered dataset</text><text x="362.21" y="602.13" font-size="7.9" text-anchor="start" fill="#1a1a1a" stroke="#1a1a1a" stroke-width="0.17" font-style="italic" >Cux1<tspan font-size="55%" dy="-0.82em">hi</tspan></text><text x="484.02" y="602.13" font-size="7.9" text-anchor="end" fill="#1a1a1a" stroke="#1a1a1a" stroke-width="0.17" font-style="italic" >Col17a1<tspan font-size="55%" dy="-0.82em">hi</tspan></text><text x="352.01" y="521.87" font-size="3.95" text-anchor="middle" fill="#1a1a1a" stroke="#1a1a1a" stroke-width="0.1" transform="rotate(-90 352.01 521.87)" >Running enrichment score</text><text x="352.01" y="573.51" font-size="3.95" text-anchor="middle" fill="#1a1a1a" stroke="#1a1a1a" stroke-width="0.1" transform="rotate(-90 352.01 573.51)" >Ranked list metric</text><path d="M362.2 542.1C362.5 540.2 363.0 533.5 363.7 530.3C364.4 527.1 365.4 525.3 366.5 522.7C367.6 520.2 368.9 517.6 370.3 515.2C371.7 512.8 373.1 509.6 374.8 508.1C376.5 506.7 378.6 507.5 380.3 506.6C382.1 505.8 382.9 504.0 385.4 503.1C387.9 502.2 392.5 501.2 395.5 501.3C398.4 501.5 400.5 503.0 403.0 503.9C405.5 504.7 407.2 505.3 410.6 506.4C413.9 507.4 419.0 508.5 423.2 510.2C427.4 511.8 431.6 513.9 435.8 516.5C440.0 519.0 444.2 522.3 448.4 525.3C452.6 528.2 457.2 532.0 461.0 534.1C464.7 536.2 468.0 536.5 471.0 537.9C474.1 539.2 477.2 541.7 479.1 542.1C481.0 542.6 482.0 540.7 482.6 540.4" fill="none" stroke="#2b52b6" stroke-width="2.7" stroke-linejoin="round" stroke-linecap="round"/><text x="370.77" y="530.81" font-size="7.6" text-anchor="start" fill="#1a1a1a" stroke="#1a1a1a" stroke-width="0.17" >NES: 2.39</text><text x="370.77" y="540.11" font-size="7.6" text-anchor="start" fill="#1a1a1a" stroke="#1a1a1a" stroke-width="0.17" ><tspan font-style="italic">P</tspan>: 5.57×10<tspan font-size="55%" dy="-0.8em">−9</tspan></text>
<text x="566.83" y="497.05" font-size="8.05" text-anchor="middle" fill="#1a1a1a" stroke="#1a1a1a" stroke-width="0.18" >mRNA splicing</text><line x1="519.22" y1="498.82" x2="519.22" y2="544.92" stroke="#f0f0f0" stroke-width="0.5" /><line x1="519.22" y1="561.29" x2="519.22" y2="585.73" stroke="#f0f0f0" stroke-width="0.5" /><line x1="535.34" y1="498.82" x2="535.34" y2="544.92" stroke="#e4e4e4" stroke-width="0.5" /><line x1="535.34" y1="561.29" x2="535.34" y2="585.73" stroke="#e4e4e4" stroke-width="0.5" /><line x1="551.47" y1="498.82" x2="551.47" y2="544.92" stroke="#f0f0f0" stroke-width="0.5" /><line x1="551.47" y1="561.29" x2="551.47" y2="585.73" stroke="#f0f0f0" stroke-width="0.5" /><line x1="567.59" y1="498.82" x2="567.59" y2="544.92" stroke="#e4e4e4" stroke-width="0.5" /><line x1="567.59" y1="561.29" x2="567.59" y2="585.73" stroke="#e4e4e4" stroke-width="0.5" /><line x1="583.71" y1="498.82" x2="583.71" y2="544.92" stroke="#f0f0f0" stroke-width="0.5" /><line x1="583.71" y1="561.29" x2="583.71" y2="585.73" stroke="#f0f0f0" stroke-width="0.5" /><line x1="599.83" y1="498.82" x2="599.83" y2="544.92" stroke="#e4e4e4" stroke-width="0.5" /><line x1="599.83" y1="561.29" x2="599.83" y2="585.73" stroke="#e4e4e4" stroke-width="0.5" /><line x1="615.95" y1="498.82" x2="615.95" y2="544.92" stroke="#f0f0f0" stroke-width="0.5" /><line x1="615.95" y1="561.29" x2="615.95" y2="585.73" stroke="#f0f0f0" stroke-width="0.5" /><line x1="503.85" y1="500.83" x2="625.53" y2="500.83" stroke="#eeeeee" stroke-width="0.4" /><line x1="502.65" y1="500.83" x2="503.85" y2="500.83" stroke="#333" stroke-width="0.4" /><text x="502.05" y="502.23" font-size="3.9" text-anchor="end" fill="#1a1a1a" stroke="#1a1a1a" stroke-width="0.1" >0.5</text><line x1="503.85" y1="508.89" x2="625.53" y2="508.89" stroke="#eeeeee" stroke-width="0.4" /><line x1="502.65" y1="508.89" x2="503.85" y2="508.89" stroke="#333" stroke-width="0.4" /><text x="502.05" y="510.29" font-size="3.9" text-anchor="end" fill="#1a1a1a" stroke="#1a1a1a" stroke-width="0.1" >0.4</text><line x1="503.85" y1="517.21" x2="625.53" y2="517.21" stroke="#eeeeee" stroke-width="0.4" /><line x1="502.65" y1="517.21" x2="503.85" y2="517.21" stroke="#333" stroke-width="0.4" /><text x="502.05" y="518.61" font-size="3.9" text-anchor="end" fill="#1a1a1a" stroke="#1a1a1a" stroke-width="0.1" >0.3</text><line x1="503.85" y1="525.52" x2="625.53" y2="525.52" stroke="#eeeeee" stroke-width="0.4" /><line x1="502.65" y1="525.52" x2="503.85" y2="525.52" stroke="#333" stroke-width="0.4" /><text x="502.05" y="526.92" font-size="3.9" text-anchor="end" fill="#1a1a1a" stroke="#1a1a1a" stroke-width="0.1" >0.2</text><line x1="503.85" y1="534.08" x2="625.53" y2="534.08" stroke="#eeeeee" stroke-width="0.4" /><line x1="502.65" y1="534.08" x2="503.85" y2="534.08" stroke="#333" stroke-width="0.4" /><text x="502.05" y="535.48" font-size="3.9" text-anchor="end" fill="#1a1a1a" stroke="#1a1a1a" stroke-width="0.1" >0.1</text><line x1="503.85" y1="542.4" x2="625.53" y2="542.4" stroke="#eeeeee" stroke-width="0.4" /><line x1="502.65" y1="542.4" x2="503.85" y2="542.4" stroke="#333" stroke-width="0.4" /><text x="502.05" y="543.8" font-size="3.9" text-anchor="end" fill="#1a1a1a" stroke="#1a1a1a" stroke-width="0.1" >0</text><path d="M503.9 575.1L503.9 570.9L505.9 571.4L507.9 571.8L509.9 572.2L512.0 572.5L514.0 572.8L516.0 573.0L518.0 573.3L520.1 573.4L522.1 573.6L524.1 573.8L526.2 573.9L528.2 574.0L530.2 574.1L532.2 574.2L534.3 574.3L536.3 574.4L538.3 574.5L540.4 574.5L542.4 574.6L544.4 574.7L546.4 574.7L548.5 574.8L550.5 574.8L552.5 574.9L554.6 574.9L556.6 575.0L558.6 575.0L560.6 575.1L562.7 575.1L564.7 575.1L566.7 575.2L568.7 575.2L570.8 575.3L572.8 575.3L574.8 575.3L576.9 575.4L578.9 575.4L580.9 575.5L582.9 575.5L585.0 575.5L587.0 575.6L589.0 575.6L591.1 575.7L593.1 575.7L595.1 575.7L597.1 575.8L599.2 575.8L601.2 575.8L603.2 575.9L605.2 575.9L607.3 576.0L609.3 576.0L611.3 576.1L613.4 576.1L615.4 576.3L617.4 576.5L619.4 576.9L621.5 577.8L623.5 579.5L625.5 583.3L625.5 575.1Z" fill="#d4d4d4"/><line x1="502.65" y1="563.81" x2="503.85" y2="563.81" stroke="#333" stroke-width="0.4" /><text x="502.05" y="565.21" font-size="3.9" text-anchor="end" fill="#1a1a1a" stroke="#1a1a1a" stroke-width="0.1" >4</text><line x1="502.65" y1="569.35" x2="503.85" y2="569.35" stroke="#333" stroke-width="0.4" /><text x="502.05" y="570.75" font-size="3.9" text-anchor="end" fill="#1a1a1a" stroke="#1a1a1a" stroke-width="0.1" >2</text><line x1="502.65" y1="575.15" x2="503.85" y2="575.15" stroke="#333" stroke-width="0.4" /><text x="502.05" y="576.55" font-size="3.9" text-anchor="end" fill="#1a1a1a" stroke="#1a1a1a" stroke-width="0.1" >0</text><line x1="502.65" y1="580.69" x2="503.85" y2="580.69" stroke="#333" stroke-width="0.4" /><text x="502.05" y="582.09" font-size="3.9" text-anchor="end" fill="#1a1a1a" stroke="#1a1a1a" stroke-width="0.1" >−2</text><rect x="503.85" y="544.92" width="121.67" height="11.28" fill="#0a0a0a" /><rect x="541.31" y="544.92" width="0.65" height="11.28" fill="#fff" fill-opacity="0.92"/><rect x="544.16" y="544.92" width="2.52" height="11.28" fill="#fff" fill-opacity="0.92"/><rect x="550.13" y="544.92" width="0.65" height="11.28" fill="#fff" fill-opacity="0.92"/><rect x="557.69" y="544.92" width="0.65" height="11.28" fill="#fff" fill-opacity="0.92"/><rect x="579.43" y="544.92" width="2.52" height="11.28" fill="#fff" fill-opacity="0.92"/><rect x="584.89" y="544.92" width="0.65" height="11.28" fill="#fff" fill-opacity="0.92"/><rect x="589.18" y="544.92" width="0.65" height="11.28" fill="#fff" fill-opacity="0.92"/><rect x="592.45" y="544.92" width="0.65" height="11.28" fill="#fff" fill-opacity="0.92"/><rect x="595.47" y="544.92" width="0.65" height="11.28" fill="#fff" fill-opacity="0.92"/><rect x="600.34" y="544.92" width="3.53" height="11.28" fill="#fff" fill-opacity="0.92"/><rect x="615.63" y="544.92" width="0.65" height="11.28" fill="#fff" fill-opacity="0.92"/><rect x="620.66" y="544.92" width="0.65" height="11.28" fill="#fff" fill-opacity="0.92"/><rect x="623.18" y="544.92" width="0.65" height="11.28" fill="#fff" fill-opacity="0.92"/><rect x="503.85" y="556" width="37.94" height="5.29" fill="#d7191c" /><rect x="541.64" y="556" width="21.56" height="5.29" fill="#e8603c" /><rect x="563.05" y="556" width="14" height="5.29" fill="#f4a582" /><rect x="576.91" y="556" width="17.78" height="5.29" fill="#f8dcd0" /><rect x="594.54" y="556" width="10.23" height="5.29" fill="#eeeaf0" /><rect x="604.62" y="556" width="10.23" height="5.29" fill="#c8dcea" /><rect x="614.69" y="556" width="5.19" height="5.29" fill="#6aa8d6" /><rect x="619.73" y="556" width="5.94" height="5.29" fill="#2080c0" /><path d="M503.85 498.82V544.92" stroke="#333" stroke-width="0.5" fill="none"/><path d="M503.85 561.29V585.73H625.53" stroke="#333" stroke-width="0.5" fill="none"/><line x1="535.34" y1="585.73" x2="535.34" y2="586.93" stroke="#333" stroke-width="0.4" /><text x="535.34" y="591.33" font-size="3.9" text-anchor="middle" fill="#1a1a1a" stroke="#1a1a1a" stroke-width="0.1" >2000</text><line x1="567.59" y1="585.73" x2="567.59" y2="586.93" stroke="#333" stroke-width="0.4" /><text x="567.59" y="591.33" font-size="3.9" text-anchor="middle" fill="#1a1a1a" stroke="#1a1a1a" stroke-width="0.1" >4000</text><line x1="599.83" y1="585.73" x2="599.83" y2="586.93" stroke="#333" stroke-width="0.4" /><text x="599.83" y="591.33" font-size="3.9" text-anchor="middle" fill="#1a1a1a" stroke="#1a1a1a" stroke-width="0.1" >6000</text><text x="565.29" y="596.93" font-size="3.87" text-anchor="middle" fill="#1a1a1a" stroke="#1a1a1a" stroke-width="0.1" >Rank in ordered dataset</text><text x="503.85" y="602.13" font-size="7.9" text-anchor="start" fill="#1a1a1a" stroke="#1a1a1a" stroke-width="0.17" font-style="italic" >Cux1<tspan font-size="55%" dy="-0.82em">hi</tspan></text><text x="626.43" y="602.13" font-size="7.9" text-anchor="end" fill="#1a1a1a" stroke="#1a1a1a" stroke-width="0.17" font-style="italic" >Col17a1<tspan font-size="55%" dy="-0.82em">hi</tspan></text><text x="493.65" y="521.87" font-size="3.95" text-anchor="middle" fill="#1a1a1a" stroke="#1a1a1a" stroke-width="0.1" transform="rotate(-90 493.65 521.87)" >Running enrichment score</text><text x="493.65" y="573.51" font-size="3.95" text-anchor="middle" fill="#1a1a1a" stroke="#1a1a1a" stroke-width="0.1" transform="rotate(-90 493.65 573.51)" >Ranked list metric</text><path d="M503.9 542.1C504.1 540.2 504.7 533.7 505.4 530.3C506.0 526.9 506.7 524.0 507.6 521.5C508.6 519.0 509.9 517.7 511.2 515.2C512.4 512.7 513.7 508.5 515.2 506.6C516.7 504.7 518.1 504.6 520.2 503.9C522.3 503.1 525.1 502.5 527.8 502.1C530.5 501.7 533.9 501.0 536.6 501.3C539.3 501.6 541.4 502.7 544.2 503.9C546.9 505.0 549.4 506.7 553.0 508.1C556.5 509.6 561.4 511.0 565.6 512.7C569.8 514.4 574.0 515.9 578.2 518.2C582.4 520.5 587.0 523.9 590.8 526.5C594.5 529.2 597.5 532.1 600.8 534.1C604.2 536.1 608.0 537.1 610.9 538.4C613.9 539.6 616.6 541.0 618.5 541.6C620.4 542.3 621.1 542.6 622.3 542.4C623.4 542.2 625.0 540.7 625.5 540.4" fill="none" stroke="#2b52b6" stroke-width="2.7" stroke-linejoin="round" stroke-linecap="round"/><text x="511.41" y="530.81" font-size="7.6" text-anchor="start" fill="#1a1a1a" stroke="#1a1a1a" stroke-width="0.17" >NES: 2.51</text><text x="511.41" y="540.11" font-size="7.6" text-anchor="start" fill="#1a1a1a" stroke="#1a1a1a" stroke-width="0.17" ><tspan font-style="italic">P</tspan>: 5.57×10<tspan font-size="55%" dy="-0.8em">−8</tspan></text>
</g>
<g id="panelJ">
<text x="20.6" y="622" font-size="11.8" text-anchor="start" fill="#1a1a1a" stroke="#1a1a1a" stroke-width="0.26" >J</text>
<text x="85.4" y="635.7" font-size="8.2" text-anchor="middle" fill="#1a1a1a" stroke="#1a1a1a" stroke-width="0.18" >Cell cycle phase</text>
<circle cx="52.8" cy="646" r="1.9" fill="#e0173d" />
<text x="58.8" y="648.5" font-size="7.2" text-anchor="start" fill="#1a1a1a" stroke="#1a1a1a" stroke-width="0.16" >G1</text>
<circle cx="78.2" cy="646" r="1.9" fill="#62bab2" />
<text x="84.2" y="648.5" font-size="7.2" text-anchor="start" fill="#1a1a1a" stroke="#1a1a1a" stroke-width="0.16" >S</text>
<circle cx="99.2" cy="646" r="1.9" fill="#f5a91f" />
<text x="105.2" y="648.5" font-size="7.2" text-anchor="start" fill="#1a1a1a" stroke="#1a1a1a" stroke-width="0.16" >G2M</text>
<path d="M93.1 705.3h0M93.3 689.9h0M120.4 725.0h0M123.1 710.8h0M130.3 707.6h0M119.1 722.6h0M66.4 675.1h0M49.3 684.2h0M120.5 712.9h0M115.7 711.4h0M43.6 699.7h0M46.3 678.8h0M38.7 690.4h0M134.0 699.0h0M62.7 667.3h0M114.0 726.7h0M105.0 681.4h0M85.0 671.7h0M40.1 693.0h0M109.7 735.2h0M49.8 670.7h0M91.1 718.7h0M97.0 707.0h0M40.8 687.4h0M89.1 681.6h0M129.4 704.2h0M131.5 717.5h0M107.1 728.0h0M129.4 721.0h0M95.3 682.1h0M46.2 689.6h0M52.7 672.5h0M130.6 702.1h0M53.8 673.3h0M54.9 666.9h0M92.7 717.9h0M97.6 704.1h0M116.0 714.2h0M129.4 721.3h0M85.8 675.7h0M128.7 704.7h0M102.7 714.6h0M102.2 682.0h0M96.4 682.9h0M100.3 687.9h0M111.0 699.2h0M52.4 673.3h0M53.6 672.3h0M96.4 677.2h0M46.1 697.6h0M90.9 717.8h0M96.1 721.8h0M99.0 716.2h0M98.7 699.2h0M46.6 693.3h0M92.7 673.8h0M45.9 683.8h0M116.6 731.1h0M55.7 675.8h0M54.2 682.6h0M94.8 688.8h0M100.5 680.4h0M98.6 695.4h0M95.4 679.1h0M111.5 726.5h0M49.1 677.6h0M42.9 693.4h0M133.1 716.4h0M120.7 712.7h0M90.3 665.3h0M97.1 677.9h0M108.0 672.0h0M42.6 680.9h0M92.1 701.2h0M112.2 723.4h0M43.3 698.4h0M102.2 677.4h0M136.2 702.8h0M122.5 720.8h0M108.9 725.8h0M125.0 726.5h0M85.8 676.5h0M103.3 674.5h0M62.8 668.8h0M115.7 722.3h0M132.0 708.0h0M92.9 703.9h0M46.9 679.0h0M64.6 681.8h0M95.6 683.8h0M121.9 733.9h0M48.0 681.8h0M112.6 677.5h0M105.9 720.6h0M39.0 700.1h0M98.7 706.3h0M130.6 695.3h0M45.0 695.1h0M50.9 675.0h0M108.7 692.5h0M87.2 675.1h0M50.4 702.0h0M113.1 734.0h0M65.6 672.6h0M100.6 675.6h0M127.5 692.6h0M58.5 671.7h0M40.5 686.8h0M40.1 700.0h0M127.0 754.6h0M41.4 689.0h0M93.3 659.5h0M123.6 691.6h0M93.5 659.4h0M100.9 695.7h0M61.3 665.2h0M91.1 687.5h0M46.2 687.5h0M105.6 718.1h0M46.5 687.9h0M87.3 706.3h0M107.9 674.8h0M52.5 678.4h0M128.6 709.1h0M42.7 699.8h0M62.3 668.5h0M107.4 696.1h0M94.8 709.8h0M105.0 707.7h0M67.5 715.2h0M59.4 670.1h0M93.6 678.4h0M39.7 686.0h0M131.1 703.5h0M104.5 722.0h0" fill="none" stroke="#62bab2" stroke-width="2.5" stroke-linecap="round"/>
<path d="M114.9 696.2h0M63.1 681.8h0M99.3 685.4h0M38.9 692.3h0M64.4 712.8h0M104.7 672.5h0M122.6 707.5h0M57.6 693.5h0M104.1 686.8h0M101.4 693.0h0M109.8 703.3h0M102.1 705.9h0M101.2 681.4h0M116.8 706.2h0M57.9 677.7h0M107.3 707.7h0M104.0 668.4h0M113.9 733.4h0M109.5 682.6h0M108.8 685.3h0M87.9 706.4h0M91.4 675.3h0M99.8 669.7h0M57.0 687.3h0M62.9 691.6h0M63.6 678.3h0M99.6 700.6h0M100.1 687.2h0M119.6 692.1h0M114.0 719.3h0M104.5 711.5h0M47.6 698.3h0M55.7 701.4h0M98.3 720.7h0M124.2 692.0h0M61.3 665.9h0M118.3 700.6h0M58.7 686.9h0M108.1 692.0h0M93.1 673.8h0M46.8 696.2h0M56.4 693.3h0M126.7 698.9h0M96.6 696.4h0M110.9 701.8h0M94.3 677.2h0M53.6 698.2h0M110.5 694.4h0M125.5 732.6h0M125.6 711.6h0M48.5 688.3h0M112.6 703.8h0M101.6 668.8h0M123.5 729.2h0M65.2 665.6h0M118.9 712.2h0M88.8 676.4h0M103.3 707.2h0M112.2 713.0h0M95.7 656.3h0M118.3 708.6h0M116.3 690.2h0M112.1 721.5h0M106.8 681.8h0M120.9 697.4h0M63.9 674.5h0M97.9 677.7h0M100.9 681.4h0M102.3 699.5h0M107.0 680.8h0M50.7 691.9h0M119.7 749.7h0M107.7 719.8h0M104.0 705.2h0M62.4 681.6h0M59.0 689.4h0M100.4 676.0h0M56.8 672.2h0M119.8 698.0h0M59.9 668.0h0M130.6 697.7h0M120.4 754.8h0M126.9 716.4h0M91.7 705.9h0M91.1 714.9h0M64.4 691.1h0M63.5 699.9h0M116.3 699.3h0M124.5 704.4h0M92.6 678.2h0M121.2 722.1h0M43.3 684.9h0M99.6 696.5h0M52.2 703.2h0M55.4 676.0h0M118.7 702.9h0M114.7 735.0h0M126.8 728.9h0M54.2 695.6h0M123.2 695.8h0M118.0 734.1h0M55.9 696.8h0M65.6 686.6h0M58.9 680.4h0M124.0 744.1h0M123.9 699.1h0M59.9 684.0h0M61.8 683.6h0M115.5 716.4h0M113.8 702.2h0M60.5 676.9h0M48.0 690.0h0M63.7 669.0h0M99.8 711.5h0M62.8 688.5h0M102.7 701.3h0M88.9 714.6h0M57.2 680.3h0M125.5 707.8h0M59.3 692.0h0M112.6 726.1h0M51.3 693.2h0M55.9 690.5h0M120.6 706.1h0M131.0 699.2h0M55.6 696.9h0M114.5 721.3h0M49.0 693.3h0M112.2 712.0h0M52.3 698.3h0M88.7 709.5h0M135.2 707.7h0M61.9 689.0h0M123.7 753.4h0" fill="none" stroke="#f5a91f" stroke-width="2.5" stroke-linecap="round"/>
<path d="M127.8 704.9h0M110.9 719.2h0M110.8 687.8h0M127.1 700.6h0M61.2 705.0h0M98.0 703.0h0M105.5 714.7h0M102.6 703.9h0M104.1 722.6h0M115.2 695.4h0M66.6 720.2h0M57.0 704.9h0M56.5 699.6h0M119.0 749.9h0M63.1 706.2h0M126.0 713.1h0M120.0 704.1h0M63.4 712.3h0M135.4 711.0h0M107.0 707.2h0M120.8 754.6h0M58.2 701.0h0M64.5 723.1h0M122.0 718.1h0M107.8 715.7h0M123.0 746.0h0M68.9 703.1h0M100.3 722.5h0M120.1 729.7h0M36.6 691.4h0M64.6 709.5h0M68.3 701.3h0M56.8 699.8h0M104.7 717.0h0M123.6 751.1h0M109.0 679.3h0M109.7 680.3h0M106.2 679.0h0M110.8 716.7h0M115.7 695.3h0M67.5 718.6h0M127.0 721.6h0M59.1 707.8h0M124.7 716.8h0M127.0 713.2h0M91.7 717.4h0M127.7 726.5h0M113.8 702.8h0M132.1 712.5h0M57.5 684.4h0M66.0 719.1h0M126.6 730.5h0M100.9 719.7h0M47.4 676.6h0M121.6 751.6h0M126.3 752.7h0M131.5 694.5h0M125.1 754.9h0M41.0 694.6h0M113.8 731.0h0M106.0 713.7h0M105.7 731.6h0M116.6 725.9h0M112.8 721.2h0M131.9 721.7h0M131.9 716.4h0M48.8 696.6h0M127.4 693.6h0M120.7 748.3h0M86.7 677.0h0M90.7 686.4h0M71.4 706.0h0M124.9 724.0h0M125.3 749.2h0M62.7 718.6h0M66.1 713.7h0M113.0 709.1h0M68.2 721.9h0M100.3 704.0h0M123.3 715.3h0M52.9 691.7h0M108.7 686.0h0M132.7 712.4h0M66.1 721.3h0M64.2 715.3h0M111.1 673.3h0M107.9 734.7h0M66.5 723.2h0M117.3 697.1h0M102.2 675.3h0M64.7 713.9h0M126.6 745.9h0M135.8 703.8h0M60.0 700.9h0M111.9 718.2h0M101.1 723.1h0M59.9 707.2h0M128.4 707.1h0M101.3 722.2h0M89.9 675.3h0M60.1 691.5h0M123.7 726.0h0M112.3 698.3h0M127.4 701.6h0M121.1 726.8h0M66.6 723.1h0M106.6 680.4h0M122.4 730.0h0M100.4 689.5h0M65.9 708.4h0M134.4 721.5h0M117.8 701.3h0M61.5 681.7h0M98.0 679.8h0M127.1 703.9h0M106.8 674.3h0M101.7 717.9h0M123.7 731.2h0M111.7 708.4h0M109.7 673.1h0M128.8 710.5h0" fill="none" stroke="#e0173d" stroke-width="2.5" stroke-linecap="round"/>
<path d="M99.4 712.9h0M56.4 706.0h0M89.5 671.0h0M50.9 679.8h0M88.0 675.5h0M65.7 673.4h0M61.6 662.4h0M103.7 686.9h0M133.4 713.4h0M70.0 705.7h0M125.5 716.5h0M112.0 692.4h0M98.7 685.1h0M52.0 670.5h0M59.9 671.5h0M59.0 666.4h0M91.9 679.6h0M66.7 694.7h0M48.1 685.9h0M94.5 695.5h0M96.2 673.5h0M97.5 714.6h0M129.9 699.0h0M41.1 686.9h0M73.9 700.3h0M61.6 661.9h0M65.3 670.3h0M94.5 710.9h0M50.2 692.2h0M56.8 664.9h0M42.4 690.6h0M107.9 732.1h0M113.2 700.9h0M66.5 704.8h0M112.2 731.6h0M92.7 687.5h0M56.7 666.1h0M129.5 710.7h0M96.1 703.4h0M98.4 714.9h0M51.8 678.9h0M105.3 669.4h0M86.8 677.8h0M99.0 718.2h0M72.2 704.4h0M131.8 704.0h0M43.4 683.0h0M93.4 655.8h0M45.3 692.7h0M56.7 676.3h0M112.7 728.3h0M91.5 707.6h0M41.3 692.1h0M111.7 734.3h0M105.0 688.5h0M42.7 696.0h0M129.4 713.2h0M49.1 676.7h0M105.3 696.6h0M90.1 673.9h0M115.5 734.2h0M91.0 715.2h0M133.5 718.5h0M117.9 691.4h0M87.1 704.1h0M46.2 678.1h0M97.7 673.8h0M123.2 726.7h0M41.3 691.1h0M107.0 686.4h0M95.2 715.7h0M65.4 667.3h0M135.8 709.1h0M54.3 672.6h0M50.9 702.0h0M47.1 693.0h0M60.9 668.8h0M57.8 664.4h0M55.5 671.1h0M40.7 694.9h0M51.3 676.9h0M103.4 673.5h0M58.0 673.4h0M36.9 698.0h0M117.6 716.0h0M90.6 707.6h0M130.9 724.6h0M91.4 712.9h0M123.5 695.7h0M103.5 724.3h0M45.6 695.8h0M60.5 696.8h0M90.5 702.2h0M127.4 696.4h0M91.4 712.2h0M101.5 689.1h0M112.8 683.1h0M94.4 655.6h0M39.5 684.5h0M96.7 709.6h0M111.9 717.9h0M58.0 674.9h0M94.4 672.1h0M134.3 712.6h0M57.8 665.7h0M118.5 692.5h0M87.9 712.7h0M118.6 699.4h0M94.7 700.2h0M68.1 703.4h0M44.2 683.2h0M94.7 700.7h0M133.5 713.9h0M44.3 677.7h0M110.3 684.1h0M93.7 700.6h0M132.6 706.7h0M89.5 705.0h0M99.0 709.9h0M98.6 682.4h0M60.3 663.6h0M130.6 710.6h0M131.0 716.9h0M95.4 681.4h0M51.7 680.0h0" fill="none" stroke="#62bab2" stroke-width="2.5" stroke-linecap="round"/>
<path d="M112.9 700.8h0M123.0 706.7h0M127.6 722.2h0M102.6 712.5h0M94.1 712.9h0M109.0 705.6h0M127.7 718.1h0M116.3 698.4h0M63.8 696.1h0M118.4 692.4h0M123.5 707.7h0M101.8 703.7h0M63.3 667.8h0M117.4 718.9h0M125.2 753.5h0M57.8 687.9h0M63.6 699.5h0M108.5 710.6h0M111.5 693.8h0M59.5 678.7h0M124.1 707.6h0M58.3 701.8h0M55.0 681.4h0M110.2 686.8h0M106.5 696.6h0M112.4 700.6h0M64.0 688.8h0M115.6 733.4h0M48.4 689.4h0M52.7 687.1h0M101.9 722.3h0M116.2 704.4h0M59.4 693.3h0M111.1 705.7h0M116.4 710.0h0M113.5 710.3h0M62.9 697.8h0M47.6 698.6h0M130.4 693.9h0M120.4 694.5h0M42.1 684.8h0M115.4 709.6h0M110.4 693.7h0M100.0 678.3h0M46.4 684.3h0M54.2 684.8h0M52.1 688.9h0M97.4 689.0h0M118.0 711.2h0M99.9 712.3h0M115.5 714.2h0M65.8 682.0h0M108.9 736.0h0M57.7 695.6h0M106.1 689.9h0M106.4 687.0h0M123.5 750.7h0M125.4 698.0h0M112.8 709.6h0M60.3 691.5h0M56.0 693.6h0M66.6 695.1h0M105.5 698.8h0M62.8 672.1h0M56.0 680.7h0M59.6 689.3h0M125.4 705.1h0M121.4 708.1h0M107.1 702.7h0M53.9 678.1h0M49.8 691.9h0M114.1 706.2h0M88.1 702.1h0M38.8 688.1h0M109.9 695.1h0M110.0 699.6h0M115.2 704.3h0M41.4 696.8h0M99.2 695.3h0M106.3 682.9h0M125.7 692.9h0M111.3 691.1h0M43.1 680.8h0M103.6 729.9h0M113.9 726.4h0M107.9 709.9h0M94.9 703.1h0M103.5 716.3h0M120.5 701.5h0M38.6 696.9h0M102.8 693.6h0M105.3 696.1h0M65.2 679.0h0M51.8 696.4h0M60.7 690.4h0M124.6 710.8h0M51.7 685.7h0M112.9 695.7h0M63.0 686.5h0M101.6 704.4h0M97.6 666.8h0M123.7 744.7h0M62.0 677.5h0M104.7 728.0h0M64.7 685.2h0M119.4 729.3h0M95.1 661.0h0M116.5 704.1h0M111.0 685.8h0M116.5 700.2h0M109.5 729.3h0M124.7 712.9h0M101.2 706.4h0M36.5 690.6h0M59.4 690.2h0M59.9 681.8h0M102.3 710.9h0M61.3 696.4h0M120.6 701.2h0M89.9 676.3h0M120.7 717.2h0M56.0 691.2h0M93.9 697.9h0M51.1 699.4h0M57.0 670.5h0M89.2 669.0h0M106.0 702.9h0M103.9 699.0h0M115.8 724.5h0M49.4 688.5h0" fill="none" stroke="#f5a91f" stroke-width="2.5" stroke-linecap="round"/>
<path d="M133.5 699.4h0M114.7 729.6h0M63.2 714.8h0M111.0 729.0h0M124.8 728.3h0M110.5 706.6h0M104.0 719.1h0M93.7 723.9h0M106.1 702.6h0M111.5 717.4h0M99.9 720.5h0M66.7 717.0h0M122.1 729.8h0M120.3 704.0h0M134.8 703.0h0M67.8 722.2h0M132.5 702.5h0M65.1 711.0h0M95.6 658.9h0M125.7 746.3h0M134.2 715.2h0M117.0 723.7h0M123.9 695.5h0M103.9 726.7h0M103.3 727.6h0M91.3 699.2h0M66.3 699.7h0M123.0 710.9h0M126.7 750.4h0M56.6 701.4h0M60.1 700.1h0M121.7 721.3h0M110.8 729.2h0M110.8 680.2h0M119.6 700.6h0M115.7 720.9h0M99.2 702.9h0M109.1 721.5h0M112.3 729.9h0M123.7 751.2h0M127.1 700.3h0M123.0 727.8h0M105.2 672.0h0M66.2 713.7h0M63.4 717.4h0M53.1 680.8h0M123.5 722.1h0M67.4 706.6h0M69.5 707.5h0M108.2 669.8h0M63.7 720.5h0M129.7 699.3h0M98.5 720.8h0M67.7 708.1h0M124.7 702.9h0M66.0 716.7h0M126.0 716.7h0M120.2 704.7h0M123.2 720.8h0M114.2 729.9h0M87.9 672.5h0M100.5 707.1h0M58.3 668.9h0M119.9 753.0h0M131.7 711.4h0M134.8 707.2h0M111.0 723.3h0M134.2 697.6h0M127.4 728.0h0M102.1 727.6h0M66.6 706.0h0M62.8 701.5h0M90.0 708.7h0M116.9 707.9h0M63.9 708.0h0M88.5 702.7h0M63.6 716.9h0M47.8 680.0h0M68.3 722.3h0M64.0 706.2h0M113.9 726.3h0M99.8 680.4h0M107.6 699.5h0M65.5 699.9h0M64.1 713.2h0M125.8 714.0h0M51.1 693.5h0M62.6 702.6h0M107.0 669.8h0M119.4 714.7h0M114.7 727.6h0M72.6 704.5h0M134.4 705.3h0M67.6 719.5h0M99.4 709.6h0M99.3 723.0h0M101.4 724.6h0M110.0 679.3h0M51.9 693.2h0M50.2 686.6h0M108.7 724.5h0M65.4 709.1h0M92.4 678.9h0M114.2 683.5h0M126.4 737.7h0M101.2 668.8h0M57.2 707.8h0M122.9 719.8h0M131.0 706.2h0M110.2 713.5h0M44.2 685.1h0M105.4 683.6h0M64.1 717.8h0M105.1 717.9h0M127.2 752.8h0M123.0 756.0h0M105.9 679.7h0M62.9 704.8h0M95.9 721.0h0M72.4 703.0h0M107.6 672.5h0M98.7 690.7h0M65.3 708.5h0M135.1 701.4h0M120.7 726.1h0M38.4 691.2h0M121.7 732.6h0M109.0 721.1h0M124.4 747.6h0M67.8 702.9h0M116.1 717.2h0M97.3 712.8h0M123.8 701.6h0M86.8 709.5h0" fill="none" stroke="#e0173d" stroke-width="2.5" stroke-linecap="round"/>
<path d="M31 652V763.2H139.7" fill="none" stroke="#222" stroke-width="0.8"/>
<text x="27.3" y="708.4" font-size="7.7" text-anchor="middle" fill="#1a1a1a" stroke="#1a1a1a" stroke-width="0.17" transform="rotate(-90 27.3 708.4)" >UMAP2</text>
<text x="87.3" y="772.7" font-size="7.7" text-anchor="middle" fill="#1a1a1a" stroke="#1a1a1a" stroke-width="0.17" >UMAP1</text>
<rect x="177.8" y="633.5" width="14.7" height="36.92" fill="#e2574d" />
<rect x="177.8" y="670.42" width="14.7" height="36.33" fill="#86c9c1" />
<rect x="177.8" y="706.75" width="14.7" height="45.85" fill="#f9c24a" />
<rect x="194.5" y="633.5" width="14.7" height="23.82" fill="#e2574d" />
<rect x="194.5" y="657.32" width="14.7" height="53" fill="#86c9c1" />
<rect x="194.5" y="710.32" width="14.7" height="42.28" fill="#f9c24a" />
<text x="185.2" y="641.4" font-size="4.6" text-anchor="middle" fill="#fff" >31%</text>
<text x="201.9" y="641.4" font-size="4.6" text-anchor="middle" fill="#fff" >20%</text>
<text x="185.2" y="678.1" font-size="4.6" text-anchor="middle" fill="#fff" >31%</text>
<text x="201.9" y="678.1" font-size="4.6" text-anchor="middle" fill="#fff" >45%</text>
<text x="185.2" y="719.8" font-size="4.6" text-anchor="middle" fill="#fff" >38%</text>
<text x="201.9" y="719.8" font-size="4.6" text-anchor="middle" fill="#fff" >35%</text>
<text x="193.6" y="650.6" font-size="7" text-anchor="middle" fill="#1a1a1a" stroke="#1a1a1a" stroke-width="0.15" >***</text>
<line x1="186.6" y1="650.8" x2="200.6" y2="650.8" stroke="#222" stroke-width="0.7" />
<text x="193.6" y="688.3" font-size="7" text-anchor="middle" fill="#1a1a1a" stroke="#1a1a1a" stroke-width="0.15" >****</text>
<line x1="186.6" y1="688.5" x2="200.6" y2="688.5" stroke="#222" stroke-width="0.7" />
<text x="193.6" y="727.9" font-size="7.4" text-anchor="middle" fill="#1a1a1a" stroke="#1a1a1a" stroke-width="0.16" >ns</text>
<line x1="186.6" y1="729.2" x2="200.6" y2="729.2" stroke="#222" stroke-width="0.7" />
<path d="M175.3 633.4V753.8H211" fill="none" stroke="#222" stroke-width="0.8"/>
<line x1="173" y1="752.6" x2="175.3" y2="752.6" stroke="#222" stroke-width="0.6" />
<text x="172.4" y="754.8" font-size="6.4" text-anchor="end" fill="#1a1a1a" stroke="#1a1a1a" stroke-width="0.14" >0</text>
<line x1="173" y1="722.83" x2="175.3" y2="722.83" stroke="#222" stroke-width="0.6" />
<text x="172.4" y="725.03" font-size="6.4" text-anchor="end" fill="#1a1a1a" stroke="#1a1a1a" stroke-width="0.14" >0.25</text>
<line x1="173" y1="693.05" x2="175.3" y2="693.05" stroke="#222" stroke-width="0.6" />
<text x="172.4" y="695.25" font-size="6.4" text-anchor="end" fill="#1a1a1a" stroke="#1a1a1a" stroke-width="0.14" >0.50</text>
<line x1="173" y1="663.27" x2="175.3" y2="663.27" stroke="#222" stroke-width="0.6" />
<text x="172.4" y="665.48" font-size="6.4" text-anchor="end" fill="#1a1a1a" stroke="#1a1a1a" stroke-width="0.14" >0.75</text>
<line x1="173" y1="633.5" x2="175.3" y2="633.5" stroke="#222" stroke-width="0.6" />
<text x="172.4" y="635.7" font-size="6.4" text-anchor="end" fill="#1a1a1a" stroke="#1a1a1a" stroke-width="0.14" >1.00</text>
<line x1="185.2" y1="753.8" x2="185.2" y2="756.2" stroke="#222" stroke-width="0.6" />
<line x1="201.9" y1="753.8" x2="201.9" y2="756.2" stroke="#222" stroke-width="0.6" />
<text x="189.6" y="763.8" font-size="7.7" text-anchor="end" fill="#1a1a1a" stroke="#1a1a1a" stroke-width="0.17" font-style="italic" transform="rotate(-36 189.6 763.8)" >Col17a1<tspan font-size="55%" dy="-0.82em">hi</tspan></text>
<text x="208.2" y="763.5" font-size="7.7" text-anchor="end" fill="#1a1a1a" stroke="#1a1a1a" stroke-width="0.17" font-style="italic" transform="rotate(-36 208.2 763.5)" >Cux1<tspan font-size="55%" dy="-0.82em">hi</tspan></text>
<rect x="217.1" y="730.2" width="6" height="7.35" fill="#e2574d" />
<text x="225.1" y="737" font-size="7" text-anchor="start" fill="#1a1a1a" stroke="#1a1a1a" stroke-width="0.15" >G1</text>
<rect x="217.1" y="737.55" width="6" height="7.35" fill="#86c9c1" />
<text x="225.1" y="744.5" font-size="7" text-anchor="start" fill="#1a1a1a" stroke="#1a1a1a" stroke-width="0.15" >S</text>
<rect x="217.1" y="744.9" width="6" height="7.35" fill="#f9c24a" />
<text x="225.1" y="752" font-size="7" text-anchor="start" fill="#1a1a1a" stroke="#1a1a1a" stroke-width="0.15" >G2M</text>
</g>
<g id="panelK">
<text x="245.8" y="621.8" font-size="11.8" text-anchor="start" fill="#1a1a1a" stroke="#1a1a1a" stroke-width="0.26" >K</text>
<rect x="260.3" y="630.4" width="9.25" height="7.51" fill="#f4b8b4" stroke="#aeb4b8" stroke-width="0.5" />
<rect x="269.55" y="630.4" width="9.25" height="7.51" fill="#4a98d0" stroke="#aeb4b8" stroke-width="0.5" />
<text x="281.8" y="636.26" font-size="5.96" text-anchor="start" fill="#1a1a1a" stroke="#1a1a1a" stroke-width="0.13" ><tspan font-style="italic">Klf2_extended</tspan> (21 g)</text>
<rect x="260.3" y="637.91" width="9.25" height="7.51" fill="#f8dcd8" stroke="#aeb4b8" stroke-width="0.5" />
<rect x="269.55" y="637.91" width="9.25" height="7.51" fill="#5a9fd4" stroke="#aeb4b8" stroke-width="0.5" />
<text x="281.8" y="643.77" font-size="5.96" text-anchor="start" fill="#1a1a1a" stroke="#1a1a1a" stroke-width="0.13" ><tspan font-style="italic">Ovol1</tspan> (11 g)</text>
<rect x="260.3" y="645.42" width="9.25" height="7.51" fill="#e86060" stroke="#aeb4b8" stroke-width="0.5" />
<rect x="269.55" y="645.42" width="9.25" height="7.51" fill="#7ab0dc" stroke="#aeb4b8" stroke-width="0.5" />
<text x="281.8" y="651.28" font-size="5.96" text-anchor="start" fill="#1a1a1a" stroke="#1a1a1a" stroke-width="0.13" ><tspan font-style="italic">Klf6</tspan> (24 g)</text>
<rect x="260.3" y="652.94" width="9.25" height="7.51" fill="#ee8080" stroke="#aeb4b8" stroke-width="0.5" />
<rect x="269.55" y="652.94" width="9.25" height="7.51" fill="#7aaedc" stroke="#aeb4b8" stroke-width="0.5" />
<text x="281.8" y="658.79" font-size="5.96" text-anchor="start" fill="#1a1a1a" stroke="#1a1a1a" stroke-width="0.13" ><tspan font-style="italic">Myc</tspan> (31 g)</text>
<rect x="260.3" y="660.45" width="9.25" height="7.51" fill="#ea6c6c" stroke="#aeb4b8" stroke-width="0.5" />
<rect x="269.55" y="660.45" width="9.25" height="7.51" fill="#92bce0" stroke="#aeb4b8" stroke-width="0.5" />
<text x="281.8" y="666.3" font-size="5.96" text-anchor="start" fill="#1a1a1a" stroke="#1a1a1a" stroke-width="0.13" ><tspan font-style="italic">Fosb</tspan> (44 g)</text>
<rect x="260.3" y="667.96" width="9.25" height="7.51" fill="#ea6868" stroke="#aeb4b8" stroke-width="0.5" />
<rect x="269.55" y="667.96" width="9.25" height="7.51" fill="#92bce0" stroke="#aeb4b8" stroke-width="0.5" />
<text x="281.8" y="673.81" font-size="5.96" text-anchor="start" fill="#1a1a1a" stroke="#1a1a1a" stroke-width="0.13" ><tspan font-style="italic">Klf3</tspan> (113 g)</text>
<rect x="260.3" y="675.47" width="9.25" height="7.51" fill="#ea6c6c" stroke="#aeb4b8" stroke-width="0.5" />
<rect x="269.55" y="675.47" width="9.25" height="7.51" fill="#92bce0" stroke="#aeb4b8" stroke-width="0.5" />
<text x="281.8" y="681.33" font-size="5.96" text-anchor="start" fill="#1a1a1a" stroke="#1a1a1a" stroke-width="0.13" ><tspan font-style="italic">Klf6_extended</tspan> (31 g)</text>
<rect x="260.3" y="682.98" width="9.25" height="7.51" fill="#ec7474" stroke="#aeb4b8" stroke-width="0.5" />
<rect x="269.55" y="682.98" width="9.25" height="7.51" fill="#92bce0" stroke="#aeb4b8" stroke-width="0.5" />
<text x="281.8" y="688.84" font-size="5.96" text-anchor="start" fill="#1a1a1a" stroke="#1a1a1a" stroke-width="0.13" ><tspan font-style="italic">Klf4</tspan> (101 g)</text>
<rect x="260.3" y="690.49" width="9.25" height="7.51" fill="#ec7070" stroke="#aeb4b8" stroke-width="0.5" />
<rect x="269.55" y="690.49" width="9.25" height="7.51" fill="#8ab8e0" stroke="#aeb4b8" stroke-width="0.5" />
<text x="281.8" y="696.35" font-size="5.96" text-anchor="start" fill="#1a1a1a" stroke="#1a1a1a" stroke-width="0.13" ><tspan font-style="italic">Mef2a</tspan> (124 g)</text>
<rect x="260.3" y="698.01" width="9.25" height="7.51" fill="#b8d4ea" stroke="#aeb4b8" stroke-width="0.5" />
<rect x="269.55" y="698.01" width="9.25" height="7.51" fill="#e85a5a" stroke="#aeb4b8" stroke-width="0.5" />
<text x="281.8" y="703.86" font-size="5.96" text-anchor="start" fill="#1a1a1a" stroke="#1a1a1a" stroke-width="0.13" ><tspan font-style="italic">Sox4</tspan> (58 g)</text>
<rect x="260.3" y="705.52" width="9.25" height="7.51" fill="#c0d8ec" stroke="#aeb4b8" stroke-width="0.5" />
<rect x="269.55" y="705.52" width="9.25" height="7.51" fill="#e44848" stroke="#aeb4b8" stroke-width="0.5" />
<text x="281.8" y="711.37" font-size="5.96" text-anchor="start" fill="#1a1a1a" stroke="#1a1a1a" stroke-width="0.13" ><tspan font-style="italic">Lef1</tspan> (66 g)</text>
<rect x="260.3" y="713.03" width="9.25" height="7.51" fill="#7ab0dc" stroke="#aeb4b8" stroke-width="0.5" />
<rect x="269.55" y="713.03" width="9.25" height="7.51" fill="#f0a0a0" stroke="#aeb4b8" stroke-width="0.5" />
<text x="281.8" y="718.89" font-size="5.96" text-anchor="start" fill="#1a1a1a" stroke="#1a1a1a" stroke-width="0.13" ><tspan font-style="italic">Dlx2</tspan> (24 g)</text>
<rect x="260.3" y="720.54" width="9.25" height="7.51" fill="#62a4d6" stroke="#aeb4b8" stroke-width="0.5" />
<rect x="269.55" y="720.54" width="9.25" height="7.51" fill="#f4c4c0" stroke="#aeb4b8" stroke-width="0.5" />
<text x="281.8" y="726.4" font-size="5.96" text-anchor="start" fill="#1a1a1a" stroke="#1a1a1a" stroke-width="0.13" ><tspan font-style="italic">Msx2_extended</tspan> (27 g)</text>
<rect x="260.3" y="728.05" width="9.25" height="7.51" fill="#4094d0" stroke="#aeb4b8" stroke-width="0.5" />
<rect x="269.55" y="728.05" width="9.25" height="7.51" fill="#f0a0a0" stroke="#aeb4b8" stroke-width="0.5" />
<text x="281.8" y="733.91" font-size="5.96" text-anchor="start" fill="#1a1a1a" stroke="#1a1a1a" stroke-width="0.13" ><tspan font-style="italic">Gli1</tspan> (23 g)</text>
<rect x="260.3" y="735.56" width="9.25" height="7.51" fill="#4a98d0" stroke="#aeb4b8" stroke-width="0.5" />
<rect x="269.55" y="735.56" width="9.25" height="7.51" fill="#d81818" stroke="#aeb4b8" stroke-width="0.5" />
<text x="281.8" y="741.42" font-size="5.96" text-anchor="start" fill="#1a1a1a" stroke="#1a1a1a" stroke-width="0.13" ><tspan font-style="italic">Dlx3_extended</tspan> (40 g)</text>
<rect x="260.3" y="743.08" width="9.25" height="7.51" fill="#3088c8" stroke="#aeb4b8" stroke-width="0.5" />
<rect x="269.55" y="743.08" width="9.25" height="7.51" fill="#e44444" stroke="#aeb4b8" stroke-width="0.5" />
<text x="281.8" y="748.93" font-size="5.96" text-anchor="start" fill="#1a1a1a" stroke="#1a1a1a" stroke-width="0.13" ><tspan font-style="italic">Dlx3</tspan> (11 g)</text>
<rect x="260.3" y="750.59" width="9.25" height="7.51" fill="#7ab0dc" stroke="#aeb4b8" stroke-width="0.5" />
<rect x="269.55" y="750.59" width="9.25" height="7.51" fill="#ee8888" stroke="#aeb4b8" stroke-width="0.5" />
<text x="281.8" y="756.44" font-size="5.96" text-anchor="start" fill="#1a1a1a" stroke="#1a1a1a" stroke-width="0.13" ><tspan font-style="italic">Cux1_extended</tspan> (364 g)</text>
<defs><linearGradient id="gK" x1="0" y1="0" x2="0" y2="1"><stop offset="0" stop-color="#d7191c"/><stop offset="0.3" stop-color="#f0908a"/><stop offset="0.6" stop-color="#f7f4f4"/><stop offset="0.8" stop-color="#8abce0"/><stop offset="1" stop-color="#2b83c6"/></linearGradient>
<linearGradient id="gK2" x1="0" y1="0" x2="0" y2="1"><stop offset="0" stop-color="#e31a1c"/><stop offset="0.5" stop-color="#f08a6c"/><stop offset="1" stop-color="#d9d9d9"/></linearGradient></defs>
<rect x="351.4" y="710.5" width="3.7" height="47.6" fill="url(#gK)" />
<text x="357" y="716.4" font-size="5" text-anchor="start" fill="#1a1a1a" stroke="#1a1a1a" stroke-width="0.11" >1.5</text>
<text x="357" y="724.5" font-size="5" text-anchor="start" fill="#1a1a1a" stroke="#1a1a1a" stroke-width="0.11" >1.0</text>
<text x="357" y="733.1" font-size="5" text-anchor="start" fill="#1a1a1a" stroke="#1a1a1a" stroke-width="0.11" >0.5</text>
<text x="357" y="741.1" font-size="5" text-anchor="start" fill="#1a1a1a" stroke="#1a1a1a" stroke-width="0.11" >0</text>
<text x="357" y="749.4" font-size="5" text-anchor="start" fill="#1a1a1a" stroke="#1a1a1a" stroke-width="0.11" >−0.5</text>
<text x="357" y="758" font-size="5" text-anchor="start" fill="#1a1a1a" stroke="#1a1a1a" stroke-width="0.11" >−1.0</text>
<text x="263.3" y="766.2" font-size="7.5" text-anchor="end" fill="#1a1a1a" stroke="#1a1a1a" stroke-width="0.16" font-style="italic" transform="rotate(-35 263.3 766.2)" >Col17a1<tspan font-size="55%" dy="-0.82em">hi</tspan></text>
<text x="282.2" y="766.2" font-size="7.5" text-anchor="end" fill="#1a1a1a" stroke="#1a1a1a" stroke-width="0.16" font-style="italic" transform="rotate(-35 282.2 766.2)" >Cux1<tspan font-size="55%" dy="-0.82em">hi</tspan></text>
<path d="M408.6 627V752.3H577.1" fill="none" stroke="#222" stroke-width="0.8"/>
<line x1="424.5" y1="752.3" x2="424.5" y2="754.6" stroke="#222" stroke-width="0.6" />
<text x="424.5" y="764" font-size="7.4" text-anchor="middle" fill="#1a1a1a" stroke="#1a1a1a" stroke-width="0.16" font-style="italic" >Klf2</text>
<line x1="451.8" y1="752.3" x2="451.8" y2="754.6" stroke="#222" stroke-width="0.6" />
<text x="451.8" y="764" font-size="7.4" text-anchor="middle" fill="#1a1a1a" stroke="#1a1a1a" stroke-width="0.16" font-style="italic" >Klf6</text>
<line x1="479" y1="752.3" x2="479" y2="754.6" stroke="#222" stroke-width="0.6" />
<text x="479" y="764" font-size="7.4" text-anchor="middle" fill="#1a1a1a" stroke="#1a1a1a" stroke-width="0.16" font-style="italic" >Klf4</text>
<line x1="505.9" y1="752.3" x2="505.9" y2="754.6" stroke="#222" stroke-width="0.6" />
<text x="505.9" y="764" font-size="7.4" text-anchor="middle" fill="#1a1a1a" stroke="#1a1a1a" stroke-width="0.16" font-style="italic" >Cux1</text>
<line x1="533.1" y1="752.3" x2="533.1" y2="754.6" stroke="#222" stroke-width="0.6" />
<text x="533.1" y="764" font-size="7.4" text-anchor="middle" fill="#1a1a1a" stroke="#1a1a1a" stroke-width="0.16" font-style="italic" >Dlx3</text>
<line x1="560.4" y1="752.3" x2="560.4" y2="754.6" stroke="#222" stroke-width="0.6" />
<text x="560.4" y="764" font-size="7.4" text-anchor="middle" fill="#1a1a1a" stroke="#1a1a1a" stroke-width="0.16" font-style="italic" >Lef1</text>
<line x1="405.6" y1="660.8" x2="408.6" y2="660.8" stroke="#222" stroke-width="0.6" />
<text x="405.2" y="663.8" font-size="7.9" text-anchor="end" fill="#1a1a1a" stroke="#1a1a1a" stroke-width="0.17" font-style="italic" >Cux1<tspan font-size="55%" dy="-0.82em">hi</tspan></text>
<line x1="405.6" y1="717.6" x2="408.6" y2="717.6" stroke="#222" stroke-width="0.6" />
<text x="405.2" y="720.6" font-size="7.9" text-anchor="end" fill="#1a1a1a" stroke="#1a1a1a" stroke-width="0.17" font-style="italic" >Col17a1<tspan font-size="55%" dy="-0.82em">hi</tspan></text>
<circle cx="424.5" cy="660.8" r="0.5" fill="#d9d9d9" />
<circle cx="451.8" cy="660.8" r="2" fill="#d9d9d9" />
<circle cx="479" cy="660.8" r="1.8" fill="#d9d9d9" />
<circle cx="505.9" cy="660.8" r="3.3" fill="#e01a1c" />
<circle cx="533.1" cy="660.8" r="2" fill="#e01a1c" />
<circle cx="560.4" cy="660.8" r="1.9" fill="#e01a1c" />
<circle cx="424.5" cy="717.6" r="1.2" fill="#e01a1c" />
<circle cx="451.8" cy="717.6" r="4.4" fill="#e01a1c" />
<circle cx="479" cy="717.6" r="4" fill="#e01a1c" />
<circle cx="505.9" cy="717.6" r="2" fill="#d9d9d9" />
<circle cx="533.1" cy="717.6" r="0.6" fill="#d9d9d9" />
<circle cx="560.4" cy="717.6" r="0.5" fill="#d9d9d9" />
<text x="587.6" y="656.9" font-size="5.96" text-anchor="start" fill="#1a1a1a" stroke="#1a1a1a" stroke-width="0.13" >Average expression</text>
<rect x="587.6" y="660.8" width="8.2" height="38.9" fill="url(#gK2)" />
<text x="599.3" y="672.9" font-size="5.6" text-anchor="start" fill="#1a1a1a" stroke="#1a1a1a" stroke-width="0.12" >0.4</text>
<text x="599.3" y="684.2" font-size="5.6" text-anchor="start" fill="#1a1a1a" stroke="#1a1a1a" stroke-width="0.12" >0</text>
<text x="599.3" y="695.5" font-size="5.6" text-anchor="start" fill="#1a1a1a" stroke="#1a1a1a" stroke-width="0.12" >−0.4</text>
<text x="587.6" y="715.3" font-size="5.96" text-anchor="start" fill="#1a1a1a" stroke="#1a1a1a" stroke-width="0.13" >Cell (%)</text>
<circle cx="591.5" cy="723.5" r="1.2" fill="#0a0a0a" />
<text x="599.3" y="725.5" font-size="5.6" text-anchor="start" fill="#1a1a1a" stroke="#1a1a1a" stroke-width="0.12" >20</text>
<circle cx="591.5" cy="731.3" r="2" fill="#0a0a0a" />
<text x="599.3" y="733.3" font-size="5.6" text-anchor="start" fill="#1a1a1a" stroke="#1a1a1a" stroke-width="0.12" >40</text>
<circle cx="591.5" cy="739.8" r="2.9" fill="#0a0a0a" />
<text x="599.3" y="741.8" font-size="5.6" text-anchor="start" fill="#1a1a1a" stroke="#1a1a1a" stroke-width="0.12" >60</text>
<circle cx="591.5" cy="748" r="3.6" fill="#0a0a0a" />
<text x="599.3" y="750" font-size="5.6" text-anchor="start" fill="#1a1a1a" stroke="#1a1a1a" stroke-width="0.12" >80</text>
</g>
</svg>
</body></html>
